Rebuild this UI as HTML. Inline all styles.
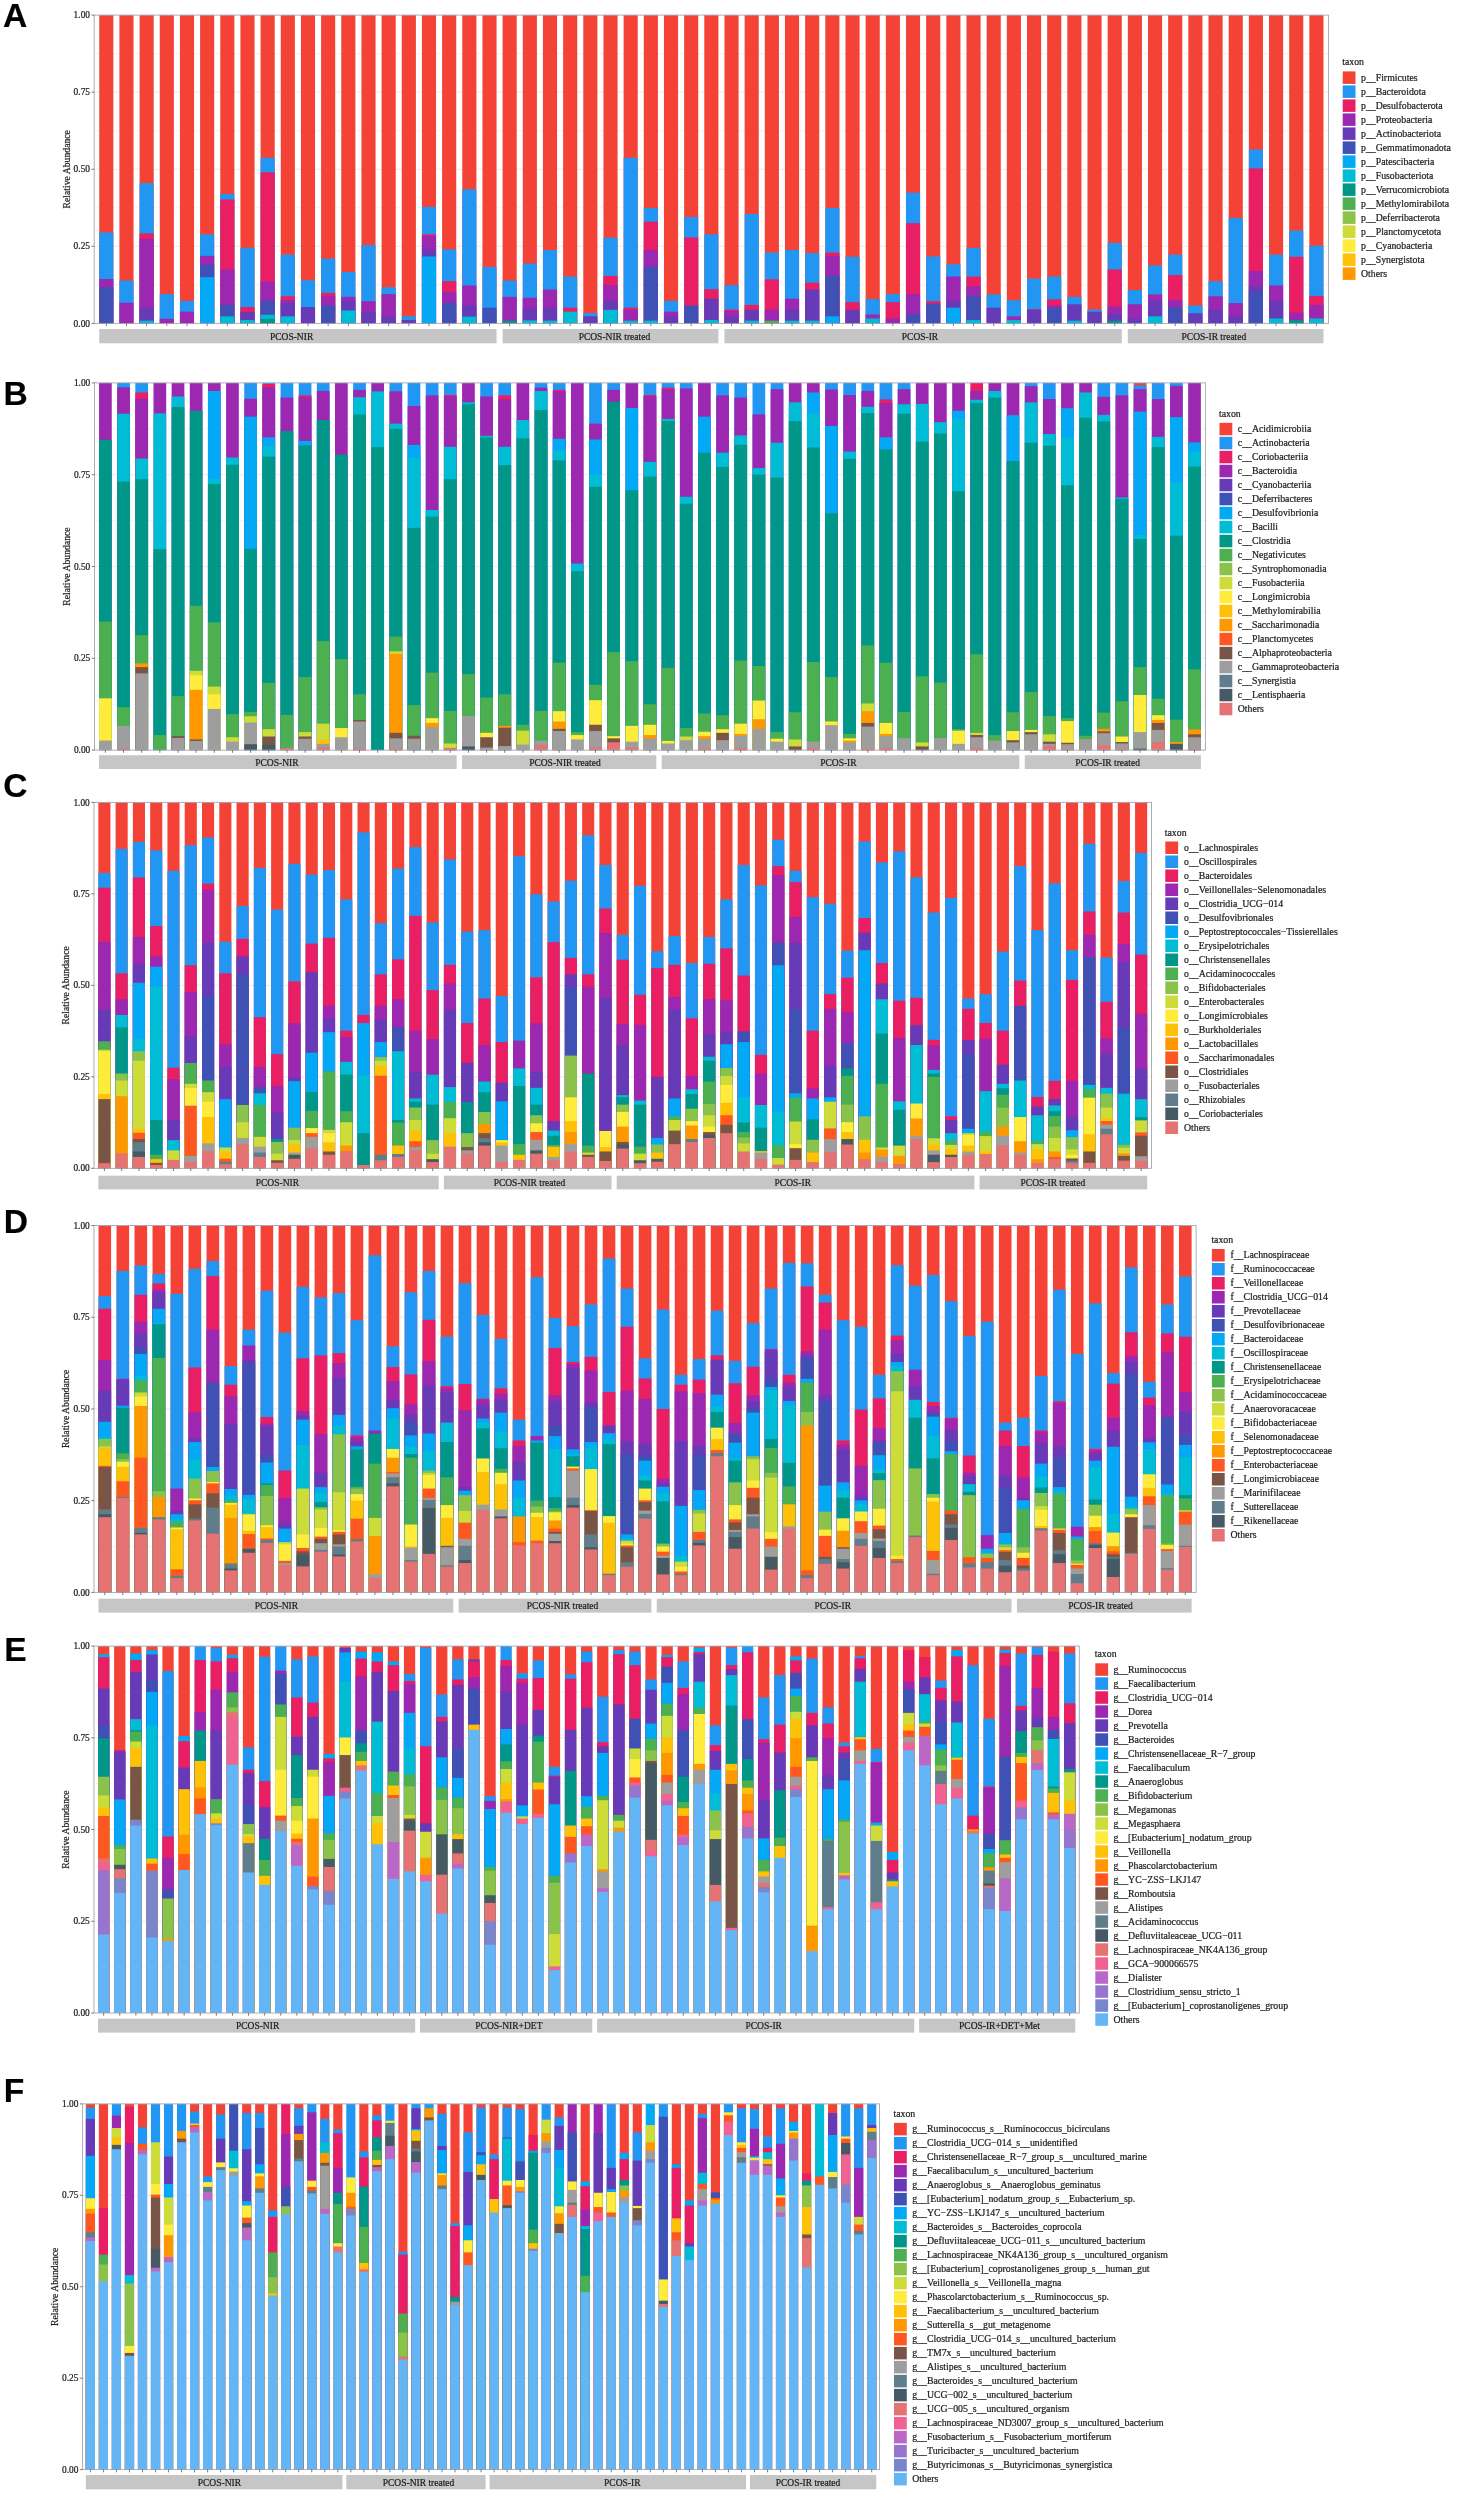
<!DOCTYPE html>
<html><head><meta charset="utf-8"><title>Relative abundance</title>
<style>
html,body{margin:0;padding:0;background:#fff;}
body{width:1461px;height:2500px;overflow:hidden;}
svg{display:block;font-family:"Liberation Serif", serif;will-change:transform;}
text{stroke:#1e1e1e;stroke-width:0.22px;}
</style></head>
<body>
<svg width="1461" height="2500" viewBox="0 0 1461 2500">
<rect x="0" y="0" width="1461" height="2500" fill="#fff"/>
<line x1="94.2" y1="284.86" x2="1328.5" y2="284.86" stroke="#e6e6e6" stroke-width="0.5"/>
<line x1="94.2" y1="246.32" x2="1328.5" y2="246.32" stroke="#e6e6e6" stroke-width="0.8"/>
<line x1="94.2" y1="207.79" x2="1328.5" y2="207.79" stroke="#e6e6e6" stroke-width="0.5"/>
<line x1="94.2" y1="169.25" x2="1328.5" y2="169.25" stroke="#e6e6e6" stroke-width="0.8"/>
<line x1="94.2" y1="130.71" x2="1328.5" y2="130.71" stroke="#e6e6e6" stroke-width="0.5"/>
<line x1="94.2" y1="92.18" x2="1328.5" y2="92.18" stroke="#e6e6e6" stroke-width="0.8"/>
<line x1="94.2" y1="53.64" x2="1328.5" y2="53.64" stroke="#e6e6e6" stroke-width="0.5"/>
<rect x="99.24" y="15.1" width="14.12" height="308.3" fill="#F44336"/>
<rect x="99.24" y="232.45" width="14.12" height="90.95" fill="#2196F3"/>
<rect x="99.24" y="279" width="14.12" height="44.4" fill="#9C27B0"/>
<rect x="99.24" y="287.33" width="14.12" height="36.07" fill="#3F51B5"/>
<rect x="119.41" y="15.1" width="14.12" height="308.3" fill="#F44336"/>
<rect x="119.41" y="280.55" width="14.12" height="42.85" fill="#2196F3"/>
<rect x="119.41" y="302.74" width="14.12" height="20.66" fill="#9C27B0"/>
<rect x="139.58" y="15.1" width="14.12" height="308.3" fill="#F44336"/>
<rect x="139.58" y="183.12" width="14.12" height="140.28" fill="#2196F3"/>
<rect x="139.58" y="233.38" width="14.12" height="90.02" fill="#E91E63"/>
<rect x="139.58" y="238.93" width="14.12" height="84.47" fill="#9C27B0"/>
<rect x="139.58" y="307.98" width="14.12" height="15.42" fill="#673AB7"/>
<rect x="139.58" y="320.63" width="14.12" height="2.77" fill="#00BCD4"/>
<rect x="159.75" y="15.1" width="14.12" height="308.3" fill="#F44336"/>
<rect x="159.75" y="294.11" width="14.12" height="29.29" fill="#2196F3"/>
<rect x="159.75" y="318.78" width="14.12" height="4.62" fill="#9C27B0"/>
<rect x="179.92" y="15.1" width="14.12" height="308.3" fill="#F44336"/>
<rect x="179.92" y="300.89" width="14.12" height="22.51" fill="#2196F3"/>
<rect x="179.92" y="311.68" width="14.12" height="11.72" fill="#9C27B0"/>
<rect x="200.08" y="15.1" width="14.12" height="308.3" fill="#F44336"/>
<rect x="200.08" y="234.3" width="14.12" height="89.1" fill="#2196F3"/>
<rect x="200.08" y="255.88" width="14.12" height="67.52" fill="#9C27B0"/>
<rect x="200.08" y="264.82" width="14.12" height="58.58" fill="#3F51B5"/>
<rect x="200.08" y="277.15" width="14.12" height="46.25" fill="#03A9F4"/>
<rect x="220.25" y="15.1" width="14.12" height="308.3" fill="#F44336"/>
<rect x="220.25" y="193.91" width="14.12" height="129.49" fill="#2196F3"/>
<rect x="220.25" y="199.46" width="14.12" height="123.94" fill="#E91E63"/>
<rect x="220.25" y="269.45" width="14.12" height="53.95" fill="#9C27B0"/>
<rect x="220.25" y="304.9" width="14.12" height="18.5" fill="#3F51B5"/>
<rect x="220.25" y="316.31" width="14.12" height="7.09" fill="#00BCD4"/>
<rect x="240.42" y="15.1" width="14.12" height="308.3" fill="#F44336"/>
<rect x="240.42" y="247.87" width="14.12" height="75.53" fill="#2196F3"/>
<rect x="240.42" y="307.06" width="14.12" height="16.34" fill="#E91E63"/>
<rect x="240.42" y="311.99" width="14.12" height="11.41" fill="#673AB7"/>
<rect x="240.42" y="320.01" width="14.12" height="3.39" fill="#00BCD4"/>
<rect x="260.59" y="15.1" width="14.12" height="308.3" fill="#F44336"/>
<rect x="260.59" y="157.84" width="14.12" height="165.56" fill="#2196F3"/>
<rect x="260.59" y="172.33" width="14.12" height="151.07" fill="#E91E63"/>
<rect x="260.59" y="281.78" width="14.12" height="41.62" fill="#9C27B0"/>
<rect x="260.59" y="300.89" width="14.12" height="22.51" fill="#3F51B5"/>
<rect x="260.59" y="314.77" width="14.12" height="8.63" fill="#00BCD4"/>
<rect x="260.59" y="318.78" width="14.12" height="4.62" fill="#009688"/>
<rect x="280.76" y="15.1" width="14.12" height="308.3" fill="#F44336"/>
<rect x="280.76" y="254.65" width="14.12" height="68.75" fill="#2196F3"/>
<rect x="280.76" y="296.27" width="14.12" height="27.13" fill="#E91E63"/>
<rect x="280.76" y="300.28" width="14.12" height="23.12" fill="#9C27B0"/>
<rect x="280.76" y="302.74" width="14.12" height="20.66" fill="#673AB7"/>
<rect x="280.76" y="316.31" width="14.12" height="7.09" fill="#00BCD4"/>
<rect x="300.93" y="15.1" width="14.12" height="308.3" fill="#F44336"/>
<rect x="300.93" y="280.24" width="14.12" height="43.16" fill="#2196F3"/>
<rect x="300.93" y="307.06" width="14.12" height="16.34" fill="#673AB7"/>
<rect x="321.09" y="15.1" width="14.12" height="308.3" fill="#F44336"/>
<rect x="321.09" y="258.66" width="14.12" height="64.74" fill="#2196F3"/>
<rect x="321.09" y="292.88" width="14.12" height="30.52" fill="#E91E63"/>
<rect x="321.09" y="296.27" width="14.12" height="27.13" fill="#9C27B0"/>
<rect x="321.09" y="305.52" width="14.12" height="17.88" fill="#3F51B5"/>
<rect x="341.26" y="15.1" width="14.12" height="308.3" fill="#F44336"/>
<rect x="341.26" y="271.91" width="14.12" height="51.49" fill="#2196F3"/>
<rect x="341.26" y="296.89" width="14.12" height="26.51" fill="#9C27B0"/>
<rect x="341.26" y="300.89" width="14.12" height="22.51" fill="#673AB7"/>
<rect x="341.26" y="310.45" width="14.12" height="12.95" fill="#00BCD4"/>
<rect x="361.43" y="15.1" width="14.12" height="308.3" fill="#F44336"/>
<rect x="361.43" y="245.09" width="14.12" height="78.31" fill="#2196F3"/>
<rect x="361.43" y="301.2" width="14.12" height="22.2" fill="#9C27B0"/>
<rect x="361.43" y="311.99" width="14.12" height="11.41" fill="#673AB7"/>
<rect x="381.6" y="15.1" width="14.12" height="308.3" fill="#F44336"/>
<rect x="381.6" y="287.33" width="14.12" height="36.07" fill="#2196F3"/>
<rect x="381.6" y="294.11" width="14.12" height="29.29" fill="#9C27B0"/>
<rect x="381.6" y="316.62" width="14.12" height="6.78" fill="#673AB7"/>
<rect x="401.77" y="15.1" width="14.12" height="308.3" fill="#F44336"/>
<rect x="401.77" y="316.31" width="14.12" height="7.09" fill="#2196F3"/>
<rect x="401.77" y="320.01" width="14.12" height="3.39" fill="#673AB7"/>
<rect x="421.93" y="15.1" width="14.12" height="308.3" fill="#F44336"/>
<rect x="421.93" y="206.86" width="14.12" height="116.54" fill="#2196F3"/>
<rect x="421.93" y="234.3" width="14.12" height="89.1" fill="#E91E63"/>
<rect x="421.93" y="235.84" width="14.12" height="87.56" fill="#9C27B0"/>
<rect x="421.93" y="249.41" width="14.12" height="73.99" fill="#673AB7"/>
<rect x="421.93" y="256.5" width="14.12" height="66.9" fill="#03A9F4"/>
<rect x="442.1" y="15.1" width="14.12" height="308.3" fill="#F44336"/>
<rect x="442.1" y="249.41" width="14.12" height="73.99" fill="#2196F3"/>
<rect x="442.1" y="281.16" width="14.12" height="42.24" fill="#E91E63"/>
<rect x="442.1" y="291.95" width="14.12" height="31.45" fill="#9C27B0"/>
<rect x="442.1" y="303.05" width="14.12" height="20.35" fill="#3F51B5"/>
<rect x="462.27" y="15.1" width="14.12" height="308.3" fill="#F44336"/>
<rect x="462.27" y="189.29" width="14.12" height="134.11" fill="#2196F3"/>
<rect x="462.27" y="285.48" width="14.12" height="37.92" fill="#9C27B0"/>
<rect x="462.27" y="305.52" width="14.12" height="17.88" fill="#673AB7"/>
<rect x="462.27" y="316.62" width="14.12" height="6.78" fill="#00BCD4"/>
<rect x="482.44" y="15.1" width="14.12" height="308.3" fill="#F44336"/>
<rect x="482.44" y="266.98" width="14.12" height="56.42" fill="#2196F3"/>
<rect x="482.44" y="307.68" width="14.12" height="15.72" fill="#3F51B5"/>
<rect x="502.61" y="15.1" width="14.12" height="308.3" fill="#F44336"/>
<rect x="502.61" y="280.55" width="14.12" height="42.85" fill="#2196F3"/>
<rect x="502.61" y="296.89" width="14.12" height="26.51" fill="#9C27B0"/>
<rect x="502.61" y="320.63" width="14.12" height="2.77" fill="#009688"/>
<rect x="522.78" y="15.1" width="14.12" height="308.3" fill="#F44336"/>
<rect x="522.78" y="263.59" width="14.12" height="59.81" fill="#2196F3"/>
<rect x="522.78" y="297.81" width="14.12" height="25.59" fill="#9C27B0"/>
<rect x="522.78" y="308.6" width="14.12" height="14.8" fill="#673AB7"/>
<rect x="522.78" y="320.32" width="14.12" height="3.08" fill="#00BCD4"/>
<rect x="542.94" y="15.1" width="14.12" height="308.3" fill="#F44336"/>
<rect x="542.94" y="250.02" width="14.12" height="73.38" fill="#2196F3"/>
<rect x="542.94" y="289.49" width="14.12" height="33.91" fill="#9C27B0"/>
<rect x="542.94" y="307.68" width="14.12" height="15.72" fill="#673AB7"/>
<rect x="542.94" y="320.63" width="14.12" height="2.77" fill="#00BCD4"/>
<rect x="563.11" y="15.1" width="14.12" height="308.3" fill="#F44336"/>
<rect x="563.11" y="276.54" width="14.12" height="46.86" fill="#2196F3"/>
<rect x="563.11" y="307.68" width="14.12" height="15.72" fill="#E91E63"/>
<rect x="563.11" y="311.68" width="14.12" height="11.72" fill="#00BCD4"/>
<rect x="583.28" y="15.1" width="14.12" height="308.3" fill="#F44336"/>
<rect x="583.28" y="313.23" width="14.12" height="10.17" fill="#2196F3"/>
<rect x="583.28" y="316.31" width="14.12" height="7.09" fill="#673AB7"/>
<rect x="603.45" y="15.1" width="14.12" height="308.3" fill="#F44336"/>
<rect x="603.45" y="237.69" width="14.12" height="85.71" fill="#2196F3"/>
<rect x="603.45" y="275.92" width="14.12" height="47.48" fill="#E91E63"/>
<rect x="603.45" y="285.17" width="14.12" height="38.23" fill="#9C27B0"/>
<rect x="603.45" y="300.89" width="14.12" height="22.51" fill="#673AB7"/>
<rect x="603.45" y="309.83" width="14.12" height="13.57" fill="#00BCD4"/>
<rect x="623.62" y="15.1" width="14.12" height="308.3" fill="#F44336"/>
<rect x="623.62" y="157.84" width="14.12" height="165.56" fill="#2196F3"/>
<rect x="623.62" y="307.68" width="14.12" height="15.72" fill="#E91E63"/>
<rect x="623.62" y="309.83" width="14.12" height="13.57" fill="#9C27B0"/>
<rect x="623.62" y="320.63" width="14.12" height="2.77" fill="#00BCD4"/>
<rect x="643.79" y="15.1" width="14.12" height="308.3" fill="#F44336"/>
<rect x="643.79" y="208.1" width="14.12" height="115.3" fill="#2196F3"/>
<rect x="643.79" y="221.66" width="14.12" height="101.74" fill="#E91E63"/>
<rect x="643.79" y="250.02" width="14.12" height="73.38" fill="#9C27B0"/>
<rect x="643.79" y="266.98" width="14.12" height="56.42" fill="#3F51B5"/>
<rect x="643.79" y="320.63" width="14.12" height="2.77" fill="#00BCD4"/>
<rect x="663.95" y="15.1" width="14.12" height="308.3" fill="#F44336"/>
<rect x="663.95" y="300.89" width="14.12" height="22.51" fill="#2196F3"/>
<rect x="663.95" y="311.68" width="14.12" height="11.72" fill="#9C27B0"/>
<rect x="663.95" y="316.62" width="14.12" height="6.78" fill="#673AB7"/>
<rect x="684.12" y="15.1" width="14.12" height="308.3" fill="#F44336"/>
<rect x="684.12" y="217.04" width="14.12" height="106.36" fill="#2196F3"/>
<rect x="684.12" y="237.38" width="14.12" height="86.02" fill="#E91E63"/>
<rect x="684.12" y="305.52" width="14.12" height="17.88" fill="#3F51B5"/>
<rect x="704.29" y="15.1" width="14.12" height="308.3" fill="#F44336"/>
<rect x="704.29" y="234.3" width="14.12" height="89.1" fill="#2196F3"/>
<rect x="704.29" y="289.18" width="14.12" height="34.22" fill="#E91E63"/>
<rect x="704.29" y="298.74" width="14.12" height="24.66" fill="#673AB7"/>
<rect x="704.29" y="320.01" width="14.12" height="3.39" fill="#00BCD4"/>
<rect x="724.46" y="15.1" width="14.12" height="308.3" fill="#F44336"/>
<rect x="724.46" y="285.17" width="14.12" height="38.23" fill="#2196F3"/>
<rect x="724.46" y="309.53" width="14.12" height="13.87" fill="#E91E63"/>
<rect x="724.46" y="311.07" width="14.12" height="12.33" fill="#9C27B0"/>
<rect x="724.46" y="316.62" width="14.12" height="6.78" fill="#673AB7"/>
<rect x="744.63" y="15.1" width="14.12" height="308.3" fill="#F44336"/>
<rect x="744.63" y="213.95" width="14.12" height="109.45" fill="#2196F3"/>
<rect x="744.63" y="304.9" width="14.12" height="18.5" fill="#E91E63"/>
<rect x="744.63" y="309.83" width="14.12" height="13.57" fill="#673AB7"/>
<rect x="744.63" y="320.63" width="14.12" height="2.77" fill="#00BCD4"/>
<rect x="764.8" y="15.1" width="14.12" height="308.3" fill="#F44336"/>
<rect x="764.8" y="252.49" width="14.12" height="70.91" fill="#2196F3"/>
<rect x="764.8" y="279.31" width="14.12" height="44.09" fill="#E91E63"/>
<rect x="764.8" y="309.53" width="14.12" height="13.87" fill="#9C27B0"/>
<rect x="764.8" y="320.63" width="14.12" height="2.77" fill="#4CAF50"/>
<rect x="784.96" y="15.1" width="14.12" height="308.3" fill="#F44336"/>
<rect x="784.96" y="250.02" width="14.12" height="73.38" fill="#2196F3"/>
<rect x="784.96" y="298.74" width="14.12" height="24.66" fill="#9C27B0"/>
<rect x="784.96" y="309.53" width="14.12" height="13.87" fill="#673AB7"/>
<rect x="784.96" y="320.63" width="14.12" height="2.77" fill="#00BCD4"/>
<rect x="805.13" y="15.1" width="14.12" height="308.3" fill="#F44336"/>
<rect x="805.13" y="253.11" width="14.12" height="70.29" fill="#2196F3"/>
<rect x="805.13" y="282.7" width="14.12" height="40.7" fill="#E91E63"/>
<rect x="805.13" y="289.49" width="14.12" height="33.91" fill="#673AB7"/>
<rect x="805.13" y="320.63" width="14.12" height="2.77" fill="#00BCD4"/>
<rect x="825.3" y="15.1" width="14.12" height="308.3" fill="#F44336"/>
<rect x="825.3" y="208.1" width="14.12" height="115.3" fill="#2196F3"/>
<rect x="825.3" y="252.49" width="14.12" height="70.91" fill="#E91E63"/>
<rect x="825.3" y="255.88" width="14.12" height="67.52" fill="#9C27B0"/>
<rect x="825.3" y="275.92" width="14.12" height="47.48" fill="#3F51B5"/>
<rect x="825.3" y="316.31" width="14.12" height="7.09" fill="#03A9F4"/>
<rect x="845.47" y="15.1" width="14.12" height="308.3" fill="#F44336"/>
<rect x="845.47" y="256.81" width="14.12" height="66.59" fill="#2196F3"/>
<rect x="845.47" y="302.13" width="14.12" height="21.27" fill="#E91E63"/>
<rect x="845.47" y="309.83" width="14.12" height="13.57" fill="#673AB7"/>
<rect x="865.64" y="15.1" width="14.12" height="308.3" fill="#F44336"/>
<rect x="865.64" y="299.04" width="14.12" height="24.36" fill="#2196F3"/>
<rect x="865.64" y="314.46" width="14.12" height="8.94" fill="#9C27B0"/>
<rect x="865.64" y="318.47" width="14.12" height="4.93" fill="#00BCD4"/>
<rect x="885.81" y="15.1" width="14.12" height="308.3" fill="#F44336"/>
<rect x="885.81" y="294.11" width="14.12" height="29.29" fill="#2196F3"/>
<rect x="885.81" y="302.13" width="14.12" height="21.27" fill="#E91E63"/>
<rect x="885.81" y="318.47" width="14.12" height="4.93" fill="#9C27B0"/>
<rect x="905.97" y="15.1" width="14.12" height="308.3" fill="#F44336"/>
<rect x="905.97" y="192.68" width="14.12" height="130.72" fill="#2196F3"/>
<rect x="905.97" y="223.2" width="14.12" height="100.2" fill="#E91E63"/>
<rect x="905.97" y="294.11" width="14.12" height="29.29" fill="#9C27B0"/>
<rect x="905.97" y="314.46" width="14.12" height="8.94" fill="#3F51B5"/>
<rect x="926.14" y="15.1" width="14.12" height="308.3" fill="#F44336"/>
<rect x="926.14" y="256.5" width="14.12" height="66.9" fill="#2196F3"/>
<rect x="926.14" y="301.2" width="14.12" height="22.2" fill="#E91E63"/>
<rect x="926.14" y="303.67" width="14.12" height="19.73" fill="#3F51B5"/>
<rect x="946.31" y="15.1" width="14.12" height="308.3" fill="#F44336"/>
<rect x="946.31" y="264.21" width="14.12" height="59.19" fill="#2196F3"/>
<rect x="946.31" y="276.54" width="14.12" height="46.86" fill="#9C27B0"/>
<rect x="946.31" y="300.89" width="14.12" height="22.51" fill="#673AB7"/>
<rect x="946.31" y="307.68" width="14.12" height="15.72" fill="#03A9F4"/>
<rect x="966.48" y="15.1" width="14.12" height="308.3" fill="#F44336"/>
<rect x="966.48" y="247.87" width="14.12" height="75.53" fill="#2196F3"/>
<rect x="966.48" y="276.54" width="14.12" height="46.86" fill="#E91E63"/>
<rect x="966.48" y="286.4" width="14.12" height="37" fill="#9C27B0"/>
<rect x="966.48" y="296.27" width="14.12" height="27.13" fill="#3F51B5"/>
<rect x="966.48" y="320.01" width="14.12" height="3.39" fill="#00BCD4"/>
<rect x="986.65" y="15.1" width="14.12" height="308.3" fill="#F44336"/>
<rect x="986.65" y="294.42" width="14.12" height="28.98" fill="#2196F3"/>
<rect x="986.65" y="307.68" width="14.12" height="15.72" fill="#673AB7"/>
<rect x="1006.82" y="15.1" width="14.12" height="308.3" fill="#F44336"/>
<rect x="1006.82" y="300.28" width="14.12" height="23.12" fill="#2196F3"/>
<rect x="1006.82" y="316.31" width="14.12" height="7.09" fill="#9C27B0"/>
<rect x="1006.82" y="320.01" width="14.12" height="3.39" fill="#00BCD4"/>
<rect x="1026.98" y="15.1" width="14.12" height="308.3" fill="#F44336"/>
<rect x="1026.98" y="278.7" width="14.12" height="44.7" fill="#2196F3"/>
<rect x="1026.98" y="309.22" width="14.12" height="14.18" fill="#E91E63"/>
<rect x="1026.98" y="309.83" width="14.12" height="13.57" fill="#673AB7"/>
<rect x="1047.15" y="15.1" width="14.12" height="308.3" fill="#F44336"/>
<rect x="1047.15" y="276.54" width="14.12" height="46.86" fill="#2196F3"/>
<rect x="1047.15" y="299.35" width="14.12" height="24.05" fill="#E91E63"/>
<rect x="1047.15" y="305.52" width="14.12" height="17.88" fill="#9C27B0"/>
<rect x="1047.15" y="307.68" width="14.12" height="15.72" fill="#3F51B5"/>
<rect x="1067.32" y="15.1" width="14.12" height="308.3" fill="#F44336"/>
<rect x="1067.32" y="296.89" width="14.12" height="26.51" fill="#2196F3"/>
<rect x="1067.32" y="304.29" width="14.12" height="19.11" fill="#673AB7"/>
<rect x="1067.32" y="320.63" width="14.12" height="2.77" fill="#00BCD4"/>
<rect x="1087.49" y="15.1" width="14.12" height="308.3" fill="#F44336"/>
<rect x="1087.49" y="309.53" width="14.12" height="13.87" fill="#2196F3"/>
<rect x="1087.49" y="311.68" width="14.12" height="11.72" fill="#673AB7"/>
<rect x="1107.66" y="15.1" width="14.12" height="308.3" fill="#F44336"/>
<rect x="1107.66" y="242.93" width="14.12" height="80.47" fill="#2196F3"/>
<rect x="1107.66" y="269.45" width="14.12" height="53.95" fill="#E91E63"/>
<rect x="1107.66" y="306.44" width="14.12" height="16.96" fill="#9C27B0"/>
<rect x="1107.66" y="313.84" width="14.12" height="9.56" fill="#673AB7"/>
<rect x="1107.66" y="320.63" width="14.12" height="2.77" fill="#009688"/>
<rect x="1127.83" y="15.1" width="14.12" height="308.3" fill="#F44336"/>
<rect x="1127.83" y="290.1" width="14.12" height="33.3" fill="#2196F3"/>
<rect x="1127.83" y="304.29" width="14.12" height="19.11" fill="#9C27B0"/>
<rect x="1127.83" y="318.47" width="14.12" height="4.93" fill="#673AB7"/>
<rect x="1147.99" y="15.1" width="14.12" height="308.3" fill="#F44336"/>
<rect x="1147.99" y="265.44" width="14.12" height="57.96" fill="#2196F3"/>
<rect x="1147.99" y="294.42" width="14.12" height="28.98" fill="#9C27B0"/>
<rect x="1147.99" y="300.89" width="14.12" height="22.51" fill="#673AB7"/>
<rect x="1147.99" y="316.31" width="14.12" height="7.09" fill="#00BCD4"/>
<rect x="1168.16" y="15.1" width="14.12" height="308.3" fill="#F44336"/>
<rect x="1168.16" y="254.65" width="14.12" height="68.75" fill="#2196F3"/>
<rect x="1168.16" y="275" width="14.12" height="48.4" fill="#E91E63"/>
<rect x="1168.16" y="299.66" width="14.12" height="23.74" fill="#9C27B0"/>
<rect x="1168.16" y="307.06" width="14.12" height="16.34" fill="#3F51B5"/>
<rect x="1188.33" y="15.1" width="14.12" height="308.3" fill="#F44336"/>
<rect x="1188.33" y="305.52" width="14.12" height="17.88" fill="#2196F3"/>
<rect x="1188.33" y="313.23" width="14.12" height="10.17" fill="#673AB7"/>
<rect x="1208.5" y="15.1" width="14.12" height="308.3" fill="#F44336"/>
<rect x="1208.5" y="281.16" width="14.12" height="42.24" fill="#2196F3"/>
<rect x="1208.5" y="296.27" width="14.12" height="27.13" fill="#9C27B0"/>
<rect x="1208.5" y="309.83" width="14.12" height="13.57" fill="#673AB7"/>
<rect x="1228.67" y="15.1" width="14.12" height="308.3" fill="#F44336"/>
<rect x="1228.67" y="217.96" width="14.12" height="105.44" fill="#2196F3"/>
<rect x="1228.67" y="303.05" width="14.12" height="20.35" fill="#9C27B0"/>
<rect x="1228.67" y="316.31" width="14.12" height="7.09" fill="#673AB7"/>
<rect x="1248.84" y="15.1" width="14.12" height="308.3" fill="#F44336"/>
<rect x="1248.84" y="149.52" width="14.12" height="173.88" fill="#2196F3"/>
<rect x="1248.84" y="168.33" width="14.12" height="155.07" fill="#E91E63"/>
<rect x="1248.84" y="270.99" width="14.12" height="52.41" fill="#9C27B0"/>
<rect x="1248.84" y="286.4" width="14.12" height="37" fill="#673AB7"/>
<rect x="1248.84" y="291.95" width="14.12" height="31.45" fill="#3F51B5"/>
<rect x="1269" y="15.1" width="14.12" height="308.3" fill="#F44336"/>
<rect x="1269" y="254.65" width="14.12" height="68.75" fill="#2196F3"/>
<rect x="1269" y="285.48" width="14.12" height="37.92" fill="#9C27B0"/>
<rect x="1269" y="300.89" width="14.12" height="22.51" fill="#673AB7"/>
<rect x="1269" y="318.47" width="14.12" height="4.93" fill="#00BCD4"/>
<rect x="1289.17" y="15.1" width="14.12" height="308.3" fill="#F44336"/>
<rect x="1289.17" y="230.6" width="14.12" height="92.8" fill="#2196F3"/>
<rect x="1289.17" y="256.81" width="14.12" height="66.59" fill="#E91E63"/>
<rect x="1289.17" y="312.61" width="14.12" height="10.79" fill="#9C27B0"/>
<rect x="1289.17" y="320.01" width="14.12" height="3.39" fill="#009688"/>
<rect x="1309.34" y="15.1" width="14.12" height="308.3" fill="#F44336"/>
<rect x="1309.34" y="245.71" width="14.12" height="77.69" fill="#2196F3"/>
<rect x="1309.34" y="295.96" width="14.12" height="27.44" fill="#E91E63"/>
<rect x="1309.34" y="304.9" width="14.12" height="18.5" fill="#9C27B0"/>
<rect x="1309.34" y="318.47" width="14.12" height="4.93" fill="#00BCD4"/>
<rect x="94.2" y="15.1" width="1234.3" height="308.3" fill="none" stroke="#a4a4b4" stroke-width="0.9"/>
<line x1="91.5" y1="323.4" x2="94.2" y2="323.4" stroke="#444" stroke-width="0.7"/>
<text x="90" y="326.5" text-anchor="end" font-size="9.4" fill="#1e1e1e">0.00</text>
<line x1="91.5" y1="246.32" x2="94.2" y2="246.32" stroke="#444" stroke-width="0.7"/>
<text x="90" y="249.42" text-anchor="end" font-size="9.4" fill="#1e1e1e">0.25</text>
<line x1="91.5" y1="169.25" x2="94.2" y2="169.25" stroke="#444" stroke-width="0.7"/>
<text x="90" y="172.35" text-anchor="end" font-size="9.4" fill="#1e1e1e">0.50</text>
<line x1="91.5" y1="92.18" x2="94.2" y2="92.18" stroke="#444" stroke-width="0.7"/>
<text x="90" y="95.28" text-anchor="end" font-size="9.4" fill="#1e1e1e">0.75</text>
<line x1="91.5" y1="15.1" x2="94.2" y2="15.1" stroke="#444" stroke-width="0.7"/>
<text x="90" y="18.2" text-anchor="end" font-size="9.4" fill="#1e1e1e">1.00</text>
<line x1="106.3" y1="323.4" x2="106.3" y2="326.1" stroke="#444" stroke-width="0.7"/>
<line x1="126.47" y1="323.4" x2="126.47" y2="326.1" stroke="#444" stroke-width="0.7"/>
<line x1="146.64" y1="323.4" x2="146.64" y2="326.1" stroke="#444" stroke-width="0.7"/>
<line x1="166.81" y1="323.4" x2="166.81" y2="326.1" stroke="#444" stroke-width="0.7"/>
<line x1="186.97" y1="323.4" x2="186.97" y2="326.1" stroke="#444" stroke-width="0.7"/>
<line x1="207.14" y1="323.4" x2="207.14" y2="326.1" stroke="#444" stroke-width="0.7"/>
<line x1="227.31" y1="323.4" x2="227.31" y2="326.1" stroke="#444" stroke-width="0.7"/>
<line x1="247.48" y1="323.4" x2="247.48" y2="326.1" stroke="#444" stroke-width="0.7"/>
<line x1="267.65" y1="323.4" x2="267.65" y2="326.1" stroke="#444" stroke-width="0.7"/>
<line x1="287.82" y1="323.4" x2="287.82" y2="326.1" stroke="#444" stroke-width="0.7"/>
<line x1="307.98" y1="323.4" x2="307.98" y2="326.1" stroke="#444" stroke-width="0.7"/>
<line x1="328.15" y1="323.4" x2="328.15" y2="326.1" stroke="#444" stroke-width="0.7"/>
<line x1="348.32" y1="323.4" x2="348.32" y2="326.1" stroke="#444" stroke-width="0.7"/>
<line x1="368.49" y1="323.4" x2="368.49" y2="326.1" stroke="#444" stroke-width="0.7"/>
<line x1="388.66" y1="323.4" x2="388.66" y2="326.1" stroke="#444" stroke-width="0.7"/>
<line x1="408.83" y1="323.4" x2="408.83" y2="326.1" stroke="#444" stroke-width="0.7"/>
<line x1="428.99" y1="323.4" x2="428.99" y2="326.1" stroke="#444" stroke-width="0.7"/>
<line x1="449.16" y1="323.4" x2="449.16" y2="326.1" stroke="#444" stroke-width="0.7"/>
<line x1="469.33" y1="323.4" x2="469.33" y2="326.1" stroke="#444" stroke-width="0.7"/>
<line x1="489.5" y1="323.4" x2="489.5" y2="326.1" stroke="#444" stroke-width="0.7"/>
<line x1="509.67" y1="323.4" x2="509.67" y2="326.1" stroke="#444" stroke-width="0.7"/>
<line x1="529.84" y1="323.4" x2="529.84" y2="326.1" stroke="#444" stroke-width="0.7"/>
<line x1="550" y1="323.4" x2="550" y2="326.1" stroke="#444" stroke-width="0.7"/>
<line x1="570.17" y1="323.4" x2="570.17" y2="326.1" stroke="#444" stroke-width="0.7"/>
<line x1="590.34" y1="323.4" x2="590.34" y2="326.1" stroke="#444" stroke-width="0.7"/>
<line x1="610.51" y1="323.4" x2="610.51" y2="326.1" stroke="#444" stroke-width="0.7"/>
<line x1="630.68" y1="323.4" x2="630.68" y2="326.1" stroke="#444" stroke-width="0.7"/>
<line x1="650.85" y1="323.4" x2="650.85" y2="326.1" stroke="#444" stroke-width="0.7"/>
<line x1="671.01" y1="323.4" x2="671.01" y2="326.1" stroke="#444" stroke-width="0.7"/>
<line x1="691.18" y1="323.4" x2="691.18" y2="326.1" stroke="#444" stroke-width="0.7"/>
<line x1="711.35" y1="323.4" x2="711.35" y2="326.1" stroke="#444" stroke-width="0.7"/>
<line x1="731.52" y1="323.4" x2="731.52" y2="326.1" stroke="#444" stroke-width="0.7"/>
<line x1="751.69" y1="323.4" x2="751.69" y2="326.1" stroke="#444" stroke-width="0.7"/>
<line x1="771.85" y1="323.4" x2="771.85" y2="326.1" stroke="#444" stroke-width="0.7"/>
<line x1="792.02" y1="323.4" x2="792.02" y2="326.1" stroke="#444" stroke-width="0.7"/>
<line x1="812.19" y1="323.4" x2="812.19" y2="326.1" stroke="#444" stroke-width="0.7"/>
<line x1="832.36" y1="323.4" x2="832.36" y2="326.1" stroke="#444" stroke-width="0.7"/>
<line x1="852.53" y1="323.4" x2="852.53" y2="326.1" stroke="#444" stroke-width="0.7"/>
<line x1="872.7" y1="323.4" x2="872.7" y2="326.1" stroke="#444" stroke-width="0.7"/>
<line x1="892.86" y1="323.4" x2="892.86" y2="326.1" stroke="#444" stroke-width="0.7"/>
<line x1="913.03" y1="323.4" x2="913.03" y2="326.1" stroke="#444" stroke-width="0.7"/>
<line x1="933.2" y1="323.4" x2="933.2" y2="326.1" stroke="#444" stroke-width="0.7"/>
<line x1="953.37" y1="323.4" x2="953.37" y2="326.1" stroke="#444" stroke-width="0.7"/>
<line x1="973.54" y1="323.4" x2="973.54" y2="326.1" stroke="#444" stroke-width="0.7"/>
<line x1="993.71" y1="323.4" x2="993.71" y2="326.1" stroke="#444" stroke-width="0.7"/>
<line x1="1013.87" y1="323.4" x2="1013.87" y2="326.1" stroke="#444" stroke-width="0.7"/>
<line x1="1034.04" y1="323.4" x2="1034.04" y2="326.1" stroke="#444" stroke-width="0.7"/>
<line x1="1054.21" y1="323.4" x2="1054.21" y2="326.1" stroke="#444" stroke-width="0.7"/>
<line x1="1074.38" y1="323.4" x2="1074.38" y2="326.1" stroke="#444" stroke-width="0.7"/>
<line x1="1094.55" y1="323.4" x2="1094.55" y2="326.1" stroke="#444" stroke-width="0.7"/>
<line x1="1114.72" y1="323.4" x2="1114.72" y2="326.1" stroke="#444" stroke-width="0.7"/>
<line x1="1134.88" y1="323.4" x2="1134.88" y2="326.1" stroke="#444" stroke-width="0.7"/>
<line x1="1155.05" y1="323.4" x2="1155.05" y2="326.1" stroke="#444" stroke-width="0.7"/>
<line x1="1175.22" y1="323.4" x2="1175.22" y2="326.1" stroke="#444" stroke-width="0.7"/>
<line x1="1195.39" y1="323.4" x2="1195.39" y2="326.1" stroke="#444" stroke-width="0.7"/>
<line x1="1215.56" y1="323.4" x2="1215.56" y2="326.1" stroke="#444" stroke-width="0.7"/>
<line x1="1235.73" y1="323.4" x2="1235.73" y2="326.1" stroke="#444" stroke-width="0.7"/>
<line x1="1255.89" y1="323.4" x2="1255.89" y2="326.1" stroke="#444" stroke-width="0.7"/>
<line x1="1276.06" y1="323.4" x2="1276.06" y2="326.1" stroke="#444" stroke-width="0.7"/>
<line x1="1296.23" y1="323.4" x2="1296.23" y2="326.1" stroke="#444" stroke-width="0.7"/>
<line x1="1316.4" y1="323.4" x2="1316.4" y2="326.1" stroke="#444" stroke-width="0.7"/>
<text x="69.5" y="169.25" text-anchor="middle" font-size="9.7" fill="#1e1e1e" transform="rotate(-90 69.5 169.25)">Relative Abundance</text>
<rect x="99.24" y="329" width="397.32" height="14.3" fill="#c6c6c6"/>
<text x="291.6" y="339.75" text-anchor="middle" font-size="9.5" fill="#1e1e1e">PCOS-NIR</text>
<rect x="502.61" y="329" width="215.8" height="14.3" fill="#c6c6c6"/>
<text x="614.4" y="339.75" text-anchor="middle" font-size="9.5" fill="#1e1e1e">PCOS-NIR treated</text>
<rect x="724.46" y="329" width="397.32" height="14.3" fill="#c6c6c6"/>
<text x="920" y="339.75" text-anchor="middle" font-size="9.5" fill="#1e1e1e">PCOS-IR</text>
<rect x="1127.83" y="329" width="195.63" height="14.3" fill="#c6c6c6"/>
<text x="1213.9" y="339.75" text-anchor="middle" font-size="9.5" fill="#1e1e1e">PCOS-IR treated</text>
<text x="1342.2" y="65.4" font-size="9.8" fill="#1e1e1e">taxon</text>
<rect x="1342.7" y="71.4" width="12.8" height="12.5" fill="#F44336"/>
<text x="1361" y="80.85" font-size="9.8" fill="#1e1e1e">p__Firmicutes</text>
<rect x="1342.7" y="85.4" width="12.8" height="12.5" fill="#2196F3"/>
<text x="1361" y="94.85" font-size="9.8" fill="#1e1e1e">p__Bacteroidota</text>
<rect x="1342.7" y="99.4" width="12.8" height="12.5" fill="#E91E63"/>
<text x="1361" y="108.85" font-size="9.8" fill="#1e1e1e">p__Desulfobacterota</text>
<rect x="1342.7" y="113.4" width="12.8" height="12.5" fill="#9C27B0"/>
<text x="1361" y="122.85" font-size="9.8" fill="#1e1e1e">p__Proteobacteria</text>
<rect x="1342.7" y="127.4" width="12.8" height="12.5" fill="#673AB7"/>
<text x="1361" y="136.85" font-size="9.8" fill="#1e1e1e">p__Actinobacteriota</text>
<rect x="1342.7" y="141.4" width="12.8" height="12.5" fill="#3F51B5"/>
<text x="1361" y="150.85" font-size="9.8" fill="#1e1e1e">p__Gemmatimonadota</text>
<rect x="1342.7" y="155.4" width="12.8" height="12.5" fill="#03A9F4"/>
<text x="1361" y="164.85" font-size="9.8" fill="#1e1e1e">p__Patescibacteria</text>
<rect x="1342.7" y="169.4" width="12.8" height="12.5" fill="#00BCD4"/>
<text x="1361" y="178.85" font-size="9.8" fill="#1e1e1e">p__Fusobacteriota</text>
<rect x="1342.7" y="183.4" width="12.8" height="12.5" fill="#009688"/>
<text x="1361" y="192.85" font-size="9.8" fill="#1e1e1e">p__Verrucomicrobiota</text>
<rect x="1342.7" y="197.4" width="12.8" height="12.5" fill="#4CAF50"/>
<text x="1361" y="206.85" font-size="9.8" fill="#1e1e1e">p__Methylomirabilota</text>
<rect x="1342.7" y="211.4" width="12.8" height="12.5" fill="#8BC34A"/>
<text x="1361" y="220.85" font-size="9.8" fill="#1e1e1e">p__Deferribacterota</text>
<rect x="1342.7" y="225.4" width="12.8" height="12.5" fill="#CDDC39"/>
<text x="1361" y="234.85" font-size="9.8" fill="#1e1e1e">p__Planctomycetota</text>
<rect x="1342.7" y="239.4" width="12.8" height="12.5" fill="#FFEB3B"/>
<text x="1361" y="248.85" font-size="9.8" fill="#1e1e1e">p__Cyanobacteria</text>
<rect x="1342.7" y="253.4" width="12.8" height="12.5" fill="#FFC107"/>
<text x="1361" y="262.85" font-size="9.8" fill="#1e1e1e">p__Synergistota</text>
<rect x="1342.7" y="267.4" width="12.8" height="12.5" fill="#FF9800"/>
<text x="1361" y="276.85" font-size="9.8" fill="#1e1e1e">Others</text>
<text x="3" y="27.2" font-family='"Liberation Sans", sans-serif' font-weight="bold" font-size="33.6" fill="#000">A</text>
<line x1="94.5" y1="704.2" x2="1205.4" y2="704.2" stroke="#e6e6e6" stroke-width="0.5"/>
<line x1="94.5" y1="658.3" x2="1205.4" y2="658.3" stroke="#e6e6e6" stroke-width="0.8"/>
<line x1="94.5" y1="612.4" x2="1205.4" y2="612.4" stroke="#e6e6e6" stroke-width="0.5"/>
<line x1="94.5" y1="566.5" x2="1205.4" y2="566.5" stroke="#e6e6e6" stroke-width="0.8"/>
<line x1="94.5" y1="520.6" x2="1205.4" y2="520.6" stroke="#e6e6e6" stroke-width="0.5"/>
<line x1="94.5" y1="474.7" x2="1205.4" y2="474.7" stroke="#e6e6e6" stroke-width="0.8"/>
<line x1="94.5" y1="428.8" x2="1205.4" y2="428.8" stroke="#e6e6e6" stroke-width="0.5"/>
<rect x="99.04" y="382.9" width="12.71" height="367.2" fill="#9C27B0"/>
<rect x="99.04" y="439.82" width="12.71" height="310.28" fill="#009688"/>
<rect x="99.04" y="621.58" width="12.71" height="128.52" fill="#4CAF50"/>
<rect x="99.04" y="698.32" width="12.71" height="51.78" fill="#FFEB3B"/>
<rect x="99.04" y="740.55" width="12.71" height="9.55" fill="#9E9E9E"/>
<rect x="117.19" y="382.9" width="12.71" height="367.2" fill="#2196F3"/>
<rect x="117.19" y="387.31" width="12.71" height="362.79" fill="#9C27B0"/>
<rect x="117.19" y="413.74" width="12.71" height="336.36" fill="#00BCD4"/>
<rect x="117.19" y="481.68" width="12.71" height="268.42" fill="#009688"/>
<rect x="117.19" y="707.14" width="12.71" height="42.96" fill="#4CAF50"/>
<rect x="117.19" y="725.86" width="12.71" height="24.24" fill="#9E9E9E"/>
<rect x="117.19" y="748.63" width="12.71" height="1.47" fill="#E57373"/>
<rect x="135.34" y="382.9" width="12.71" height="367.2" fill="#2196F3"/>
<rect x="135.34" y="392.45" width="12.71" height="357.65" fill="#E91E63"/>
<rect x="135.34" y="398.69" width="12.71" height="351.41" fill="#9C27B0"/>
<rect x="135.34" y="458.54" width="12.71" height="291.56" fill="#00BCD4"/>
<rect x="135.34" y="479.11" width="12.71" height="270.99" fill="#009688"/>
<rect x="135.34" y="635.17" width="12.71" height="114.93" fill="#4CAF50"/>
<rect x="135.34" y="663.44" width="12.71" height="86.66" fill="#FF9800"/>
<rect x="135.34" y="667.11" width="12.71" height="82.99" fill="#795548"/>
<rect x="135.34" y="673.36" width="12.71" height="76.74" fill="#9E9E9E"/>
<rect x="153.49" y="382.9" width="12.71" height="367.2" fill="#9C27B0"/>
<rect x="153.49" y="413.38" width="12.71" height="336.72" fill="#00BCD4"/>
<rect x="153.49" y="549.24" width="12.71" height="200.86" fill="#009688"/>
<rect x="153.49" y="735.04" width="12.71" height="15.06" fill="#4CAF50"/>
<rect x="171.65" y="382.9" width="12.71" height="367.2" fill="#9C27B0"/>
<rect x="171.65" y="396.49" width="12.71" height="353.61" fill="#00BCD4"/>
<rect x="171.65" y="407.14" width="12.71" height="342.96" fill="#009688"/>
<rect x="171.65" y="696.12" width="12.71" height="53.98" fill="#4CAF50"/>
<rect x="171.65" y="736.15" width="12.71" height="13.95" fill="#795548"/>
<rect x="171.65" y="737.98" width="12.71" height="12.12" fill="#9E9E9E"/>
<rect x="189.8" y="382.9" width="12.71" height="367.2" fill="#9C27B0"/>
<rect x="189.8" y="410.81" width="12.71" height="339.29" fill="#009688"/>
<rect x="189.8" y="605.79" width="12.71" height="144.31" fill="#4CAF50"/>
<rect x="189.8" y="670.78" width="12.71" height="79.32" fill="#CDDC39"/>
<rect x="189.8" y="675.19" width="12.71" height="74.91" fill="#FFEB3B"/>
<rect x="189.8" y="689.88" width="12.71" height="60.22" fill="#FF9800"/>
<rect x="189.8" y="739.45" width="12.71" height="10.65" fill="#795548"/>
<rect x="189.8" y="740.92" width="12.71" height="9.18" fill="#9E9E9E"/>
<rect x="207.95" y="382.9" width="12.71" height="367.2" fill="#9C27B0"/>
<rect x="207.95" y="390.98" width="12.71" height="359.12" fill="#03A9F4"/>
<rect x="207.95" y="479.11" width="12.71" height="270.99" fill="#00BCD4"/>
<rect x="207.95" y="483.88" width="12.71" height="266.22" fill="#009688"/>
<rect x="207.95" y="622.31" width="12.71" height="127.79" fill="#4CAF50"/>
<rect x="207.95" y="686.57" width="12.71" height="63.53" fill="#CDDC39"/>
<rect x="207.95" y="694.29" width="12.71" height="55.81" fill="#FFEB3B"/>
<rect x="207.95" y="708.97" width="12.71" height="41.13" fill="#9E9E9E"/>
<rect x="226.1" y="382.9" width="12.71" height="367.2" fill="#9C27B0"/>
<rect x="226.1" y="457.44" width="12.71" height="292.66" fill="#00BCD4"/>
<rect x="226.1" y="464.79" width="12.71" height="285.31" fill="#009688"/>
<rect x="226.1" y="714.11" width="12.71" height="35.99" fill="#4CAF50"/>
<rect x="226.1" y="737.25" width="12.71" height="12.85" fill="#CDDC39"/>
<rect x="226.1" y="741.65" width="12.71" height="8.45" fill="#9E9E9E"/>
<rect x="244.25" y="382.9" width="12.71" height="367.2" fill="#2196F3"/>
<rect x="244.25" y="398.69" width="12.71" height="351.41" fill="#9C27B0"/>
<rect x="244.25" y="416.68" width="12.71" height="333.42" fill="#03A9F4"/>
<rect x="244.25" y="548.87" width="12.71" height="201.23" fill="#009688"/>
<rect x="244.25" y="711.91" width="12.71" height="38.19" fill="#4CAF50"/>
<rect x="244.25" y="716.32" width="12.71" height="33.78" fill="#CDDC39"/>
<rect x="244.25" y="722.56" width="12.71" height="27.54" fill="#9E9E9E"/>
<rect x="244.25" y="744.22" width="12.71" height="5.88" fill="#455A64"/>
<rect x="262.41" y="382.9" width="12.71" height="367.2" fill="#2196F3"/>
<rect x="262.41" y="384" width="12.71" height="366.1" fill="#E91E63"/>
<rect x="262.41" y="387.31" width="12.71" height="362.79" fill="#9C27B0"/>
<rect x="262.41" y="437.25" width="12.71" height="312.85" fill="#03A9F4"/>
<rect x="262.41" y="446.06" width="12.71" height="304.04" fill="#00BCD4"/>
<rect x="262.41" y="456.71" width="12.71" height="293.39" fill="#009688"/>
<rect x="262.41" y="682.9" width="12.71" height="67.2" fill="#4CAF50"/>
<rect x="262.41" y="729.17" width="12.71" height="20.93" fill="#CDDC39"/>
<rect x="262.41" y="736.51" width="12.71" height="13.59" fill="#795548"/>
<rect x="262.41" y="744.96" width="12.71" height="5.14" fill="#455A64"/>
<rect x="280.56" y="382.9" width="12.71" height="367.2" fill="#2196F3"/>
<rect x="280.56" y="397.59" width="12.71" height="352.51" fill="#9C27B0"/>
<rect x="280.56" y="431" width="12.71" height="319.1" fill="#009688"/>
<rect x="280.56" y="714.85" width="12.71" height="35.25" fill="#4CAF50"/>
<rect x="280.56" y="747.9" width="12.71" height="2.2" fill="#E57373"/>
<rect x="298.71" y="382.9" width="12.71" height="367.2" fill="#2196F3"/>
<rect x="298.71" y="395.38" width="12.71" height="354.72" fill="#E91E63"/>
<rect x="298.71" y="397.22" width="12.71" height="352.88" fill="#9C27B0"/>
<rect x="298.71" y="440.92" width="12.71" height="309.18" fill="#03A9F4"/>
<rect x="298.71" y="445.32" width="12.71" height="304.78" fill="#009688"/>
<rect x="298.71" y="677.03" width="12.71" height="73.07" fill="#4CAF50"/>
<rect x="298.71" y="732.11" width="12.71" height="17.99" fill="#CDDC39"/>
<rect x="298.71" y="736.51" width="12.71" height="13.59" fill="#795548"/>
<rect x="298.71" y="738.72" width="12.71" height="11.38" fill="#9E9E9E"/>
<rect x="316.86" y="382.9" width="12.71" height="367.2" fill="#2196F3"/>
<rect x="316.86" y="390.98" width="12.71" height="359.12" fill="#9C27B0"/>
<rect x="316.86" y="419.99" width="12.71" height="330.11" fill="#009688"/>
<rect x="316.86" y="641.04" width="12.71" height="109.06" fill="#4CAF50"/>
<rect x="316.86" y="723.66" width="12.71" height="26.44" fill="#CDDC39"/>
<rect x="316.86" y="739.45" width="12.71" height="10.65" fill="#FFC107"/>
<rect x="316.86" y="743.86" width="12.71" height="6.24" fill="#9E9E9E"/>
<rect x="316.86" y="747.53" width="12.71" height="2.57" fill="#E57373"/>
<rect x="335.01" y="382.9" width="12.71" height="367.2" fill="#9C27B0"/>
<rect x="335.01" y="454.5" width="12.71" height="295.6" fill="#009688"/>
<rect x="335.01" y="659.03" width="12.71" height="91.07" fill="#4CAF50"/>
<rect x="335.01" y="728.07" width="12.71" height="22.03" fill="#FFEB3B"/>
<rect x="335.01" y="737.25" width="12.71" height="12.85" fill="#9E9E9E"/>
<rect x="353.17" y="382.9" width="12.71" height="367.2" fill="#2196F3"/>
<rect x="353.17" y="389.88" width="12.71" height="360.22" fill="#9C27B0"/>
<rect x="353.17" y="397.22" width="12.71" height="352.88" fill="#00BCD4"/>
<rect x="353.17" y="414.48" width="12.71" height="335.62" fill="#009688"/>
<rect x="353.17" y="694.29" width="12.71" height="55.81" fill="#4CAF50"/>
<rect x="353.17" y="719.99" width="12.71" height="30.11" fill="#795548"/>
<rect x="353.17" y="721.46" width="12.71" height="28.64" fill="#9E9E9E"/>
<rect x="353.17" y="748.63" width="12.71" height="1.47" fill="#E57373"/>
<rect x="371.32" y="382.9" width="12.71" height="367.2" fill="#9C27B0"/>
<rect x="371.32" y="391.35" width="12.71" height="358.75" fill="#00BCD4"/>
<rect x="371.32" y="447.16" width="12.71" height="302.94" fill="#009688"/>
<rect x="389.47" y="382.9" width="12.71" height="367.2" fill="#2196F3"/>
<rect x="389.47" y="391.35" width="12.71" height="358.75" fill="#9C27B0"/>
<rect x="389.47" y="423.66" width="12.71" height="326.44" fill="#00BCD4"/>
<rect x="389.47" y="428.8" width="12.71" height="321.3" fill="#009688"/>
<rect x="389.47" y="636.64" width="12.71" height="113.46" fill="#4CAF50"/>
<rect x="389.47" y="651.32" width="12.71" height="98.78" fill="#CDDC39"/>
<rect x="389.47" y="653.89" width="12.71" height="96.21" fill="#FF9800"/>
<rect x="389.47" y="732.84" width="12.71" height="17.26" fill="#795548"/>
<rect x="389.47" y="738.35" width="12.71" height="11.75" fill="#9E9E9E"/>
<rect x="389.47" y="748.63" width="12.71" height="1.47" fill="#E57373"/>
<rect x="407.62" y="382.9" width="12.71" height="367.2" fill="#2196F3"/>
<rect x="407.62" y="406.03" width="12.71" height="344.07" fill="#9C27B0"/>
<rect x="407.62" y="444.96" width="12.71" height="305.14" fill="#03A9F4"/>
<rect x="407.62" y="457.44" width="12.71" height="292.66" fill="#00BCD4"/>
<rect x="407.62" y="527.94" width="12.71" height="222.16" fill="#009688"/>
<rect x="407.62" y="704.93" width="12.71" height="45.17" fill="#4CAF50"/>
<rect x="407.62" y="735.78" width="12.71" height="14.32" fill="#795548"/>
<rect x="407.62" y="738.72" width="12.71" height="11.38" fill="#9E9E9E"/>
<rect x="425.77" y="382.9" width="12.71" height="367.2" fill="#2196F3"/>
<rect x="425.77" y="395.38" width="12.71" height="354.72" fill="#9C27B0"/>
<rect x="425.77" y="509.95" width="12.71" height="240.15" fill="#00BCD4"/>
<rect x="425.77" y="516.56" width="12.71" height="233.54" fill="#009688"/>
<rect x="425.77" y="672.62" width="12.71" height="77.48" fill="#4CAF50"/>
<rect x="425.77" y="718.15" width="12.71" height="31.95" fill="#FFEB3B"/>
<rect x="425.77" y="722.93" width="12.71" height="27.17" fill="#FF9800"/>
<rect x="425.77" y="726.97" width="12.71" height="23.13" fill="#9E9E9E"/>
<rect x="443.93" y="382.9" width="12.71" height="367.2" fill="#2196F3"/>
<rect x="443.93" y="395.02" width="12.71" height="355.08" fill="#E91E63"/>
<rect x="443.93" y="396.49" width="12.71" height="353.61" fill="#9C27B0"/>
<rect x="443.93" y="446.79" width="12.71" height="303.31" fill="#00BCD4"/>
<rect x="443.93" y="479.11" width="12.71" height="270.99" fill="#009688"/>
<rect x="443.93" y="710.81" width="12.71" height="39.29" fill="#4CAF50"/>
<rect x="443.93" y="743.49" width="12.71" height="6.61" fill="#CDDC39"/>
<rect x="443.93" y="747.9" width="12.71" height="2.2" fill="#E57373"/>
<rect x="462.08" y="382.9" width="12.71" height="367.2" fill="#9C27B0"/>
<rect x="462.08" y="402.36" width="12.71" height="347.74" fill="#00BCD4"/>
<rect x="462.08" y="404.2" width="12.71" height="345.9" fill="#009688"/>
<rect x="462.08" y="674.09" width="12.71" height="76.01" fill="#4CAF50"/>
<rect x="462.08" y="715.95" width="12.71" height="34.15" fill="#9E9E9E"/>
<rect x="462.08" y="746.43" width="12.71" height="3.67" fill="#455A64"/>
<rect x="480.23" y="382.9" width="12.71" height="367.2" fill="#2196F3"/>
<rect x="480.23" y="396.49" width="12.71" height="353.61" fill="#9C27B0"/>
<rect x="480.23" y="435.78" width="12.71" height="314.32" fill="#00BCD4"/>
<rect x="480.23" y="437.61" width="12.71" height="312.49" fill="#009688"/>
<rect x="480.23" y="697.59" width="12.71" height="52.51" fill="#4CAF50"/>
<rect x="480.23" y="732.84" width="12.71" height="17.26" fill="#FFEB3B"/>
<rect x="480.23" y="737.25" width="12.71" height="12.85" fill="#795548"/>
<rect x="480.23" y="747.53" width="12.71" height="2.57" fill="#9E9E9E"/>
<rect x="498.38" y="382.9" width="12.71" height="367.2" fill="#2196F3"/>
<rect x="498.38" y="395.38" width="12.71" height="354.72" fill="#E91E63"/>
<rect x="498.38" y="399.42" width="12.71" height="350.68" fill="#9C27B0"/>
<rect x="498.38" y="446.79" width="12.71" height="303.31" fill="#00BCD4"/>
<rect x="498.38" y="465.15" width="12.71" height="284.95" fill="#009688"/>
<rect x="498.38" y="694.29" width="12.71" height="55.81" fill="#4CAF50"/>
<rect x="498.38" y="725.86" width="12.71" height="24.24" fill="#FF9800"/>
<rect x="498.38" y="727.7" width="12.71" height="22.4" fill="#795548"/>
<rect x="498.38" y="746.06" width="12.71" height="4.04" fill="#9E9E9E"/>
<rect x="516.53" y="382.9" width="12.71" height="367.2" fill="#9C27B0"/>
<rect x="516.53" y="419.99" width="12.71" height="330.11" fill="#00BCD4"/>
<rect x="516.53" y="438.35" width="12.71" height="311.75" fill="#009688"/>
<rect x="516.53" y="724.76" width="12.71" height="25.34" fill="#4CAF50"/>
<rect x="516.53" y="730.64" width="12.71" height="19.46" fill="#CDDC39"/>
<rect x="516.53" y="744.59" width="12.71" height="5.51" fill="#9E9E9E"/>
<rect x="534.69" y="382.9" width="12.71" height="367.2" fill="#2196F3"/>
<rect x="534.69" y="387.67" width="12.71" height="362.43" fill="#9C27B0"/>
<rect x="534.69" y="390.98" width="12.71" height="359.12" fill="#00BCD4"/>
<rect x="534.69" y="410.07" width="12.71" height="340.03" fill="#009688"/>
<rect x="534.69" y="710.81" width="12.71" height="39.29" fill="#4CAF50"/>
<rect x="534.69" y="740.55" width="12.71" height="9.55" fill="#9E9E9E"/>
<rect x="534.69" y="744.96" width="12.71" height="5.14" fill="#E57373"/>
<rect x="552.84" y="382.9" width="12.71" height="367.2" fill="#2196F3"/>
<rect x="552.84" y="389.88" width="12.71" height="360.22" fill="#E91E63"/>
<rect x="552.84" y="391.35" width="12.71" height="358.75" fill="#9C27B0"/>
<rect x="552.84" y="438.71" width="12.71" height="311.39" fill="#03A9F4"/>
<rect x="552.84" y="450.46" width="12.71" height="299.64" fill="#00BCD4"/>
<rect x="552.84" y="460.38" width="12.71" height="289.72" fill="#009688"/>
<rect x="552.84" y="662.71" width="12.71" height="87.39" fill="#4CAF50"/>
<rect x="552.84" y="711.18" width="12.71" height="38.92" fill="#FFEB3B"/>
<rect x="552.84" y="721.46" width="12.71" height="28.64" fill="#FF9800"/>
<rect x="552.84" y="728.8" width="12.71" height="21.3" fill="#795548"/>
<rect x="552.84" y="731.01" width="12.71" height="19.09" fill="#9E9E9E"/>
<rect x="570.99" y="382.9" width="12.71" height="367.2" fill="#9C27B0"/>
<rect x="570.99" y="563.56" width="12.71" height="186.54" fill="#00BCD4"/>
<rect x="570.99" y="571.27" width="12.71" height="178.83" fill="#009688"/>
<rect x="570.99" y="732.11" width="12.71" height="17.99" fill="#4CAF50"/>
<rect x="570.99" y="735.04" width="12.71" height="15.06" fill="#FFEB3B"/>
<rect x="570.99" y="739.45" width="12.71" height="10.65" fill="#9E9E9E"/>
<rect x="589.14" y="382.9" width="12.71" height="367.2" fill="#2196F3"/>
<rect x="589.14" y="423.66" width="12.71" height="326.44" fill="#9C27B0"/>
<rect x="589.14" y="439.45" width="12.71" height="310.65" fill="#03A9F4"/>
<rect x="589.14" y="474.7" width="12.71" height="275.4" fill="#00BCD4"/>
<rect x="589.14" y="486.82" width="12.71" height="263.28" fill="#009688"/>
<rect x="589.14" y="684.74" width="12.71" height="65.36" fill="#4CAF50"/>
<rect x="589.14" y="700.16" width="12.71" height="49.94" fill="#FFEB3B"/>
<rect x="589.14" y="724.76" width="12.71" height="25.34" fill="#795548"/>
<rect x="589.14" y="731.01" width="12.71" height="19.09" fill="#9E9E9E"/>
<rect x="589.14" y="747.53" width="12.71" height="2.57" fill="#E57373"/>
<rect x="607.29" y="382.9" width="12.71" height="367.2" fill="#2196F3"/>
<rect x="607.29" y="389.88" width="12.71" height="360.22" fill="#9C27B0"/>
<rect x="607.29" y="401.63" width="12.71" height="348.47" fill="#009688"/>
<rect x="607.29" y="652.06" width="12.71" height="98.04" fill="#4CAF50"/>
<rect x="607.29" y="736.15" width="12.71" height="13.95" fill="#FFEB3B"/>
<rect x="607.29" y="738.35" width="12.71" height="11.75" fill="#795548"/>
<rect x="607.29" y="742.39" width="12.71" height="7.71" fill="#E57373"/>
<rect x="625.44" y="382.9" width="12.71" height="367.2" fill="#9C27B0"/>
<rect x="625.44" y="407.87" width="12.71" height="342.23" fill="#03A9F4"/>
<rect x="625.44" y="490.12" width="12.71" height="259.98" fill="#009688"/>
<rect x="625.44" y="661.24" width="12.71" height="88.86" fill="#4CAF50"/>
<rect x="625.44" y="725.86" width="12.71" height="24.24" fill="#FFEB3B"/>
<rect x="625.44" y="741.65" width="12.71" height="8.45" fill="#9E9E9E"/>
<rect x="625.44" y="747.53" width="12.71" height="2.57" fill="#E57373"/>
<rect x="643.6" y="382.9" width="12.71" height="367.2" fill="#2196F3"/>
<rect x="643.6" y="395.02" width="12.71" height="355.08" fill="#E91E63"/>
<rect x="643.6" y="396.49" width="12.71" height="353.61" fill="#9C27B0"/>
<rect x="643.6" y="461.85" width="12.71" height="288.25" fill="#00BCD4"/>
<rect x="643.6" y="476.54" width="12.71" height="273.56" fill="#009688"/>
<rect x="643.6" y="704.2" width="12.71" height="45.9" fill="#4CAF50"/>
<rect x="643.6" y="724.76" width="12.71" height="25.34" fill="#FFEB3B"/>
<rect x="643.6" y="735.04" width="12.71" height="15.06" fill="#FF9800"/>
<rect x="643.6" y="738.35" width="12.71" height="11.75" fill="#9E9E9E"/>
<rect x="661.75" y="382.9" width="12.71" height="367.2" fill="#2196F3"/>
<rect x="661.75" y="387.67" width="12.71" height="362.43" fill="#E91E63"/>
<rect x="661.75" y="389.51" width="12.71" height="360.59" fill="#9C27B0"/>
<rect x="661.75" y="418.89" width="12.71" height="331.21" fill="#00BCD4"/>
<rect x="661.75" y="421.09" width="12.71" height="329.01" fill="#009688"/>
<rect x="661.75" y="667.85" width="12.71" height="82.25" fill="#4CAF50"/>
<rect x="661.75" y="740.92" width="12.71" height="9.18" fill="#FFEB3B"/>
<rect x="661.75" y="743.49" width="12.71" height="6.61" fill="#9E9E9E"/>
<rect x="679.9" y="382.9" width="12.71" height="367.2" fill="#2196F3"/>
<rect x="679.9" y="388.41" width="12.71" height="361.69" fill="#9C27B0"/>
<rect x="679.9" y="496.73" width="12.71" height="253.37" fill="#00BCD4"/>
<rect x="679.9" y="503.71" width="12.71" height="246.39" fill="#009688"/>
<rect x="679.9" y="728.07" width="12.71" height="22.03" fill="#4CAF50"/>
<rect x="679.9" y="736.51" width="12.71" height="13.59" fill="#CDDC39"/>
<rect x="679.9" y="740.19" width="12.71" height="9.91" fill="#9E9E9E"/>
<rect x="698.05" y="382.9" width="12.71" height="367.2" fill="#9C27B0"/>
<rect x="698.05" y="416.68" width="12.71" height="333.42" fill="#03A9F4"/>
<rect x="698.05" y="452.67" width="12.71" height="297.43" fill="#009688"/>
<rect x="698.05" y="713.38" width="12.71" height="36.72" fill="#4CAF50"/>
<rect x="698.05" y="731.74" width="12.71" height="18.36" fill="#FFEB3B"/>
<rect x="698.05" y="736.15" width="12.71" height="13.95" fill="#FF9800"/>
<rect x="698.05" y="738.72" width="12.71" height="11.38" fill="#9E9E9E"/>
<rect x="698.05" y="748.63" width="12.71" height="1.47" fill="#E57373"/>
<rect x="716.2" y="382.9" width="12.71" height="367.2" fill="#2196F3"/>
<rect x="716.2" y="395.38" width="12.71" height="354.72" fill="#9C27B0"/>
<rect x="716.2" y="452.67" width="12.71" height="297.43" fill="#00BCD4"/>
<rect x="716.2" y="466.99" width="12.71" height="283.11" fill="#009688"/>
<rect x="716.2" y="715.22" width="12.71" height="34.88" fill="#4CAF50"/>
<rect x="716.2" y="729.17" width="12.71" height="20.93" fill="#FFEB3B"/>
<rect x="716.2" y="732.84" width="12.71" height="17.26" fill="#795548"/>
<rect x="716.2" y="740.19" width="12.71" height="9.91" fill="#9E9E9E"/>
<rect x="734.36" y="382.9" width="12.71" height="367.2" fill="#2196F3"/>
<rect x="734.36" y="397.59" width="12.71" height="352.51" fill="#9C27B0"/>
<rect x="734.36" y="435.41" width="12.71" height="314.69" fill="#00BCD4"/>
<rect x="734.36" y="444.96" width="12.71" height="305.14" fill="#009688"/>
<rect x="734.36" y="660.5" width="12.71" height="89.6" fill="#4CAF50"/>
<rect x="734.36" y="723.66" width="12.71" height="26.44" fill="#FFEB3B"/>
<rect x="734.36" y="733.94" width="12.71" height="16.16" fill="#FF9800"/>
<rect x="734.36" y="735.78" width="12.71" height="14.32" fill="#9E9E9E"/>
<rect x="734.36" y="747.9" width="12.71" height="2.2" fill="#E57373"/>
<rect x="752.51" y="382.9" width="12.71" height="367.2" fill="#2196F3"/>
<rect x="752.51" y="414.48" width="12.71" height="335.62" fill="#9C27B0"/>
<rect x="752.51" y="468.09" width="12.71" height="282.01" fill="#00BCD4"/>
<rect x="752.51" y="474.7" width="12.71" height="275.4" fill="#009688"/>
<rect x="752.51" y="666.01" width="12.71" height="84.09" fill="#4CAF50"/>
<rect x="752.51" y="700.53" width="12.71" height="49.57" fill="#FFEB3B"/>
<rect x="752.51" y="719.26" width="12.71" height="30.84" fill="#FF9800"/>
<rect x="752.51" y="728.8" width="12.71" height="21.3" fill="#9E9E9E"/>
<rect x="770.66" y="382.9" width="12.71" height="367.2" fill="#2196F3"/>
<rect x="770.66" y="389.14" width="12.71" height="360.96" fill="#9C27B0"/>
<rect x="770.66" y="442.75" width="12.71" height="307.35" fill="#00BCD4"/>
<rect x="770.66" y="477.64" width="12.71" height="272.46" fill="#009688"/>
<rect x="770.66" y="732.11" width="12.71" height="17.99" fill="#4CAF50"/>
<rect x="770.66" y="738.72" width="12.71" height="11.38" fill="#FFEB3B"/>
<rect x="770.66" y="741.65" width="12.71" height="8.45" fill="#9E9E9E"/>
<rect x="788.81" y="382.9" width="12.71" height="367.2" fill="#9C27B0"/>
<rect x="788.81" y="402.36" width="12.71" height="347.74" fill="#00BCD4"/>
<rect x="788.81" y="421.09" width="12.71" height="329.01" fill="#009688"/>
<rect x="788.81" y="712.28" width="12.71" height="37.82" fill="#4CAF50"/>
<rect x="788.81" y="739.45" width="12.71" height="10.65" fill="#CDDC39"/>
<rect x="788.81" y="746.43" width="12.71" height="3.67" fill="#795548"/>
<rect x="806.96" y="382.9" width="12.71" height="367.2" fill="#9C27B0"/>
<rect x="806.96" y="392.45" width="12.71" height="357.65" fill="#03A9F4"/>
<rect x="806.96" y="413.38" width="12.71" height="336.72" fill="#00BCD4"/>
<rect x="806.96" y="447.53" width="12.71" height="302.57" fill="#009688"/>
<rect x="806.96" y="661.97" width="12.71" height="88.13" fill="#4CAF50"/>
<rect x="806.96" y="741.65" width="12.71" height="8.45" fill="#9E9E9E"/>
<rect x="806.96" y="747.9" width="12.71" height="2.2" fill="#E57373"/>
<rect x="825.12" y="382.9" width="12.71" height="367.2" fill="#2196F3"/>
<rect x="825.12" y="389.51" width="12.71" height="360.59" fill="#9C27B0"/>
<rect x="825.12" y="425.86" width="12.71" height="324.24" fill="#03A9F4"/>
<rect x="825.12" y="513.26" width="12.71" height="236.84" fill="#009688"/>
<rect x="825.12" y="677.03" width="12.71" height="73.07" fill="#4CAF50"/>
<rect x="825.12" y="721.46" width="12.71" height="28.64" fill="#FFEB3B"/>
<rect x="825.12" y="725.13" width="12.71" height="24.97" fill="#9E9E9E"/>
<rect x="843.27" y="382.9" width="12.71" height="367.2" fill="#2196F3"/>
<rect x="843.27" y="395.02" width="12.71" height="355.08" fill="#9C27B0"/>
<rect x="843.27" y="451.57" width="12.71" height="298.53" fill="#00BCD4"/>
<rect x="843.27" y="458.91" width="12.71" height="291.19" fill="#009688"/>
<rect x="843.27" y="733.94" width="12.71" height="16.16" fill="#4CAF50"/>
<rect x="843.27" y="738.35" width="12.71" height="11.75" fill="#FFEB3B"/>
<rect x="843.27" y="740.55" width="12.71" height="9.55" fill="#FF9800"/>
<rect x="843.27" y="742.39" width="12.71" height="7.71" fill="#9E9E9E"/>
<rect x="861.42" y="382.9" width="12.71" height="367.2" fill="#2196F3"/>
<rect x="861.42" y="390.98" width="12.71" height="359.12" fill="#9C27B0"/>
<rect x="861.42" y="406.77" width="12.71" height="343.33" fill="#00BCD4"/>
<rect x="861.42" y="413.01" width="12.71" height="337.09" fill="#009688"/>
<rect x="861.42" y="645.45" width="12.71" height="104.65" fill="#4CAF50"/>
<rect x="861.42" y="703.47" width="12.71" height="46.63" fill="#CDDC39"/>
<rect x="861.42" y="711.18" width="12.71" height="38.92" fill="#FF9800"/>
<rect x="861.42" y="722.93" width="12.71" height="27.17" fill="#795548"/>
<rect x="861.42" y="726.6" width="12.71" height="23.5" fill="#9E9E9E"/>
<rect x="861.42" y="748.63" width="12.71" height="1.47" fill="#E57373"/>
<rect x="879.57" y="382.9" width="12.71" height="367.2" fill="#2196F3"/>
<rect x="879.57" y="399.42" width="12.71" height="350.68" fill="#E91E63"/>
<rect x="879.57" y="403.1" width="12.71" height="347" fill="#9C27B0"/>
<rect x="879.57" y="437.25" width="12.71" height="312.85" fill="#03A9F4"/>
<rect x="879.57" y="449.36" width="12.71" height="300.74" fill="#009688"/>
<rect x="879.57" y="662.71" width="12.71" height="87.39" fill="#4CAF50"/>
<rect x="879.57" y="722.93" width="12.71" height="27.17" fill="#FFEB3B"/>
<rect x="879.57" y="733.94" width="12.71" height="16.16" fill="#FF9800"/>
<rect x="879.57" y="736.15" width="12.71" height="13.95" fill="#9E9E9E"/>
<rect x="879.57" y="747.9" width="12.71" height="2.2" fill="#E57373"/>
<rect x="897.72" y="382.9" width="12.71" height="367.2" fill="#2196F3"/>
<rect x="897.72" y="389.14" width="12.71" height="360.96" fill="#9C27B0"/>
<rect x="897.72" y="404.2" width="12.71" height="345.9" fill="#00BCD4"/>
<rect x="897.72" y="413.74" width="12.71" height="336.36" fill="#009688"/>
<rect x="897.72" y="711.91" width="12.71" height="38.19" fill="#4CAF50"/>
<rect x="897.72" y="738.35" width="12.71" height="11.75" fill="#9E9E9E"/>
<rect x="915.88" y="382.9" width="12.71" height="367.2" fill="#9C27B0"/>
<rect x="915.88" y="403.83" width="12.71" height="346.27" fill="#00BCD4"/>
<rect x="915.88" y="441.65" width="12.71" height="308.45" fill="#009688"/>
<rect x="915.88" y="676.29" width="12.71" height="73.81" fill="#4CAF50"/>
<rect x="915.88" y="742.39" width="12.71" height="7.71" fill="#CDDC39"/>
<rect x="915.88" y="746.43" width="12.71" height="3.67" fill="#795548"/>
<rect x="934.03" y="382.9" width="12.71" height="367.2" fill="#9C27B0"/>
<rect x="934.03" y="422.19" width="12.71" height="327.91" fill="#00BCD4"/>
<rect x="934.03" y="433.57" width="12.71" height="316.53" fill="#009688"/>
<rect x="934.03" y="682.54" width="12.71" height="67.56" fill="#4CAF50"/>
<rect x="934.03" y="737.98" width="12.71" height="12.12" fill="#9E9E9E"/>
<rect x="952.18" y="382.9" width="12.71" height="367.2" fill="#9C27B0"/>
<rect x="952.18" y="410.81" width="12.71" height="339.29" fill="#03A9F4"/>
<rect x="952.18" y="418.89" width="12.71" height="331.21" fill="#00BCD4"/>
<rect x="952.18" y="491.22" width="12.71" height="258.88" fill="#009688"/>
<rect x="952.18" y="729.54" width="12.71" height="20.56" fill="#8BC34A"/>
<rect x="952.18" y="731.01" width="12.71" height="19.09" fill="#FFEB3B"/>
<rect x="952.18" y="743.86" width="12.71" height="6.24" fill="#9E9E9E"/>
<rect x="970.33" y="382.9" width="12.71" height="367.2" fill="#E91E63"/>
<rect x="970.33" y="390.98" width="12.71" height="359.12" fill="#9C27B0"/>
<rect x="970.33" y="399.79" width="12.71" height="350.31" fill="#00BCD4"/>
<rect x="970.33" y="403.1" width="12.71" height="347" fill="#009688"/>
<rect x="970.33" y="654.26" width="12.71" height="95.84" fill="#4CAF50"/>
<rect x="970.33" y="732.84" width="12.71" height="17.26" fill="#CDDC39"/>
<rect x="970.33" y="735.04" width="12.71" height="15.06" fill="#795548"/>
<rect x="970.33" y="737.25" width="12.71" height="12.85" fill="#9E9E9E"/>
<rect x="970.33" y="747.9" width="12.71" height="2.2" fill="#E57373"/>
<rect x="988.48" y="382.9" width="12.71" height="367.2" fill="#9C27B0"/>
<rect x="988.48" y="390.98" width="12.71" height="359.12" fill="#00BCD4"/>
<rect x="988.48" y="397.59" width="12.71" height="352.51" fill="#009688"/>
<rect x="988.48" y="735.04" width="12.71" height="15.06" fill="#4CAF50"/>
<rect x="988.48" y="740.55" width="12.71" height="9.55" fill="#9E9E9E"/>
<rect x="1006.64" y="382.9" width="12.71" height="367.2" fill="#9C27B0"/>
<rect x="1006.64" y="415.21" width="12.71" height="334.89" fill="#03A9F4"/>
<rect x="1006.64" y="461.11" width="12.71" height="288.99" fill="#009688"/>
<rect x="1006.64" y="712.28" width="12.71" height="37.82" fill="#4CAF50"/>
<rect x="1006.64" y="731.01" width="12.71" height="19.09" fill="#FFEB3B"/>
<rect x="1006.64" y="740.19" width="12.71" height="9.91" fill="#795548"/>
<rect x="1006.64" y="742.39" width="12.71" height="7.71" fill="#9E9E9E"/>
<rect x="1024.79" y="382.9" width="12.71" height="367.2" fill="#2196F3"/>
<rect x="1024.79" y="386.2" width="12.71" height="363.9" fill="#9C27B0"/>
<rect x="1024.79" y="402.36" width="12.71" height="347.74" fill="#00BCD4"/>
<rect x="1024.79" y="442.75" width="12.71" height="307.35" fill="#009688"/>
<rect x="1024.79" y="692.08" width="12.71" height="58.02" fill="#4CAF50"/>
<rect x="1024.79" y="729.9" width="12.71" height="20.2" fill="#FFEB3B"/>
<rect x="1024.79" y="732.11" width="12.71" height="17.99" fill="#795548"/>
<rect x="1024.79" y="734.31" width="12.71" height="15.79" fill="#9E9E9E"/>
<rect x="1042.94" y="382.9" width="12.71" height="367.2" fill="#2196F3"/>
<rect x="1042.94" y="399.06" width="12.71" height="351.04" fill="#9C27B0"/>
<rect x="1042.94" y="433.94" width="12.71" height="316.16" fill="#00BCD4"/>
<rect x="1042.94" y="445.69" width="12.71" height="304.41" fill="#009688"/>
<rect x="1042.94" y="715.95" width="12.71" height="34.15" fill="#4CAF50"/>
<rect x="1042.94" y="734.31" width="12.71" height="15.79" fill="#CDDC39"/>
<rect x="1042.94" y="741.65" width="12.71" height="8.45" fill="#795548"/>
<rect x="1042.94" y="743.86" width="12.71" height="6.24" fill="#9E9E9E"/>
<rect x="1042.94" y="746.06" width="12.71" height="4.04" fill="#E57373"/>
<rect x="1061.09" y="382.9" width="12.71" height="367.2" fill="#9C27B0"/>
<rect x="1061.09" y="408.24" width="12.71" height="341.86" fill="#03A9F4"/>
<rect x="1061.09" y="437.61" width="12.71" height="312.49" fill="#00BCD4"/>
<rect x="1061.09" y="485.35" width="12.71" height="264.75" fill="#009688"/>
<rect x="1061.09" y="718.15" width="12.71" height="31.95" fill="#4CAF50"/>
<rect x="1061.09" y="721.09" width="12.71" height="29.01" fill="#FFEB3B"/>
<rect x="1061.09" y="742.76" width="12.71" height="7.34" fill="#795548"/>
<rect x="1061.09" y="744.22" width="12.71" height="5.88" fill="#9E9E9E"/>
<rect x="1061.09" y="749" width="12.71" height="1.1" fill="#E57373"/>
<rect x="1079.24" y="382.9" width="12.71" height="367.2" fill="#9C27B0"/>
<rect x="1079.24" y="392.45" width="12.71" height="357.65" fill="#00BCD4"/>
<rect x="1079.24" y="417.78" width="12.71" height="332.32" fill="#009688"/>
<rect x="1079.24" y="735.78" width="12.71" height="14.32" fill="#4CAF50"/>
<rect x="1079.24" y="739.08" width="12.71" height="11.02" fill="#9E9E9E"/>
<rect x="1097.4" y="382.9" width="12.71" height="367.2" fill="#2196F3"/>
<rect x="1097.4" y="396.85" width="12.71" height="353.25" fill="#9C27B0"/>
<rect x="1097.4" y="414.85" width="12.71" height="335.25" fill="#00BCD4"/>
<rect x="1097.4" y="421.46" width="12.71" height="328.64" fill="#009688"/>
<rect x="1097.4" y="712.65" width="12.71" height="37.45" fill="#4CAF50"/>
<rect x="1097.4" y="728.8" width="12.71" height="21.3" fill="#FF9800"/>
<rect x="1097.4" y="731.37" width="12.71" height="18.73" fill="#795548"/>
<rect x="1097.4" y="733.21" width="12.71" height="16.89" fill="#9E9E9E"/>
<rect x="1097.4" y="745.33" width="12.71" height="4.77" fill="#E57373"/>
<rect x="1115.55" y="382.9" width="12.71" height="367.2" fill="#2196F3"/>
<rect x="1115.55" y="395.38" width="12.71" height="354.72" fill="#9C27B0"/>
<rect x="1115.55" y="497.47" width="12.71" height="252.63" fill="#00BCD4"/>
<rect x="1115.55" y="498.94" width="12.71" height="251.16" fill="#009688"/>
<rect x="1115.55" y="701.26" width="12.71" height="48.84" fill="#4CAF50"/>
<rect x="1115.55" y="736.51" width="12.71" height="13.59" fill="#FFEB3B"/>
<rect x="1115.55" y="742.02" width="12.71" height="8.08" fill="#795548"/>
<rect x="1115.55" y="743.49" width="12.71" height="6.61" fill="#9E9E9E"/>
<rect x="1115.55" y="748.63" width="12.71" height="1.47" fill="#E57373"/>
<rect x="1133.7" y="382.9" width="12.71" height="367.2" fill="#F44336"/>
<rect x="1133.7" y="385.47" width="12.71" height="364.63" fill="#2196F3"/>
<rect x="1133.7" y="389.14" width="12.71" height="360.96" fill="#9C27B0"/>
<rect x="1133.7" y="411.54" width="12.71" height="338.56" fill="#03A9F4"/>
<rect x="1133.7" y="534.92" width="12.71" height="215.18" fill="#00BCD4"/>
<rect x="1133.7" y="538.96" width="12.71" height="211.14" fill="#009688"/>
<rect x="1133.7" y="667.11" width="12.71" height="82.99" fill="#4CAF50"/>
<rect x="1133.7" y="695.02" width="12.71" height="55.08" fill="#FFEB3B"/>
<rect x="1133.7" y="732.11" width="12.71" height="17.99" fill="#9E9E9E"/>
<rect x="1133.7" y="748.63" width="12.71" height="1.47" fill="#455A64"/>
<rect x="1151.85" y="382.9" width="12.71" height="367.2" fill="#2196F3"/>
<rect x="1151.85" y="399.06" width="12.71" height="351.04" fill="#9C27B0"/>
<rect x="1151.85" y="436.88" width="12.71" height="313.22" fill="#00BCD4"/>
<rect x="1151.85" y="447.16" width="12.71" height="302.94" fill="#009688"/>
<rect x="1151.85" y="698.69" width="12.71" height="51.41" fill="#4CAF50"/>
<rect x="1151.85" y="715.22" width="12.71" height="34.88" fill="#FFEB3B"/>
<rect x="1151.85" y="719.99" width="12.71" height="30.11" fill="#FF9800"/>
<rect x="1151.85" y="722.93" width="12.71" height="27.17" fill="#795548"/>
<rect x="1151.85" y="729.9" width="12.71" height="20.2" fill="#9E9E9E"/>
<rect x="1151.85" y="742.02" width="12.71" height="8.08" fill="#E57373"/>
<rect x="1170" y="382.9" width="12.71" height="367.2" fill="#2196F3"/>
<rect x="1170" y="385.84" width="12.71" height="364.26" fill="#9C27B0"/>
<rect x="1170" y="417.05" width="12.71" height="333.05" fill="#03A9F4"/>
<rect x="1170" y="482.41" width="12.71" height="267.69" fill="#00BCD4"/>
<rect x="1170" y="535.66" width="12.71" height="214.44" fill="#009688"/>
<rect x="1170" y="719.62" width="12.71" height="30.48" fill="#4CAF50"/>
<rect x="1170" y="742.02" width="12.71" height="8.08" fill="#FF9800"/>
<rect x="1170" y="743.86" width="12.71" height="6.24" fill="#455A64"/>
<rect x="1188.16" y="382.9" width="12.71" height="367.2" fill="#9C27B0"/>
<rect x="1188.16" y="442.39" width="12.71" height="307.71" fill="#03A9F4"/>
<rect x="1188.16" y="451.57" width="12.71" height="298.53" fill="#00BCD4"/>
<rect x="1188.16" y="466.62" width="12.71" height="283.48" fill="#009688"/>
<rect x="1188.16" y="669.32" width="12.71" height="80.78" fill="#4CAF50"/>
<rect x="1188.16" y="729.54" width="12.71" height="20.56" fill="#FF9800"/>
<rect x="1188.16" y="734.31" width="12.71" height="15.79" fill="#795548"/>
<rect x="1188.16" y="737.25" width="12.71" height="12.85" fill="#9E9E9E"/>
<rect x="1188.16" y="749" width="12.71" height="1.1" fill="#E57373"/>
<rect x="94.5" y="382.9" width="1110.9" height="367.2" fill="none" stroke="#a4a4b4" stroke-width="0.9"/>
<line x1="91.8" y1="750.1" x2="94.5" y2="750.1" stroke="#444" stroke-width="0.7"/>
<text x="90.3" y="753.2" text-anchor="end" font-size="9.4" fill="#1e1e1e">0.00</text>
<line x1="91.8" y1="658.3" x2="94.5" y2="658.3" stroke="#444" stroke-width="0.7"/>
<text x="90.3" y="661.4" text-anchor="end" font-size="9.4" fill="#1e1e1e">0.25</text>
<line x1="91.8" y1="566.5" x2="94.5" y2="566.5" stroke="#444" stroke-width="0.7"/>
<text x="90.3" y="569.6" text-anchor="end" font-size="9.4" fill="#1e1e1e">0.50</text>
<line x1="91.8" y1="474.7" x2="94.5" y2="474.7" stroke="#444" stroke-width="0.7"/>
<text x="90.3" y="477.8" text-anchor="end" font-size="9.4" fill="#1e1e1e">0.75</text>
<line x1="91.8" y1="382.9" x2="94.5" y2="382.9" stroke="#444" stroke-width="0.7"/>
<text x="90.3" y="386" text-anchor="end" font-size="9.4" fill="#1e1e1e">1.00</text>
<line x1="105.39" y1="750.1" x2="105.39" y2="752.8" stroke="#444" stroke-width="0.7"/>
<line x1="123.54" y1="750.1" x2="123.54" y2="752.8" stroke="#444" stroke-width="0.7"/>
<line x1="141.7" y1="750.1" x2="141.7" y2="752.8" stroke="#444" stroke-width="0.7"/>
<line x1="159.85" y1="750.1" x2="159.85" y2="752.8" stroke="#444" stroke-width="0.7"/>
<line x1="178" y1="750.1" x2="178" y2="752.8" stroke="#444" stroke-width="0.7"/>
<line x1="196.15" y1="750.1" x2="196.15" y2="752.8" stroke="#444" stroke-width="0.7"/>
<line x1="214.3" y1="750.1" x2="214.3" y2="752.8" stroke="#444" stroke-width="0.7"/>
<line x1="232.45" y1="750.1" x2="232.45" y2="752.8" stroke="#444" stroke-width="0.7"/>
<line x1="250.61" y1="750.1" x2="250.61" y2="752.8" stroke="#444" stroke-width="0.7"/>
<line x1="268.76" y1="750.1" x2="268.76" y2="752.8" stroke="#444" stroke-width="0.7"/>
<line x1="286.91" y1="750.1" x2="286.91" y2="752.8" stroke="#444" stroke-width="0.7"/>
<line x1="305.06" y1="750.1" x2="305.06" y2="752.8" stroke="#444" stroke-width="0.7"/>
<line x1="323.21" y1="750.1" x2="323.21" y2="752.8" stroke="#444" stroke-width="0.7"/>
<line x1="341.37" y1="750.1" x2="341.37" y2="752.8" stroke="#444" stroke-width="0.7"/>
<line x1="359.52" y1="750.1" x2="359.52" y2="752.8" stroke="#444" stroke-width="0.7"/>
<line x1="377.67" y1="750.1" x2="377.67" y2="752.8" stroke="#444" stroke-width="0.7"/>
<line x1="395.82" y1="750.1" x2="395.82" y2="752.8" stroke="#444" stroke-width="0.7"/>
<line x1="413.97" y1="750.1" x2="413.97" y2="752.8" stroke="#444" stroke-width="0.7"/>
<line x1="432.13" y1="750.1" x2="432.13" y2="752.8" stroke="#444" stroke-width="0.7"/>
<line x1="450.28" y1="750.1" x2="450.28" y2="752.8" stroke="#444" stroke-width="0.7"/>
<line x1="468.43" y1="750.1" x2="468.43" y2="752.8" stroke="#444" stroke-width="0.7"/>
<line x1="486.58" y1="750.1" x2="486.58" y2="752.8" stroke="#444" stroke-width="0.7"/>
<line x1="504.73" y1="750.1" x2="504.73" y2="752.8" stroke="#444" stroke-width="0.7"/>
<line x1="522.89" y1="750.1" x2="522.89" y2="752.8" stroke="#444" stroke-width="0.7"/>
<line x1="541.04" y1="750.1" x2="541.04" y2="752.8" stroke="#444" stroke-width="0.7"/>
<line x1="559.19" y1="750.1" x2="559.19" y2="752.8" stroke="#444" stroke-width="0.7"/>
<line x1="577.34" y1="750.1" x2="577.34" y2="752.8" stroke="#444" stroke-width="0.7"/>
<line x1="595.49" y1="750.1" x2="595.49" y2="752.8" stroke="#444" stroke-width="0.7"/>
<line x1="613.65" y1="750.1" x2="613.65" y2="752.8" stroke="#444" stroke-width="0.7"/>
<line x1="631.8" y1="750.1" x2="631.8" y2="752.8" stroke="#444" stroke-width="0.7"/>
<line x1="649.95" y1="750.1" x2="649.95" y2="752.8" stroke="#444" stroke-width="0.7"/>
<line x1="668.1" y1="750.1" x2="668.1" y2="752.8" stroke="#444" stroke-width="0.7"/>
<line x1="686.25" y1="750.1" x2="686.25" y2="752.8" stroke="#444" stroke-width="0.7"/>
<line x1="704.41" y1="750.1" x2="704.41" y2="752.8" stroke="#444" stroke-width="0.7"/>
<line x1="722.56" y1="750.1" x2="722.56" y2="752.8" stroke="#444" stroke-width="0.7"/>
<line x1="740.71" y1="750.1" x2="740.71" y2="752.8" stroke="#444" stroke-width="0.7"/>
<line x1="758.86" y1="750.1" x2="758.86" y2="752.8" stroke="#444" stroke-width="0.7"/>
<line x1="777.01" y1="750.1" x2="777.01" y2="752.8" stroke="#444" stroke-width="0.7"/>
<line x1="795.17" y1="750.1" x2="795.17" y2="752.8" stroke="#444" stroke-width="0.7"/>
<line x1="813.32" y1="750.1" x2="813.32" y2="752.8" stroke="#444" stroke-width="0.7"/>
<line x1="831.47" y1="750.1" x2="831.47" y2="752.8" stroke="#444" stroke-width="0.7"/>
<line x1="849.62" y1="750.1" x2="849.62" y2="752.8" stroke="#444" stroke-width="0.7"/>
<line x1="867.77" y1="750.1" x2="867.77" y2="752.8" stroke="#444" stroke-width="0.7"/>
<line x1="885.93" y1="750.1" x2="885.93" y2="752.8" stroke="#444" stroke-width="0.7"/>
<line x1="904.08" y1="750.1" x2="904.08" y2="752.8" stroke="#444" stroke-width="0.7"/>
<line x1="922.23" y1="750.1" x2="922.23" y2="752.8" stroke="#444" stroke-width="0.7"/>
<line x1="940.38" y1="750.1" x2="940.38" y2="752.8" stroke="#444" stroke-width="0.7"/>
<line x1="958.53" y1="750.1" x2="958.53" y2="752.8" stroke="#444" stroke-width="0.7"/>
<line x1="976.69" y1="750.1" x2="976.69" y2="752.8" stroke="#444" stroke-width="0.7"/>
<line x1="994.84" y1="750.1" x2="994.84" y2="752.8" stroke="#444" stroke-width="0.7"/>
<line x1="1012.99" y1="750.1" x2="1012.99" y2="752.8" stroke="#444" stroke-width="0.7"/>
<line x1="1031.14" y1="750.1" x2="1031.14" y2="752.8" stroke="#444" stroke-width="0.7"/>
<line x1="1049.29" y1="750.1" x2="1049.29" y2="752.8" stroke="#444" stroke-width="0.7"/>
<line x1="1067.45" y1="750.1" x2="1067.45" y2="752.8" stroke="#444" stroke-width="0.7"/>
<line x1="1085.6" y1="750.1" x2="1085.6" y2="752.8" stroke="#444" stroke-width="0.7"/>
<line x1="1103.75" y1="750.1" x2="1103.75" y2="752.8" stroke="#444" stroke-width="0.7"/>
<line x1="1121.9" y1="750.1" x2="1121.9" y2="752.8" stroke="#444" stroke-width="0.7"/>
<line x1="1140.05" y1="750.1" x2="1140.05" y2="752.8" stroke="#444" stroke-width="0.7"/>
<line x1="1158.2" y1="750.1" x2="1158.2" y2="752.8" stroke="#444" stroke-width="0.7"/>
<line x1="1176.36" y1="750.1" x2="1176.36" y2="752.8" stroke="#444" stroke-width="0.7"/>
<line x1="1194.51" y1="750.1" x2="1194.51" y2="752.8" stroke="#444" stroke-width="0.7"/>
<text x="69.8" y="566.5" text-anchor="middle" font-size="9.7" fill="#1e1e1e" transform="rotate(-90 69.8 566.5)">Relative Abundance</text>
<rect x="99.04" y="755.2" width="357.59" height="13.8" fill="#c6c6c6"/>
<text x="276.9" y="765.7" text-anchor="middle" font-size="9.5" fill="#1e1e1e">PCOS-NIR</text>
<rect x="462.08" y="755.2" width="194.23" height="13.8" fill="#c6c6c6"/>
<text x="564.9" y="765.7" text-anchor="middle" font-size="9.5" fill="#1e1e1e">PCOS-NIR treated</text>
<rect x="661.75" y="755.2" width="357.59" height="13.8" fill="#c6c6c6"/>
<text x="838.4" y="765.7" text-anchor="middle" font-size="9.5" fill="#1e1e1e">PCOS-IR</text>
<rect x="1024.79" y="755.2" width="176.07" height="13.8" fill="#c6c6c6"/>
<text x="1107.6" y="765.7" text-anchor="middle" font-size="9.5" fill="#1e1e1e">PCOS-IR treated</text>
<text x="1219" y="416.8" font-size="9.8" fill="#1e1e1e">taxon</text>
<rect x="1219.5" y="422.8" width="12.8" height="12.5" fill="#F44336"/>
<text x="1237.8" y="432.25" font-size="9.8" fill="#1e1e1e">c__Acidimicrobiia</text>
<rect x="1219.5" y="436.8" width="12.8" height="12.5" fill="#2196F3"/>
<text x="1237.8" y="446.25" font-size="9.8" fill="#1e1e1e">c__Actinobacteria</text>
<rect x="1219.5" y="450.8" width="12.8" height="12.5" fill="#E91E63"/>
<text x="1237.8" y="460.25" font-size="9.8" fill="#1e1e1e">c__Coriobacteriia</text>
<rect x="1219.5" y="464.8" width="12.8" height="12.5" fill="#9C27B0"/>
<text x="1237.8" y="474.25" font-size="9.8" fill="#1e1e1e">c__Bacteroidia</text>
<rect x="1219.5" y="478.8" width="12.8" height="12.5" fill="#673AB7"/>
<text x="1237.8" y="488.25" font-size="9.8" fill="#1e1e1e">c__Cyanobacteriia</text>
<rect x="1219.5" y="492.8" width="12.8" height="12.5" fill="#3F51B5"/>
<text x="1237.8" y="502.25" font-size="9.8" fill="#1e1e1e">c__Deferribacteres</text>
<rect x="1219.5" y="506.8" width="12.8" height="12.5" fill="#03A9F4"/>
<text x="1237.8" y="516.25" font-size="9.8" fill="#1e1e1e">c__Desulfovibrionia</text>
<rect x="1219.5" y="520.8" width="12.8" height="12.5" fill="#00BCD4"/>
<text x="1237.8" y="530.25" font-size="9.8" fill="#1e1e1e">c__Bacilli</text>
<rect x="1219.5" y="534.8" width="12.8" height="12.5" fill="#009688"/>
<text x="1237.8" y="544.25" font-size="9.8" fill="#1e1e1e">c__Clostridia</text>
<rect x="1219.5" y="548.8" width="12.8" height="12.5" fill="#4CAF50"/>
<text x="1237.8" y="558.25" font-size="9.8" fill="#1e1e1e">c__Negativicutes</text>
<rect x="1219.5" y="562.8" width="12.8" height="12.5" fill="#8BC34A"/>
<text x="1237.8" y="572.25" font-size="9.8" fill="#1e1e1e">c__Syntrophomonadia</text>
<rect x="1219.5" y="576.8" width="12.8" height="12.5" fill="#CDDC39"/>
<text x="1237.8" y="586.25" font-size="9.8" fill="#1e1e1e">c__Fusobacteriia</text>
<rect x="1219.5" y="590.8" width="12.8" height="12.5" fill="#FFEB3B"/>
<text x="1237.8" y="600.25" font-size="9.8" fill="#1e1e1e">c__Longimicrobia</text>
<rect x="1219.5" y="604.8" width="12.8" height="12.5" fill="#FFC107"/>
<text x="1237.8" y="614.25" font-size="9.8" fill="#1e1e1e">c__Methylomirabilia</text>
<rect x="1219.5" y="618.8" width="12.8" height="12.5" fill="#FF9800"/>
<text x="1237.8" y="628.25" font-size="9.8" fill="#1e1e1e">c__Saccharimonadia</text>
<rect x="1219.5" y="632.8" width="12.8" height="12.5" fill="#FF5722"/>
<text x="1237.8" y="642.25" font-size="9.8" fill="#1e1e1e">c__Planctomycetes</text>
<rect x="1219.5" y="646.8" width="12.8" height="12.5" fill="#795548"/>
<text x="1237.8" y="656.25" font-size="9.8" fill="#1e1e1e">c__Alphaproteobacteria</text>
<rect x="1219.5" y="660.8" width="12.8" height="12.5" fill="#9E9E9E"/>
<text x="1237.8" y="670.25" font-size="9.8" fill="#1e1e1e">c__Gammaproteobacteria</text>
<rect x="1219.5" y="674.8" width="12.8" height="12.5" fill="#607D8B"/>
<text x="1237.8" y="684.25" font-size="9.8" fill="#1e1e1e">c__Synergistia</text>
<rect x="1219.5" y="688.8" width="12.8" height="12.5" fill="#455A64"/>
<text x="1237.8" y="698.25" font-size="9.8" fill="#1e1e1e">c__Lentisphaeria</text>
<rect x="1219.5" y="702.8" width="12.8" height="12.5" fill="#E57373"/>
<text x="1237.8" y="712.25" font-size="9.8" fill="#1e1e1e">Others</text>
<text x="3.6" y="405.2" font-family='"Liberation Sans", sans-serif' font-weight="bold" font-size="33.6" fill="#000">B</text>
<line x1="94" y1="1122.56" x2="1151.5" y2="1122.56" stroke="#e6e6e6" stroke-width="0.5"/>
<line x1="94" y1="1076.83" x2="1151.5" y2="1076.83" stroke="#e6e6e6" stroke-width="0.8"/>
<line x1="94" y1="1031.09" x2="1151.5" y2="1031.09" stroke="#e6e6e6" stroke-width="0.5"/>
<line x1="94" y1="985.35" x2="1151.5" y2="985.35" stroke="#e6e6e6" stroke-width="0.8"/>
<line x1="94" y1="939.61" x2="1151.5" y2="939.61" stroke="#e6e6e6" stroke-width="0.5"/>
<line x1="94" y1="893.88" x2="1151.5" y2="893.88" stroke="#e6e6e6" stroke-width="0.8"/>
<line x1="94" y1="848.14" x2="1151.5" y2="848.14" stroke="#e6e6e6" stroke-width="0.5"/>
<rect x="98.32" y="802.4" width="12.1" height="365.9" fill="#F44336"/>
<rect x="98.32" y="873.02" width="12.1" height="295.28" fill="#2196F3"/>
<rect x="98.32" y="887.65" width="12.1" height="280.65" fill="#E91E63"/>
<rect x="98.32" y="941.81" width="12.1" height="226.49" fill="#9C27B0"/>
<rect x="98.32" y="1009.87" width="12.1" height="158.43" fill="#673AB7"/>
<rect x="98.32" y="1041.33" width="12.1" height="126.97" fill="#4CAF50"/>
<rect x="98.32" y="1049.75" width="12.1" height="118.55" fill="#CDDC39"/>
<rect x="98.32" y="1051.21" width="12.1" height="117.09" fill="#FFEB3B"/>
<rect x="98.32" y="1094.02" width="12.1" height="74.28" fill="#FFC107"/>
<rect x="98.32" y="1099.14" width="12.1" height="69.16" fill="#795548"/>
<rect x="98.32" y="1163.18" width="12.1" height="5.12" fill="#E57373"/>
<rect x="115.6" y="802.4" width="12.1" height="365.9" fill="#F44336"/>
<rect x="115.6" y="848.87" width="12.1" height="319.43" fill="#2196F3"/>
<rect x="115.6" y="973.28" width="12.1" height="195.02" fill="#E91E63"/>
<rect x="115.6" y="999.25" width="12.1" height="169.05" fill="#9C27B0"/>
<rect x="115.6" y="1014.99" width="12.1" height="153.31" fill="#00BCD4"/>
<rect x="115.6" y="1027.43" width="12.1" height="140.87" fill="#009688"/>
<rect x="115.6" y="1073.53" width="12.1" height="94.77" fill="#8BC34A"/>
<rect x="115.6" y="1080.48" width="12.1" height="87.82" fill="#CDDC39"/>
<rect x="115.6" y="1096.22" width="12.1" height="72.08" fill="#FF9800"/>
<rect x="115.6" y="1153.3" width="12.1" height="15" fill="#E57373"/>
<rect x="132.88" y="802.4" width="12.1" height="365.9" fill="#F44336"/>
<rect x="132.88" y="841.92" width="12.1" height="326.38" fill="#2196F3"/>
<rect x="132.88" y="877.41" width="12.1" height="290.89" fill="#E91E63"/>
<rect x="132.88" y="937.05" width="12.1" height="231.25" fill="#9C27B0"/>
<rect x="132.88" y="964.13" width="12.1" height="204.17" fill="#673AB7"/>
<rect x="132.88" y="982.79" width="12.1" height="185.51" fill="#03A9F4"/>
<rect x="132.88" y="1038.77" width="12.1" height="129.53" fill="#00BCD4"/>
<rect x="132.88" y="1051.21" width="12.1" height="117.09" fill="#8BC34A"/>
<rect x="132.88" y="1060.73" width="12.1" height="107.57" fill="#CDDC39"/>
<rect x="132.88" y="1128.78" width="12.1" height="39.52" fill="#FFC107"/>
<rect x="132.88" y="1132.81" width="12.1" height="35.49" fill="#FF5722"/>
<rect x="132.88" y="1139.03" width="12.1" height="29.27" fill="#795548"/>
<rect x="132.88" y="1142.32" width="12.1" height="25.98" fill="#607D8B"/>
<rect x="132.88" y="1151.47" width="12.1" height="16.83" fill="#455A64"/>
<rect x="132.88" y="1156.96" width="12.1" height="11.34" fill="#E57373"/>
<rect x="150.16" y="802.4" width="12.1" height="365.9" fill="#F44336"/>
<rect x="150.16" y="850.33" width="12.1" height="317.97" fill="#2196F3"/>
<rect x="150.16" y="926.07" width="12.1" height="242.23" fill="#E91E63"/>
<rect x="150.16" y="956.44" width="12.1" height="211.86" fill="#9C27B0"/>
<rect x="150.16" y="966.69" width="12.1" height="201.61" fill="#03A9F4"/>
<rect x="150.16" y="986.81" width="12.1" height="181.49" fill="#00BCD4"/>
<rect x="150.16" y="1120" width="12.1" height="48.3" fill="#009688"/>
<rect x="150.16" y="1154.76" width="12.1" height="13.54" fill="#4CAF50"/>
<rect x="150.16" y="1159.15" width="12.1" height="9.15" fill="#FFC107"/>
<rect x="150.16" y="1162.81" width="12.1" height="5.49" fill="#795548"/>
<rect x="150.16" y="1165.01" width="12.1" height="3.29" fill="#E57373"/>
<rect x="167.44" y="802.4" width="12.1" height="365.9" fill="#F44336"/>
<rect x="167.44" y="870.82" width="12.1" height="297.48" fill="#2196F3"/>
<rect x="167.44" y="1067.68" width="12.1" height="100.62" fill="#E91E63"/>
<rect x="167.44" y="1079.39" width="12.1" height="88.91" fill="#9C27B0"/>
<rect x="167.44" y="1120" width="12.1" height="48.3" fill="#673AB7"/>
<rect x="167.44" y="1140.13" width="12.1" height="28.17" fill="#00BCD4"/>
<rect x="167.44" y="1150.37" width="12.1" height="17.93" fill="#CDDC39"/>
<rect x="167.44" y="1159.88" width="12.1" height="8.42" fill="#E57373"/>
<rect x="184.72" y="802.4" width="12.1" height="365.9" fill="#F44336"/>
<rect x="184.72" y="845.21" width="12.1" height="323.09" fill="#2196F3"/>
<rect x="184.72" y="965.23" width="12.1" height="203.07" fill="#E91E63"/>
<rect x="184.72" y="991.94" width="12.1" height="176.36" fill="#9C27B0"/>
<rect x="184.72" y="1036.58" width="12.1" height="131.72" fill="#673AB7"/>
<rect x="184.72" y="1062.92" width="12.1" height="105.38" fill="#4CAF50"/>
<rect x="184.72" y="1083.78" width="12.1" height="84.52" fill="#CDDC39"/>
<rect x="184.72" y="1088.17" width="12.1" height="80.13" fill="#FFEB3B"/>
<rect x="184.72" y="1105.73" width="12.1" height="62.57" fill="#FF5722"/>
<rect x="184.72" y="1155.86" width="12.1" height="12.44" fill="#9E9E9E"/>
<rect x="184.72" y="1162.08" width="12.1" height="6.22" fill="#E57373"/>
<rect x="202" y="802.4" width="12.1" height="365.9" fill="#F44336"/>
<rect x="202" y="837.53" width="12.1" height="330.77" fill="#2196F3"/>
<rect x="202" y="883.63" width="12.1" height="284.67" fill="#E91E63"/>
<rect x="202" y="889.85" width="12.1" height="278.45" fill="#9C27B0"/>
<rect x="202" y="942.91" width="12.1" height="225.39" fill="#673AB7"/>
<rect x="202" y="995.96" width="12.1" height="172.34" fill="#3F51B5"/>
<rect x="202" y="1080.48" width="12.1" height="87.82" fill="#4CAF50"/>
<rect x="202" y="1092.19" width="12.1" height="76.11" fill="#CDDC39"/>
<rect x="202" y="1101.71" width="12.1" height="66.59" fill="#FFEB3B"/>
<rect x="202" y="1117.07" width="12.1" height="51.23" fill="#FFC107"/>
<rect x="202" y="1143.42" width="12.1" height="24.88" fill="#9E9E9E"/>
<rect x="202" y="1151.1" width="12.1" height="17.2" fill="#E57373"/>
<rect x="219.28" y="802.4" width="12.1" height="365.9" fill="#F44336"/>
<rect x="219.28" y="941.81" width="12.1" height="226.49" fill="#2196F3"/>
<rect x="219.28" y="973.28" width="12.1" height="195.02" fill="#E91E63"/>
<rect x="219.28" y="1044.26" width="12.1" height="124.04" fill="#9C27B0"/>
<rect x="219.28" y="1066.95" width="12.1" height="101.35" fill="#673AB7"/>
<rect x="219.28" y="1099.14" width="12.1" height="69.16" fill="#03A9F4"/>
<rect x="219.28" y="1147.44" width="12.1" height="20.86" fill="#CDDC39"/>
<rect x="219.28" y="1151.47" width="12.1" height="16.83" fill="#FFC107"/>
<rect x="219.28" y="1158.79" width="12.1" height="9.51" fill="#FF5722"/>
<rect x="219.28" y="1161.71" width="12.1" height="6.59" fill="#607D8B"/>
<rect x="219.28" y="1164.28" width="12.1" height="4.02" fill="#E57373"/>
<rect x="236.56" y="802.4" width="12.1" height="365.9" fill="#F44336"/>
<rect x="236.56" y="905.95" width="12.1" height="262.35" fill="#2196F3"/>
<rect x="236.56" y="938.88" width="12.1" height="229.42" fill="#E91E63"/>
<rect x="236.56" y="956.44" width="12.1" height="211.86" fill="#673AB7"/>
<rect x="236.56" y="974.37" width="12.1" height="193.93" fill="#3F51B5"/>
<rect x="236.56" y="1105" width="12.1" height="63.3" fill="#8BC34A"/>
<rect x="236.56" y="1122.2" width="12.1" height="46.1" fill="#CDDC39"/>
<rect x="236.56" y="1137.93" width="12.1" height="30.37" fill="#9E9E9E"/>
<rect x="236.56" y="1144.15" width="12.1" height="24.15" fill="#E57373"/>
<rect x="253.83" y="802.4" width="12.1" height="365.9" fill="#F44336"/>
<rect x="253.83" y="867.9" width="12.1" height="300.4" fill="#2196F3"/>
<rect x="253.83" y="1017.18" width="12.1" height="151.12" fill="#E91E63"/>
<rect x="253.83" y="1066.95" width="12.1" height="101.35" fill="#9C27B0"/>
<rect x="253.83" y="1087.07" width="12.1" height="81.23" fill="#3F51B5"/>
<rect x="253.83" y="1093.29" width="12.1" height="75.01" fill="#00BCD4"/>
<rect x="253.83" y="1105" width="12.1" height="63.3" fill="#4CAF50"/>
<rect x="253.83" y="1136.83" width="12.1" height="31.47" fill="#CDDC39"/>
<rect x="253.83" y="1146.71" width="12.1" height="21.59" fill="#9E9E9E"/>
<rect x="253.83" y="1152.57" width="12.1" height="15.73" fill="#607D8B"/>
<rect x="253.83" y="1156.96" width="12.1" height="11.34" fill="#E57373"/>
<rect x="271.11" y="802.4" width="12.1" height="365.9" fill="#F44336"/>
<rect x="271.11" y="909.61" width="12.1" height="258.69" fill="#2196F3"/>
<rect x="271.11" y="1054.14" width="12.1" height="114.16" fill="#E91E63"/>
<rect x="271.11" y="1085.97" width="12.1" height="82.33" fill="#9C27B0"/>
<rect x="271.11" y="1112.68" width="12.1" height="55.62" fill="#673AB7"/>
<rect x="271.11" y="1139.03" width="12.1" height="29.27" fill="#009688"/>
<rect x="271.11" y="1141.96" width="12.1" height="26.34" fill="#8BC34A"/>
<rect x="271.11" y="1153.66" width="12.1" height="14.64" fill="#CDDC39"/>
<rect x="271.11" y="1160.25" width="12.1" height="8.05" fill="#795548"/>
<rect x="271.11" y="1162.81" width="12.1" height="5.49" fill="#E57373"/>
<rect x="288.39" y="802.4" width="12.1" height="365.9" fill="#F44336"/>
<rect x="288.39" y="863.87" width="12.1" height="304.43" fill="#2196F3"/>
<rect x="288.39" y="981.33" width="12.1" height="186.97" fill="#E91E63"/>
<rect x="288.39" y="1023.4" width="12.1" height="144.9" fill="#9C27B0"/>
<rect x="288.39" y="1077.19" width="12.1" height="91.11" fill="#673AB7"/>
<rect x="288.39" y="1081.22" width="12.1" height="87.08" fill="#03A9F4"/>
<rect x="288.39" y="1127.69" width="12.1" height="40.61" fill="#8BC34A"/>
<rect x="288.39" y="1140.13" width="12.1" height="28.17" fill="#CDDC39"/>
<rect x="288.39" y="1144.52" width="12.1" height="23.78" fill="#FFC107"/>
<rect x="288.39" y="1152.57" width="12.1" height="15.73" fill="#9E9E9E"/>
<rect x="288.39" y="1154.76" width="12.1" height="13.54" fill="#455A64"/>
<rect x="288.39" y="1158.79" width="12.1" height="9.51" fill="#E57373"/>
<rect x="305.67" y="802.4" width="12.1" height="365.9" fill="#F44336"/>
<rect x="305.67" y="874.48" width="12.1" height="293.82" fill="#2196F3"/>
<rect x="305.67" y="943.64" width="12.1" height="224.66" fill="#E91E63"/>
<rect x="305.67" y="972.18" width="12.1" height="196.12" fill="#673AB7"/>
<rect x="305.67" y="1052.68" width="12.1" height="115.62" fill="#03A9F4"/>
<rect x="305.67" y="1091.83" width="12.1" height="76.47" fill="#009688"/>
<rect x="305.67" y="1110.85" width="12.1" height="57.45" fill="#4CAF50"/>
<rect x="305.67" y="1128.05" width="12.1" height="40.25" fill="#FFEB3B"/>
<rect x="305.67" y="1133.17" width="12.1" height="35.13" fill="#FF5722"/>
<rect x="305.67" y="1136.83" width="12.1" height="31.47" fill="#9E9E9E"/>
<rect x="305.67" y="1148.54" width="12.1" height="19.76" fill="#E57373"/>
<rect x="322.95" y="802.4" width="12.1" height="365.9" fill="#F44336"/>
<rect x="322.95" y="870.09" width="12.1" height="298.21" fill="#2196F3"/>
<rect x="322.95" y="937.78" width="12.1" height="230.52" fill="#E91E63"/>
<rect x="322.95" y="1005.84" width="12.1" height="162.46" fill="#9C27B0"/>
<rect x="322.95" y="1018.28" width="12.1" height="150.02" fill="#673AB7"/>
<rect x="322.95" y="1032.19" width="12.1" height="136.11" fill="#03A9F4"/>
<rect x="322.95" y="1071.34" width="12.1" height="96.96" fill="#4CAF50"/>
<rect x="322.95" y="1129.88" width="12.1" height="38.42" fill="#CDDC39"/>
<rect x="322.95" y="1133.17" width="12.1" height="35.13" fill="#FFEB3B"/>
<rect x="322.95" y="1142.32" width="12.1" height="25.98" fill="#FFC107"/>
<rect x="322.95" y="1151.47" width="12.1" height="16.83" fill="#795548"/>
<rect x="322.95" y="1154.76" width="12.1" height="13.54" fill="#E57373"/>
<rect x="340.23" y="802.4" width="12.1" height="365.9" fill="#F44336"/>
<rect x="340.23" y="899.36" width="12.1" height="268.94" fill="#2196F3"/>
<rect x="340.23" y="1030.72" width="12.1" height="137.58" fill="#E91E63"/>
<rect x="340.23" y="1036.94" width="12.1" height="131.36" fill="#9C27B0"/>
<rect x="340.23" y="1061.82" width="12.1" height="106.48" fill="#00BCD4"/>
<rect x="340.23" y="1074.63" width="12.1" height="93.67" fill="#009688"/>
<rect x="340.23" y="1111.22" width="12.1" height="57.08" fill="#4CAF50"/>
<rect x="340.23" y="1122.2" width="12.1" height="46.1" fill="#CDDC39"/>
<rect x="340.23" y="1145.61" width="12.1" height="22.69" fill="#FF9800"/>
<rect x="340.23" y="1151.1" width="12.1" height="17.2" fill="#E57373"/>
<rect x="357.51" y="802.4" width="12.1" height="365.9" fill="#F44336"/>
<rect x="357.51" y="832.4" width="12.1" height="335.9" fill="#2196F3"/>
<rect x="357.51" y="1014.99" width="12.1" height="153.31" fill="#E91E63"/>
<rect x="357.51" y="1023.04" width="12.1" height="145.26" fill="#03A9F4"/>
<rect x="357.51" y="1075.73" width="12.1" height="92.57" fill="#00BCD4"/>
<rect x="357.51" y="1133.17" width="12.1" height="35.13" fill="#009688"/>
<rect x="357.51" y="1165.01" width="12.1" height="3.29" fill="#E57373"/>
<rect x="374.79" y="802.4" width="12.1" height="365.9" fill="#F44336"/>
<rect x="374.79" y="923.15" width="12.1" height="245.15" fill="#2196F3"/>
<rect x="374.79" y="974.37" width="12.1" height="193.93" fill="#E91E63"/>
<rect x="374.79" y="1005.84" width="12.1" height="162.46" fill="#9C27B0"/>
<rect x="374.79" y="1019.38" width="12.1" height="148.92" fill="#673AB7"/>
<rect x="374.79" y="1042.06" width="12.1" height="126.24" fill="#03A9F4"/>
<rect x="374.79" y="1057.07" width="12.1" height="111.23" fill="#8BC34A"/>
<rect x="374.79" y="1060.73" width="12.1" height="107.57" fill="#CDDC39"/>
<rect x="374.79" y="1065.85" width="12.1" height="102.45" fill="#FFC107"/>
<rect x="374.79" y="1075.73" width="12.1" height="92.57" fill="#FF5722"/>
<rect x="374.79" y="1154.76" width="12.1" height="13.54" fill="#607D8B"/>
<rect x="374.79" y="1160.25" width="12.1" height="8.05" fill="#E57373"/>
<rect x="392.07" y="802.4" width="12.1" height="365.9" fill="#F44336"/>
<rect x="392.07" y="868.63" width="12.1" height="299.67" fill="#2196F3"/>
<rect x="392.07" y="959.37" width="12.1" height="208.93" fill="#E91E63"/>
<rect x="392.07" y="999.25" width="12.1" height="169.05" fill="#9C27B0"/>
<rect x="392.07" y="1027.43" width="12.1" height="140.87" fill="#3F51B5"/>
<rect x="392.07" y="1051.21" width="12.1" height="117.09" fill="#00BCD4"/>
<rect x="392.07" y="1120" width="12.1" height="48.3" fill="#009688"/>
<rect x="392.07" y="1122.56" width="12.1" height="45.74" fill="#4CAF50"/>
<rect x="392.07" y="1145.61" width="12.1" height="22.69" fill="#FFC107"/>
<rect x="392.07" y="1154.03" width="12.1" height="14.27" fill="#607D8B"/>
<rect x="392.07" y="1156.96" width="12.1" height="11.34" fill="#E57373"/>
<rect x="409.35" y="802.4" width="12.1" height="365.9" fill="#F44336"/>
<rect x="409.35" y="847.04" width="12.1" height="321.26" fill="#2196F3"/>
<rect x="409.35" y="915.83" width="12.1" height="252.47" fill="#E91E63"/>
<rect x="409.35" y="1030.72" width="12.1" height="137.58" fill="#9C27B0"/>
<rect x="409.35" y="1072.07" width="12.1" height="96.23" fill="#673AB7"/>
<rect x="409.35" y="1098.41" width="12.1" height="69.89" fill="#00BCD4"/>
<rect x="409.35" y="1101.71" width="12.1" height="66.59" fill="#009688"/>
<rect x="409.35" y="1107.56" width="12.1" height="60.74" fill="#8BC34A"/>
<rect x="409.35" y="1120" width="12.1" height="48.3" fill="#CDDC39"/>
<rect x="409.35" y="1130.61" width="12.1" height="37.69" fill="#FFC107"/>
<rect x="409.35" y="1141.22" width="12.1" height="27.08" fill="#FF5722"/>
<rect x="409.35" y="1147.08" width="12.1" height="21.22" fill="#9E9E9E"/>
<rect x="409.35" y="1150.37" width="12.1" height="17.93" fill="#E57373"/>
<rect x="426.63" y="802.4" width="12.1" height="365.9" fill="#F44336"/>
<rect x="426.63" y="922.42" width="12.1" height="245.88" fill="#2196F3"/>
<rect x="426.63" y="990.11" width="12.1" height="178.19" fill="#E91E63"/>
<rect x="426.63" y="1039.14" width="12.1" height="129.16" fill="#9C27B0"/>
<rect x="426.63" y="1074.63" width="12.1" height="93.67" fill="#00BCD4"/>
<rect x="426.63" y="1104.63" width="12.1" height="63.67" fill="#009688"/>
<rect x="426.63" y="1140.13" width="12.1" height="28.17" fill="#8BC34A"/>
<rect x="426.63" y="1153.66" width="12.1" height="14.64" fill="#CDDC39"/>
<rect x="426.63" y="1159.15" width="12.1" height="9.15" fill="#455A64"/>
<rect x="426.63" y="1162.08" width="12.1" height="6.22" fill="#E57373"/>
<rect x="443.91" y="802.4" width="12.1" height="365.9" fill="#F44336"/>
<rect x="443.91" y="859.48" width="12.1" height="308.82" fill="#2196F3"/>
<rect x="443.91" y="964.86" width="12.1" height="203.44" fill="#E91E63"/>
<rect x="443.91" y="983.52" width="12.1" height="184.78" fill="#9C27B0"/>
<rect x="443.91" y="1009.5" width="12.1" height="158.8" fill="#673AB7"/>
<rect x="443.91" y="1087.07" width="12.1" height="81.23" fill="#00BCD4"/>
<rect x="443.91" y="1102.07" width="12.1" height="66.23" fill="#4CAF50"/>
<rect x="443.91" y="1118.17" width="12.1" height="50.13" fill="#CDDC39"/>
<rect x="443.91" y="1133.17" width="12.1" height="35.13" fill="#FFC107"/>
<rect x="443.91" y="1146.71" width="12.1" height="21.59" fill="#E57373"/>
<rect x="461.19" y="802.4" width="12.1" height="365.9" fill="#F44336"/>
<rect x="461.19" y="931.56" width="12.1" height="236.74" fill="#2196F3"/>
<rect x="461.19" y="1023.04" width="12.1" height="145.26" fill="#E91E63"/>
<rect x="461.19" y="1062.92" width="12.1" height="105.38" fill="#673AB7"/>
<rect x="461.19" y="1102.07" width="12.1" height="66.23" fill="#009688"/>
<rect x="461.19" y="1133.17" width="12.1" height="35.13" fill="#8BC34A"/>
<rect x="461.19" y="1147.08" width="12.1" height="21.22" fill="#795548"/>
<rect x="461.19" y="1150.37" width="12.1" height="17.93" fill="#9E9E9E"/>
<rect x="461.19" y="1153.66" width="12.1" height="14.64" fill="#E57373"/>
<rect x="478.47" y="802.4" width="12.1" height="365.9" fill="#F44336"/>
<rect x="478.47" y="930.1" width="12.1" height="238.2" fill="#2196F3"/>
<rect x="478.47" y="998.52" width="12.1" height="169.78" fill="#E91E63"/>
<rect x="478.47" y="1044.99" width="12.1" height="123.31" fill="#9C27B0"/>
<rect x="478.47" y="1081.58" width="12.1" height="86.72" fill="#00BCD4"/>
<rect x="478.47" y="1092.19" width="12.1" height="76.11" fill="#009688"/>
<rect x="478.47" y="1111.95" width="12.1" height="56.35" fill="#8BC34A"/>
<rect x="478.47" y="1124.03" width="12.1" height="44.27" fill="#FF9800"/>
<rect x="478.47" y="1133.17" width="12.1" height="35.13" fill="#795548"/>
<rect x="478.47" y="1138.3" width="12.1" height="30" fill="#607D8B"/>
<rect x="478.47" y="1142.32" width="12.1" height="25.98" fill="#455A64"/>
<rect x="478.47" y="1145.61" width="12.1" height="22.69" fill="#E57373"/>
<rect x="495.75" y="802.4" width="12.1" height="365.9" fill="#F44336"/>
<rect x="495.75" y="995.96" width="12.1" height="172.34" fill="#2196F3"/>
<rect x="495.75" y="1042.06" width="12.1" height="126.24" fill="#E91E63"/>
<rect x="495.75" y="1082.68" width="12.1" height="85.62" fill="#673AB7"/>
<rect x="495.75" y="1101.34" width="12.1" height="66.96" fill="#03A9F4"/>
<rect x="495.75" y="1140.13" width="12.1" height="28.17" fill="#FFEB3B"/>
<rect x="495.75" y="1142.32" width="12.1" height="25.98" fill="#FFC107"/>
<rect x="495.75" y="1145.61" width="12.1" height="22.69" fill="#9E9E9E"/>
<rect x="495.75" y="1162.08" width="12.1" height="6.22" fill="#E57373"/>
<rect x="513.03" y="802.4" width="12.1" height="365.9" fill="#F44336"/>
<rect x="513.03" y="856.19" width="12.1" height="312.11" fill="#2196F3"/>
<rect x="513.03" y="1040.6" width="12.1" height="127.7" fill="#9C27B0"/>
<rect x="513.03" y="1068.41" width="12.1" height="99.89" fill="#00BCD4"/>
<rect x="513.03" y="1085.97" width="12.1" height="82.33" fill="#009688"/>
<rect x="513.03" y="1144.15" width="12.1" height="24.15" fill="#4CAF50"/>
<rect x="513.03" y="1154.76" width="12.1" height="13.54" fill="#FFC107"/>
<rect x="513.03" y="1159.88" width="12.1" height="8.42" fill="#E57373"/>
<rect x="530.31" y="802.4" width="12.1" height="365.9" fill="#F44336"/>
<rect x="530.31" y="894.24" width="12.1" height="274.06" fill="#2196F3"/>
<rect x="530.31" y="977.3" width="12.1" height="191" fill="#E91E63"/>
<rect x="530.31" y="1023.4" width="12.1" height="144.9" fill="#9C27B0"/>
<rect x="530.31" y="1072.07" width="12.1" height="96.23" fill="#673AB7"/>
<rect x="530.31" y="1087.8" width="12.1" height="80.5" fill="#00BCD4"/>
<rect x="530.31" y="1104.63" width="12.1" height="63.67" fill="#009688"/>
<rect x="530.31" y="1115.24" width="12.1" height="53.06" fill="#8BC34A"/>
<rect x="530.31" y="1123.29" width="12.1" height="45.01" fill="#FFEB3B"/>
<rect x="530.31" y="1132.08" width="12.1" height="36.22" fill="#FF5722"/>
<rect x="530.31" y="1139.76" width="12.1" height="28.54" fill="#9E9E9E"/>
<rect x="530.31" y="1150.37" width="12.1" height="17.93" fill="#455A64"/>
<rect x="530.31" y="1153.66" width="12.1" height="14.64" fill="#E57373"/>
<rect x="547.58" y="802.4" width="12.1" height="365.9" fill="#F44336"/>
<rect x="547.58" y="901.56" width="12.1" height="266.74" fill="#2196F3"/>
<rect x="547.58" y="942.17" width="12.1" height="226.13" fill="#E91E63"/>
<rect x="547.58" y="1121.1" width="12.1" height="47.2" fill="#673AB7"/>
<rect x="547.58" y="1130.61" width="12.1" height="37.69" fill="#00BCD4"/>
<rect x="547.58" y="1135.73" width="12.1" height="32.57" fill="#009688"/>
<rect x="547.58" y="1144.88" width="12.1" height="23.42" fill="#4CAF50"/>
<rect x="547.58" y="1146.71" width="12.1" height="21.59" fill="#FFC107"/>
<rect x="547.58" y="1156.96" width="12.1" height="11.34" fill="#9E9E9E"/>
<rect x="547.58" y="1160.25" width="12.1" height="8.05" fill="#E57373"/>
<rect x="564.86" y="802.4" width="12.1" height="365.9" fill="#F44336"/>
<rect x="564.86" y="880.7" width="12.1" height="287.6" fill="#2196F3"/>
<rect x="564.86" y="957.91" width="12.1" height="210.39" fill="#E91E63"/>
<rect x="564.86" y="974.37" width="12.1" height="193.93" fill="#673AB7"/>
<rect x="564.86" y="987.91" width="12.1" height="180.39" fill="#3F51B5"/>
<rect x="564.86" y="1055.6" width="12.1" height="112.7" fill="#8BC34A"/>
<rect x="564.86" y="1097.32" width="12.1" height="70.98" fill="#FFEB3B"/>
<rect x="564.86" y="1121.1" width="12.1" height="47.2" fill="#FFC107"/>
<rect x="564.86" y="1132.08" width="12.1" height="36.22" fill="#FF9800"/>
<rect x="564.86" y="1144.15" width="12.1" height="24.15" fill="#9E9E9E"/>
<rect x="564.86" y="1151.47" width="12.1" height="16.83" fill="#E57373"/>
<rect x="582.14" y="802.4" width="12.1" height="365.9" fill="#F44336"/>
<rect x="582.14" y="835.33" width="12.1" height="332.97" fill="#2196F3"/>
<rect x="582.14" y="974.37" width="12.1" height="193.93" fill="#E91E63"/>
<rect x="582.14" y="986.81" width="12.1" height="181.49" fill="#9C27B0"/>
<rect x="582.14" y="1073.53" width="12.1" height="94.77" fill="#009688"/>
<rect x="582.14" y="1145.61" width="12.1" height="22.69" fill="#4CAF50"/>
<rect x="582.14" y="1152.57" width="12.1" height="15.73" fill="#CDDC39"/>
<rect x="582.14" y="1154.76" width="12.1" height="13.54" fill="#795548"/>
<rect x="582.14" y="1156.96" width="12.1" height="11.34" fill="#E57373"/>
<rect x="599.42" y="802.4" width="12.1" height="365.9" fill="#F44336"/>
<rect x="599.42" y="864.97" width="12.1" height="303.33" fill="#2196F3"/>
<rect x="599.42" y="908.51" width="12.1" height="259.79" fill="#E91E63"/>
<rect x="599.42" y="933.03" width="12.1" height="235.27" fill="#9C27B0"/>
<rect x="599.42" y="998.16" width="12.1" height="170.14" fill="#673AB7"/>
<rect x="599.42" y="1130.98" width="12.1" height="37.32" fill="#FFEB3B"/>
<rect x="599.42" y="1147.08" width="12.1" height="21.22" fill="#FFC107"/>
<rect x="599.42" y="1151.47" width="12.1" height="16.83" fill="#795548"/>
<rect x="599.42" y="1160.98" width="12.1" height="7.32" fill="#E57373"/>
<rect x="616.7" y="802.4" width="12.1" height="365.9" fill="#F44336"/>
<rect x="616.7" y="934.86" width="12.1" height="233.44" fill="#2196F3"/>
<rect x="616.7" y="959.74" width="12.1" height="208.56" fill="#E91E63"/>
<rect x="616.7" y="1024.14" width="12.1" height="144.16" fill="#9C27B0"/>
<rect x="616.7" y="1044.99" width="12.1" height="123.31" fill="#673AB7"/>
<rect x="616.7" y="1095.12" width="12.1" height="73.18" fill="#00BCD4"/>
<rect x="616.7" y="1097.32" width="12.1" height="70.98" fill="#009688"/>
<rect x="616.7" y="1104.63" width="12.1" height="63.67" fill="#8BC34A"/>
<rect x="616.7" y="1111.95" width="12.1" height="56.35" fill="#FFEB3B"/>
<rect x="616.7" y="1126.59" width="12.1" height="41.71" fill="#FF9800"/>
<rect x="616.7" y="1141.96" width="12.1" height="26.34" fill="#795548"/>
<rect x="616.7" y="1144.52" width="12.1" height="23.78" fill="#455A64"/>
<rect x="616.7" y="1148.54" width="12.1" height="19.76" fill="#E57373"/>
<rect x="633.98" y="802.4" width="12.1" height="365.9" fill="#F44336"/>
<rect x="633.98" y="885.83" width="12.1" height="282.47" fill="#2196F3"/>
<rect x="633.98" y="994.86" width="12.1" height="173.44" fill="#E91E63"/>
<rect x="633.98" y="1024.87" width="12.1" height="143.43" fill="#9C27B0"/>
<rect x="633.98" y="1100.61" width="12.1" height="67.69" fill="#00BCD4"/>
<rect x="633.98" y="1104.63" width="12.1" height="63.67" fill="#009688"/>
<rect x="633.98" y="1146.71" width="12.1" height="21.59" fill="#4CAF50"/>
<rect x="633.98" y="1153.66" width="12.1" height="14.64" fill="#CDDC39"/>
<rect x="633.98" y="1160.25" width="12.1" height="8.05" fill="#455A64"/>
<rect x="633.98" y="1163.18" width="12.1" height="5.12" fill="#E57373"/>
<rect x="651.26" y="802.4" width="12.1" height="365.9" fill="#F44336"/>
<rect x="651.26" y="951.32" width="12.1" height="216.98" fill="#2196F3"/>
<rect x="651.26" y="968.15" width="12.1" height="200.15" fill="#E91E63"/>
<rect x="651.26" y="1076.83" width="12.1" height="91.47" fill="#673AB7"/>
<rect x="651.26" y="1137.93" width="12.1" height="30.37" fill="#03A9F4"/>
<rect x="651.26" y="1144.52" width="12.1" height="23.78" fill="#8BC34A"/>
<rect x="651.26" y="1152.57" width="12.1" height="15.73" fill="#FFC107"/>
<rect x="651.26" y="1158.79" width="12.1" height="9.51" fill="#455A64"/>
<rect x="651.26" y="1161.71" width="12.1" height="6.59" fill="#E57373"/>
<rect x="668.54" y="802.4" width="12.1" height="365.9" fill="#F44336"/>
<rect x="668.54" y="935.95" width="12.1" height="232.35" fill="#2196F3"/>
<rect x="668.54" y="964.86" width="12.1" height="203.44" fill="#E91E63"/>
<rect x="668.54" y="997.06" width="12.1" height="171.24" fill="#9C27B0"/>
<rect x="668.54" y="1009.5" width="12.1" height="158.8" fill="#673AB7"/>
<rect x="668.54" y="1098.41" width="12.1" height="69.89" fill="#03A9F4"/>
<rect x="668.54" y="1116.34" width="12.1" height="51.96" fill="#4CAF50"/>
<rect x="668.54" y="1120" width="12.1" height="48.3" fill="#CDDC39"/>
<rect x="668.54" y="1130.61" width="12.1" height="37.69" fill="#795548"/>
<rect x="668.54" y="1144.15" width="12.1" height="24.15" fill="#E57373"/>
<rect x="685.82" y="802.4" width="12.1" height="365.9" fill="#F44336"/>
<rect x="685.82" y="963.03" width="12.1" height="205.27" fill="#2196F3"/>
<rect x="685.82" y="1018.28" width="12.1" height="150.02" fill="#E91E63"/>
<rect x="685.82" y="1075.73" width="12.1" height="92.57" fill="#9C27B0"/>
<rect x="685.82" y="1089.27" width="12.1" height="79.03" fill="#00BCD4"/>
<rect x="685.82" y="1094.02" width="12.1" height="74.28" fill="#009688"/>
<rect x="685.82" y="1108.66" width="12.1" height="59.64" fill="#8BC34A"/>
<rect x="685.82" y="1121.1" width="12.1" height="47.2" fill="#FFEB3B"/>
<rect x="685.82" y="1125.49" width="12.1" height="42.81" fill="#FF9800"/>
<rect x="685.82" y="1139.03" width="12.1" height="29.27" fill="#607D8B"/>
<rect x="685.82" y="1141.96" width="12.1" height="26.34" fill="#E57373"/>
<rect x="703.1" y="802.4" width="12.1" height="365.9" fill="#F44336"/>
<rect x="703.1" y="937.05" width="12.1" height="231.25" fill="#2196F3"/>
<rect x="703.1" y="963.76" width="12.1" height="204.54" fill="#E91E63"/>
<rect x="703.1" y="999.25" width="12.1" height="169.05" fill="#9C27B0"/>
<rect x="703.1" y="1034.01" width="12.1" height="134.29" fill="#673AB7"/>
<rect x="703.1" y="1056.7" width="12.1" height="111.6" fill="#00BCD4"/>
<rect x="703.1" y="1060.73" width="12.1" height="107.57" fill="#009688"/>
<rect x="703.1" y="1081.58" width="12.1" height="86.72" fill="#4CAF50"/>
<rect x="703.1" y="1103.9" width="12.1" height="64.4" fill="#8BC34A"/>
<rect x="703.1" y="1115.24" width="12.1" height="53.06" fill="#CDDC39"/>
<rect x="703.1" y="1126.59" width="12.1" height="41.71" fill="#FFEB3B"/>
<rect x="703.1" y="1132.08" width="12.1" height="36.22" fill="#795548"/>
<rect x="703.1" y="1135.37" width="12.1" height="32.93" fill="#455A64"/>
<rect x="703.1" y="1137.93" width="12.1" height="30.37" fill="#E57373"/>
<rect x="720.38" y="802.4" width="12.1" height="365.9" fill="#F44336"/>
<rect x="720.38" y="899.36" width="12.1" height="268.94" fill="#2196F3"/>
<rect x="720.38" y="948.39" width="12.1" height="219.91" fill="#E91E63"/>
<rect x="720.38" y="1000.35" width="12.1" height="167.95" fill="#9C27B0"/>
<rect x="720.38" y="1031.82" width="12.1" height="136.48" fill="#673AB7"/>
<rect x="720.38" y="1044.26" width="12.1" height="124.04" fill="#03A9F4"/>
<rect x="720.38" y="1068.04" width="12.1" height="100.26" fill="#8BC34A"/>
<rect x="720.38" y="1076.09" width="12.1" height="92.21" fill="#CDDC39"/>
<rect x="720.38" y="1084.87" width="12.1" height="83.43" fill="#FFEB3B"/>
<rect x="720.38" y="1102.8" width="12.1" height="65.5" fill="#FFC107"/>
<rect x="720.38" y="1115.24" width="12.1" height="53.06" fill="#FF5722"/>
<rect x="720.38" y="1124.76" width="12.1" height="43.54" fill="#795548"/>
<rect x="720.38" y="1133.17" width="12.1" height="35.13" fill="#E57373"/>
<rect x="737.66" y="802.4" width="12.1" height="365.9" fill="#F44336"/>
<rect x="737.66" y="864.97" width="12.1" height="303.33" fill="#2196F3"/>
<rect x="737.66" y="975.47" width="12.1" height="192.83" fill="#E91E63"/>
<rect x="737.66" y="1031.45" width="12.1" height="136.85" fill="#3F51B5"/>
<rect x="737.66" y="1042.06" width="12.1" height="126.24" fill="#03A9F4"/>
<rect x="737.66" y="1097.32" width="12.1" height="70.98" fill="#00BCD4"/>
<rect x="737.66" y="1122.56" width="12.1" height="45.74" fill="#009688"/>
<rect x="737.66" y="1132.08" width="12.1" height="36.22" fill="#4CAF50"/>
<rect x="737.66" y="1137.56" width="12.1" height="30.74" fill="#8BC34A"/>
<rect x="737.66" y="1143.42" width="12.1" height="24.88" fill="#CDDC39"/>
<rect x="737.66" y="1151.47" width="12.1" height="16.83" fill="#E57373"/>
<rect x="754.94" y="802.4" width="12.1" height="365.9" fill="#F44336"/>
<rect x="754.94" y="885.46" width="12.1" height="282.84" fill="#2196F3"/>
<rect x="754.94" y="1054.87" width="12.1" height="113.43" fill="#E91E63"/>
<rect x="754.94" y="1073.53" width="12.1" height="94.77" fill="#9C27B0"/>
<rect x="754.94" y="1105" width="12.1" height="63.3" fill="#00BCD4"/>
<rect x="754.94" y="1127.69" width="12.1" height="40.61" fill="#009688"/>
<rect x="754.94" y="1151.1" width="12.1" height="17.2" fill="#FFC107"/>
<rect x="754.94" y="1152.57" width="12.1" height="15.73" fill="#9E9E9E"/>
<rect x="754.94" y="1158.79" width="12.1" height="9.51" fill="#E57373"/>
<rect x="772.22" y="802.4" width="12.1" height="365.9" fill="#F44336"/>
<rect x="772.22" y="839.72" width="12.1" height="328.58" fill="#2196F3"/>
<rect x="772.22" y="866.07" width="12.1" height="302.23" fill="#E91E63"/>
<rect x="772.22" y="875.21" width="12.1" height="293.09" fill="#9C27B0"/>
<rect x="772.22" y="942.91" width="12.1" height="225.39" fill="#3F51B5"/>
<rect x="772.22" y="965.23" width="12.1" height="203.07" fill="#03A9F4"/>
<rect x="772.22" y="1111.22" width="12.1" height="57.08" fill="#00BCD4"/>
<rect x="772.22" y="1145.25" width="12.1" height="23.05" fill="#4CAF50"/>
<rect x="772.22" y="1158.05" width="12.1" height="10.25" fill="#CDDC39"/>
<rect x="772.22" y="1164.64" width="12.1" height="3.66" fill="#E57373"/>
<rect x="789.5" y="802.4" width="12.1" height="365.9" fill="#F44336"/>
<rect x="789.5" y="870.82" width="12.1" height="297.48" fill="#2196F3"/>
<rect x="789.5" y="882.17" width="12.1" height="286.13" fill="#E91E63"/>
<rect x="789.5" y="916.93" width="12.1" height="251.37" fill="#9C27B0"/>
<rect x="789.5" y="942.91" width="12.1" height="225.39" fill="#673AB7"/>
<rect x="789.5" y="1009.5" width="12.1" height="158.8" fill="#3F51B5"/>
<rect x="789.5" y="1093.29" width="12.1" height="75.01" fill="#03A9F4"/>
<rect x="789.5" y="1097.68" width="12.1" height="70.62" fill="#4CAF50"/>
<rect x="789.5" y="1121.46" width="12.1" height="46.84" fill="#CDDC39"/>
<rect x="789.5" y="1144.15" width="12.1" height="24.15" fill="#FFEB3B"/>
<rect x="789.5" y="1148.18" width="12.1" height="20.12" fill="#795548"/>
<rect x="789.5" y="1159.88" width="12.1" height="8.42" fill="#E57373"/>
<rect x="806.78" y="802.4" width="12.1" height="365.9" fill="#F44336"/>
<rect x="806.78" y="897.17" width="12.1" height="271.13" fill="#2196F3"/>
<rect x="806.78" y="1030.72" width="12.1" height="137.58" fill="#E91E63"/>
<rect x="806.78" y="1088.17" width="12.1" height="80.13" fill="#9C27B0"/>
<rect x="806.78" y="1098.41" width="12.1" height="69.89" fill="#03A9F4"/>
<rect x="806.78" y="1119.27" width="12.1" height="49.03" fill="#009688"/>
<rect x="806.78" y="1139.76" width="12.1" height="28.54" fill="#8BC34A"/>
<rect x="806.78" y="1152.57" width="12.1" height="15.73" fill="#FFC107"/>
<rect x="806.78" y="1162.08" width="12.1" height="6.22" fill="#E57373"/>
<rect x="824.06" y="802.4" width="12.1" height="365.9" fill="#F44336"/>
<rect x="824.06" y="903.75" width="12.1" height="264.55" fill="#2196F3"/>
<rect x="824.06" y="994.13" width="12.1" height="174.17" fill="#E91E63"/>
<rect x="824.06" y="1008.77" width="12.1" height="159.53" fill="#9C27B0"/>
<rect x="824.06" y="1065.85" width="12.1" height="102.45" fill="#673AB7"/>
<rect x="824.06" y="1097.32" width="12.1" height="70.98" fill="#03A9F4"/>
<rect x="824.06" y="1101.71" width="12.1" height="66.59" fill="#CDDC39"/>
<rect x="824.06" y="1128.42" width="12.1" height="39.88" fill="#FF5722"/>
<rect x="824.06" y="1139.03" width="12.1" height="29.27" fill="#9E9E9E"/>
<rect x="824.06" y="1151.83" width="12.1" height="16.47" fill="#E57373"/>
<rect x="841.33" y="802.4" width="12.1" height="365.9" fill="#F44336"/>
<rect x="841.33" y="950.59" width="12.1" height="217.71" fill="#2196F3"/>
<rect x="841.33" y="977.67" width="12.1" height="190.63" fill="#E91E63"/>
<rect x="841.33" y="1011.69" width="12.1" height="156.61" fill="#9C27B0"/>
<rect x="841.33" y="1043.16" width="12.1" height="125.14" fill="#3F51B5"/>
<rect x="841.33" y="1068.41" width="12.1" height="99.89" fill="#009688"/>
<rect x="841.33" y="1075.73" width="12.1" height="92.57" fill="#4CAF50"/>
<rect x="841.33" y="1104.63" width="12.1" height="63.67" fill="#8BC34A"/>
<rect x="841.33" y="1122.2" width="12.1" height="46.1" fill="#FFEB3B"/>
<rect x="841.33" y="1132.08" width="12.1" height="36.22" fill="#FFC107"/>
<rect x="841.33" y="1139.03" width="12.1" height="29.27" fill="#455A64"/>
<rect x="841.33" y="1144.52" width="12.1" height="23.78" fill="#E57373"/>
<rect x="858.61" y="802.4" width="12.1" height="365.9" fill="#F44336"/>
<rect x="858.61" y="841.55" width="12.1" height="326.75" fill="#2196F3"/>
<rect x="858.61" y="918.02" width="12.1" height="250.28" fill="#E91E63"/>
<rect x="858.61" y="932.66" width="12.1" height="235.64" fill="#673AB7"/>
<rect x="858.61" y="950.22" width="12.1" height="218.08" fill="#03A9F4"/>
<rect x="858.61" y="1116.34" width="12.1" height="51.96" fill="#8BC34A"/>
<rect x="858.61" y="1139.76" width="12.1" height="28.54" fill="#FFC107"/>
<rect x="858.61" y="1152.57" width="12.1" height="15.73" fill="#FF9800"/>
<rect x="858.61" y="1159.15" width="12.1" height="9.15" fill="#E57373"/>
<rect x="875.89" y="802.4" width="12.1" height="365.9" fill="#F44336"/>
<rect x="875.89" y="862.41" width="12.1" height="305.89" fill="#2196F3"/>
<rect x="875.89" y="963.03" width="12.1" height="205.27" fill="#E91E63"/>
<rect x="875.89" y="983.52" width="12.1" height="184.78" fill="#673AB7"/>
<rect x="875.89" y="999.25" width="12.1" height="169.05" fill="#00BCD4"/>
<rect x="875.89" y="1033.65" width="12.1" height="134.65" fill="#009688"/>
<rect x="875.89" y="1083.78" width="12.1" height="84.52" fill="#4CAF50"/>
<rect x="875.89" y="1147.44" width="12.1" height="20.86" fill="#CDDC39"/>
<rect x="875.89" y="1149.64" width="12.1" height="18.66" fill="#FF9800"/>
<rect x="875.89" y="1156.96" width="12.1" height="11.34" fill="#9E9E9E"/>
<rect x="875.89" y="1162.08" width="12.1" height="6.22" fill="#E57373"/>
<rect x="893.17" y="802.4" width="12.1" height="365.9" fill="#F44336"/>
<rect x="893.17" y="851.43" width="12.1" height="316.87" fill="#2196F3"/>
<rect x="893.17" y="1000.72" width="12.1" height="167.58" fill="#E91E63"/>
<rect x="893.17" y="1038.04" width="12.1" height="130.26" fill="#9C27B0"/>
<rect x="893.17" y="1101.34" width="12.1" height="66.96" fill="#00BCD4"/>
<rect x="893.17" y="1109.76" width="12.1" height="58.54" fill="#009688"/>
<rect x="893.17" y="1145.61" width="12.1" height="22.69" fill="#CDDC39"/>
<rect x="893.17" y="1155.86" width="12.1" height="12.44" fill="#FF9800"/>
<rect x="893.17" y="1163.91" width="12.1" height="4.39" fill="#E57373"/>
<rect x="910.45" y="802.4" width="12.1" height="365.9" fill="#F44336"/>
<rect x="910.45" y="877.41" width="12.1" height="290.89" fill="#2196F3"/>
<rect x="910.45" y="997.79" width="12.1" height="170.51" fill="#E91E63"/>
<rect x="910.45" y="1025.23" width="12.1" height="143.07" fill="#673AB7"/>
<rect x="910.45" y="1044.99" width="12.1" height="123.31" fill="#00BCD4"/>
<rect x="910.45" y="1103.54" width="12.1" height="64.76" fill="#FFEB3B"/>
<rect x="910.45" y="1118.54" width="12.1" height="49.76" fill="#FF9800"/>
<rect x="910.45" y="1135.73" width="12.1" height="32.57" fill="#9E9E9E"/>
<rect x="910.45" y="1139.03" width="12.1" height="29.27" fill="#E57373"/>
<rect x="927.73" y="802.4" width="12.1" height="365.9" fill="#F44336"/>
<rect x="927.73" y="912.54" width="12.1" height="255.76" fill="#2196F3"/>
<rect x="927.73" y="1039.87" width="12.1" height="128.43" fill="#E91E63"/>
<rect x="927.73" y="1045.36" width="12.1" height="122.94" fill="#9C27B0"/>
<rect x="927.73" y="1069.87" width="12.1" height="98.43" fill="#00BCD4"/>
<rect x="927.73" y="1073.53" width="12.1" height="94.77" fill="#009688"/>
<rect x="927.73" y="1076.83" width="12.1" height="91.47" fill="#4CAF50"/>
<rect x="927.73" y="1138.3" width="12.1" height="30" fill="#CDDC39"/>
<rect x="927.73" y="1144.52" width="12.1" height="23.78" fill="#FFC107"/>
<rect x="927.73" y="1150.37" width="12.1" height="17.93" fill="#9E9E9E"/>
<rect x="927.73" y="1154.76" width="12.1" height="13.54" fill="#455A64"/>
<rect x="927.73" y="1162.08" width="12.1" height="6.22" fill="#E57373"/>
<rect x="945.01" y="802.4" width="12.1" height="365.9" fill="#F44336"/>
<rect x="945.01" y="897.9" width="12.1" height="270.4" fill="#2196F3"/>
<rect x="945.01" y="1116.34" width="12.1" height="51.96" fill="#E91E63"/>
<rect x="945.01" y="1120" width="12.1" height="48.3" fill="#673AB7"/>
<rect x="945.01" y="1133.17" width="12.1" height="35.13" fill="#00BCD4"/>
<rect x="945.01" y="1140.49" width="12.1" height="27.81" fill="#4CAF50"/>
<rect x="945.01" y="1144.88" width="12.1" height="23.42" fill="#CDDC39"/>
<rect x="945.01" y="1149.27" width="12.1" height="19.03" fill="#FFC107"/>
<rect x="945.01" y="1154.76" width="12.1" height="13.54" fill="#455A64"/>
<rect x="945.01" y="1156.96" width="12.1" height="11.34" fill="#E57373"/>
<rect x="962.29" y="802.4" width="12.1" height="365.9" fill="#F44336"/>
<rect x="962.29" y="998.52" width="12.1" height="169.78" fill="#2196F3"/>
<rect x="962.29" y="1008.77" width="12.1" height="159.53" fill="#E91E63"/>
<rect x="962.29" y="1039.87" width="12.1" height="128.43" fill="#673AB7"/>
<rect x="962.29" y="1054.51" width="12.1" height="113.79" fill="#3F51B5"/>
<rect x="962.29" y="1128.78" width="12.1" height="39.52" fill="#03A9F4"/>
<rect x="962.29" y="1133.17" width="12.1" height="35.13" fill="#CDDC39"/>
<rect x="962.29" y="1135" width="12.1" height="33.3" fill="#FFEB3B"/>
<rect x="962.29" y="1145.61" width="12.1" height="22.69" fill="#FFC107"/>
<rect x="962.29" y="1151.47" width="12.1" height="16.83" fill="#9E9E9E"/>
<rect x="962.29" y="1154.76" width="12.1" height="13.54" fill="#E57373"/>
<rect x="979.57" y="802.4" width="12.1" height="365.9" fill="#F44336"/>
<rect x="979.57" y="994.13" width="12.1" height="174.17" fill="#2196F3"/>
<rect x="979.57" y="1023.04" width="12.1" height="145.26" fill="#E91E63"/>
<rect x="979.57" y="1038.77" width="12.1" height="129.53" fill="#9C27B0"/>
<rect x="979.57" y="1091.1" width="12.1" height="77.2" fill="#00BCD4"/>
<rect x="979.57" y="1131.71" width="12.1" height="36.59" fill="#4CAF50"/>
<rect x="979.57" y="1136.1" width="12.1" height="32.2" fill="#CDDC39"/>
<rect x="979.57" y="1151.1" width="12.1" height="17.2" fill="#FFC107"/>
<rect x="979.57" y="1154.03" width="12.1" height="14.27" fill="#E57373"/>
<rect x="996.85" y="802.4" width="12.1" height="365.9" fill="#F44336"/>
<rect x="996.85" y="951.69" width="12.1" height="216.61" fill="#2196F3"/>
<rect x="996.85" y="1030.72" width="12.1" height="137.58" fill="#E91E63"/>
<rect x="996.85" y="1064.75" width="12.1" height="103.55" fill="#673AB7"/>
<rect x="996.85" y="1083.78" width="12.1" height="84.52" fill="#00BCD4"/>
<rect x="996.85" y="1088.17" width="12.1" height="80.13" fill="#009688"/>
<rect x="996.85" y="1094.75" width="12.1" height="73.55" fill="#4CAF50"/>
<rect x="996.85" y="1107.56" width="12.1" height="60.74" fill="#8BC34A"/>
<rect x="996.85" y="1126.59" width="12.1" height="41.71" fill="#FF9800"/>
<rect x="996.85" y="1135.73" width="12.1" height="32.57" fill="#9E9E9E"/>
<rect x="996.85" y="1145.25" width="12.1" height="23.05" fill="#E57373"/>
<rect x="1014.13" y="802.4" width="12.1" height="365.9" fill="#F44336"/>
<rect x="1014.13" y="866.07" width="12.1" height="302.23" fill="#2196F3"/>
<rect x="1014.13" y="980.59" width="12.1" height="187.71" fill="#E91E63"/>
<rect x="1014.13" y="1005.84" width="12.1" height="162.46" fill="#3F51B5"/>
<rect x="1014.13" y="1080.48" width="12.1" height="87.82" fill="#00BCD4"/>
<rect x="1014.13" y="1117.07" width="12.1" height="51.23" fill="#FFEB3B"/>
<rect x="1014.13" y="1141.22" width="12.1" height="27.08" fill="#FF9800"/>
<rect x="1014.13" y="1152.57" width="12.1" height="15.73" fill="#9E9E9E"/>
<rect x="1014.13" y="1154.76" width="12.1" height="13.54" fill="#E57373"/>
<rect x="1031.41" y="802.4" width="12.1" height="365.9" fill="#F44336"/>
<rect x="1031.41" y="930.1" width="12.1" height="238.2" fill="#2196F3"/>
<rect x="1031.41" y="1096.95" width="12.1" height="71.35" fill="#E91E63"/>
<rect x="1031.41" y="1106.46" width="12.1" height="61.84" fill="#673AB7"/>
<rect x="1031.41" y="1115.24" width="12.1" height="53.06" fill="#00BCD4"/>
<rect x="1031.41" y="1141.22" width="12.1" height="27.08" fill="#4CAF50"/>
<rect x="1031.41" y="1144.15" width="12.1" height="24.15" fill="#CDDC39"/>
<rect x="1031.41" y="1149.27" width="12.1" height="19.03" fill="#FFC107"/>
<rect x="1031.41" y="1159.15" width="12.1" height="9.15" fill="#FF9800"/>
<rect x="1031.41" y="1162.81" width="12.1" height="5.49" fill="#E57373"/>
<rect x="1048.69" y="802.4" width="12.1" height="365.9" fill="#F44336"/>
<rect x="1048.69" y="883.26" width="12.1" height="285.04" fill="#2196F3"/>
<rect x="1048.69" y="1080.85" width="12.1" height="87.45" fill="#E91E63"/>
<rect x="1048.69" y="1099.14" width="12.1" height="69.16" fill="#673AB7"/>
<rect x="1048.69" y="1105.37" width="12.1" height="62.93" fill="#00BCD4"/>
<rect x="1048.69" y="1111.22" width="12.1" height="57.08" fill="#009688"/>
<rect x="1048.69" y="1115.98" width="12.1" height="52.32" fill="#4CAF50"/>
<rect x="1048.69" y="1126.59" width="12.1" height="41.71" fill="#8BC34A"/>
<rect x="1048.69" y="1137.93" width="12.1" height="30.37" fill="#CDDC39"/>
<rect x="1048.69" y="1151.47" width="12.1" height="16.83" fill="#FF9800"/>
<rect x="1048.69" y="1156.96" width="12.1" height="11.34" fill="#FF5722"/>
<rect x="1048.69" y="1159.15" width="12.1" height="9.15" fill="#E57373"/>
<rect x="1065.97" y="802.4" width="12.1" height="365.9" fill="#F44336"/>
<rect x="1065.97" y="950.22" width="12.1" height="218.08" fill="#2196F3"/>
<rect x="1065.97" y="979.86" width="12.1" height="188.44" fill="#E91E63"/>
<rect x="1065.97" y="1080.85" width="12.1" height="87.45" fill="#9C27B0"/>
<rect x="1065.97" y="1116.71" width="12.1" height="51.59" fill="#673AB7"/>
<rect x="1065.97" y="1130.25" width="12.1" height="38.05" fill="#03A9F4"/>
<rect x="1065.97" y="1137.2" width="12.1" height="31.1" fill="#8BC34A"/>
<rect x="1065.97" y="1149.27" width="12.1" height="19.03" fill="#CDDC39"/>
<rect x="1065.97" y="1154.76" width="12.1" height="13.54" fill="#FFEB3B"/>
<rect x="1065.97" y="1158.42" width="12.1" height="9.88" fill="#795548"/>
<rect x="1065.97" y="1160.62" width="12.1" height="7.68" fill="#607D8B"/>
<rect x="1065.97" y="1162.81" width="12.1" height="5.49" fill="#E57373"/>
<rect x="1083.25" y="802.4" width="12.1" height="365.9" fill="#F44336"/>
<rect x="1083.25" y="843.75" width="12.1" height="324.55" fill="#2196F3"/>
<rect x="1083.25" y="911.44" width="12.1" height="256.86" fill="#E91E63"/>
<rect x="1083.25" y="934.86" width="12.1" height="233.44" fill="#9C27B0"/>
<rect x="1083.25" y="957.18" width="12.1" height="211.12" fill="#3F51B5"/>
<rect x="1083.25" y="1084.87" width="12.1" height="83.43" fill="#00BCD4"/>
<rect x="1083.25" y="1089.27" width="12.1" height="79.03" fill="#4CAF50"/>
<rect x="1083.25" y="1097.68" width="12.1" height="70.62" fill="#FFEB3B"/>
<rect x="1083.25" y="1134.27" width="12.1" height="34.03" fill="#FFC107"/>
<rect x="1083.25" y="1151.47" width="12.1" height="16.83" fill="#795548"/>
<rect x="1083.25" y="1162.81" width="12.1" height="5.49" fill="#E57373"/>
<rect x="1100.53" y="802.4" width="12.1" height="365.9" fill="#F44336"/>
<rect x="1100.53" y="957.54" width="12.1" height="210.76" fill="#2196F3"/>
<rect x="1100.53" y="1001.82" width="12.1" height="166.48" fill="#E91E63"/>
<rect x="1100.53" y="1038.41" width="12.1" height="129.89" fill="#9C27B0"/>
<rect x="1100.53" y="1053.41" width="12.1" height="114.89" fill="#673AB7"/>
<rect x="1100.53" y="1087.8" width="12.1" height="80.5" fill="#00BCD4"/>
<rect x="1100.53" y="1093.66" width="12.1" height="74.64" fill="#8BC34A"/>
<rect x="1100.53" y="1107.56" width="12.1" height="60.74" fill="#CDDC39"/>
<rect x="1100.53" y="1118.17" width="12.1" height="50.13" fill="#FFC107"/>
<rect x="1100.53" y="1121.1" width="12.1" height="47.2" fill="#FF5722"/>
<rect x="1100.53" y="1124.39" width="12.1" height="43.91" fill="#9E9E9E"/>
<rect x="1100.53" y="1128.78" width="12.1" height="39.52" fill="#607D8B"/>
<rect x="1100.53" y="1134.27" width="12.1" height="34.03" fill="#E57373"/>
<rect x="1117.81" y="802.4" width="12.1" height="365.9" fill="#F44336"/>
<rect x="1117.81" y="881.07" width="12.1" height="287.23" fill="#2196F3"/>
<rect x="1117.81" y="912.54" width="12.1" height="255.76" fill="#E91E63"/>
<rect x="1117.81" y="944" width="12.1" height="224.3" fill="#9C27B0"/>
<rect x="1117.81" y="962.3" width="12.1" height="206" fill="#673AB7"/>
<rect x="1117.81" y="1027.79" width="12.1" height="140.51" fill="#3F51B5"/>
<rect x="1117.81" y="1093.66" width="12.1" height="74.64" fill="#00BCD4"/>
<rect x="1117.81" y="1144.88" width="12.1" height="23.42" fill="#8BC34A"/>
<rect x="1117.81" y="1147.81" width="12.1" height="20.49" fill="#CDDC39"/>
<rect x="1117.81" y="1153.3" width="12.1" height="15" fill="#FF9800"/>
<rect x="1117.81" y="1155.86" width="12.1" height="12.44" fill="#795548"/>
<rect x="1117.81" y="1160.62" width="12.1" height="7.68" fill="#E57373"/>
<rect x="1135.08" y="802.4" width="12.1" height="365.9" fill="#F44336"/>
<rect x="1135.08" y="852.89" width="12.1" height="315.41" fill="#2196F3"/>
<rect x="1135.08" y="954.61" width="12.1" height="213.69" fill="#E91E63"/>
<rect x="1135.08" y="1013.89" width="12.1" height="154.41" fill="#9C27B0"/>
<rect x="1135.08" y="1068.78" width="12.1" height="99.52" fill="#673AB7"/>
<rect x="1135.08" y="1099.14" width="12.1" height="69.16" fill="#00BCD4"/>
<rect x="1135.08" y="1117.07" width="12.1" height="51.23" fill="#009688"/>
<rect x="1135.08" y="1120.37" width="12.1" height="47.93" fill="#CDDC39"/>
<rect x="1135.08" y="1132.44" width="12.1" height="35.86" fill="#FF5722"/>
<rect x="1135.08" y="1135.73" width="12.1" height="32.57" fill="#795548"/>
<rect x="1135.08" y="1156.23" width="12.1" height="12.07" fill="#9E9E9E"/>
<rect x="1135.08" y="1160.62" width="12.1" height="7.68" fill="#E57373"/>
<rect x="94" y="802.4" width="1057.5" height="365.9" fill="none" stroke="#a4a4b4" stroke-width="0.9"/>
<line x1="91.3" y1="1168.3" x2="94" y2="1168.3" stroke="#444" stroke-width="0.7"/>
<text x="89.8" y="1171.4" text-anchor="end" font-size="9.4" fill="#1e1e1e">0.00</text>
<line x1="91.3" y1="1076.83" x2="94" y2="1076.83" stroke="#444" stroke-width="0.7"/>
<text x="89.8" y="1079.92" text-anchor="end" font-size="9.4" fill="#1e1e1e">0.25</text>
<line x1="91.3" y1="985.35" x2="94" y2="985.35" stroke="#444" stroke-width="0.7"/>
<text x="89.8" y="988.45" text-anchor="end" font-size="9.4" fill="#1e1e1e">0.50</text>
<line x1="91.3" y1="893.88" x2="94" y2="893.88" stroke="#444" stroke-width="0.7"/>
<text x="89.8" y="896.98" text-anchor="end" font-size="9.4" fill="#1e1e1e">0.75</text>
<line x1="91.3" y1="802.4" x2="94" y2="802.4" stroke="#444" stroke-width="0.7"/>
<text x="89.8" y="805.5" text-anchor="end" font-size="9.4" fill="#1e1e1e">1.00</text>
<line x1="104.37" y1="1168.3" x2="104.37" y2="1171" stroke="#444" stroke-width="0.7"/>
<line x1="121.65" y1="1168.3" x2="121.65" y2="1171" stroke="#444" stroke-width="0.7"/>
<line x1="138.93" y1="1168.3" x2="138.93" y2="1171" stroke="#444" stroke-width="0.7"/>
<line x1="156.21" y1="1168.3" x2="156.21" y2="1171" stroke="#444" stroke-width="0.7"/>
<line x1="173.49" y1="1168.3" x2="173.49" y2="1171" stroke="#444" stroke-width="0.7"/>
<line x1="190.76" y1="1168.3" x2="190.76" y2="1171" stroke="#444" stroke-width="0.7"/>
<line x1="208.04" y1="1168.3" x2="208.04" y2="1171" stroke="#444" stroke-width="0.7"/>
<line x1="225.32" y1="1168.3" x2="225.32" y2="1171" stroke="#444" stroke-width="0.7"/>
<line x1="242.6" y1="1168.3" x2="242.6" y2="1171" stroke="#444" stroke-width="0.7"/>
<line x1="259.88" y1="1168.3" x2="259.88" y2="1171" stroke="#444" stroke-width="0.7"/>
<line x1="277.16" y1="1168.3" x2="277.16" y2="1171" stroke="#444" stroke-width="0.7"/>
<line x1="294.44" y1="1168.3" x2="294.44" y2="1171" stroke="#444" stroke-width="0.7"/>
<line x1="311.72" y1="1168.3" x2="311.72" y2="1171" stroke="#444" stroke-width="0.7"/>
<line x1="329" y1="1168.3" x2="329" y2="1171" stroke="#444" stroke-width="0.7"/>
<line x1="346.28" y1="1168.3" x2="346.28" y2="1171" stroke="#444" stroke-width="0.7"/>
<line x1="363.56" y1="1168.3" x2="363.56" y2="1171" stroke="#444" stroke-width="0.7"/>
<line x1="380.84" y1="1168.3" x2="380.84" y2="1171" stroke="#444" stroke-width="0.7"/>
<line x1="398.12" y1="1168.3" x2="398.12" y2="1171" stroke="#444" stroke-width="0.7"/>
<line x1="415.4" y1="1168.3" x2="415.4" y2="1171" stroke="#444" stroke-width="0.7"/>
<line x1="432.68" y1="1168.3" x2="432.68" y2="1171" stroke="#444" stroke-width="0.7"/>
<line x1="449.96" y1="1168.3" x2="449.96" y2="1171" stroke="#444" stroke-width="0.7"/>
<line x1="467.24" y1="1168.3" x2="467.24" y2="1171" stroke="#444" stroke-width="0.7"/>
<line x1="484.51" y1="1168.3" x2="484.51" y2="1171" stroke="#444" stroke-width="0.7"/>
<line x1="501.79" y1="1168.3" x2="501.79" y2="1171" stroke="#444" stroke-width="0.7"/>
<line x1="519.07" y1="1168.3" x2="519.07" y2="1171" stroke="#444" stroke-width="0.7"/>
<line x1="536.35" y1="1168.3" x2="536.35" y2="1171" stroke="#444" stroke-width="0.7"/>
<line x1="553.63" y1="1168.3" x2="553.63" y2="1171" stroke="#444" stroke-width="0.7"/>
<line x1="570.91" y1="1168.3" x2="570.91" y2="1171" stroke="#444" stroke-width="0.7"/>
<line x1="588.19" y1="1168.3" x2="588.19" y2="1171" stroke="#444" stroke-width="0.7"/>
<line x1="605.47" y1="1168.3" x2="605.47" y2="1171" stroke="#444" stroke-width="0.7"/>
<line x1="622.75" y1="1168.3" x2="622.75" y2="1171" stroke="#444" stroke-width="0.7"/>
<line x1="640.03" y1="1168.3" x2="640.03" y2="1171" stroke="#444" stroke-width="0.7"/>
<line x1="657.31" y1="1168.3" x2="657.31" y2="1171" stroke="#444" stroke-width="0.7"/>
<line x1="674.59" y1="1168.3" x2="674.59" y2="1171" stroke="#444" stroke-width="0.7"/>
<line x1="691.87" y1="1168.3" x2="691.87" y2="1171" stroke="#444" stroke-width="0.7"/>
<line x1="709.15" y1="1168.3" x2="709.15" y2="1171" stroke="#444" stroke-width="0.7"/>
<line x1="726.43" y1="1168.3" x2="726.43" y2="1171" stroke="#444" stroke-width="0.7"/>
<line x1="743.71" y1="1168.3" x2="743.71" y2="1171" stroke="#444" stroke-width="0.7"/>
<line x1="760.99" y1="1168.3" x2="760.99" y2="1171" stroke="#444" stroke-width="0.7"/>
<line x1="778.26" y1="1168.3" x2="778.26" y2="1171" stroke="#444" stroke-width="0.7"/>
<line x1="795.54" y1="1168.3" x2="795.54" y2="1171" stroke="#444" stroke-width="0.7"/>
<line x1="812.82" y1="1168.3" x2="812.82" y2="1171" stroke="#444" stroke-width="0.7"/>
<line x1="830.1" y1="1168.3" x2="830.1" y2="1171" stroke="#444" stroke-width="0.7"/>
<line x1="847.38" y1="1168.3" x2="847.38" y2="1171" stroke="#444" stroke-width="0.7"/>
<line x1="864.66" y1="1168.3" x2="864.66" y2="1171" stroke="#444" stroke-width="0.7"/>
<line x1="881.94" y1="1168.3" x2="881.94" y2="1171" stroke="#444" stroke-width="0.7"/>
<line x1="899.22" y1="1168.3" x2="899.22" y2="1171" stroke="#444" stroke-width="0.7"/>
<line x1="916.5" y1="1168.3" x2="916.5" y2="1171" stroke="#444" stroke-width="0.7"/>
<line x1="933.78" y1="1168.3" x2="933.78" y2="1171" stroke="#444" stroke-width="0.7"/>
<line x1="951.06" y1="1168.3" x2="951.06" y2="1171" stroke="#444" stroke-width="0.7"/>
<line x1="968.34" y1="1168.3" x2="968.34" y2="1171" stroke="#444" stroke-width="0.7"/>
<line x1="985.62" y1="1168.3" x2="985.62" y2="1171" stroke="#444" stroke-width="0.7"/>
<line x1="1002.9" y1="1168.3" x2="1002.9" y2="1171" stroke="#444" stroke-width="0.7"/>
<line x1="1020.18" y1="1168.3" x2="1020.18" y2="1171" stroke="#444" stroke-width="0.7"/>
<line x1="1037.46" y1="1168.3" x2="1037.46" y2="1171" stroke="#444" stroke-width="0.7"/>
<line x1="1054.74" y1="1168.3" x2="1054.74" y2="1171" stroke="#444" stroke-width="0.7"/>
<line x1="1072.01" y1="1168.3" x2="1072.01" y2="1171" stroke="#444" stroke-width="0.7"/>
<line x1="1089.29" y1="1168.3" x2="1089.29" y2="1171" stroke="#444" stroke-width="0.7"/>
<line x1="1106.57" y1="1168.3" x2="1106.57" y2="1171" stroke="#444" stroke-width="0.7"/>
<line x1="1123.85" y1="1168.3" x2="1123.85" y2="1171" stroke="#444" stroke-width="0.7"/>
<line x1="1141.13" y1="1168.3" x2="1141.13" y2="1171" stroke="#444" stroke-width="0.7"/>
<text x="69.3" y="985.35" text-anchor="middle" font-size="9.7" fill="#1e1e1e" transform="rotate(-90 69.3 985.35)">Relative Abundance</text>
<rect x="98.32" y="1175.7" width="340.4" height="13.7" fill="#c6c6c6"/>
<text x="277.4" y="1186.15" text-anchor="middle" font-size="9.5" fill="#1e1e1e">PCOS-NIR</text>
<rect x="443.91" y="1175.7" width="167.61" height="13.7" fill="#c6c6c6"/>
<text x="529.4" y="1186.15" text-anchor="middle" font-size="9.5" fill="#1e1e1e">PCOS-NIR treated</text>
<rect x="616.7" y="1175.7" width="357.68" height="13.7" fill="#c6c6c6"/>
<text x="792.8" y="1186.15" text-anchor="middle" font-size="9.5" fill="#1e1e1e">PCOS-IR</text>
<rect x="979.57" y="1175.7" width="167.61" height="13.7" fill="#c6c6c6"/>
<text x="1052.9" y="1186.15" text-anchor="middle" font-size="9.5" fill="#1e1e1e">PCOS-IR treated</text>
<text x="1164.8" y="835.5" font-size="9.8" fill="#1e1e1e">taxon</text>
<rect x="1165.3" y="841.5" width="12.8" height="12.5" fill="#F44336"/>
<text x="1184" y="850.95" font-size="9.8" fill="#1e1e1e">o__Lachnospirales</text>
<rect x="1165.3" y="855.5" width="12.8" height="12.5" fill="#2196F3"/>
<text x="1184" y="864.95" font-size="9.8" fill="#1e1e1e">o__Oscillospirales</text>
<rect x="1165.3" y="869.5" width="12.8" height="12.5" fill="#E91E63"/>
<text x="1184" y="878.95" font-size="9.8" fill="#1e1e1e">o__Bacteroidales</text>
<rect x="1165.3" y="883.5" width="12.8" height="12.5" fill="#9C27B0"/>
<text x="1184" y="892.95" font-size="9.8" fill="#1e1e1e">o__Veillonellales−Selenomonadales</text>
<rect x="1165.3" y="897.5" width="12.8" height="12.5" fill="#673AB7"/>
<text x="1184" y="906.95" font-size="9.8" fill="#1e1e1e">o__Clostridia_UCG−014</text>
<rect x="1165.3" y="911.5" width="12.8" height="12.5" fill="#3F51B5"/>
<text x="1184" y="920.95" font-size="9.8" fill="#1e1e1e">o__Desulfovibrionales</text>
<rect x="1165.3" y="925.5" width="12.8" height="12.5" fill="#03A9F4"/>
<text x="1184" y="934.95" font-size="9.8" fill="#1e1e1e">o__Peptostreptococcales−Tissierellales</text>
<rect x="1165.3" y="939.5" width="12.8" height="12.5" fill="#00BCD4"/>
<text x="1184" y="948.95" font-size="9.8" fill="#1e1e1e">o__Erysipelotrichales</text>
<rect x="1165.3" y="953.5" width="12.8" height="12.5" fill="#009688"/>
<text x="1184" y="962.95" font-size="9.8" fill="#1e1e1e">o__Christensenellales</text>
<rect x="1165.3" y="967.5" width="12.8" height="12.5" fill="#4CAF50"/>
<text x="1184" y="976.95" font-size="9.8" fill="#1e1e1e">o__Acidaminococcales</text>
<rect x="1165.3" y="981.5" width="12.8" height="12.5" fill="#8BC34A"/>
<text x="1184" y="990.95" font-size="9.8" fill="#1e1e1e">o__Bifidobacteriales</text>
<rect x="1165.3" y="995.5" width="12.8" height="12.5" fill="#CDDC39"/>
<text x="1184" y="1004.95" font-size="9.8" fill="#1e1e1e">o__Enterobacterales</text>
<rect x="1165.3" y="1009.5" width="12.8" height="12.5" fill="#FFEB3B"/>
<text x="1184" y="1018.95" font-size="9.8" fill="#1e1e1e">o__Longimicrobiales</text>
<rect x="1165.3" y="1023.5" width="12.8" height="12.5" fill="#FFC107"/>
<text x="1184" y="1032.95" font-size="9.8" fill="#1e1e1e">o__Burkholderiales</text>
<rect x="1165.3" y="1037.5" width="12.8" height="12.5" fill="#FF9800"/>
<text x="1184" y="1046.95" font-size="9.8" fill="#1e1e1e">o__Lactobacillales</text>
<rect x="1165.3" y="1051.5" width="12.8" height="12.5" fill="#FF5722"/>
<text x="1184" y="1060.95" font-size="9.8" fill="#1e1e1e">o__Saccharimonadales</text>
<rect x="1165.3" y="1065.5" width="12.8" height="12.5" fill="#795548"/>
<text x="1184" y="1074.95" font-size="9.8" fill="#1e1e1e">o__Clostridiales</text>
<rect x="1165.3" y="1079.5" width="12.8" height="12.5" fill="#9E9E9E"/>
<text x="1184" y="1088.95" font-size="9.8" fill="#1e1e1e">o__Fusobacteriales</text>
<rect x="1165.3" y="1093.5" width="12.8" height="12.5" fill="#607D8B"/>
<text x="1184" y="1102.95" font-size="9.8" fill="#1e1e1e">o__Rhizobiales</text>
<rect x="1165.3" y="1107.5" width="12.8" height="12.5" fill="#455A64"/>
<text x="1184" y="1116.95" font-size="9.8" fill="#1e1e1e">o__Coriobacteriales</text>
<rect x="1165.3" y="1121.5" width="12.8" height="12.5" fill="#E57373"/>
<text x="1184" y="1130.95" font-size="9.8" fill="#1e1e1e">Others</text>
<text x="3.2" y="797.2" font-family='"Liberation Sans", sans-serif' font-weight="bold" font-size="33.6" fill="#000">C</text>
<line x1="94" y1="1546.54" x2="1196.1" y2="1546.54" stroke="#e6e6e6" stroke-width="0.5"/>
<line x1="94" y1="1500.68" x2="1196.1" y2="1500.68" stroke="#e6e6e6" stroke-width="0.8"/>
<line x1="94" y1="1454.81" x2="1196.1" y2="1454.81" stroke="#e6e6e6" stroke-width="0.5"/>
<line x1="94" y1="1408.95" x2="1196.1" y2="1408.95" stroke="#e6e6e6" stroke-width="0.8"/>
<line x1="94" y1="1363.09" x2="1196.1" y2="1363.09" stroke="#e6e6e6" stroke-width="0.5"/>
<line x1="94" y1="1317.22" x2="1196.1" y2="1317.22" stroke="#e6e6e6" stroke-width="0.8"/>
<line x1="94" y1="1271.36" x2="1196.1" y2="1271.36" stroke="#e6e6e6" stroke-width="0.5"/>
<rect x="98.5" y="1225.5" width="12.61" height="366.9" fill="#F44336"/>
<rect x="98.5" y="1295.94" width="12.61" height="296.46" fill="#2196F3"/>
<rect x="98.5" y="1308.79" width="12.61" height="283.61" fill="#E91E63"/>
<rect x="98.5" y="1359.79" width="12.61" height="232.61" fill="#9C27B0"/>
<rect x="98.5" y="1390.61" width="12.61" height="201.8" fill="#673AB7"/>
<rect x="98.5" y="1421.79" width="12.61" height="170.61" fill="#03A9F4"/>
<rect x="98.5" y="1437.2" width="12.61" height="155.2" fill="#00BCD4"/>
<rect x="98.5" y="1439.04" width="12.61" height="153.36" fill="#8BC34A"/>
<rect x="98.5" y="1446.37" width="12.61" height="146.03" fill="#CDDC39"/>
<rect x="98.5" y="1447.84" width="12.61" height="144.56" fill="#FFC107"/>
<rect x="98.5" y="1465.82" width="12.61" height="126.58" fill="#FF5722"/>
<rect x="98.5" y="1466.92" width="12.61" height="125.48" fill="#795548"/>
<rect x="98.5" y="1509.48" width="12.61" height="82.92" fill="#607D8B"/>
<rect x="98.5" y="1514.25" width="12.61" height="78.15" fill="#455A64"/>
<rect x="98.5" y="1517.19" width="12.61" height="75.21" fill="#E57373"/>
<rect x="116.51" y="1225.5" width="12.61" height="366.9" fill="#F44336"/>
<rect x="116.51" y="1271" width="12.61" height="321.4" fill="#2196F3"/>
<rect x="116.51" y="1378.86" width="12.61" height="213.54" fill="#9C27B0"/>
<rect x="116.51" y="1380.33" width="12.61" height="212.07" fill="#673AB7"/>
<rect x="116.51" y="1405.65" width="12.61" height="186.75" fill="#03A9F4"/>
<rect x="116.51" y="1407.85" width="12.61" height="184.55" fill="#009688"/>
<rect x="116.51" y="1453.34" width="12.61" height="139.06" fill="#4CAF50"/>
<rect x="116.51" y="1459.22" width="12.61" height="133.18" fill="#8BC34A"/>
<rect x="116.51" y="1461.78" width="12.61" height="130.62" fill="#FFEB3B"/>
<rect x="116.51" y="1466.92" width="12.61" height="125.48" fill="#FFC107"/>
<rect x="116.51" y="1481.23" width="12.61" height="111.17" fill="#FF5722"/>
<rect x="116.51" y="1497.01" width="12.61" height="95.39" fill="#607D8B"/>
<rect x="116.51" y="1498.11" width="12.61" height="94.29" fill="#E57373"/>
<rect x="134.52" y="1225.5" width="12.61" height="366.9" fill="#F44336"/>
<rect x="134.52" y="1265.49" width="12.61" height="326.91" fill="#2196F3"/>
<rect x="134.52" y="1294.84" width="12.61" height="297.56" fill="#E91E63"/>
<rect x="134.52" y="1321.63" width="12.61" height="270.77" fill="#9C27B0"/>
<rect x="134.52" y="1333.37" width="12.61" height="259.03" fill="#673AB7"/>
<rect x="134.52" y="1347.31" width="12.61" height="245.09" fill="#3F51B5"/>
<rect x="134.52" y="1353.91" width="12.61" height="238.49" fill="#03A9F4"/>
<rect x="134.52" y="1375.93" width="12.61" height="216.47" fill="#00BCD4"/>
<rect x="134.52" y="1380.7" width="12.61" height="211.7" fill="#4CAF50"/>
<rect x="134.52" y="1392.44" width="12.61" height="199.96" fill="#CDDC39"/>
<rect x="134.52" y="1396.48" width="12.61" height="195.92" fill="#FFEB3B"/>
<rect x="134.52" y="1406.01" width="12.61" height="186.39" fill="#FF9800"/>
<rect x="134.52" y="1457.75" width="12.61" height="134.65" fill="#FF5722"/>
<rect x="134.52" y="1527.83" width="12.61" height="64.57" fill="#607D8B"/>
<rect x="134.52" y="1532.96" width="12.61" height="59.44" fill="#455A64"/>
<rect x="134.52" y="1534.43" width="12.61" height="57.97" fill="#E57373"/>
<rect x="152.53" y="1225.5" width="12.61" height="366.9" fill="#F44336"/>
<rect x="152.53" y="1273.93" width="12.61" height="318.47" fill="#2196F3"/>
<rect x="152.53" y="1283.47" width="12.61" height="308.93" fill="#E91E63"/>
<rect x="152.53" y="1289.71" width="12.61" height="302.69" fill="#9C27B0"/>
<rect x="152.53" y="1292.64" width="12.61" height="299.76" fill="#673AB7"/>
<rect x="152.53" y="1308.79" width="12.61" height="283.61" fill="#03A9F4"/>
<rect x="152.53" y="1323.1" width="12.61" height="269.3" fill="#00BCD4"/>
<rect x="152.53" y="1324.2" width="12.61" height="268.2" fill="#009688"/>
<rect x="152.53" y="1357.95" width="12.61" height="234.45" fill="#4CAF50"/>
<rect x="152.53" y="1491.14" width="12.61" height="101.26" fill="#8BC34A"/>
<rect x="152.53" y="1497.01" width="12.61" height="95.39" fill="#FF9800"/>
<rect x="152.53" y="1517.19" width="12.61" height="75.21" fill="#607D8B"/>
<rect x="152.53" y="1519.39" width="12.61" height="73.01" fill="#E57373"/>
<rect x="170.53" y="1225.5" width="12.61" height="366.9" fill="#F44336"/>
<rect x="170.53" y="1293.74" width="12.61" height="298.66" fill="#2196F3"/>
<rect x="170.53" y="1488.57" width="12.61" height="103.83" fill="#9C27B0"/>
<rect x="170.53" y="1510.58" width="12.61" height="81.82" fill="#673AB7"/>
<rect x="170.53" y="1514.25" width="12.61" height="78.15" fill="#03A9F4"/>
<rect x="170.53" y="1519.39" width="12.61" height="73.01" fill="#00BCD4"/>
<rect x="170.53" y="1521.59" width="12.61" height="70.81" fill="#4CAF50"/>
<rect x="170.53" y="1527.46" width="12.61" height="64.94" fill="#FFEB3B"/>
<rect x="170.53" y="1529.29" width="12.61" height="63.11" fill="#FFC107"/>
<rect x="170.53" y="1569.29" width="12.61" height="23.11" fill="#FF5722"/>
<rect x="170.53" y="1575.89" width="12.61" height="16.51" fill="#607D8B"/>
<rect x="170.53" y="1578.09" width="12.61" height="14.31" fill="#E57373"/>
<rect x="188.54" y="1225.5" width="12.61" height="366.9" fill="#F44336"/>
<rect x="188.54" y="1268.79" width="12.61" height="323.61" fill="#2196F3"/>
<rect x="188.54" y="1367.49" width="12.61" height="224.91" fill="#E91E63"/>
<rect x="188.54" y="1412.25" width="12.61" height="180.15" fill="#9C27B0"/>
<rect x="188.54" y="1438.3" width="12.61" height="154.1" fill="#673AB7"/>
<rect x="188.54" y="1441.97" width="12.61" height="150.43" fill="#03A9F4"/>
<rect x="188.54" y="1459.22" width="12.61" height="133.18" fill="#00BCD4"/>
<rect x="188.54" y="1478.66" width="12.61" height="113.74" fill="#8BC34A"/>
<rect x="188.54" y="1498.47" width="12.61" height="93.93" fill="#FFEB3B"/>
<rect x="188.54" y="1500.31" width="12.61" height="92.09" fill="#FF5722"/>
<rect x="188.54" y="1504.34" width="12.61" height="88.06" fill="#795548"/>
<rect x="188.54" y="1518.65" width="12.61" height="73.75" fill="#607D8B"/>
<rect x="188.54" y="1520.49" width="12.61" height="71.91" fill="#E57373"/>
<rect x="206.55" y="1225.5" width="12.61" height="366.9" fill="#F44336"/>
<rect x="206.55" y="1261.09" width="12.61" height="331.31" fill="#2196F3"/>
<rect x="206.55" y="1276.13" width="12.61" height="316.27" fill="#E91E63"/>
<rect x="206.55" y="1329.7" width="12.61" height="262.7" fill="#9C27B0"/>
<rect x="206.55" y="1382.53" width="12.61" height="209.87" fill="#3F51B5"/>
<rect x="206.55" y="1466.92" width="12.61" height="125.48" fill="#03A9F4"/>
<rect x="206.55" y="1470.96" width="12.61" height="121.44" fill="#8BC34A"/>
<rect x="206.55" y="1481.96" width="12.61" height="110.44" fill="#FFEB3B"/>
<rect x="206.55" y="1483.43" width="12.61" height="108.97" fill="#FF5722"/>
<rect x="206.55" y="1493.34" width="12.61" height="99.06" fill="#795548"/>
<rect x="206.55" y="1507.65" width="12.61" height="84.75" fill="#607D8B"/>
<rect x="206.55" y="1533.7" width="12.61" height="58.7" fill="#E57373"/>
<rect x="224.56" y="1225.5" width="12.61" height="366.9" fill="#F44336"/>
<rect x="224.56" y="1366.02" width="12.61" height="226.38" fill="#2196F3"/>
<rect x="224.56" y="1384.73" width="12.61" height="207.67" fill="#E91E63"/>
<rect x="224.56" y="1396.48" width="12.61" height="195.92" fill="#9C27B0"/>
<rect x="224.56" y="1423.99" width="12.61" height="168.41" fill="#673AB7"/>
<rect x="224.56" y="1488.93" width="12.61" height="103.47" fill="#03A9F4"/>
<rect x="224.56" y="1495.91" width="12.61" height="96.49" fill="#00BCD4"/>
<rect x="224.56" y="1500.68" width="12.61" height="91.72" fill="#4CAF50"/>
<rect x="224.56" y="1502.88" width="12.61" height="89.52" fill="#FFEB3B"/>
<rect x="224.56" y="1504.71" width="12.61" height="87.69" fill="#FFC107"/>
<rect x="224.56" y="1517.92" width="12.61" height="74.48" fill="#FF9800"/>
<rect x="224.56" y="1563.41" width="12.61" height="28.99" fill="#607D8B"/>
<rect x="224.56" y="1568.55" width="12.61" height="23.85" fill="#455A64"/>
<rect x="224.56" y="1570.39" width="12.61" height="22.01" fill="#E57373"/>
<rect x="242.57" y="1225.5" width="12.61" height="366.9" fill="#F44336"/>
<rect x="242.57" y="1329.7" width="12.61" height="262.7" fill="#2196F3"/>
<rect x="242.57" y="1345.48" width="12.61" height="246.92" fill="#9C27B0"/>
<rect x="242.57" y="1360.15" width="12.61" height="232.25" fill="#673AB7"/>
<rect x="242.57" y="1363.82" width="12.61" height="228.58" fill="#3F51B5"/>
<rect x="242.57" y="1494.8" width="12.61" height="97.6" fill="#03A9F4"/>
<rect x="242.57" y="1499.21" width="12.61" height="93.19" fill="#00BCD4"/>
<rect x="242.57" y="1513.88" width="12.61" height="78.52" fill="#CDDC39"/>
<rect x="242.57" y="1514.98" width="12.61" height="77.42" fill="#FFEB3B"/>
<rect x="242.57" y="1530.76" width="12.61" height="61.64" fill="#FFC107"/>
<rect x="242.57" y="1534.06" width="12.61" height="58.34" fill="#FF5722"/>
<rect x="242.57" y="1548.74" width="12.61" height="43.66" fill="#455A64"/>
<rect x="242.57" y="1552.77" width="12.61" height="39.63" fill="#E57373"/>
<rect x="260.58" y="1225.5" width="12.61" height="366.9" fill="#F44336"/>
<rect x="260.58" y="1290.81" width="12.61" height="301.59" fill="#2196F3"/>
<rect x="260.58" y="1417.02" width="12.61" height="175.38" fill="#E91E63"/>
<rect x="260.58" y="1423.63" width="12.61" height="168.77" fill="#9C27B0"/>
<rect x="260.58" y="1426.19" width="12.61" height="166.21" fill="#673AB7"/>
<rect x="260.58" y="1454.81" width="12.61" height="137.59" fill="#3F51B5"/>
<rect x="260.58" y="1462.52" width="12.61" height="129.88" fill="#03A9F4"/>
<rect x="260.58" y="1483.43" width="12.61" height="108.97" fill="#009688"/>
<rect x="260.58" y="1484.9" width="12.61" height="107.5" fill="#4CAF50"/>
<rect x="260.58" y="1495.91" width="12.61" height="96.49" fill="#8BC34A"/>
<rect x="260.58" y="1525.26" width="12.61" height="67.14" fill="#FFEB3B"/>
<rect x="260.58" y="1527.09" width="12.61" height="65.31" fill="#FFC107"/>
<rect x="260.58" y="1538.47" width="12.61" height="53.93" fill="#FF5722"/>
<rect x="260.58" y="1539.93" width="12.61" height="52.47" fill="#607D8B"/>
<rect x="260.58" y="1542.87" width="12.61" height="49.53" fill="#E57373"/>
<rect x="278.58" y="1225.5" width="12.61" height="366.9" fill="#F44336"/>
<rect x="278.58" y="1332.63" width="12.61" height="259.77" fill="#2196F3"/>
<rect x="278.58" y="1470.59" width="12.61" height="121.81" fill="#E91E63"/>
<rect x="278.58" y="1498.11" width="12.61" height="94.29" fill="#9C27B0"/>
<rect x="278.58" y="1523.42" width="12.61" height="68.98" fill="#673AB7"/>
<rect x="278.58" y="1528.56" width="12.61" height="63.84" fill="#03A9F4"/>
<rect x="278.58" y="1542.13" width="12.61" height="50.27" fill="#CDDC39"/>
<rect x="278.58" y="1544.34" width="12.61" height="48.06" fill="#FFEB3B"/>
<rect x="278.58" y="1560.85" width="12.61" height="31.55" fill="#FF5722"/>
<rect x="278.58" y="1563.05" width="12.61" height="29.35" fill="#9E9E9E"/>
<rect x="278.58" y="1565.25" width="12.61" height="27.15" fill="#E57373"/>
<rect x="296.59" y="1225.5" width="12.61" height="366.9" fill="#F44336"/>
<rect x="296.59" y="1286.77" width="12.61" height="305.63" fill="#2196F3"/>
<rect x="296.59" y="1358.32" width="12.61" height="234.08" fill="#E91E63"/>
<rect x="296.59" y="1411.15" width="12.61" height="181.25" fill="#9C27B0"/>
<rect x="296.59" y="1415.92" width="12.61" height="176.48" fill="#673AB7"/>
<rect x="296.59" y="1419.59" width="12.61" height="172.81" fill="#03A9F4"/>
<rect x="296.59" y="1444.91" width="12.61" height="147.49" fill="#00BCD4"/>
<rect x="296.59" y="1488.57" width="12.61" height="103.83" fill="#CDDC39"/>
<rect x="296.59" y="1534.43" width="12.61" height="57.97" fill="#FFEB3B"/>
<rect x="296.59" y="1548.01" width="12.61" height="44.39" fill="#FF5722"/>
<rect x="296.59" y="1551.31" width="12.61" height="41.09" fill="#795548"/>
<rect x="296.59" y="1554.61" width="12.61" height="37.79" fill="#455A64"/>
<rect x="296.59" y="1566.35" width="12.61" height="26.05" fill="#E57373"/>
<rect x="314.6" y="1225.5" width="12.61" height="366.9" fill="#F44336"/>
<rect x="314.6" y="1297.41" width="12.61" height="294.99" fill="#2196F3"/>
<rect x="314.6" y="1355.38" width="12.61" height="237.02" fill="#E91E63"/>
<rect x="314.6" y="1434.27" width="12.61" height="158.13" fill="#9C27B0"/>
<rect x="314.6" y="1472.79" width="12.61" height="119.61" fill="#673AB7"/>
<rect x="314.6" y="1487.1" width="12.61" height="105.3" fill="#03A9F4"/>
<rect x="314.6" y="1492.97" width="12.61" height="99.43" fill="#00BCD4"/>
<rect x="314.6" y="1502.14" width="12.61" height="90.26" fill="#009688"/>
<rect x="314.6" y="1507.28" width="12.61" height="85.12" fill="#8BC34A"/>
<rect x="314.6" y="1509.48" width="12.61" height="82.92" fill="#CDDC39"/>
<rect x="314.6" y="1527.83" width="12.61" height="64.57" fill="#FFEB3B"/>
<rect x="314.6" y="1536.63" width="12.61" height="55.77" fill="#FF5722"/>
<rect x="314.6" y="1538.83" width="12.61" height="53.57" fill="#795548"/>
<rect x="314.6" y="1543.24" width="12.61" height="49.16" fill="#9E9E9E"/>
<rect x="314.6" y="1549.84" width="12.61" height="42.56" fill="#607D8B"/>
<rect x="314.6" y="1551.67" width="12.61" height="40.73" fill="#E57373"/>
<rect x="332.61" y="1225.5" width="12.61" height="366.9" fill="#F44336"/>
<rect x="332.61" y="1293.01" width="12.61" height="299.39" fill="#2196F3"/>
<rect x="332.61" y="1353.18" width="12.61" height="239.22" fill="#E91E63"/>
<rect x="332.61" y="1363.09" width="12.61" height="229.31" fill="#9C27B0"/>
<rect x="332.61" y="1377.76" width="12.61" height="214.64" fill="#673AB7"/>
<rect x="332.61" y="1414.82" width="12.61" height="177.58" fill="#03A9F4"/>
<rect x="332.61" y="1425.83" width="12.61" height="166.57" fill="#00BCD4"/>
<rect x="332.61" y="1434.27" width="12.61" height="158.13" fill="#8BC34A"/>
<rect x="332.61" y="1492.24" width="12.61" height="100.16" fill="#CDDC39"/>
<rect x="332.61" y="1530.03" width="12.61" height="62.37" fill="#FFEB3B"/>
<rect x="332.61" y="1531.86" width="12.61" height="60.54" fill="#FF5722"/>
<rect x="332.61" y="1534.43" width="12.61" height="57.97" fill="#795548"/>
<rect x="332.61" y="1544.34" width="12.61" height="48.06" fill="#9E9E9E"/>
<rect x="332.61" y="1546.54" width="12.61" height="45.86" fill="#607D8B"/>
<rect x="332.61" y="1554.61" width="12.61" height="37.79" fill="#455A64"/>
<rect x="332.61" y="1556.44" width="12.61" height="35.96" fill="#E57373"/>
<rect x="350.62" y="1225.5" width="12.61" height="366.9" fill="#F44336"/>
<rect x="350.62" y="1320.16" width="12.61" height="272.24" fill="#2196F3"/>
<rect x="350.62" y="1435.37" width="12.61" height="157.03" fill="#E91E63"/>
<rect x="350.62" y="1437.2" width="12.61" height="155.2" fill="#9C27B0"/>
<rect x="350.62" y="1441.6" width="12.61" height="150.8" fill="#673AB7"/>
<rect x="350.62" y="1446.37" width="12.61" height="146.03" fill="#03A9F4"/>
<rect x="350.62" y="1449.31" width="12.61" height="143.09" fill="#009688"/>
<rect x="350.62" y="1486.73" width="12.61" height="105.67" fill="#4CAF50"/>
<rect x="350.62" y="1488.57" width="12.61" height="103.83" fill="#8BC34A"/>
<rect x="350.62" y="1494.07" width="12.61" height="98.33" fill="#FFEB3B"/>
<rect x="350.62" y="1500.68" width="12.61" height="91.72" fill="#FFC107"/>
<rect x="350.62" y="1518.65" width="12.61" height="73.75" fill="#FF5722"/>
<rect x="350.62" y="1539.2" width="12.61" height="53.2" fill="#607D8B"/>
<rect x="350.62" y="1541.4" width="12.61" height="51" fill="#E57373"/>
<rect x="368.62" y="1225.5" width="12.61" height="366.9" fill="#F44336"/>
<rect x="368.62" y="1255.22" width="12.61" height="337.18" fill="#2196F3"/>
<rect x="368.62" y="1430.6" width="12.61" height="161.8" fill="#9C27B0"/>
<rect x="368.62" y="1433.53" width="12.61" height="158.87" fill="#009688"/>
<rect x="368.62" y="1463.62" width="12.61" height="128.78" fill="#4CAF50"/>
<rect x="368.62" y="1517.92" width="12.61" height="74.48" fill="#CDDC39"/>
<rect x="368.62" y="1535.9" width="12.61" height="56.5" fill="#FF9800"/>
<rect x="368.62" y="1574.42" width="12.61" height="17.98" fill="#9E9E9E"/>
<rect x="368.62" y="1578.09" width="12.61" height="14.31" fill="#E57373"/>
<rect x="386.63" y="1225.5" width="12.61" height="366.9" fill="#F44336"/>
<rect x="386.63" y="1346.21" width="12.61" height="246.19" fill="#2196F3"/>
<rect x="386.63" y="1367.12" width="12.61" height="225.28" fill="#E91E63"/>
<rect x="386.63" y="1381.07" width="12.61" height="211.33" fill="#9C27B0"/>
<rect x="386.63" y="1399.78" width="12.61" height="192.62" fill="#673AB7"/>
<rect x="386.63" y="1408.22" width="12.61" height="184.18" fill="#03A9F4"/>
<rect x="386.63" y="1418.49" width="12.61" height="173.91" fill="#00BCD4"/>
<rect x="386.63" y="1448.94" width="12.61" height="143.46" fill="#FFEB3B"/>
<rect x="386.63" y="1457.75" width="12.61" height="134.65" fill="#FF9800"/>
<rect x="386.63" y="1472.06" width="12.61" height="120.34" fill="#FF5722"/>
<rect x="386.63" y="1473.52" width="12.61" height="118.88" fill="#9E9E9E"/>
<rect x="386.63" y="1477.19" width="12.61" height="115.21" fill="#607D8B"/>
<rect x="386.63" y="1483.43" width="12.61" height="108.97" fill="#455A64"/>
<rect x="386.63" y="1486.37" width="12.61" height="106.03" fill="#E57373"/>
<rect x="404.64" y="1225.5" width="12.61" height="366.9" fill="#F44336"/>
<rect x="404.64" y="1292.28" width="12.61" height="300.12" fill="#2196F3"/>
<rect x="404.64" y="1374.46" width="12.61" height="217.94" fill="#E91E63"/>
<rect x="404.64" y="1404.18" width="12.61" height="188.22" fill="#9C27B0"/>
<rect x="404.64" y="1414.45" width="12.61" height="177.95" fill="#673AB7"/>
<rect x="404.64" y="1422.53" width="12.61" height="169.87" fill="#3F51B5"/>
<rect x="404.64" y="1435.37" width="12.61" height="157.03" fill="#03A9F4"/>
<rect x="404.64" y="1446.37" width="12.61" height="146.03" fill="#00BCD4"/>
<rect x="404.64" y="1454.08" width="12.61" height="138.32" fill="#009688"/>
<rect x="404.64" y="1457.75" width="12.61" height="134.65" fill="#4CAF50"/>
<rect x="404.64" y="1524.52" width="12.61" height="67.88" fill="#FFEB3B"/>
<rect x="404.64" y="1546.54" width="12.61" height="45.86" fill="#FFC107"/>
<rect x="404.64" y="1547.64" width="12.61" height="44.76" fill="#9E9E9E"/>
<rect x="404.64" y="1560.11" width="12.61" height="32.29" fill="#607D8B"/>
<rect x="404.64" y="1561.58" width="12.61" height="30.82" fill="#E57373"/>
<rect x="422.65" y="1225.5" width="12.61" height="366.9" fill="#F44336"/>
<rect x="422.65" y="1271" width="12.61" height="321.4" fill="#2196F3"/>
<rect x="422.65" y="1319.79" width="12.61" height="272.61" fill="#E91E63"/>
<rect x="422.65" y="1361.25" width="12.61" height="231.15" fill="#9C27B0"/>
<rect x="422.65" y="1385.47" width="12.61" height="206.93" fill="#673AB7"/>
<rect x="422.65" y="1433.53" width="12.61" height="158.87" fill="#03A9F4"/>
<rect x="422.65" y="1451.14" width="12.61" height="141.26" fill="#00BCD4"/>
<rect x="422.65" y="1470.59" width="12.61" height="121.81" fill="#8BC34A"/>
<rect x="422.65" y="1473.16" width="12.61" height="119.24" fill="#CDDC39"/>
<rect x="422.65" y="1474.99" width="12.61" height="117.41" fill="#FFEB3B"/>
<rect x="422.65" y="1488.57" width="12.61" height="103.83" fill="#FF5722"/>
<rect x="422.65" y="1498.11" width="12.61" height="94.29" fill="#9E9E9E"/>
<rect x="422.65" y="1499.94" width="12.61" height="92.46" fill="#607D8B"/>
<rect x="422.65" y="1508.01" width="12.61" height="84.39" fill="#455A64"/>
<rect x="422.65" y="1553.88" width="12.61" height="38.52" fill="#E57373"/>
<rect x="440.66" y="1225.5" width="12.61" height="366.9" fill="#F44336"/>
<rect x="440.66" y="1336.67" width="12.61" height="255.73" fill="#2196F3"/>
<rect x="440.66" y="1386.2" width="12.61" height="206.2" fill="#E91E63"/>
<rect x="440.66" y="1388.4" width="12.61" height="204" fill="#9C27B0"/>
<rect x="440.66" y="1392.44" width="12.61" height="199.96" fill="#673AB7"/>
<rect x="440.66" y="1422.53" width="12.61" height="169.87" fill="#00BCD4"/>
<rect x="440.66" y="1441.97" width="12.61" height="150.43" fill="#009688"/>
<rect x="440.66" y="1477.19" width="12.61" height="115.21" fill="#4CAF50"/>
<rect x="440.66" y="1505.08" width="12.61" height="87.32" fill="#FFEB3B"/>
<rect x="440.66" y="1517.92" width="12.61" height="74.48" fill="#FFC107"/>
<rect x="440.66" y="1545.8" width="12.61" height="46.6" fill="#795548"/>
<rect x="440.66" y="1547.27" width="12.61" height="45.13" fill="#9E9E9E"/>
<rect x="440.66" y="1565.25" width="12.61" height="27.15" fill="#607D8B"/>
<rect x="440.66" y="1566.72" width="12.61" height="25.68" fill="#E57373"/>
<rect x="458.67" y="1225.5" width="12.61" height="366.9" fill="#F44336"/>
<rect x="458.67" y="1283.1" width="12.61" height="309.3" fill="#2196F3"/>
<rect x="458.67" y="1384" width="12.61" height="208.4" fill="#E91E63"/>
<rect x="458.67" y="1410.05" width="12.61" height="182.35" fill="#9C27B0"/>
<rect x="458.67" y="1487.1" width="12.61" height="105.3" fill="#673AB7"/>
<rect x="458.67" y="1490.77" width="12.61" height="101.63" fill="#03A9F4"/>
<rect x="458.67" y="1495.17" width="12.61" height="97.23" fill="#8BC34A"/>
<rect x="458.67" y="1510.95" width="12.61" height="81.45" fill="#CDDC39"/>
<rect x="458.67" y="1522.69" width="12.61" height="69.71" fill="#FF5722"/>
<rect x="458.67" y="1538.83" width="12.61" height="53.57" fill="#9E9E9E"/>
<rect x="458.67" y="1545.8" width="12.61" height="46.6" fill="#607D8B"/>
<rect x="458.67" y="1560.11" width="12.61" height="32.29" fill="#455A64"/>
<rect x="458.67" y="1563.05" width="12.61" height="29.35" fill="#E57373"/>
<rect x="476.67" y="1225.5" width="12.61" height="366.9" fill="#F44336"/>
<rect x="476.67" y="1315.02" width="12.61" height="277.38" fill="#2196F3"/>
<rect x="476.67" y="1398.68" width="12.61" height="193.72" fill="#E91E63"/>
<rect x="476.67" y="1399.78" width="12.61" height="192.62" fill="#9C27B0"/>
<rect x="476.67" y="1405.28" width="12.61" height="187.12" fill="#673AB7"/>
<rect x="476.67" y="1418.49" width="12.61" height="173.91" fill="#03A9F4"/>
<rect x="476.67" y="1422.53" width="12.61" height="169.87" fill="#00BCD4"/>
<rect x="476.67" y="1428.4" width="12.61" height="164" fill="#009688"/>
<rect x="476.67" y="1458.48" width="12.61" height="133.92" fill="#FFEB3B"/>
<rect x="476.67" y="1472.06" width="12.61" height="120.34" fill="#FFC107"/>
<rect x="476.67" y="1504.71" width="12.61" height="87.69" fill="#9E9E9E"/>
<rect x="476.67" y="1509.85" width="12.61" height="82.55" fill="#E57373"/>
<rect x="494.68" y="1225.5" width="12.61" height="366.9" fill="#F44336"/>
<rect x="494.68" y="1338.87" width="12.61" height="253.53" fill="#2196F3"/>
<rect x="494.68" y="1388.4" width="12.61" height="204" fill="#E91E63"/>
<rect x="494.68" y="1393.54" width="12.61" height="198.86" fill="#9C27B0"/>
<rect x="494.68" y="1399.78" width="12.61" height="192.62" fill="#673AB7"/>
<rect x="494.68" y="1412.62" width="12.61" height="179.78" fill="#03A9F4"/>
<rect x="494.68" y="1431.33" width="12.61" height="161.07" fill="#00BCD4"/>
<rect x="494.68" y="1448.21" width="12.61" height="144.19" fill="#009688"/>
<rect x="494.68" y="1468.75" width="12.61" height="123.65" fill="#4CAF50"/>
<rect x="494.68" y="1472.79" width="12.61" height="119.61" fill="#FFEB3B"/>
<rect x="494.68" y="1484.16" width="12.61" height="108.24" fill="#FFC107"/>
<rect x="494.68" y="1509.48" width="12.61" height="82.92" fill="#9E9E9E"/>
<rect x="494.68" y="1516.45" width="12.61" height="75.95" fill="#455A64"/>
<rect x="494.68" y="1518.29" width="12.61" height="74.11" fill="#E57373"/>
<rect x="512.69" y="1225.5" width="12.61" height="366.9" fill="#F44336"/>
<rect x="512.69" y="1419.59" width="12.61" height="172.81" fill="#2196F3"/>
<rect x="512.69" y="1440.5" width="12.61" height="151.9" fill="#E91E63"/>
<rect x="512.69" y="1446.01" width="12.61" height="146.39" fill="#9C27B0"/>
<rect x="512.69" y="1461.78" width="12.61" height="130.62" fill="#673AB7"/>
<rect x="512.69" y="1480.5" width="12.61" height="111.9" fill="#03A9F4"/>
<rect x="512.69" y="1498.11" width="12.61" height="94.29" fill="#00BCD4"/>
<rect x="512.69" y="1516.45" width="12.61" height="75.95" fill="#FF9800"/>
<rect x="512.69" y="1542.13" width="12.61" height="50.27" fill="#FF5722"/>
<rect x="512.69" y="1545.44" width="12.61" height="46.96" fill="#E57373"/>
<rect x="530.7" y="1225.5" width="12.61" height="366.9" fill="#F44336"/>
<rect x="530.7" y="1277.23" width="12.61" height="315.17" fill="#2196F3"/>
<rect x="530.7" y="1436.1" width="12.61" height="156.3" fill="#9C27B0"/>
<rect x="530.7" y="1440.5" width="12.61" height="151.9" fill="#03A9F4"/>
<rect x="530.7" y="1442.7" width="12.61" height="149.7" fill="#009688"/>
<rect x="530.7" y="1500.68" width="12.61" height="91.72" fill="#4CAF50"/>
<rect x="530.7" y="1506.55" width="12.61" height="85.85" fill="#8BC34A"/>
<rect x="530.7" y="1512.78" width="12.61" height="79.62" fill="#FFEB3B"/>
<rect x="530.7" y="1517.19" width="12.61" height="75.21" fill="#FFC107"/>
<rect x="530.7" y="1540.67" width="12.61" height="51.73" fill="#FF5722"/>
<rect x="530.7" y="1543.24" width="12.61" height="49.16" fill="#E57373"/>
<rect x="548.71" y="1225.5" width="12.61" height="366.9" fill="#F44336"/>
<rect x="548.71" y="1317.96" width="12.61" height="274.44" fill="#2196F3"/>
<rect x="548.71" y="1348.04" width="12.61" height="244.36" fill="#E91E63"/>
<rect x="548.71" y="1395.37" width="12.61" height="197.03" fill="#9C27B0"/>
<rect x="548.71" y="1401.25" width="12.61" height="191.15" fill="#673AB7"/>
<rect x="548.71" y="1426.19" width="12.61" height="166.21" fill="#3F51B5"/>
<rect x="548.71" y="1436.1" width="12.61" height="156.3" fill="#03A9F4"/>
<rect x="548.71" y="1448.94" width="12.61" height="143.46" fill="#00BCD4"/>
<rect x="548.71" y="1497.01" width="12.61" height="95.39" fill="#009688"/>
<rect x="548.71" y="1508.01" width="12.61" height="84.39" fill="#4CAF50"/>
<rect x="548.71" y="1511.68" width="12.61" height="80.72" fill="#CDDC39"/>
<rect x="548.71" y="1512.78" width="12.61" height="79.62" fill="#FFEB3B"/>
<rect x="548.71" y="1520.49" width="12.61" height="71.91" fill="#FF9800"/>
<rect x="548.71" y="1528.56" width="12.61" height="63.84" fill="#FF5722"/>
<rect x="548.71" y="1531.86" width="12.61" height="60.54" fill="#795548"/>
<rect x="548.71" y="1533.7" width="12.61" height="58.7" fill="#9E9E9E"/>
<rect x="548.71" y="1541.03" width="12.61" height="51.37" fill="#455A64"/>
<rect x="548.71" y="1543.24" width="12.61" height="49.16" fill="#E57373"/>
<rect x="566.71" y="1225.5" width="12.61" height="366.9" fill="#F44336"/>
<rect x="566.71" y="1326.03" width="12.61" height="266.37" fill="#2196F3"/>
<rect x="566.71" y="1361.99" width="12.61" height="230.41" fill="#E91E63"/>
<rect x="566.71" y="1364.19" width="12.61" height="228.21" fill="#9C27B0"/>
<rect x="566.71" y="1368.22" width="12.61" height="224.18" fill="#673AB7"/>
<rect x="566.71" y="1449.31" width="12.61" height="143.09" fill="#03A9F4"/>
<rect x="566.71" y="1454.08" width="12.61" height="138.32" fill="#00BCD4"/>
<rect x="566.71" y="1456.28" width="12.61" height="136.12" fill="#009688"/>
<rect x="566.71" y="1466.55" width="12.61" height="125.85" fill="#FFEB3B"/>
<rect x="566.71" y="1468.39" width="12.61" height="124.01" fill="#FF5722"/>
<rect x="566.71" y="1470.59" width="12.61" height="121.81" fill="#9E9E9E"/>
<rect x="566.71" y="1497.74" width="12.61" height="94.66" fill="#607D8B"/>
<rect x="566.71" y="1505.08" width="12.61" height="87.32" fill="#455A64"/>
<rect x="566.71" y="1507.65" width="12.61" height="84.75" fill="#E57373"/>
<rect x="584.72" y="1225.5" width="12.61" height="366.9" fill="#F44336"/>
<rect x="584.72" y="1304.38" width="12.61" height="288.02" fill="#2196F3"/>
<rect x="584.72" y="1356.85" width="12.61" height="235.55" fill="#E91E63"/>
<rect x="584.72" y="1370.43" width="12.61" height="221.97" fill="#9C27B0"/>
<rect x="584.72" y="1402.71" width="12.61" height="189.69" fill="#673AB7"/>
<rect x="584.72" y="1407.12" width="12.61" height="185.28" fill="#3F51B5"/>
<rect x="584.72" y="1441.97" width="12.61" height="150.43" fill="#03A9F4"/>
<rect x="584.72" y="1447.84" width="12.61" height="144.56" fill="#00BCD4"/>
<rect x="584.72" y="1469.12" width="12.61" height="123.28" fill="#FFEB3B"/>
<rect x="584.72" y="1510.21" width="12.61" height="82.19" fill="#FF5722"/>
<rect x="584.72" y="1510.95" width="12.61" height="81.45" fill="#795548"/>
<rect x="584.72" y="1534.43" width="12.61" height="57.97" fill="#607D8B"/>
<rect x="584.72" y="1547.27" width="12.61" height="45.13" fill="#455A64"/>
<rect x="584.72" y="1549.47" width="12.61" height="42.93" fill="#E57373"/>
<rect x="602.73" y="1225.5" width="12.61" height="366.9" fill="#F44336"/>
<rect x="602.73" y="1258.52" width="12.61" height="333.88" fill="#2196F3"/>
<rect x="602.73" y="1392.07" width="12.61" height="200.33" fill="#E91E63"/>
<rect x="602.73" y="1425.46" width="12.61" height="166.94" fill="#673AB7"/>
<rect x="602.73" y="1433.17" width="12.61" height="159.23" fill="#03A9F4"/>
<rect x="602.73" y="1439.04" width="12.61" height="153.36" fill="#00BCD4"/>
<rect x="602.73" y="1444.17" width="12.61" height="148.23" fill="#009688"/>
<rect x="602.73" y="1516.08" width="12.61" height="76.32" fill="#FFEB3B"/>
<rect x="602.73" y="1522.69" width="12.61" height="69.71" fill="#FFC107"/>
<rect x="602.73" y="1573.69" width="12.61" height="18.71" fill="#607D8B"/>
<rect x="602.73" y="1575.16" width="12.61" height="17.24" fill="#E57373"/>
<rect x="620.74" y="1225.5" width="12.61" height="366.9" fill="#F44336"/>
<rect x="620.74" y="1288.61" width="12.61" height="303.79" fill="#2196F3"/>
<rect x="620.74" y="1326.76" width="12.61" height="265.64" fill="#E91E63"/>
<rect x="620.74" y="1390.61" width="12.61" height="201.8" fill="#9C27B0"/>
<rect x="620.74" y="1441.6" width="12.61" height="150.8" fill="#673AB7"/>
<rect x="620.74" y="1454.08" width="12.61" height="138.32" fill="#3F51B5"/>
<rect x="620.74" y="1534.43" width="12.61" height="57.97" fill="#03A9F4"/>
<rect x="620.74" y="1538.83" width="12.61" height="53.57" fill="#00BCD4"/>
<rect x="620.74" y="1540.67" width="12.61" height="51.73" fill="#CDDC39"/>
<rect x="620.74" y="1543.6" width="12.61" height="48.8" fill="#FFEB3B"/>
<rect x="620.74" y="1545.44" width="12.61" height="46.96" fill="#FF5722"/>
<rect x="620.74" y="1547.27" width="12.61" height="45.13" fill="#795548"/>
<rect x="620.74" y="1562.31" width="12.61" height="30.09" fill="#607D8B"/>
<rect x="620.74" y="1566.72" width="12.61" height="25.68" fill="#E57373"/>
<rect x="638.75" y="1225.5" width="12.61" height="366.9" fill="#F44336"/>
<rect x="638.75" y="1358.32" width="12.61" height="234.08" fill="#2196F3"/>
<rect x="638.75" y="1378.5" width="12.61" height="213.9" fill="#E91E63"/>
<rect x="638.75" y="1399.04" width="12.61" height="193.36" fill="#9C27B0"/>
<rect x="638.75" y="1444.17" width="12.61" height="148.23" fill="#673AB7"/>
<rect x="638.75" y="1455.18" width="12.61" height="137.22" fill="#3F51B5"/>
<rect x="638.75" y="1460.68" width="12.61" height="131.72" fill="#03A9F4"/>
<rect x="638.75" y="1475.73" width="12.61" height="116.67" fill="#00BCD4"/>
<rect x="638.75" y="1480.5" width="12.61" height="111.9" fill="#009688"/>
<rect x="638.75" y="1488.57" width="12.61" height="103.83" fill="#FFEB3B"/>
<rect x="638.75" y="1500.31" width="12.61" height="92.09" fill="#FF5722"/>
<rect x="638.75" y="1502.14" width="12.61" height="90.26" fill="#795548"/>
<rect x="638.75" y="1510.58" width="12.61" height="81.82" fill="#9E9E9E"/>
<rect x="638.75" y="1513.88" width="12.61" height="78.52" fill="#607D8B"/>
<rect x="638.75" y="1518.65" width="12.61" height="73.75" fill="#E57373"/>
<rect x="656.76" y="1225.5" width="12.61" height="366.9" fill="#F44336"/>
<rect x="656.76" y="1309.52" width="12.61" height="282.88" fill="#2196F3"/>
<rect x="656.76" y="1408.95" width="12.61" height="183.45" fill="#E91E63"/>
<rect x="656.76" y="1478.66" width="12.61" height="113.74" fill="#9C27B0"/>
<rect x="656.76" y="1483.43" width="12.61" height="108.97" fill="#673AB7"/>
<rect x="656.76" y="1486.73" width="12.61" height="105.67" fill="#03A9F4"/>
<rect x="656.76" y="1492.97" width="12.61" height="99.43" fill="#00BCD4"/>
<rect x="656.76" y="1501.41" width="12.61" height="90.99" fill="#009688"/>
<rect x="656.76" y="1543.6" width="12.61" height="48.8" fill="#8BC34A"/>
<rect x="656.76" y="1546.54" width="12.61" height="45.86" fill="#FFEB3B"/>
<rect x="656.76" y="1551.67" width="12.61" height="40.73" fill="#FF5722"/>
<rect x="656.76" y="1555.71" width="12.61" height="36.69" fill="#9E9E9E"/>
<rect x="656.76" y="1557.91" width="12.61" height="34.49" fill="#455A64"/>
<rect x="656.76" y="1574.42" width="12.61" height="17.98" fill="#E57373"/>
<rect x="674.76" y="1225.5" width="12.61" height="366.9" fill="#F44336"/>
<rect x="674.76" y="1374.83" width="12.61" height="217.57" fill="#2196F3"/>
<rect x="674.76" y="1384.73" width="12.61" height="207.67" fill="#E91E63"/>
<rect x="674.76" y="1391.34" width="12.61" height="201.06" fill="#9C27B0"/>
<rect x="674.76" y="1441.24" width="12.61" height="151.16" fill="#673AB7"/>
<rect x="674.76" y="1505.81" width="12.61" height="86.59" fill="#03A9F4"/>
<rect x="674.76" y="1555.71" width="12.61" height="36.69" fill="#00BCD4"/>
<rect x="674.76" y="1561.58" width="12.61" height="30.82" fill="#CDDC39"/>
<rect x="674.76" y="1566.72" width="12.61" height="25.68" fill="#FFEB3B"/>
<rect x="674.76" y="1571.49" width="12.61" height="20.91" fill="#FF5722"/>
<rect x="674.76" y="1573.69" width="12.61" height="18.71" fill="#607D8B"/>
<rect x="674.76" y="1575.16" width="12.61" height="17.24" fill="#E57373"/>
<rect x="692.77" y="1225.5" width="12.61" height="366.9" fill="#F44336"/>
<rect x="692.77" y="1359.05" width="12.61" height="233.35" fill="#2196F3"/>
<rect x="692.77" y="1379.6" width="12.61" height="212.8" fill="#E91E63"/>
<rect x="692.77" y="1393.17" width="12.61" height="199.23" fill="#9C27B0"/>
<rect x="692.77" y="1445.64" width="12.61" height="146.76" fill="#673AB7"/>
<rect x="692.77" y="1454.81" width="12.61" height="137.59" fill="#3F51B5"/>
<rect x="692.77" y="1490.03" width="12.61" height="102.37" fill="#03A9F4"/>
<rect x="692.77" y="1509.85" width="12.61" height="82.55" fill="#8BC34A"/>
<rect x="692.77" y="1513.52" width="12.61" height="78.88" fill="#CDDC39"/>
<rect x="692.77" y="1531.86" width="12.61" height="60.54" fill="#FF5722"/>
<rect x="692.77" y="1539.93" width="12.61" height="52.47" fill="#607D8B"/>
<rect x="692.77" y="1542.87" width="12.61" height="49.53" fill="#455A64"/>
<rect x="692.77" y="1545.44" width="12.61" height="46.96" fill="#E57373"/>
<rect x="710.78" y="1225.5" width="12.61" height="366.9" fill="#F44336"/>
<rect x="710.78" y="1310.62" width="12.61" height="281.78" fill="#2196F3"/>
<rect x="710.78" y="1355.38" width="12.61" height="237.02" fill="#E91E63"/>
<rect x="710.78" y="1359.79" width="12.61" height="232.61" fill="#673AB7"/>
<rect x="710.78" y="1394.64" width="12.61" height="197.76" fill="#03A9F4"/>
<rect x="710.78" y="1406.75" width="12.61" height="185.65" fill="#00BCD4"/>
<rect x="710.78" y="1411.89" width="12.61" height="180.51" fill="#009688"/>
<rect x="710.78" y="1427.66" width="12.61" height="164.74" fill="#FFEB3B"/>
<rect x="710.78" y="1439.04" width="12.61" height="153.36" fill="#FFC107"/>
<rect x="710.78" y="1450.04" width="12.61" height="142.36" fill="#FF5722"/>
<rect x="710.78" y="1452.98" width="12.61" height="139.42" fill="#607D8B"/>
<rect x="710.78" y="1456.28" width="12.61" height="136.12" fill="#E57373"/>
<rect x="728.79" y="1225.5" width="12.61" height="366.9" fill="#F44336"/>
<rect x="728.79" y="1360.89" width="12.61" height="231.51" fill="#2196F3"/>
<rect x="728.79" y="1383.27" width="12.61" height="209.13" fill="#E91E63"/>
<rect x="728.79" y="1422.89" width="12.61" height="169.51" fill="#9C27B0"/>
<rect x="728.79" y="1433.17" width="12.61" height="159.23" fill="#3F51B5"/>
<rect x="728.79" y="1442.7" width="12.61" height="149.7" fill="#03A9F4"/>
<rect x="728.79" y="1457.75" width="12.61" height="134.65" fill="#00BCD4"/>
<rect x="728.79" y="1460.68" width="12.61" height="131.72" fill="#009688"/>
<rect x="728.79" y="1482.33" width="12.61" height="110.07" fill="#8BC34A"/>
<rect x="728.79" y="1505.08" width="12.61" height="87.32" fill="#FFEB3B"/>
<rect x="728.79" y="1519.39" width="12.61" height="73.01" fill="#FF5722"/>
<rect x="728.79" y="1522.32" width="12.61" height="70.08" fill="#795548"/>
<rect x="728.79" y="1530.03" width="12.61" height="62.37" fill="#9E9E9E"/>
<rect x="728.79" y="1531.86" width="12.61" height="60.54" fill="#607D8B"/>
<rect x="728.79" y="1537" width="12.61" height="55.4" fill="#455A64"/>
<rect x="728.79" y="1548.74" width="12.61" height="43.66" fill="#E57373"/>
<rect x="746.8" y="1225.5" width="12.61" height="366.9" fill="#F44336"/>
<rect x="746.8" y="1323.1" width="12.61" height="269.3" fill="#2196F3"/>
<rect x="746.8" y="1366.76" width="12.61" height="225.64" fill="#E91E63"/>
<rect x="746.8" y="1395.37" width="12.61" height="197.03" fill="#9C27B0"/>
<rect x="746.8" y="1401.25" width="12.61" height="191.15" fill="#673AB7"/>
<rect x="746.8" y="1408.95" width="12.61" height="183.45" fill="#3F51B5"/>
<rect x="746.8" y="1412.62" width="12.61" height="179.78" fill="#03A9F4"/>
<rect x="746.8" y="1456.28" width="12.61" height="136.12" fill="#8BC34A"/>
<rect x="746.8" y="1459.22" width="12.61" height="133.18" fill="#CDDC39"/>
<rect x="746.8" y="1480.5" width="12.61" height="111.9" fill="#FFEB3B"/>
<rect x="746.8" y="1487.83" width="12.61" height="104.57" fill="#FF5722"/>
<rect x="746.8" y="1497.74" width="12.61" height="94.66" fill="#795548"/>
<rect x="746.8" y="1514.25" width="12.61" height="78.15" fill="#9E9E9E"/>
<rect x="746.8" y="1516.45" width="12.61" height="75.95" fill="#607D8B"/>
<rect x="746.8" y="1528.56" width="12.61" height="63.84" fill="#E57373"/>
<rect x="764.8" y="1225.5" width="12.61" height="366.9" fill="#F44336"/>
<rect x="764.8" y="1288.61" width="12.61" height="303.79" fill="#2196F3"/>
<rect x="764.8" y="1349.15" width="12.61" height="243.25" fill="#9C27B0"/>
<rect x="764.8" y="1351.71" width="12.61" height="240.69" fill="#673AB7"/>
<rect x="764.8" y="1378.5" width="12.61" height="213.9" fill="#3F51B5"/>
<rect x="764.8" y="1386.94" width="12.61" height="205.46" fill="#03A9F4"/>
<rect x="764.8" y="1389.5" width="12.61" height="202.9" fill="#00BCD4"/>
<rect x="764.8" y="1439.04" width="12.61" height="153.36" fill="#009688"/>
<rect x="764.8" y="1447.84" width="12.61" height="144.56" fill="#4CAF50"/>
<rect x="764.8" y="1472.79" width="12.61" height="119.61" fill="#8BC34A"/>
<rect x="764.8" y="1477.56" width="12.61" height="114.84" fill="#CDDC39"/>
<rect x="764.8" y="1532.23" width="12.61" height="60.17" fill="#FFEB3B"/>
<rect x="764.8" y="1538.83" width="12.61" height="53.57" fill="#FF5722"/>
<rect x="764.8" y="1546.54" width="12.61" height="45.86" fill="#9E9E9E"/>
<rect x="764.8" y="1556.81" width="12.61" height="35.59" fill="#455A64"/>
<rect x="764.8" y="1569.65" width="12.61" height="22.75" fill="#E57373"/>
<rect x="782.81" y="1225.5" width="12.61" height="366.9" fill="#F44336"/>
<rect x="782.81" y="1262.92" width="12.61" height="329.48" fill="#2196F3"/>
<rect x="782.81" y="1374.83" width="12.61" height="217.57" fill="#E91E63"/>
<rect x="782.81" y="1382.53" width="12.61" height="209.87" fill="#9C27B0"/>
<rect x="782.81" y="1387.3" width="12.61" height="205.1" fill="#673AB7"/>
<rect x="782.81" y="1400.88" width="12.61" height="191.52" fill="#03A9F4"/>
<rect x="782.81" y="1405.28" width="12.61" height="187.12" fill="#00BCD4"/>
<rect x="782.81" y="1462.88" width="12.61" height="129.52" fill="#009688"/>
<rect x="782.81" y="1486.37" width="12.61" height="106.03" fill="#4CAF50"/>
<rect x="782.81" y="1504.34" width="12.61" height="88.06" fill="#FFC107"/>
<rect x="782.81" y="1526.36" width="12.61" height="66.04" fill="#9E9E9E"/>
<rect x="782.81" y="1528.56" width="12.61" height="63.84" fill="#E57373"/>
<rect x="800.82" y="1225.5" width="12.61" height="366.9" fill="#F44336"/>
<rect x="800.82" y="1263.29" width="12.61" height="329.11" fill="#2196F3"/>
<rect x="800.82" y="1286.41" width="12.61" height="305.99" fill="#E91E63"/>
<rect x="800.82" y="1351.35" width="12.61" height="241.05" fill="#9C27B0"/>
<rect x="800.82" y="1355.38" width="12.61" height="237.02" fill="#673AB7"/>
<rect x="800.82" y="1358.32" width="12.61" height="234.08" fill="#3F51B5"/>
<rect x="800.82" y="1378.86" width="12.61" height="213.54" fill="#03A9F4"/>
<rect x="800.82" y="1382.53" width="12.61" height="209.87" fill="#4CAF50"/>
<rect x="800.82" y="1411.89" width="12.61" height="180.51" fill="#8BC34A"/>
<rect x="800.82" y="1425.46" width="12.61" height="166.94" fill="#FF9800"/>
<rect x="800.82" y="1570.39" width="12.61" height="22.01" fill="#FF5722"/>
<rect x="800.82" y="1575.16" width="12.61" height="17.24" fill="#607D8B"/>
<rect x="800.82" y="1578.09" width="12.61" height="14.31" fill="#E57373"/>
<rect x="818.83" y="1225.5" width="12.61" height="366.9" fill="#F44336"/>
<rect x="818.83" y="1294.84" width="12.61" height="297.56" fill="#2196F3"/>
<rect x="818.83" y="1302.55" width="12.61" height="289.85" fill="#E91E63"/>
<rect x="818.83" y="1329.7" width="12.61" height="262.7" fill="#9C27B0"/>
<rect x="818.83" y="1395.37" width="12.61" height="197.03" fill="#673AB7"/>
<rect x="818.83" y="1401.25" width="12.61" height="191.15" fill="#3F51B5"/>
<rect x="818.83" y="1485.63" width="12.61" height="106.77" fill="#03A9F4"/>
<rect x="818.83" y="1511.68" width="12.61" height="80.72" fill="#8BC34A"/>
<rect x="818.83" y="1529.66" width="12.61" height="62.74" fill="#FFEB3B"/>
<rect x="818.83" y="1535.9" width="12.61" height="56.5" fill="#FF5722"/>
<rect x="818.83" y="1556.81" width="12.61" height="35.59" fill="#795548"/>
<rect x="818.83" y="1559.01" width="12.61" height="33.39" fill="#607D8B"/>
<rect x="818.83" y="1563.78" width="12.61" height="28.62" fill="#E57373"/>
<rect x="836.84" y="1225.5" width="12.61" height="366.9" fill="#F44336"/>
<rect x="836.84" y="1320.16" width="12.61" height="272.24" fill="#2196F3"/>
<rect x="836.84" y="1440.5" width="12.61" height="151.9" fill="#E91E63"/>
<rect x="836.84" y="1444.91" width="12.61" height="147.49" fill="#9C27B0"/>
<rect x="836.84" y="1449.31" width="12.61" height="143.09" fill="#673AB7"/>
<rect x="836.84" y="1482.33" width="12.61" height="110.07" fill="#03A9F4"/>
<rect x="836.84" y="1490.03" width="12.61" height="102.37" fill="#00BCD4"/>
<rect x="836.84" y="1497.74" width="12.61" height="94.66" fill="#009688"/>
<rect x="836.84" y="1518.29" width="12.61" height="74.11" fill="#FFEB3B"/>
<rect x="836.84" y="1530.76" width="12.61" height="61.64" fill="#FF9800"/>
<rect x="836.84" y="1547.27" width="12.61" height="45.13" fill="#795548"/>
<rect x="836.84" y="1548.74" width="12.61" height="43.66" fill="#9E9E9E"/>
<rect x="836.84" y="1559.01" width="12.61" height="33.39" fill="#607D8B"/>
<rect x="836.84" y="1562.31" width="12.61" height="30.09" fill="#455A64"/>
<rect x="836.84" y="1568.55" width="12.61" height="23.85" fill="#E57373"/>
<rect x="854.85" y="1225.5" width="12.61" height="366.9" fill="#F44336"/>
<rect x="854.85" y="1326.76" width="12.61" height="265.64" fill="#2196F3"/>
<rect x="854.85" y="1409.68" width="12.61" height="182.72" fill="#E91E63"/>
<rect x="854.85" y="1465.82" width="12.61" height="126.58" fill="#9C27B0"/>
<rect x="854.85" y="1495.17" width="12.61" height="97.23" fill="#673AB7"/>
<rect x="854.85" y="1500.31" width="12.61" height="92.09" fill="#03A9F4"/>
<rect x="854.85" y="1504.34" width="12.61" height="88.06" fill="#00BCD4"/>
<rect x="854.85" y="1511.32" width="12.61" height="81.08" fill="#CDDC39"/>
<rect x="854.85" y="1512.05" width="12.61" height="80.35" fill="#FFEB3B"/>
<rect x="854.85" y="1521.22" width="12.61" height="71.18" fill="#FF5722"/>
<rect x="854.85" y="1532.96" width="12.61" height="59.44" fill="#9E9E9E"/>
<rect x="854.85" y="1538.83" width="12.61" height="53.57" fill="#607D8B"/>
<rect x="854.85" y="1545.8" width="12.61" height="46.6" fill="#E57373"/>
<rect x="872.85" y="1225.5" width="12.61" height="366.9" fill="#F44336"/>
<rect x="872.85" y="1374.83" width="12.61" height="217.57" fill="#2196F3"/>
<rect x="872.85" y="1398.31" width="12.61" height="194.09" fill="#E91E63"/>
<rect x="872.85" y="1428.03" width="12.61" height="164.37" fill="#9C27B0"/>
<rect x="872.85" y="1440.5" width="12.61" height="151.9" fill="#673AB7"/>
<rect x="872.85" y="1443.44" width="12.61" height="148.96" fill="#3F51B5"/>
<rect x="872.85" y="1455.18" width="12.61" height="137.22" fill="#03A9F4"/>
<rect x="872.85" y="1469.86" width="12.61" height="122.54" fill="#00BCD4"/>
<rect x="872.85" y="1473.16" width="12.61" height="119.24" fill="#009688"/>
<rect x="872.85" y="1480.13" width="12.61" height="112.27" fill="#8BC34A"/>
<rect x="872.85" y="1508.75" width="12.61" height="83.65" fill="#FFEB3B"/>
<rect x="872.85" y="1525.62" width="12.61" height="66.78" fill="#FF5722"/>
<rect x="872.85" y="1529.29" width="12.61" height="63.11" fill="#795548"/>
<rect x="872.85" y="1538.47" width="12.61" height="53.93" fill="#9E9E9E"/>
<rect x="872.85" y="1541.03" width="12.61" height="51.37" fill="#607D8B"/>
<rect x="872.85" y="1548.01" width="12.61" height="44.39" fill="#455A64"/>
<rect x="872.85" y="1557.91" width="12.61" height="34.49" fill="#E57373"/>
<rect x="890.86" y="1225.5" width="12.61" height="366.9" fill="#F44336"/>
<rect x="890.86" y="1265.13" width="12.61" height="327.27" fill="#2196F3"/>
<rect x="890.86" y="1335.57" width="12.61" height="256.83" fill="#E91E63"/>
<rect x="890.86" y="1340.34" width="12.61" height="252.06" fill="#9C27B0"/>
<rect x="890.86" y="1353.18" width="12.61" height="239.22" fill="#673AB7"/>
<rect x="890.86" y="1361.99" width="12.61" height="230.41" fill="#03A9F4"/>
<rect x="890.86" y="1366.02" width="12.61" height="226.38" fill="#00BCD4"/>
<rect x="890.86" y="1371.16" width="12.61" height="221.24" fill="#8BC34A"/>
<rect x="890.86" y="1391.34" width="12.61" height="201.06" fill="#CDDC39"/>
<rect x="890.86" y="1555.71" width="12.61" height="36.69" fill="#FFEB3B"/>
<rect x="890.86" y="1559.01" width="12.61" height="33.39" fill="#FF5722"/>
<rect x="890.86" y="1561.21" width="12.61" height="31.19" fill="#607D8B"/>
<rect x="890.86" y="1563.05" width="12.61" height="29.35" fill="#E57373"/>
<rect x="908.87" y="1225.5" width="12.61" height="366.9" fill="#F44336"/>
<rect x="908.87" y="1285.67" width="12.61" height="306.73" fill="#2196F3"/>
<rect x="908.87" y="1369.69" width="12.61" height="222.71" fill="#9C27B0"/>
<rect x="908.87" y="1386.2" width="12.61" height="206.2" fill="#673AB7"/>
<rect x="908.87" y="1399.78" width="12.61" height="192.62" fill="#00BCD4"/>
<rect x="908.87" y="1417.76" width="12.61" height="174.64" fill="#009688"/>
<rect x="908.87" y="1468.39" width="12.61" height="124.01" fill="#8BC34A"/>
<rect x="908.87" y="1535.53" width="12.61" height="56.87" fill="#607D8B"/>
<rect x="908.87" y="1537" width="12.61" height="55.4" fill="#E57373"/>
<rect x="926.88" y="1225.5" width="12.61" height="366.9" fill="#F44336"/>
<rect x="926.88" y="1275.03" width="12.61" height="317.37" fill="#2196F3"/>
<rect x="926.88" y="1401.98" width="12.61" height="190.42" fill="#E91E63"/>
<rect x="926.88" y="1406.01" width="12.61" height="186.39" fill="#9C27B0"/>
<rect x="926.88" y="1412.62" width="12.61" height="179.78" fill="#3F51B5"/>
<rect x="926.88" y="1416.65" width="12.61" height="175.75" fill="#03A9F4"/>
<rect x="926.88" y="1436.1" width="12.61" height="156.3" fill="#00BCD4"/>
<rect x="926.88" y="1458.48" width="12.61" height="133.92" fill="#009688"/>
<rect x="926.88" y="1494.07" width="12.61" height="98.33" fill="#8BC34A"/>
<rect x="926.88" y="1497.74" width="12.61" height="94.66" fill="#FFEB3B"/>
<rect x="926.88" y="1501.41" width="12.61" height="90.99" fill="#FFC107"/>
<rect x="926.88" y="1550.94" width="12.61" height="41.46" fill="#FF5722"/>
<rect x="926.88" y="1560.11" width="12.61" height="32.29" fill="#9E9E9E"/>
<rect x="926.88" y="1573.69" width="12.61" height="18.71" fill="#607D8B"/>
<rect x="926.88" y="1575.16" width="12.61" height="17.24" fill="#E57373"/>
<rect x="944.89" y="1225.5" width="12.61" height="366.9" fill="#F44336"/>
<rect x="944.89" y="1301.08" width="12.61" height="291.32" fill="#2196F3"/>
<rect x="944.89" y="1417.76" width="12.61" height="174.64" fill="#E91E63"/>
<rect x="944.89" y="1418.86" width="12.61" height="173.54" fill="#9C27B0"/>
<rect x="944.89" y="1430.23" width="12.61" height="162.17" fill="#673AB7"/>
<rect x="944.89" y="1441.24" width="12.61" height="151.16" fill="#3F51B5"/>
<rect x="944.89" y="1451.14" width="12.61" height="141.26" fill="#03A9F4"/>
<rect x="944.89" y="1454.08" width="12.61" height="138.32" fill="#4CAF50"/>
<rect x="944.89" y="1510.58" width="12.61" height="81.82" fill="#FF5722"/>
<rect x="944.89" y="1514.25" width="12.61" height="78.15" fill="#795548"/>
<rect x="944.89" y="1524.52" width="12.61" height="67.88" fill="#607D8B"/>
<rect x="944.89" y="1527.83" width="12.61" height="64.57" fill="#455A64"/>
<rect x="944.89" y="1539.93" width="12.61" height="52.47" fill="#E57373"/>
<rect x="962.89" y="1225.5" width="12.61" height="366.9" fill="#F44336"/>
<rect x="962.89" y="1335.94" width="12.61" height="256.46" fill="#2196F3"/>
<rect x="962.89" y="1455.55" width="12.61" height="136.85" fill="#E91E63"/>
<rect x="962.89" y="1472.79" width="12.61" height="119.61" fill="#9C27B0"/>
<rect x="962.89" y="1476.46" width="12.61" height="115.94" fill="#673AB7"/>
<rect x="962.89" y="1484.16" width="12.61" height="108.24" fill="#00BCD4"/>
<rect x="962.89" y="1491.87" width="12.61" height="100.53" fill="#009688"/>
<rect x="962.89" y="1495.17" width="12.61" height="97.23" fill="#8BC34A"/>
<rect x="962.89" y="1557.18" width="12.61" height="35.22" fill="#FF5722"/>
<rect x="962.89" y="1563.41" width="12.61" height="28.99" fill="#607D8B"/>
<rect x="962.89" y="1567.45" width="12.61" height="24.95" fill="#E57373"/>
<rect x="980.9" y="1225.5" width="12.61" height="366.9" fill="#F44336"/>
<rect x="980.9" y="1321.63" width="12.61" height="270.77" fill="#2196F3"/>
<rect x="980.9" y="1535.16" width="12.61" height="57.24" fill="#9C27B0"/>
<rect x="980.9" y="1548.74" width="12.61" height="43.66" fill="#03A9F4"/>
<rect x="980.9" y="1553.51" width="12.61" height="38.89" fill="#8BC34A"/>
<rect x="980.9" y="1557.91" width="12.61" height="34.49" fill="#FF5722"/>
<rect x="980.9" y="1562.31" width="12.61" height="30.09" fill="#607D8B"/>
<rect x="980.9" y="1568.55" width="12.61" height="23.85" fill="#E57373"/>
<rect x="998.91" y="1225.5" width="12.61" height="366.9" fill="#F44336"/>
<rect x="998.91" y="1422.53" width="12.61" height="169.87" fill="#2196F3"/>
<rect x="998.91" y="1430.6" width="12.61" height="161.8" fill="#E91E63"/>
<rect x="998.91" y="1446.01" width="12.61" height="146.39" fill="#9C27B0"/>
<rect x="998.91" y="1475.36" width="12.61" height="117.04" fill="#673AB7"/>
<rect x="998.91" y="1487.83" width="12.61" height="104.57" fill="#3F51B5"/>
<rect x="998.91" y="1532.96" width="12.61" height="59.44" fill="#03A9F4"/>
<rect x="998.91" y="1544.34" width="12.61" height="48.06" fill="#8BC34A"/>
<rect x="998.91" y="1547.27" width="12.61" height="45.13" fill="#CDDC39"/>
<rect x="998.91" y="1550.21" width="12.61" height="42.19" fill="#FF5722"/>
<rect x="998.91" y="1552.04" width="12.61" height="40.36" fill="#795548"/>
<rect x="998.91" y="1560.11" width="12.61" height="32.29" fill="#607D8B"/>
<rect x="998.91" y="1565.62" width="12.61" height="26.78" fill="#455A64"/>
<rect x="998.91" y="1572.22" width="12.61" height="20.18" fill="#E57373"/>
<rect x="1016.92" y="1225.5" width="12.61" height="366.9" fill="#F44336"/>
<rect x="1016.92" y="1417.76" width="12.61" height="174.64" fill="#2196F3"/>
<rect x="1016.92" y="1446.01" width="12.61" height="146.39" fill="#E91E63"/>
<rect x="1016.92" y="1477.56" width="12.61" height="114.84" fill="#9C27B0"/>
<rect x="1016.92" y="1498.11" width="12.61" height="94.29" fill="#673AB7"/>
<rect x="1016.92" y="1500.31" width="12.61" height="92.09" fill="#03A9F4"/>
<rect x="1016.92" y="1508.75" width="12.61" height="83.65" fill="#4CAF50"/>
<rect x="1016.92" y="1547.27" width="12.61" height="45.13" fill="#8BC34A"/>
<rect x="1016.92" y="1552.77" width="12.61" height="39.63" fill="#FFEB3B"/>
<rect x="1016.92" y="1557.91" width="12.61" height="34.49" fill="#FF5722"/>
<rect x="1016.92" y="1565.62" width="12.61" height="26.78" fill="#795548"/>
<rect x="1016.92" y="1568.55" width="12.61" height="23.85" fill="#607D8B"/>
<rect x="1016.92" y="1570.75" width="12.61" height="21.65" fill="#E57373"/>
<rect x="1034.93" y="1225.5" width="12.61" height="366.9" fill="#F44336"/>
<rect x="1034.93" y="1375.93" width="12.61" height="216.47" fill="#2196F3"/>
<rect x="1034.93" y="1430.6" width="12.61" height="161.8" fill="#E91E63"/>
<rect x="1034.93" y="1432.43" width="12.61" height="159.97" fill="#9C27B0"/>
<rect x="1034.93" y="1443.07" width="12.61" height="149.33" fill="#673AB7"/>
<rect x="1034.93" y="1463.62" width="12.61" height="128.78" fill="#03A9F4"/>
<rect x="1034.93" y="1476.46" width="12.61" height="115.94" fill="#00BCD4"/>
<rect x="1034.93" y="1487.47" width="12.61" height="104.93" fill="#009688"/>
<rect x="1034.93" y="1492.97" width="12.61" height="99.43" fill="#8BC34A"/>
<rect x="1034.93" y="1506.18" width="12.61" height="86.22" fill="#CDDC39"/>
<rect x="1034.93" y="1509.85" width="12.61" height="82.55" fill="#FFEB3B"/>
<rect x="1034.93" y="1525.99" width="12.61" height="66.41" fill="#FFC107"/>
<rect x="1034.93" y="1528.19" width="12.61" height="64.21" fill="#607D8B"/>
<rect x="1034.93" y="1530.39" width="12.61" height="62.01" fill="#E57373"/>
<rect x="1052.94" y="1225.5" width="12.61" height="366.9" fill="#F44336"/>
<rect x="1052.94" y="1289.71" width="12.61" height="302.69" fill="#2196F3"/>
<rect x="1052.94" y="1401.25" width="12.61" height="191.15" fill="#E91E63"/>
<rect x="1052.94" y="1403.08" width="12.61" height="189.32" fill="#9C27B0"/>
<rect x="1052.94" y="1446.74" width="12.61" height="145.66" fill="#673AB7"/>
<rect x="1052.94" y="1457.38" width="12.61" height="135.02" fill="#3F51B5"/>
<rect x="1052.94" y="1487.1" width="12.61" height="105.3" fill="#03A9F4"/>
<rect x="1052.94" y="1491.14" width="12.61" height="101.26" fill="#00BCD4"/>
<rect x="1052.94" y="1493.7" width="12.61" height="98.7" fill="#4CAF50"/>
<rect x="1052.94" y="1528.56" width="12.61" height="63.84" fill="#FFEB3B"/>
<rect x="1052.94" y="1529.66" width="12.61" height="62.74" fill="#FF5722"/>
<rect x="1052.94" y="1532.96" width="12.61" height="59.44" fill="#795548"/>
<rect x="1052.94" y="1550.21" width="12.61" height="42.19" fill="#607D8B"/>
<rect x="1052.94" y="1554.24" width="12.61" height="38.16" fill="#455A64"/>
<rect x="1052.94" y="1563.05" width="12.61" height="29.35" fill="#E57373"/>
<rect x="1070.94" y="1225.5" width="12.61" height="366.9" fill="#F44336"/>
<rect x="1070.94" y="1353.91" width="12.61" height="238.49" fill="#2196F3"/>
<rect x="1070.94" y="1526.72" width="12.61" height="65.68" fill="#9C27B0"/>
<rect x="1070.94" y="1536.63" width="12.61" height="55.77" fill="#03A9F4"/>
<rect x="1070.94" y="1539.2" width="12.61" height="53.2" fill="#4CAF50"/>
<rect x="1070.94" y="1560.48" width="12.61" height="31.92" fill="#8BC34A"/>
<rect x="1070.94" y="1563.78" width="12.61" height="28.62" fill="#FFEB3B"/>
<rect x="1070.94" y="1564.88" width="12.61" height="27.52" fill="#FF5722"/>
<rect x="1070.94" y="1568.55" width="12.61" height="23.85" fill="#9E9E9E"/>
<rect x="1070.94" y="1574.06" width="12.61" height="18.35" fill="#607D8B"/>
<rect x="1070.94" y="1583.23" width="12.61" height="9.17" fill="#E57373"/>
<rect x="1088.95" y="1225.5" width="12.61" height="366.9" fill="#F44336"/>
<rect x="1088.95" y="1303.28" width="12.61" height="289.12" fill="#2196F3"/>
<rect x="1088.95" y="1448.94" width="12.61" height="143.46" fill="#E91E63"/>
<rect x="1088.95" y="1450.78" width="12.61" height="141.62" fill="#9C27B0"/>
<rect x="1088.95" y="1453.34" width="12.61" height="139.06" fill="#673AB7"/>
<rect x="1088.95" y="1460.68" width="12.61" height="131.72" fill="#03A9F4"/>
<rect x="1088.95" y="1467.29" width="12.61" height="125.11" fill="#00BCD4"/>
<rect x="1088.95" y="1499.57" width="12.61" height="92.83" fill="#009688"/>
<rect x="1088.95" y="1504.71" width="12.61" height="87.69" fill="#8BC34A"/>
<rect x="1088.95" y="1515.72" width="12.61" height="76.68" fill="#FFEB3B"/>
<rect x="1088.95" y="1527.09" width="12.61" height="65.31" fill="#FF9800"/>
<rect x="1088.95" y="1531.13" width="12.61" height="61.27" fill="#FF5722"/>
<rect x="1088.95" y="1543.24" width="12.61" height="49.16" fill="#607D8B"/>
<rect x="1088.95" y="1544.7" width="12.61" height="47.7" fill="#455A64"/>
<rect x="1088.95" y="1548.01" width="12.61" height="44.39" fill="#E57373"/>
<rect x="1106.96" y="1225.5" width="12.61" height="366.9" fill="#F44336"/>
<rect x="1106.96" y="1372.99" width="12.61" height="219.41" fill="#2196F3"/>
<rect x="1106.96" y="1383.63" width="12.61" height="208.77" fill="#E91E63"/>
<rect x="1106.96" y="1417.76" width="12.61" height="174.64" fill="#9C27B0"/>
<rect x="1106.96" y="1430.6" width="12.61" height="161.8" fill="#673AB7"/>
<rect x="1106.96" y="1446.74" width="12.61" height="145.66" fill="#03A9F4"/>
<rect x="1106.96" y="1513.88" width="12.61" height="78.52" fill="#00BCD4"/>
<rect x="1106.96" y="1532.6" width="12.61" height="59.8" fill="#FFEB3B"/>
<rect x="1106.96" y="1546.17" width="12.61" height="46.23" fill="#FF9800"/>
<rect x="1106.96" y="1551.31" width="12.61" height="41.09" fill="#FF5722"/>
<rect x="1106.96" y="1554.24" width="12.61" height="38.16" fill="#795548"/>
<rect x="1106.96" y="1557.18" width="12.61" height="35.22" fill="#607D8B"/>
<rect x="1106.96" y="1558.65" width="12.61" height="33.75" fill="#455A64"/>
<rect x="1106.96" y="1576.99" width="12.61" height="15.41" fill="#E57373"/>
<rect x="1124.97" y="1225.5" width="12.61" height="366.9" fill="#F44336"/>
<rect x="1124.97" y="1267.33" width="12.61" height="325.07" fill="#2196F3"/>
<rect x="1124.97" y="1332.27" width="12.61" height="260.13" fill="#E91E63"/>
<rect x="1124.97" y="1356.12" width="12.61" height="236.28" fill="#9C27B0"/>
<rect x="1124.97" y="1361.62" width="12.61" height="230.78" fill="#673AB7"/>
<rect x="1124.97" y="1373.73" width="12.61" height="218.67" fill="#3F51B5"/>
<rect x="1124.97" y="1496.64" width="12.61" height="95.76" fill="#03A9F4"/>
<rect x="1124.97" y="1506.18" width="12.61" height="86.22" fill="#00BCD4"/>
<rect x="1124.97" y="1508.75" width="12.61" height="83.65" fill="#8BC34A"/>
<rect x="1124.97" y="1514.25" width="12.61" height="78.15" fill="#FFEB3B"/>
<rect x="1124.97" y="1517.19" width="12.61" height="75.21" fill="#795548"/>
<rect x="1124.97" y="1552.77" width="12.61" height="39.63" fill="#607D8B"/>
<rect x="1124.97" y="1553.88" width="12.61" height="38.52" fill="#E57373"/>
<rect x="1142.98" y="1225.5" width="12.61" height="366.9" fill="#F44336"/>
<rect x="1142.98" y="1381.8" width="12.61" height="210.6" fill="#2196F3"/>
<rect x="1142.98" y="1397.58" width="12.61" height="194.82" fill="#E91E63"/>
<rect x="1142.98" y="1405.28" width="12.61" height="187.12" fill="#9C27B0"/>
<rect x="1142.98" y="1438.3" width="12.61" height="154.1" fill="#673AB7"/>
<rect x="1142.98" y="1442.34" width="12.61" height="150.06" fill="#03A9F4"/>
<rect x="1142.98" y="1448.94" width="12.61" height="143.46" fill="#00BCD4"/>
<rect x="1142.98" y="1474.26" width="12.61" height="118.14" fill="#FFEB3B"/>
<rect x="1142.98" y="1487.83" width="12.61" height="104.57" fill="#FFC107"/>
<rect x="1142.98" y="1496.27" width="12.61" height="96.13" fill="#FF5722"/>
<rect x="1142.98" y="1505.08" width="12.61" height="87.32" fill="#9E9E9E"/>
<rect x="1142.98" y="1525.26" width="12.61" height="67.14" fill="#607D8B"/>
<rect x="1142.98" y="1528.93" width="12.61" height="63.47" fill="#E57373"/>
<rect x="1160.98" y="1225.5" width="12.61" height="366.9" fill="#F44336"/>
<rect x="1160.98" y="1304.38" width="12.61" height="288.02" fill="#2196F3"/>
<rect x="1160.98" y="1333.37" width="12.61" height="259.03" fill="#E91E63"/>
<rect x="1160.98" y="1352.45" width="12.61" height="239.95" fill="#9C27B0"/>
<rect x="1160.98" y="1417.02" width="12.61" height="175.38" fill="#3F51B5"/>
<rect x="1160.98" y="1484.53" width="12.61" height="107.87" fill="#03A9F4"/>
<rect x="1160.98" y="1493.34" width="12.61" height="99.06" fill="#00BCD4"/>
<rect x="1160.98" y="1495.17" width="12.61" height="97.23" fill="#4CAF50"/>
<rect x="1160.98" y="1543.6" width="12.61" height="48.8" fill="#8BC34A"/>
<rect x="1160.98" y="1545.07" width="12.61" height="47.33" fill="#FFEB3B"/>
<rect x="1160.98" y="1549.11" width="12.61" height="43.29" fill="#FF5722"/>
<rect x="1160.98" y="1550.94" width="12.61" height="41.46" fill="#9E9E9E"/>
<rect x="1160.98" y="1568.18" width="12.61" height="24.22" fill="#607D8B"/>
<rect x="1160.98" y="1569.65" width="12.61" height="22.75" fill="#E57373"/>
<rect x="1178.99" y="1225.5" width="12.61" height="366.9" fill="#F44336"/>
<rect x="1178.99" y="1276.5" width="12.61" height="315.9" fill="#2196F3"/>
<rect x="1178.99" y="1336.67" width="12.61" height="255.73" fill="#E91E63"/>
<rect x="1178.99" y="1392.07" width="12.61" height="200.33" fill="#9C27B0"/>
<rect x="1178.99" y="1411.52" width="12.61" height="180.88" fill="#673AB7"/>
<rect x="1178.99" y="1435" width="12.61" height="157.4" fill="#3F51B5"/>
<rect x="1178.99" y="1444.91" width="12.61" height="147.49" fill="#03A9F4"/>
<rect x="1178.99" y="1457.01" width="12.61" height="135.39" fill="#00BCD4"/>
<rect x="1178.99" y="1495.17" width="12.61" height="97.23" fill="#009688"/>
<rect x="1178.99" y="1498.47" width="12.61" height="93.93" fill="#4CAF50"/>
<rect x="1178.99" y="1510.21" width="12.61" height="82.19" fill="#CDDC39"/>
<rect x="1178.99" y="1511.68" width="12.61" height="80.72" fill="#FF5722"/>
<rect x="1178.99" y="1524.52" width="12.61" height="67.88" fill="#9E9E9E"/>
<rect x="1178.99" y="1545.8" width="12.61" height="46.6" fill="#607D8B"/>
<rect x="1178.99" y="1546.9" width="12.61" height="45.5" fill="#E57373"/>
<rect x="94" y="1225.5" width="1102.1" height="366.9" fill="none" stroke="#a4a4b4" stroke-width="0.9"/>
<line x1="91.3" y1="1592.4" x2="94" y2="1592.4" stroke="#444" stroke-width="0.7"/>
<text x="89.8" y="1595.5" text-anchor="end" font-size="9.4" fill="#1e1e1e">0.00</text>
<line x1="91.3" y1="1500.68" x2="94" y2="1500.68" stroke="#444" stroke-width="0.7"/>
<text x="89.8" y="1503.78" text-anchor="end" font-size="9.4" fill="#1e1e1e">0.25</text>
<line x1="91.3" y1="1408.95" x2="94" y2="1408.95" stroke="#444" stroke-width="0.7"/>
<text x="89.8" y="1412.05" text-anchor="end" font-size="9.4" fill="#1e1e1e">0.50</text>
<line x1="91.3" y1="1317.22" x2="94" y2="1317.22" stroke="#444" stroke-width="0.7"/>
<text x="89.8" y="1320.32" text-anchor="end" font-size="9.4" fill="#1e1e1e">0.75</text>
<line x1="91.3" y1="1225.5" x2="94" y2="1225.5" stroke="#444" stroke-width="0.7"/>
<text x="89.8" y="1228.6" text-anchor="end" font-size="9.4" fill="#1e1e1e">1.00</text>
<line x1="104.8" y1="1592.4" x2="104.8" y2="1595.1" stroke="#444" stroke-width="0.7"/>
<line x1="122.81" y1="1592.4" x2="122.81" y2="1595.1" stroke="#444" stroke-width="0.7"/>
<line x1="140.82" y1="1592.4" x2="140.82" y2="1595.1" stroke="#444" stroke-width="0.7"/>
<line x1="158.83" y1="1592.4" x2="158.83" y2="1595.1" stroke="#444" stroke-width="0.7"/>
<line x1="176.84" y1="1592.4" x2="176.84" y2="1595.1" stroke="#444" stroke-width="0.7"/>
<line x1="194.85" y1="1592.4" x2="194.85" y2="1595.1" stroke="#444" stroke-width="0.7"/>
<line x1="212.85" y1="1592.4" x2="212.85" y2="1595.1" stroke="#444" stroke-width="0.7"/>
<line x1="230.86" y1="1592.4" x2="230.86" y2="1595.1" stroke="#444" stroke-width="0.7"/>
<line x1="248.87" y1="1592.4" x2="248.87" y2="1595.1" stroke="#444" stroke-width="0.7"/>
<line x1="266.88" y1="1592.4" x2="266.88" y2="1595.1" stroke="#444" stroke-width="0.7"/>
<line x1="284.89" y1="1592.4" x2="284.89" y2="1595.1" stroke="#444" stroke-width="0.7"/>
<line x1="302.89" y1="1592.4" x2="302.89" y2="1595.1" stroke="#444" stroke-width="0.7"/>
<line x1="320.9" y1="1592.4" x2="320.9" y2="1595.1" stroke="#444" stroke-width="0.7"/>
<line x1="338.91" y1="1592.4" x2="338.91" y2="1595.1" stroke="#444" stroke-width="0.7"/>
<line x1="356.92" y1="1592.4" x2="356.92" y2="1595.1" stroke="#444" stroke-width="0.7"/>
<line x1="374.93" y1="1592.4" x2="374.93" y2="1595.1" stroke="#444" stroke-width="0.7"/>
<line x1="392.94" y1="1592.4" x2="392.94" y2="1595.1" stroke="#444" stroke-width="0.7"/>
<line x1="410.94" y1="1592.4" x2="410.94" y2="1595.1" stroke="#444" stroke-width="0.7"/>
<line x1="428.95" y1="1592.4" x2="428.95" y2="1595.1" stroke="#444" stroke-width="0.7"/>
<line x1="446.96" y1="1592.4" x2="446.96" y2="1595.1" stroke="#444" stroke-width="0.7"/>
<line x1="464.97" y1="1592.4" x2="464.97" y2="1595.1" stroke="#444" stroke-width="0.7"/>
<line x1="482.98" y1="1592.4" x2="482.98" y2="1595.1" stroke="#444" stroke-width="0.7"/>
<line x1="500.98" y1="1592.4" x2="500.98" y2="1595.1" stroke="#444" stroke-width="0.7"/>
<line x1="518.99" y1="1592.4" x2="518.99" y2="1595.1" stroke="#444" stroke-width="0.7"/>
<line x1="537" y1="1592.4" x2="537" y2="1595.1" stroke="#444" stroke-width="0.7"/>
<line x1="555.01" y1="1592.4" x2="555.01" y2="1595.1" stroke="#444" stroke-width="0.7"/>
<line x1="573.02" y1="1592.4" x2="573.02" y2="1595.1" stroke="#444" stroke-width="0.7"/>
<line x1="591.03" y1="1592.4" x2="591.03" y2="1595.1" stroke="#444" stroke-width="0.7"/>
<line x1="609.03" y1="1592.4" x2="609.03" y2="1595.1" stroke="#444" stroke-width="0.7"/>
<line x1="627.04" y1="1592.4" x2="627.04" y2="1595.1" stroke="#444" stroke-width="0.7"/>
<line x1="645.05" y1="1592.4" x2="645.05" y2="1595.1" stroke="#444" stroke-width="0.7"/>
<line x1="663.06" y1="1592.4" x2="663.06" y2="1595.1" stroke="#444" stroke-width="0.7"/>
<line x1="681.07" y1="1592.4" x2="681.07" y2="1595.1" stroke="#444" stroke-width="0.7"/>
<line x1="699.07" y1="1592.4" x2="699.07" y2="1595.1" stroke="#444" stroke-width="0.7"/>
<line x1="717.08" y1="1592.4" x2="717.08" y2="1595.1" stroke="#444" stroke-width="0.7"/>
<line x1="735.09" y1="1592.4" x2="735.09" y2="1595.1" stroke="#444" stroke-width="0.7"/>
<line x1="753.1" y1="1592.4" x2="753.1" y2="1595.1" stroke="#444" stroke-width="0.7"/>
<line x1="771.11" y1="1592.4" x2="771.11" y2="1595.1" stroke="#444" stroke-width="0.7"/>
<line x1="789.12" y1="1592.4" x2="789.12" y2="1595.1" stroke="#444" stroke-width="0.7"/>
<line x1="807.12" y1="1592.4" x2="807.12" y2="1595.1" stroke="#444" stroke-width="0.7"/>
<line x1="825.13" y1="1592.4" x2="825.13" y2="1595.1" stroke="#444" stroke-width="0.7"/>
<line x1="843.14" y1="1592.4" x2="843.14" y2="1595.1" stroke="#444" stroke-width="0.7"/>
<line x1="861.15" y1="1592.4" x2="861.15" y2="1595.1" stroke="#444" stroke-width="0.7"/>
<line x1="879.16" y1="1592.4" x2="879.16" y2="1595.1" stroke="#444" stroke-width="0.7"/>
<line x1="897.16" y1="1592.4" x2="897.16" y2="1595.1" stroke="#444" stroke-width="0.7"/>
<line x1="915.17" y1="1592.4" x2="915.17" y2="1595.1" stroke="#444" stroke-width="0.7"/>
<line x1="933.18" y1="1592.4" x2="933.18" y2="1595.1" stroke="#444" stroke-width="0.7"/>
<line x1="951.19" y1="1592.4" x2="951.19" y2="1595.1" stroke="#444" stroke-width="0.7"/>
<line x1="969.2" y1="1592.4" x2="969.2" y2="1595.1" stroke="#444" stroke-width="0.7"/>
<line x1="987.21" y1="1592.4" x2="987.21" y2="1595.1" stroke="#444" stroke-width="0.7"/>
<line x1="1005.21" y1="1592.4" x2="1005.21" y2="1595.1" stroke="#444" stroke-width="0.7"/>
<line x1="1023.22" y1="1592.4" x2="1023.22" y2="1595.1" stroke="#444" stroke-width="0.7"/>
<line x1="1041.23" y1="1592.4" x2="1041.23" y2="1595.1" stroke="#444" stroke-width="0.7"/>
<line x1="1059.24" y1="1592.4" x2="1059.24" y2="1595.1" stroke="#444" stroke-width="0.7"/>
<line x1="1077.25" y1="1592.4" x2="1077.25" y2="1595.1" stroke="#444" stroke-width="0.7"/>
<line x1="1095.25" y1="1592.4" x2="1095.25" y2="1595.1" stroke="#444" stroke-width="0.7"/>
<line x1="1113.26" y1="1592.4" x2="1113.26" y2="1595.1" stroke="#444" stroke-width="0.7"/>
<line x1="1131.27" y1="1592.4" x2="1131.27" y2="1595.1" stroke="#444" stroke-width="0.7"/>
<line x1="1149.28" y1="1592.4" x2="1149.28" y2="1595.1" stroke="#444" stroke-width="0.7"/>
<line x1="1167.29" y1="1592.4" x2="1167.29" y2="1595.1" stroke="#444" stroke-width="0.7"/>
<line x1="1185.3" y1="1592.4" x2="1185.3" y2="1595.1" stroke="#444" stroke-width="0.7"/>
<text x="69.3" y="1408.95" text-anchor="middle" font-size="9.7" fill="#1e1e1e" transform="rotate(-90 69.3 1408.95)">Relative Abundance</text>
<rect x="98.5" y="1598.7" width="354.76" height="13.9" fill="#c6c6c6"/>
<text x="276.4" y="1609.25" text-anchor="middle" font-size="9.5" fill="#1e1e1e">PCOS-NIR</text>
<rect x="458.67" y="1598.7" width="192.69" height="13.9" fill="#c6c6c6"/>
<text x="562.6" y="1609.25" text-anchor="middle" font-size="9.5" fill="#1e1e1e">PCOS-NIR treated</text>
<rect x="656.76" y="1598.7" width="354.76" height="13.9" fill="#c6c6c6"/>
<text x="832.8" y="1609.25" text-anchor="middle" font-size="9.5" fill="#1e1e1e">PCOS-IR</text>
<rect x="1016.92" y="1598.7" width="174.68" height="13.9" fill="#c6c6c6"/>
<text x="1100.5" y="1609.25" text-anchor="middle" font-size="9.5" fill="#1e1e1e">PCOS-IR treated</text>
<text x="1211.4" y="1243" font-size="9.8" fill="#1e1e1e">taxon</text>
<rect x="1211.9" y="1249" width="12.8" height="12.5" fill="#F44336"/>
<text x="1230.4" y="1258.45" font-size="9.8" fill="#1e1e1e">f__Lachnospiraceae</text>
<rect x="1211.9" y="1263" width="12.8" height="12.5" fill="#2196F3"/>
<text x="1230.4" y="1272.45" font-size="9.8" fill="#1e1e1e">f__Ruminococcaceae</text>
<rect x="1211.9" y="1277" width="12.8" height="12.5" fill="#E91E63"/>
<text x="1230.4" y="1286.45" font-size="9.8" fill="#1e1e1e">f__Veillonellaceae</text>
<rect x="1211.9" y="1291" width="12.8" height="12.5" fill="#9C27B0"/>
<text x="1230.4" y="1300.45" font-size="9.8" fill="#1e1e1e">f__Clostridia_UCG−014</text>
<rect x="1211.9" y="1305" width="12.8" height="12.5" fill="#673AB7"/>
<text x="1230.4" y="1314.45" font-size="9.8" fill="#1e1e1e">f__Prevotellaceae</text>
<rect x="1211.9" y="1319" width="12.8" height="12.5" fill="#3F51B5"/>
<text x="1230.4" y="1328.45" font-size="9.8" fill="#1e1e1e">f__Desulfovibrionaceae</text>
<rect x="1211.9" y="1333" width="12.8" height="12.5" fill="#03A9F4"/>
<text x="1230.4" y="1342.45" font-size="9.8" fill="#1e1e1e">f__Bacteroidaceae</text>
<rect x="1211.9" y="1347" width="12.8" height="12.5" fill="#00BCD4"/>
<text x="1230.4" y="1356.45" font-size="9.8" fill="#1e1e1e">f__Oscillospiraceae</text>
<rect x="1211.9" y="1361" width="12.8" height="12.5" fill="#009688"/>
<text x="1230.4" y="1370.45" font-size="9.8" fill="#1e1e1e">f__Christensenellaceae</text>
<rect x="1211.9" y="1375" width="12.8" height="12.5" fill="#4CAF50"/>
<text x="1230.4" y="1384.45" font-size="9.8" fill="#1e1e1e">f__Erysipelotrichaceae</text>
<rect x="1211.9" y="1389" width="12.8" height="12.5" fill="#8BC34A"/>
<text x="1230.4" y="1398.45" font-size="9.8" fill="#1e1e1e">f__Acidaminococcaceae</text>
<rect x="1211.9" y="1403" width="12.8" height="12.5" fill="#CDDC39"/>
<text x="1230.4" y="1412.45" font-size="9.8" fill="#1e1e1e">f__Anaerovoracaceae</text>
<rect x="1211.9" y="1417" width="12.8" height="12.5" fill="#FFEB3B"/>
<text x="1230.4" y="1426.45" font-size="9.8" fill="#1e1e1e">f__Bifidobacteriaceae</text>
<rect x="1211.9" y="1431" width="12.8" height="12.5" fill="#FFC107"/>
<text x="1230.4" y="1440.45" font-size="9.8" fill="#1e1e1e">f__Selenomonadaceae</text>
<rect x="1211.9" y="1445" width="12.8" height="12.5" fill="#FF9800"/>
<text x="1230.4" y="1454.45" font-size="9.8" fill="#1e1e1e">f__Peptostreptococcaceae</text>
<rect x="1211.9" y="1459" width="12.8" height="12.5" fill="#FF5722"/>
<text x="1230.4" y="1468.45" font-size="9.8" fill="#1e1e1e">f__Enterobacteriaceae</text>
<rect x="1211.9" y="1473" width="12.8" height="12.5" fill="#795548"/>
<text x="1230.4" y="1482.45" font-size="9.8" fill="#1e1e1e">f__Longimicrobiaceae</text>
<rect x="1211.9" y="1487" width="12.8" height="12.5" fill="#9E9E9E"/>
<text x="1230.4" y="1496.45" font-size="9.8" fill="#1e1e1e">f__Marinifilaceae</text>
<rect x="1211.9" y="1501" width="12.8" height="12.5" fill="#607D8B"/>
<text x="1230.4" y="1510.45" font-size="9.8" fill="#1e1e1e">f__Sutterellaceae</text>
<rect x="1211.9" y="1515" width="12.8" height="12.5" fill="#455A64"/>
<text x="1230.4" y="1524.45" font-size="9.8" fill="#1e1e1e">f__Rikenellaceae</text>
<rect x="1211.9" y="1529" width="12.8" height="12.5" fill="#E57373"/>
<text x="1230.4" y="1538.45" font-size="9.8" fill="#1e1e1e">Others</text>
<text x="3.8" y="1232.8" font-family='"Liberation Sans", sans-serif' font-weight="bold" font-size="33.6" fill="#000">D</text>
<line x1="94" y1="1967.14" x2="1079.3" y2="1967.14" stroke="#e6e6e6" stroke-width="0.5"/>
<line x1="94" y1="1921.28" x2="1079.3" y2="1921.28" stroke="#e6e6e6" stroke-width="0.8"/>
<line x1="94" y1="1875.41" x2="1079.3" y2="1875.41" stroke="#e6e6e6" stroke-width="0.5"/>
<line x1="94" y1="1829.55" x2="1079.3" y2="1829.55" stroke="#e6e6e6" stroke-width="0.8"/>
<line x1="94" y1="1783.69" x2="1079.3" y2="1783.69" stroke="#e6e6e6" stroke-width="0.5"/>
<line x1="94" y1="1737.82" x2="1079.3" y2="1737.82" stroke="#e6e6e6" stroke-width="0.8"/>
<line x1="94" y1="1691.96" x2="1079.3" y2="1691.96" stroke="#e6e6e6" stroke-width="0.5"/>
<rect x="98.02" y="1646.1" width="11.27" height="366.9" fill="#F44336"/>
<rect x="98.02" y="1654.17" width="11.27" height="358.83" fill="#03A9F4"/>
<rect x="98.02" y="1657.11" width="11.27" height="355.89" fill="#E91E63"/>
<rect x="98.02" y="1688.66" width="11.27" height="324.34" fill="#673AB7"/>
<rect x="98.02" y="1725.72" width="11.27" height="287.28" fill="#3F51B5"/>
<rect x="98.02" y="1738.19" width="11.27" height="274.81" fill="#009688"/>
<rect x="98.02" y="1776.72" width="11.27" height="236.28" fill="#8BC34A"/>
<rect x="98.02" y="1795.43" width="11.27" height="217.57" fill="#CDDC39"/>
<rect x="98.02" y="1807.54" width="11.27" height="205.46" fill="#FFC107"/>
<rect x="98.02" y="1815.97" width="11.27" height="197.03" fill="#FF5722"/>
<rect x="98.02" y="1858.54" width="11.27" height="154.46" fill="#E57373"/>
<rect x="98.02" y="1862.57" width="11.27" height="150.43" fill="#F06292"/>
<rect x="98.02" y="1870.28" width="11.27" height="142.72" fill="#9575CD"/>
<rect x="98.02" y="1934.48" width="11.27" height="78.52" fill="#64B5F6"/>
<rect x="114.12" y="1646.1" width="11.27" height="366.9" fill="#F44336"/>
<rect x="114.12" y="1750.3" width="11.27" height="262.7" fill="#9C27B0"/>
<rect x="114.12" y="1752.5" width="11.27" height="260.5" fill="#673AB7"/>
<rect x="114.12" y="1799.46" width="11.27" height="213.54" fill="#03A9F4"/>
<rect x="114.12" y="1845.33" width="11.27" height="167.67" fill="#4CAF50"/>
<rect x="114.12" y="1849" width="11.27" height="164" fill="#8BC34A"/>
<rect x="114.12" y="1864.77" width="11.27" height="148.23" fill="#455A64"/>
<rect x="114.12" y="1869.18" width="11.27" height="143.82" fill="#E57373"/>
<rect x="114.12" y="1878.35" width="11.27" height="134.65" fill="#7986CB"/>
<rect x="114.12" y="1893.02" width="11.27" height="119.98" fill="#64B5F6"/>
<rect x="130.22" y="1646.1" width="11.27" height="366.9" fill="#F44336"/>
<rect x="130.22" y="1653.44" width="11.27" height="359.56" fill="#03A9F4"/>
<rect x="130.22" y="1660.04" width="11.27" height="352.96" fill="#E91E63"/>
<rect x="130.22" y="1671.78" width="11.27" height="341.22" fill="#673AB7"/>
<rect x="130.22" y="1719.11" width="11.27" height="293.89" fill="#00BCD4"/>
<rect x="130.22" y="1730.12" width="11.27" height="282.88" fill="#009688"/>
<rect x="130.22" y="1731.59" width="11.27" height="281.41" fill="#4CAF50"/>
<rect x="130.22" y="1741.49" width="11.27" height="271.51" fill="#CDDC39"/>
<rect x="130.22" y="1748.1" width="11.27" height="264.9" fill="#FFC107"/>
<rect x="130.22" y="1766.81" width="11.27" height="246.19" fill="#795548"/>
<rect x="130.22" y="1819.64" width="11.27" height="193.36" fill="#7986CB"/>
<rect x="130.22" y="1825.51" width="11.27" height="187.49" fill="#64B5F6"/>
<rect x="146.32" y="1646.1" width="11.27" height="366.9" fill="#F44336"/>
<rect x="146.32" y="1650.14" width="11.27" height="362.86" fill="#03A9F4"/>
<rect x="146.32" y="1654.54" width="11.27" height="358.46" fill="#673AB7"/>
<rect x="146.32" y="1680.59" width="11.27" height="332.41" fill="#3F51B5"/>
<rect x="146.32" y="1691.96" width="11.27" height="321.04" fill="#03A9F4"/>
<rect x="146.32" y="1725.72" width="11.27" height="287.28" fill="#00BCD4"/>
<rect x="146.32" y="1858.54" width="11.27" height="154.46" fill="#FFC107"/>
<rect x="146.32" y="1863.67" width="11.27" height="149.33" fill="#FF5722"/>
<rect x="146.32" y="1870.64" width="11.27" height="142.36" fill="#7986CB"/>
<rect x="146.32" y="1937.42" width="11.27" height="75.58" fill="#64B5F6"/>
<rect x="162.42" y="1646.1" width="11.27" height="366.9" fill="#F44336"/>
<rect x="162.42" y="1671.05" width="11.27" height="341.95" fill="#2196F3"/>
<rect x="162.42" y="1836.52" width="11.27" height="176.48" fill="#E91E63"/>
<rect x="162.42" y="1857.8" width="11.27" height="155.2" fill="#9C27B0"/>
<rect x="162.42" y="1889.35" width="11.27" height="123.65" fill="#3F51B5"/>
<rect x="162.42" y="1898.53" width="11.27" height="114.47" fill="#8BC34A"/>
<rect x="162.42" y="1938.52" width="11.27" height="74.48" fill="#FF9800"/>
<rect x="162.42" y="1940.72" width="11.27" height="72.28" fill="#64B5F6"/>
<rect x="178.52" y="1646.1" width="11.27" height="366.9" fill="#F44336"/>
<rect x="178.52" y="1735.99" width="11.27" height="277.01" fill="#03A9F4"/>
<rect x="178.52" y="1741.13" width="11.27" height="271.87" fill="#E91E63"/>
<rect x="178.52" y="1767.54" width="11.27" height="245.46" fill="#673AB7"/>
<rect x="178.52" y="1789.19" width="11.27" height="223.81" fill="#FFC107"/>
<rect x="178.52" y="1834.69" width="11.27" height="178.31" fill="#FF9800"/>
<rect x="178.52" y="1854.13" width="11.27" height="158.87" fill="#FF5722"/>
<rect x="178.52" y="1869.91" width="11.27" height="143.09" fill="#64B5F6"/>
<rect x="194.62" y="1646.1" width="11.27" height="366.9" fill="#2196F3"/>
<rect x="194.62" y="1660.04" width="11.27" height="352.96" fill="#E91E63"/>
<rect x="194.62" y="1712.14" width="11.27" height="300.86" fill="#9C27B0"/>
<rect x="194.62" y="1730.49" width="11.27" height="282.51" fill="#009688"/>
<rect x="194.62" y="1760.94" width="11.27" height="252.06" fill="#FFC107"/>
<rect x="194.62" y="1787.36" width="11.27" height="225.64" fill="#FF9800"/>
<rect x="194.62" y="1798.36" width="11.27" height="214.64" fill="#FF5722"/>
<rect x="194.62" y="1814.14" width="11.27" height="198.86" fill="#64B5F6"/>
<rect x="210.72" y="1646.1" width="11.27" height="366.9" fill="#F44336"/>
<rect x="210.72" y="1647.93" width="11.27" height="365.07" fill="#2196F3"/>
<rect x="210.72" y="1661.51" width="11.27" height="351.49" fill="#E91E63"/>
<rect x="210.72" y="1689.76" width="11.27" height="323.24" fill="#9C27B0"/>
<rect x="210.72" y="1730.49" width="11.27" height="282.51" fill="#673AB7"/>
<rect x="210.72" y="1799.1" width="11.27" height="213.9" fill="#4CAF50"/>
<rect x="210.72" y="1813.41" width="11.27" height="199.59" fill="#CDDC39"/>
<rect x="210.72" y="1818.54" width="11.27" height="194.46" fill="#FFC107"/>
<rect x="210.72" y="1823.31" width="11.27" height="189.69" fill="#7986CB"/>
<rect x="210.72" y="1825.15" width="11.27" height="187.85" fill="#64B5F6"/>
<rect x="226.82" y="1646.1" width="11.27" height="366.9" fill="#F44336"/>
<rect x="226.82" y="1654.91" width="11.27" height="358.09" fill="#03A9F4"/>
<rect x="226.82" y="1658.21" width="11.27" height="354.79" fill="#E91E63"/>
<rect x="226.82" y="1671.78" width="11.27" height="341.22" fill="#9C27B0"/>
<rect x="226.82" y="1692.33" width="11.27" height="320.67" fill="#4CAF50"/>
<rect x="226.82" y="1707.37" width="11.27" height="305.63" fill="#8BC34A"/>
<rect x="226.82" y="1712.14" width="11.27" height="300.86" fill="#E57373"/>
<rect x="226.82" y="1716.18" width="11.27" height="296.82" fill="#F06292"/>
<rect x="226.82" y="1764.61" width="11.27" height="248.39" fill="#64B5F6"/>
<rect x="242.92" y="1646.1" width="11.27" height="366.9" fill="#F44336"/>
<rect x="242.92" y="1747.36" width="11.27" height="265.64" fill="#2196F3"/>
<rect x="242.92" y="1769.75" width="11.27" height="243.25" fill="#E91E63"/>
<rect x="242.92" y="1773.05" width="11.27" height="239.95" fill="#673AB7"/>
<rect x="242.92" y="1804.97" width="11.27" height="208.03" fill="#3F51B5"/>
<rect x="242.92" y="1824.05" width="11.27" height="188.95" fill="#8BC34A"/>
<rect x="242.92" y="1833.95" width="11.27" height="179.05" fill="#CDDC39"/>
<rect x="242.92" y="1836.52" width="11.27" height="176.48" fill="#FFC107"/>
<rect x="242.92" y="1843.13" width="11.27" height="169.87" fill="#607D8B"/>
<rect x="242.92" y="1872.48" width="11.27" height="140.52" fill="#64B5F6"/>
<rect x="259.02" y="1646.1" width="11.27" height="366.9" fill="#F44336"/>
<rect x="259.02" y="1656.74" width="11.27" height="356.26" fill="#2196F3"/>
<rect x="259.02" y="1781.12" width="11.27" height="231.88" fill="#E91E63"/>
<rect x="259.02" y="1807.17" width="11.27" height="205.83" fill="#673AB7"/>
<rect x="259.02" y="1838.72" width="11.27" height="174.28" fill="#009688"/>
<rect x="259.02" y="1860" width="11.27" height="153" fill="#4CAF50"/>
<rect x="259.02" y="1875.78" width="11.27" height="137.22" fill="#FFC107"/>
<rect x="259.02" y="1884.95" width="11.27" height="128.05" fill="#64B5F6"/>
<rect x="275.12" y="1646.1" width="11.27" height="366.9" fill="#2196F3"/>
<rect x="275.12" y="1670.68" width="11.27" height="342.32" fill="#9C27B0"/>
<rect x="275.12" y="1673.98" width="11.27" height="339.02" fill="#3F51B5"/>
<rect x="275.12" y="1704.44" width="11.27" height="308.56" fill="#4CAF50"/>
<rect x="275.12" y="1716.91" width="11.27" height="296.09" fill="#CDDC39"/>
<rect x="275.12" y="1769.75" width="11.27" height="243.25" fill="#FFEB3B"/>
<rect x="275.12" y="1815.61" width="11.27" height="197.39" fill="#FF5722"/>
<rect x="275.12" y="1820.74" width="11.27" height="192.26" fill="#9E9E9E"/>
<rect x="275.12" y="1831.38" width="11.27" height="181.62" fill="#64B5F6"/>
<rect x="291.22" y="1646.1" width="11.27" height="366.9" fill="#F44336"/>
<rect x="291.22" y="1659.31" width="11.27" height="353.69" fill="#2196F3"/>
<rect x="291.22" y="1697.47" width="11.27" height="315.53" fill="#E91E63"/>
<rect x="291.22" y="1736.72" width="11.27" height="276.28" fill="#673AB7"/>
<rect x="291.22" y="1755.07" width="11.27" height="257.93" fill="#009688"/>
<rect x="291.22" y="1798" width="11.27" height="215" fill="#4CAF50"/>
<rect x="291.22" y="1806.07" width="11.27" height="206.93" fill="#CDDC39"/>
<rect x="291.22" y="1820.74" width="11.27" height="192.26" fill="#FFEB3B"/>
<rect x="291.22" y="1833.59" width="11.27" height="179.41" fill="#FFC107"/>
<rect x="291.22" y="1838.72" width="11.27" height="174.28" fill="#FF5722"/>
<rect x="291.22" y="1842.02" width="11.27" height="170.98" fill="#E57373"/>
<rect x="291.22" y="1845.33" width="11.27" height="167.67" fill="#BA68C8"/>
<rect x="291.22" y="1865.87" width="11.27" height="147.13" fill="#64B5F6"/>
<rect x="307.32" y="1646.1" width="11.27" height="366.9" fill="#F44336"/>
<rect x="307.32" y="1656.37" width="11.27" height="356.63" fill="#2196F3"/>
<rect x="307.32" y="1702.6" width="11.27" height="310.4" fill="#E91E63"/>
<rect x="307.32" y="1716.91" width="11.27" height="296.09" fill="#673AB7"/>
<rect x="307.32" y="1769.75" width="11.27" height="243.25" fill="#CDDC39"/>
<rect x="307.32" y="1776.72" width="11.27" height="236.28" fill="#FFEB3B"/>
<rect x="307.32" y="1818.54" width="11.27" height="194.46" fill="#FF9800"/>
<rect x="307.32" y="1876.51" width="11.27" height="136.49" fill="#FF5722"/>
<rect x="307.32" y="1886.05" width="11.27" height="126.95" fill="#7986CB"/>
<rect x="307.32" y="1889.35" width="11.27" height="123.65" fill="#64B5F6"/>
<rect x="323.42" y="1646.1" width="11.27" height="366.9" fill="#F44336"/>
<rect x="323.42" y="1753.97" width="11.27" height="259.03" fill="#03A9F4"/>
<rect x="323.42" y="1758.37" width="11.27" height="254.63" fill="#E91E63"/>
<rect x="323.42" y="1762.04" width="11.27" height="250.96" fill="#9C27B0"/>
<rect x="323.42" y="1795.8" width="11.27" height="217.2" fill="#03A9F4"/>
<rect x="323.42" y="1833.22" width="11.27" height="179.78" fill="#4CAF50"/>
<rect x="323.42" y="1839.82" width="11.27" height="173.18" fill="#8BC34A"/>
<rect x="323.42" y="1858.9" width="11.27" height="154.1" fill="#455A64"/>
<rect x="323.42" y="1866.97" width="11.27" height="146.03" fill="#E57373"/>
<rect x="323.42" y="1891.19" width="11.27" height="121.81" fill="#7986CB"/>
<rect x="323.42" y="1904.76" width="11.27" height="108.24" fill="#64B5F6"/>
<rect x="339.52" y="1646.1" width="11.27" height="366.9" fill="#F44336"/>
<rect x="339.52" y="1647.93" width="11.27" height="365.07" fill="#673AB7"/>
<rect x="339.52" y="1652.34" width="11.27" height="360.66" fill="#03A9F4"/>
<rect x="339.52" y="1681.69" width="11.27" height="331.31" fill="#00BCD4"/>
<rect x="339.52" y="1737.46" width="11.27" height="275.54" fill="#FFEB3B"/>
<rect x="339.52" y="1755.07" width="11.27" height="257.93" fill="#795548"/>
<rect x="339.52" y="1787.72" width="11.27" height="225.28" fill="#F06292"/>
<rect x="339.52" y="1791.76" width="11.27" height="221.24" fill="#7986CB"/>
<rect x="339.52" y="1798.36" width="11.27" height="214.64" fill="#64B5F6"/>
<rect x="355.62" y="1646.1" width="11.27" height="366.9" fill="#F44336"/>
<rect x="355.62" y="1651.6" width="11.27" height="361.4" fill="#03A9F4"/>
<rect x="355.62" y="1658.57" width="11.27" height="354.43" fill="#E91E63"/>
<rect x="355.62" y="1676.55" width="11.27" height="336.45" fill="#9C27B0"/>
<rect x="355.62" y="1730.49" width="11.27" height="282.51" fill="#3F51B5"/>
<rect x="355.62" y="1743.33" width="11.27" height="269.67" fill="#009688"/>
<rect x="355.62" y="1751.77" width="11.27" height="261.23" fill="#4CAF50"/>
<rect x="355.62" y="1760.94" width="11.27" height="252.06" fill="#FFC107"/>
<rect x="355.62" y="1765.34" width="11.27" height="247.66" fill="#E57373"/>
<rect x="355.62" y="1770.48" width="11.27" height="242.52" fill="#64B5F6"/>
<rect x="371.72" y="1646.1" width="11.27" height="366.9" fill="#F44336"/>
<rect x="371.72" y="1652.34" width="11.27" height="360.66" fill="#03A9F4"/>
<rect x="371.72" y="1661.51" width="11.27" height="351.49" fill="#E91E63"/>
<rect x="371.72" y="1671.78" width="11.27" height="341.22" fill="#673AB7"/>
<rect x="371.72" y="1721.68" width="11.27" height="291.32" fill="#00BCD4"/>
<rect x="371.72" y="1793.23" width="11.27" height="219.77" fill="#4CAF50"/>
<rect x="371.72" y="1815.97" width="11.27" height="197.03" fill="#CDDC39"/>
<rect x="371.72" y="1822.95" width="11.27" height="190.05" fill="#FFC107"/>
<rect x="371.72" y="1844.23" width="11.27" height="168.77" fill="#64B5F6"/>
<rect x="387.82" y="1646.1" width="11.27" height="366.9" fill="#F44336"/>
<rect x="387.82" y="1661.51" width="11.27" height="351.49" fill="#03A9F4"/>
<rect x="387.82" y="1665.18" width="11.27" height="347.82" fill="#E91E63"/>
<rect x="387.82" y="1690.86" width="11.27" height="322.14" fill="#673AB7"/>
<rect x="387.82" y="1771.58" width="11.27" height="241.42" fill="#4CAF50"/>
<rect x="387.82" y="1785.52" width="11.27" height="227.48" fill="#FFC107"/>
<rect x="387.82" y="1795.06" width="11.27" height="217.94" fill="#FF5722"/>
<rect x="387.82" y="1798" width="11.27" height="215" fill="#9E9E9E"/>
<rect x="387.82" y="1842.02" width="11.27" height="170.98" fill="#BA68C8"/>
<rect x="387.82" y="1878.71" width="11.27" height="134.29" fill="#64B5F6"/>
<rect x="403.92" y="1646.1" width="11.27" height="366.9" fill="#F44336"/>
<rect x="403.92" y="1673.98" width="11.27" height="339.02" fill="#2196F3"/>
<rect x="403.92" y="1680.96" width="11.27" height="332.04" fill="#E91E63"/>
<rect x="403.92" y="1683.89" width="11.27" height="329.11" fill="#9C27B0"/>
<rect x="403.92" y="1712.88" width="11.27" height="300.12" fill="#03A9F4"/>
<rect x="403.92" y="1748.47" width="11.27" height="264.53" fill="#00BCD4"/>
<rect x="403.92" y="1774.51" width="11.27" height="238.49" fill="#4CAF50"/>
<rect x="403.92" y="1786.26" width="11.27" height="226.74" fill="#8BC34A"/>
<rect x="403.92" y="1814.87" width="11.27" height="198.13" fill="#CDDC39"/>
<rect x="403.92" y="1818.54" width="11.27" height="194.46" fill="#795548"/>
<rect x="403.92" y="1820.74" width="11.27" height="192.26" fill="#455A64"/>
<rect x="403.92" y="1830.65" width="11.27" height="182.35" fill="#E57373"/>
<rect x="403.92" y="1871.38" width="11.27" height="141.62" fill="#64B5F6"/>
<rect x="420.02" y="1646.1" width="11.27" height="366.9" fill="#F44336"/>
<rect x="420.02" y="1647.93" width="11.27" height="365.07" fill="#2196F3"/>
<rect x="420.02" y="1746.26" width="11.27" height="266.74" fill="#E91E63"/>
<rect x="420.02" y="1823.31" width="11.27" height="189.69" fill="#673AB7"/>
<rect x="420.02" y="1831.75" width="11.27" height="181.25" fill="#CDDC39"/>
<rect x="420.02" y="1857.8" width="11.27" height="155.2" fill="#FF9800"/>
<rect x="420.02" y="1874.68" width="11.27" height="138.32" fill="#F06292"/>
<rect x="420.02" y="1881.28" width="11.27" height="131.72" fill="#64B5F6"/>
<rect x="436.12" y="1646.1" width="11.27" height="366.9" fill="#F44336"/>
<rect x="436.12" y="1694.53" width="11.27" height="318.47" fill="#2196F3"/>
<rect x="436.12" y="1716.91" width="11.27" height="296.09" fill="#E91E63"/>
<rect x="436.12" y="1721.31" width="11.27" height="291.69" fill="#673AB7"/>
<rect x="436.12" y="1757.27" width="11.27" height="255.73" fill="#03A9F4"/>
<rect x="436.12" y="1787.36" width="11.27" height="225.64" fill="#4CAF50"/>
<rect x="436.12" y="1799.83" width="11.27" height="213.17" fill="#8BC34A"/>
<rect x="436.12" y="1834.32" width="11.27" height="178.68" fill="#455A64"/>
<rect x="436.12" y="1874.68" width="11.27" height="138.32" fill="#E57373"/>
<rect x="436.12" y="1913.57" width="11.27" height="99.43" fill="#64B5F6"/>
<rect x="452.22" y="1646.1" width="11.27" height="366.9" fill="#F44336"/>
<rect x="452.22" y="1659.31" width="11.27" height="353.69" fill="#2196F3"/>
<rect x="452.22" y="1679.49" width="11.27" height="333.51" fill="#E91E63"/>
<rect x="452.22" y="1684.99" width="11.27" height="328.01" fill="#673AB7"/>
<rect x="452.22" y="1748.47" width="11.27" height="264.53" fill="#3F51B5"/>
<rect x="452.22" y="1777.82" width="11.27" height="235.18" fill="#03A9F4"/>
<rect x="452.22" y="1797.63" width="11.27" height="215.37" fill="#4CAF50"/>
<rect x="452.22" y="1808.27" width="11.27" height="204.73" fill="#8BC34A"/>
<rect x="452.22" y="1834.32" width="11.27" height="178.68" fill="#FFC107"/>
<rect x="452.22" y="1839.09" width="11.27" height="173.91" fill="#455A64"/>
<rect x="452.22" y="1853.4" width="11.27" height="159.6" fill="#E57373"/>
<rect x="452.22" y="1863.67" width="11.27" height="149.33" fill="#BA68C8"/>
<rect x="452.22" y="1868.44" width="11.27" height="144.56" fill="#64B5F6"/>
<rect x="468.32" y="1646.1" width="11.27" height="366.9" fill="#F44336"/>
<rect x="468.32" y="1659.31" width="11.27" height="353.69" fill="#673AB7"/>
<rect x="468.32" y="1661.51" width="11.27" height="351.49" fill="#E91E63"/>
<rect x="468.32" y="1677.29" width="11.27" height="335.71" fill="#9C27B0"/>
<rect x="468.32" y="1688.66" width="11.27" height="324.34" fill="#3F51B5"/>
<rect x="468.32" y="1724.62" width="11.27" height="288.38" fill="#FFC107"/>
<rect x="468.32" y="1729.75" width="11.27" height="283.25" fill="#64B5F6"/>
<rect x="484.42" y="1646.1" width="11.27" height="366.9" fill="#F44336"/>
<rect x="484.42" y="1796.16" width="11.27" height="216.84" fill="#2196F3"/>
<rect x="484.42" y="1800.93" width="11.27" height="212.07" fill="#9C27B0"/>
<rect x="484.42" y="1809" width="11.27" height="204" fill="#03A9F4"/>
<rect x="484.42" y="1866.97" width="11.27" height="146.03" fill="#4CAF50"/>
<rect x="484.42" y="1870.64" width="11.27" height="142.36" fill="#8BC34A"/>
<rect x="484.42" y="1895.23" width="11.27" height="117.77" fill="#455A64"/>
<rect x="484.42" y="1902.93" width="11.27" height="110.07" fill="#E57373"/>
<rect x="484.42" y="1921.28" width="11.27" height="91.72" fill="#7986CB"/>
<rect x="484.42" y="1944.76" width="11.27" height="68.24" fill="#64B5F6"/>
<rect x="500.52" y="1646.1" width="11.27" height="366.9" fill="#2196F3"/>
<rect x="500.52" y="1660.04" width="11.27" height="352.96" fill="#E91E63"/>
<rect x="500.52" y="1665.91" width="11.27" height="347.09" fill="#9C27B0"/>
<rect x="500.52" y="1691.96" width="11.27" height="321.04" fill="#673AB7"/>
<rect x="500.52" y="1729.02" width="11.27" height="283.98" fill="#03A9F4"/>
<rect x="500.52" y="1744.43" width="11.27" height="268.57" fill="#009688"/>
<rect x="500.52" y="1761.31" width="11.27" height="251.69" fill="#4CAF50"/>
<rect x="500.52" y="1769.01" width="11.27" height="243.99" fill="#CDDC39"/>
<rect x="500.52" y="1782.59" width="11.27" height="230.41" fill="#FFC107"/>
<rect x="500.52" y="1799.1" width="11.27" height="213.9" fill="#FF9800"/>
<rect x="500.52" y="1801.3" width="11.27" height="211.7" fill="#F06292"/>
<rect x="500.52" y="1812.67" width="11.27" height="200.33" fill="#64B5F6"/>
<rect x="516.62" y="1646.1" width="11.27" height="366.9" fill="#F44336"/>
<rect x="516.62" y="1673.25" width="11.27" height="339.75" fill="#2196F3"/>
<rect x="516.62" y="1678.75" width="11.27" height="334.25" fill="#E91E63"/>
<rect x="516.62" y="1682.79" width="11.27" height="330.21" fill="#9C27B0"/>
<rect x="516.62" y="1724.62" width="11.27" height="288.38" fill="#673AB7"/>
<rect x="516.62" y="1805.33" width="11.27" height="207.67" fill="#03A9F4"/>
<rect x="516.62" y="1816.34" width="11.27" height="196.66" fill="#CDDC39"/>
<rect x="516.62" y="1818.54" width="11.27" height="194.46" fill="#F06292"/>
<rect x="516.62" y="1824.05" width="11.27" height="188.95" fill="#64B5F6"/>
<rect x="532.72" y="1646.1" width="11.27" height="366.9" fill="#F44336"/>
<rect x="532.72" y="1660.41" width="11.27" height="352.59" fill="#2196F3"/>
<rect x="532.72" y="1678.02" width="11.27" height="334.98" fill="#E91E63"/>
<rect x="532.72" y="1709.94" width="11.27" height="303.06" fill="#673AB7"/>
<rect x="532.72" y="1735.62" width="11.27" height="277.38" fill="#009688"/>
<rect x="532.72" y="1741.49" width="11.27" height="271.51" fill="#4CAF50"/>
<rect x="532.72" y="1782.59" width="11.27" height="230.41" fill="#FFC107"/>
<rect x="532.72" y="1789.56" width="11.27" height="223.44" fill="#FF5722"/>
<rect x="532.72" y="1813.77" width="11.27" height="199.23" fill="#F06292"/>
<rect x="532.72" y="1817.81" width="11.27" height="195.19" fill="#64B5F6"/>
<rect x="548.82" y="1646.1" width="11.27" height="366.9" fill="#F44336"/>
<rect x="548.82" y="1766.81" width="11.27" height="246.19" fill="#2196F3"/>
<rect x="548.82" y="1775.62" width="11.27" height="237.38" fill="#E91E63"/>
<rect x="548.82" y="1776.72" width="11.27" height="236.28" fill="#673AB7"/>
<rect x="548.82" y="1804.23" width="11.27" height="208.77" fill="#03A9F4"/>
<rect x="548.82" y="1875.78" width="11.27" height="137.22" fill="#4CAF50"/>
<rect x="548.82" y="1882.75" width="11.27" height="130.25" fill="#8BC34A"/>
<rect x="548.82" y="1934.12" width="11.27" height="78.88" fill="#CDDC39"/>
<rect x="548.82" y="1966.4" width="11.27" height="46.6" fill="#F06292"/>
<rect x="548.82" y="1970.07" width="11.27" height="42.93" fill="#64B5F6"/>
<rect x="564.92" y="1646.1" width="11.27" height="366.9" fill="#F44336"/>
<rect x="564.92" y="1674.35" width="11.27" height="338.65" fill="#2196F3"/>
<rect x="564.92" y="1678.75" width="11.27" height="334.25" fill="#E91E63"/>
<rect x="564.92" y="1729.75" width="11.27" height="283.25" fill="#673AB7"/>
<rect x="564.92" y="1770.85" width="11.27" height="242.15" fill="#009688"/>
<rect x="564.92" y="1825.51" width="11.27" height="187.49" fill="#FFC107"/>
<rect x="564.92" y="1836.89" width="11.27" height="176.11" fill="#FF5722"/>
<rect x="564.92" y="1853.4" width="11.27" height="159.6" fill="#9575CD"/>
<rect x="564.92" y="1862.57" width="11.27" height="150.43" fill="#64B5F6"/>
<rect x="581.02" y="1646.1" width="11.27" height="366.9" fill="#F44336"/>
<rect x="581.02" y="1651.6" width="11.27" height="361.4" fill="#2196F3"/>
<rect x="581.02" y="1662.24" width="11.27" height="350.76" fill="#E91E63"/>
<rect x="581.02" y="1707.74" width="11.27" height="305.26" fill="#673AB7"/>
<rect x="581.02" y="1796.16" width="11.27" height="216.84" fill="#03A9F4"/>
<rect x="581.02" y="1806.8" width="11.27" height="206.2" fill="#4CAF50"/>
<rect x="581.02" y="1818.54" width="11.27" height="194.46" fill="#FFC107"/>
<rect x="581.02" y="1826.25" width="11.27" height="186.75" fill="#FF5722"/>
<rect x="581.02" y="1834.69" width="11.27" height="178.31" fill="#BA68C8"/>
<rect x="581.02" y="1846.06" width="11.27" height="166.94" fill="#64B5F6"/>
<rect x="597.11" y="1646.1" width="11.27" height="366.9" fill="#F44336"/>
<rect x="597.11" y="1696.73" width="11.27" height="316.27" fill="#2196F3"/>
<rect x="597.11" y="1742.23" width="11.27" height="270.77" fill="#E91E63"/>
<rect x="597.11" y="1746.26" width="11.27" height="266.74" fill="#673AB7"/>
<rect x="597.11" y="1752.87" width="11.27" height="260.13" fill="#03A9F4"/>
<rect x="597.11" y="1795.8" width="11.27" height="217.2" fill="#4CAF50"/>
<rect x="597.11" y="1800.2" width="11.27" height="212.8" fill="#CDDC39"/>
<rect x="597.11" y="1869.18" width="11.27" height="143.82" fill="#FF9800"/>
<rect x="597.11" y="1871.38" width="11.27" height="141.62" fill="#9E9E9E"/>
<rect x="597.11" y="1888.25" width="11.27" height="124.75" fill="#BA68C8"/>
<rect x="597.11" y="1891.92" width="11.27" height="121.08" fill="#64B5F6"/>
<rect x="613.21" y="1646.1" width="11.27" height="366.9" fill="#F44336"/>
<rect x="613.21" y="1650.14" width="11.27" height="362.86" fill="#2196F3"/>
<rect x="613.21" y="1654.17" width="11.27" height="358.83" fill="#E91E63"/>
<rect x="613.21" y="1704.44" width="11.27" height="308.56" fill="#673AB7"/>
<rect x="613.21" y="1814.87" width="11.27" height="198.13" fill="#4CAF50"/>
<rect x="613.21" y="1820.74" width="11.27" height="192.26" fill="#CDDC39"/>
<rect x="613.21" y="1827.72" width="11.27" height="185.28" fill="#FF9800"/>
<rect x="613.21" y="1831.38" width="11.27" height="181.62" fill="#64B5F6"/>
<rect x="629.31" y="1646.1" width="11.27" height="366.9" fill="#F44336"/>
<rect x="629.31" y="1651.6" width="11.27" height="361.4" fill="#2196F3"/>
<rect x="629.31" y="1665.18" width="11.27" height="347.82" fill="#E91E63"/>
<rect x="629.31" y="1718.75" width="11.27" height="294.25" fill="#3F51B5"/>
<rect x="629.31" y="1748.47" width="11.27" height="264.53" fill="#CDDC39"/>
<rect x="629.31" y="1759.11" width="11.27" height="253.89" fill="#FFEB3B"/>
<rect x="629.31" y="1777.45" width="11.27" height="235.55" fill="#FF5722"/>
<rect x="629.31" y="1782.59" width="11.27" height="230.41" fill="#F06292"/>
<rect x="629.31" y="1785.52" width="11.27" height="227.48" fill="#9575CD"/>
<rect x="629.31" y="1797.63" width="11.27" height="215.37" fill="#64B5F6"/>
<rect x="645.41" y="1646.1" width="11.27" height="366.9" fill="#F44336"/>
<rect x="645.41" y="1679.49" width="11.27" height="333.51" fill="#2196F3"/>
<rect x="645.41" y="1689.76" width="11.27" height="323.24" fill="#673AB7"/>
<rect x="645.41" y="1723.52" width="11.27" height="289.48" fill="#03A9F4"/>
<rect x="645.41" y="1738.93" width="11.27" height="274.07" fill="#4CAF50"/>
<rect x="645.41" y="1750.3" width="11.27" height="262.7" fill="#8BC34A"/>
<rect x="645.41" y="1760.94" width="11.27" height="252.06" fill="#795548"/>
<rect x="645.41" y="1763.14" width="11.27" height="249.86" fill="#455A64"/>
<rect x="645.41" y="1839.82" width="11.27" height="173.18" fill="#E57373"/>
<rect x="645.41" y="1851.2" width="11.27" height="161.8" fill="#F06292"/>
<rect x="645.41" y="1856.33" width="11.27" height="156.67" fill="#64B5F6"/>
<rect x="661.51" y="1646.1" width="11.27" height="366.9" fill="#F44336"/>
<rect x="661.51" y="1654.91" width="11.27" height="358.09" fill="#03A9F4"/>
<rect x="661.51" y="1657.11" width="11.27" height="355.89" fill="#E91E63"/>
<rect x="661.51" y="1666.65" width="11.27" height="346.35" fill="#3F51B5"/>
<rect x="661.51" y="1682.79" width="11.27" height="330.21" fill="#03A9F4"/>
<rect x="661.51" y="1703.7" width="11.27" height="309.3" fill="#4CAF50"/>
<rect x="661.51" y="1715.81" width="11.27" height="297.19" fill="#CDDC39"/>
<rect x="661.51" y="1737.46" width="11.27" height="275.54" fill="#FFC107"/>
<rect x="661.51" y="1752.87" width="11.27" height="260.13" fill="#FF9800"/>
<rect x="661.51" y="1774.88" width="11.27" height="238.12" fill="#FF5722"/>
<rect x="661.51" y="1782.59" width="11.27" height="230.41" fill="#9E9E9E"/>
<rect x="661.51" y="1793.96" width="11.27" height="219.04" fill="#F06292"/>
<rect x="661.51" y="1800.93" width="11.27" height="212.07" fill="#BA68C8"/>
<rect x="661.51" y="1805.33" width="11.27" height="207.67" fill="#64B5F6"/>
<rect x="677.61" y="1646.1" width="11.27" height="366.9" fill="#F44336"/>
<rect x="677.61" y="1661.51" width="11.27" height="351.49" fill="#2196F3"/>
<rect x="677.61" y="1687.93" width="11.27" height="325.07" fill="#E91E63"/>
<rect x="677.61" y="1694.16" width="11.27" height="318.84" fill="#9C27B0"/>
<rect x="677.61" y="1730.49" width="11.27" height="282.51" fill="#3F51B5"/>
<rect x="677.61" y="1776.72" width="11.27" height="236.28" fill="#009688"/>
<rect x="677.61" y="1802.03" width="11.27" height="210.97" fill="#4CAF50"/>
<rect x="677.61" y="1808.27" width="11.27" height="204.73" fill="#FFC107"/>
<rect x="677.61" y="1815.97" width="11.27" height="197.03" fill="#FF5722"/>
<rect x="677.61" y="1834.69" width="11.27" height="178.31" fill="#F06292"/>
<rect x="677.61" y="1836.89" width="11.27" height="176.11" fill="#BA68C8"/>
<rect x="677.61" y="1844.96" width="11.27" height="168.04" fill="#64B5F6"/>
<rect x="693.71" y="1646.1" width="11.27" height="366.9" fill="#F44336"/>
<rect x="693.71" y="1647.93" width="11.27" height="365.07" fill="#03A9F4"/>
<rect x="693.71" y="1651.97" width="11.27" height="361.03" fill="#E91E63"/>
<rect x="693.71" y="1654.17" width="11.27" height="358.83" fill="#673AB7"/>
<rect x="693.71" y="1681.69" width="11.27" height="331.31" fill="#00BCD4"/>
<rect x="693.71" y="1707.74" width="11.27" height="305.26" fill="#4CAF50"/>
<rect x="693.71" y="1713.98" width="11.27" height="299.02" fill="#FFEB3B"/>
<rect x="693.71" y="1763.87" width="11.27" height="249.13" fill="#FF9800"/>
<rect x="693.71" y="1769.75" width="11.27" height="243.25" fill="#9E9E9E"/>
<rect x="693.71" y="1784.42" width="11.27" height="228.58" fill="#64B5F6"/>
<rect x="709.81" y="1646.1" width="11.27" height="366.9" fill="#F44336"/>
<rect x="709.81" y="1725.35" width="11.27" height="287.65" fill="#2196F3"/>
<rect x="709.81" y="1745.16" width="11.27" height="267.84" fill="#E91E63"/>
<rect x="709.81" y="1751.03" width="11.27" height="261.97" fill="#673AB7"/>
<rect x="709.81" y="1769.75" width="11.27" height="243.25" fill="#03A9F4"/>
<rect x="709.81" y="1793.59" width="11.27" height="219.41" fill="#00BCD4"/>
<rect x="709.81" y="1810.47" width="11.27" height="202.53" fill="#8BC34A"/>
<rect x="709.81" y="1830.28" width="11.27" height="182.72" fill="#CDDC39"/>
<rect x="709.81" y="1839.09" width="11.27" height="173.91" fill="#455A64"/>
<rect x="709.81" y="1884.95" width="11.27" height="128.05" fill="#E57373"/>
<rect x="709.81" y="1901.46" width="11.27" height="111.54" fill="#64B5F6"/>
<rect x="725.91" y="1646.1" width="11.27" height="366.9" fill="#F44336"/>
<rect x="725.91" y="1647.93" width="11.27" height="365.07" fill="#2196F3"/>
<rect x="725.91" y="1665.18" width="11.27" height="347.82" fill="#E91E63"/>
<rect x="725.91" y="1669.21" width="11.27" height="343.79" fill="#673AB7"/>
<rect x="725.91" y="1675.09" width="11.27" height="337.91" fill="#00BCD4"/>
<rect x="725.91" y="1705.54" width="11.27" height="307.46" fill="#009688"/>
<rect x="725.91" y="1763.87" width="11.27" height="249.13" fill="#FFC107"/>
<rect x="725.91" y="1770.48" width="11.27" height="242.52" fill="#FF9800"/>
<rect x="725.91" y="1784.05" width="11.27" height="228.95" fill="#795548"/>
<rect x="725.91" y="1927.88" width="11.27" height="85.12" fill="#F06292"/>
<rect x="725.91" y="1930.08" width="11.27" height="82.92" fill="#64B5F6"/>
<rect x="742.01" y="1646.1" width="11.27" height="366.9" fill="#2196F3"/>
<rect x="742.01" y="1652.34" width="11.27" height="360.66" fill="#E91E63"/>
<rect x="742.01" y="1719.11" width="11.27" height="293.89" fill="#3F51B5"/>
<rect x="742.01" y="1759.11" width="11.27" height="253.89" fill="#009688"/>
<rect x="742.01" y="1780.39" width="11.27" height="232.61" fill="#4CAF50"/>
<rect x="742.01" y="1787.72" width="11.27" height="225.28" fill="#FFC107"/>
<rect x="742.01" y="1793.96" width="11.27" height="219.04" fill="#FF9800"/>
<rect x="742.01" y="1810.47" width="11.27" height="202.53" fill="#FF5722"/>
<rect x="742.01" y="1813.41" width="11.27" height="199.59" fill="#F06292"/>
<rect x="742.01" y="1826.98" width="11.27" height="186.02" fill="#9575CD"/>
<rect x="742.01" y="1838.36" width="11.27" height="174.64" fill="#64B5F6"/>
<rect x="758.11" y="1646.1" width="11.27" height="366.9" fill="#F44336"/>
<rect x="758.11" y="1697.47" width="11.27" height="315.53" fill="#2196F3"/>
<rect x="758.11" y="1739.29" width="11.27" height="273.71" fill="#E91E63"/>
<rect x="758.11" y="1742.59" width="11.27" height="270.41" fill="#9C27B0"/>
<rect x="758.11" y="1799.83" width="11.27" height="213.17" fill="#673AB7"/>
<rect x="758.11" y="1838.36" width="11.27" height="174.64" fill="#03A9F4"/>
<rect x="758.11" y="1860" width="11.27" height="153" fill="#4CAF50"/>
<rect x="758.11" y="1871.38" width="11.27" height="141.62" fill="#FFC107"/>
<rect x="758.11" y="1876.51" width="11.27" height="136.49" fill="#9E9E9E"/>
<rect x="758.11" y="1882.75" width="11.27" height="130.25" fill="#E57373"/>
<rect x="758.11" y="1887.15" width="11.27" height="125.85" fill="#7986CB"/>
<rect x="758.11" y="1892.29" width="11.27" height="120.71" fill="#64B5F6"/>
<rect x="774.21" y="1646.1" width="11.27" height="366.9" fill="#F44336"/>
<rect x="774.21" y="1675.09" width="11.27" height="337.91" fill="#2196F3"/>
<rect x="774.21" y="1724.62" width="11.27" height="288.38" fill="#E91E63"/>
<rect x="774.21" y="1752.5" width="11.27" height="260.5" fill="#673AB7"/>
<rect x="774.21" y="1790.29" width="11.27" height="222.71" fill="#009688"/>
<rect x="774.21" y="1837.62" width="11.27" height="175.38" fill="#4CAF50"/>
<rect x="774.21" y="1846.06" width="11.27" height="166.94" fill="#FFC107"/>
<rect x="774.21" y="1857.8" width="11.27" height="155.2" fill="#64B5F6"/>
<rect x="790.31" y="1646.1" width="11.27" height="366.9" fill="#F44336"/>
<rect x="790.31" y="1656.37" width="11.27" height="356.63" fill="#03A9F4"/>
<rect x="790.31" y="1660.41" width="11.27" height="352.59" fill="#E91E63"/>
<rect x="790.31" y="1672.88" width="11.27" height="340.12" fill="#3F51B5"/>
<rect x="790.31" y="1688.66" width="11.27" height="324.34" fill="#03A9F4"/>
<rect x="790.31" y="1696" width="11.27" height="317" fill="#4CAF50"/>
<rect x="790.31" y="1711.78" width="11.27" height="301.22" fill="#CDDC39"/>
<rect x="790.31" y="1719.11" width="11.27" height="293.89" fill="#FFC107"/>
<rect x="790.31" y="1738.19" width="11.27" height="274.81" fill="#FF9800"/>
<rect x="790.31" y="1766.81" width="11.27" height="246.19" fill="#FF5722"/>
<rect x="790.31" y="1776.72" width="11.27" height="236.28" fill="#9E9E9E"/>
<rect x="790.31" y="1785.52" width="11.27" height="227.48" fill="#F06292"/>
<rect x="790.31" y="1789.56" width="11.27" height="223.44" fill="#7986CB"/>
<rect x="790.31" y="1796.9" width="11.27" height="216.1" fill="#64B5F6"/>
<rect x="806.41" y="1646.1" width="11.27" height="366.9" fill="#F44336"/>
<rect x="806.41" y="1658.57" width="11.27" height="354.43" fill="#2196F3"/>
<rect x="806.41" y="1712.88" width="11.27" height="300.12" fill="#E91E63"/>
<rect x="806.41" y="1725.35" width="11.27" height="287.65" fill="#673AB7"/>
<rect x="806.41" y="1757.27" width="11.27" height="255.73" fill="#4CAF50"/>
<rect x="806.41" y="1760.94" width="11.27" height="252.06" fill="#FFEB3B"/>
<rect x="806.41" y="1925.68" width="11.27" height="87.32" fill="#FF9800"/>
<rect x="806.41" y="1950.99" width="11.27" height="62.01" fill="#64B5F6"/>
<rect x="822.51" y="1646.1" width="11.27" height="366.9" fill="#F44336"/>
<rect x="822.51" y="1707.37" width="11.27" height="305.63" fill="#2196F3"/>
<rect x="822.51" y="1723.52" width="11.27" height="289.48" fill="#E91E63"/>
<rect x="822.51" y="1738.19" width="11.27" height="274.81" fill="#9C27B0"/>
<rect x="822.51" y="1774.88" width="11.27" height="238.12" fill="#673AB7"/>
<rect x="822.51" y="1789.19" width="11.27" height="223.81" fill="#03A9F4"/>
<rect x="822.51" y="1839.09" width="11.27" height="173.91" fill="#4CAF50"/>
<rect x="822.51" y="1840.92" width="11.27" height="172.08" fill="#607D8B"/>
<rect x="822.51" y="1906.97" width="11.27" height="106.03" fill="#F06292"/>
<rect x="822.51" y="1909.17" width="11.27" height="103.83" fill="#64B5F6"/>
<rect x="838.61" y="1646.1" width="11.27" height="366.9" fill="#F44336"/>
<rect x="838.61" y="1742.59" width="11.27" height="270.41" fill="#2196F3"/>
<rect x="838.61" y="1746.26" width="11.27" height="266.74" fill="#E91E63"/>
<rect x="838.61" y="1752.5" width="11.27" height="260.5" fill="#673AB7"/>
<rect x="838.61" y="1759.11" width="11.27" height="253.89" fill="#3F51B5"/>
<rect x="838.61" y="1780.39" width="11.27" height="232.61" fill="#03A9F4"/>
<rect x="838.61" y="1819.64" width="11.27" height="193.36" fill="#4CAF50"/>
<rect x="838.61" y="1821.85" width="11.27" height="191.15" fill="#8BC34A"/>
<rect x="838.61" y="1872.84" width="11.27" height="140.16" fill="#FFC107"/>
<rect x="838.61" y="1875.41" width="11.27" height="137.59" fill="#BA68C8"/>
<rect x="838.61" y="1879.45" width="11.27" height="133.55" fill="#64B5F6"/>
<rect x="854.71" y="1646.1" width="11.27" height="366.9" fill="#F44336"/>
<rect x="854.71" y="1656.01" width="11.27" height="356.99" fill="#2196F3"/>
<rect x="854.71" y="1658.21" width="11.27" height="354.79" fill="#E91E63"/>
<rect x="854.71" y="1668.85" width="11.27" height="344.15" fill="#673AB7"/>
<rect x="854.71" y="1681.69" width="11.27" height="331.31" fill="#00BCD4"/>
<rect x="854.71" y="1737.09" width="11.27" height="275.91" fill="#FFC107"/>
<rect x="854.71" y="1739.29" width="11.27" height="273.71" fill="#FF5722"/>
<rect x="854.71" y="1750.3" width="11.27" height="262.7" fill="#9E9E9E"/>
<rect x="854.71" y="1760.94" width="11.27" height="252.06" fill="#F06292"/>
<rect x="854.71" y="1763.87" width="11.27" height="249.13" fill="#64B5F6"/>
<rect x="870.81" y="1646.1" width="11.27" height="366.9" fill="#F44336"/>
<rect x="870.81" y="1748.83" width="11.27" height="264.17" fill="#2196F3"/>
<rect x="870.81" y="1762.04" width="11.27" height="250.96" fill="#E91E63"/>
<rect x="870.81" y="1763.14" width="11.27" height="249.86" fill="#9C27B0"/>
<rect x="870.81" y="1822.58" width="11.27" height="190.42" fill="#03A9F4"/>
<rect x="870.81" y="1825.51" width="11.27" height="187.49" fill="#CDDC39"/>
<rect x="870.81" y="1840.92" width="11.27" height="172.08" fill="#607D8B"/>
<rect x="870.81" y="1902.2" width="11.27" height="110.8" fill="#F06292"/>
<rect x="870.81" y="1909.17" width="11.27" height="103.83" fill="#64B5F6"/>
<rect x="886.91" y="1646.1" width="11.27" height="366.9" fill="#F44336"/>
<rect x="886.91" y="1851.93" width="11.27" height="161.07" fill="#03A9F4"/>
<rect x="886.91" y="1860" width="11.27" height="153" fill="#E91E63"/>
<rect x="886.91" y="1872.48" width="11.27" height="140.52" fill="#673AB7"/>
<rect x="886.91" y="1879.45" width="11.27" height="133.55" fill="#009688"/>
<rect x="886.91" y="1881.28" width="11.27" height="131.72" fill="#FFC107"/>
<rect x="886.91" y="1886.42" width="11.27" height="126.58" fill="#64B5F6"/>
<rect x="903.01" y="1646.1" width="11.27" height="366.9" fill="#F44336"/>
<rect x="903.01" y="1650.14" width="11.27" height="362.86" fill="#E91E63"/>
<rect x="903.01" y="1681.69" width="11.27" height="331.31" fill="#9C27B0"/>
<rect x="903.01" y="1689.39" width="11.27" height="323.61" fill="#3F51B5"/>
<rect x="903.01" y="1712.88" width="11.27" height="300.12" fill="#CDDC39"/>
<rect x="903.01" y="1724.62" width="11.27" height="288.38" fill="#FFC107"/>
<rect x="903.01" y="1730.49" width="11.27" height="282.51" fill="#FF5722"/>
<rect x="903.01" y="1737.09" width="11.27" height="275.91" fill="#9E9E9E"/>
<rect x="903.01" y="1742.59" width="11.27" height="270.41" fill="#F06292"/>
<rect x="903.01" y="1750.3" width="11.27" height="262.7" fill="#64B5F6"/>
<rect x="919.11" y="1646.1" width="11.27" height="366.9" fill="#F44336"/>
<rect x="919.11" y="1657.11" width="11.27" height="355.89" fill="#E91E63"/>
<rect x="919.11" y="1677.29" width="11.27" height="335.71" fill="#673AB7"/>
<rect x="919.11" y="1694.16" width="11.27" height="318.84" fill="#00BCD4"/>
<rect x="919.11" y="1721.31" width="11.27" height="291.69" fill="#4CAF50"/>
<rect x="919.11" y="1723.52" width="11.27" height="289.48" fill="#CDDC39"/>
<rect x="919.11" y="1726.82" width="11.27" height="286.18" fill="#FF5722"/>
<rect x="919.11" y="1735.99" width="11.27" height="277.01" fill="#BA68C8"/>
<rect x="919.11" y="1765.34" width="11.27" height="247.66" fill="#64B5F6"/>
<rect x="935.21" y="1646.1" width="11.27" height="366.9" fill="#F44336"/>
<rect x="935.21" y="1680.59" width="11.27" height="332.41" fill="#2196F3"/>
<rect x="935.21" y="1687.93" width="11.27" height="325.07" fill="#E91E63"/>
<rect x="935.21" y="1700.4" width="11.27" height="312.6" fill="#673AB7"/>
<rect x="935.21" y="1721.68" width="11.27" height="291.32" fill="#3F51B5"/>
<rect x="935.21" y="1744.43" width="11.27" height="268.57" fill="#03A9F4"/>
<rect x="935.21" y="1749.57" width="11.27" height="263.43" fill="#4CAF50"/>
<rect x="935.21" y="1765.34" width="11.27" height="247.66" fill="#8BC34A"/>
<rect x="935.21" y="1770.85" width="11.27" height="242.15" fill="#607D8B"/>
<rect x="935.21" y="1784.05" width="11.27" height="228.95" fill="#F06292"/>
<rect x="935.21" y="1804.23" width="11.27" height="208.77" fill="#64B5F6"/>
<rect x="951.31" y="1646.1" width="11.27" height="366.9" fill="#F44336"/>
<rect x="951.31" y="1650.14" width="11.27" height="362.86" fill="#03A9F4"/>
<rect x="951.31" y="1656.37" width="11.27" height="356.63" fill="#E91E63"/>
<rect x="951.31" y="1701.5" width="11.27" height="311.5" fill="#673AB7"/>
<rect x="951.31" y="1722.42" width="11.27" height="290.58" fill="#00BCD4"/>
<rect x="951.31" y="1757.64" width="11.27" height="255.36" fill="#FFC107"/>
<rect x="951.31" y="1759.84" width="11.27" height="253.16" fill="#FF5722"/>
<rect x="951.31" y="1778.92" width="11.27" height="234.08" fill="#9E9E9E"/>
<rect x="951.31" y="1787.72" width="11.27" height="225.28" fill="#F06292"/>
<rect x="951.31" y="1798.36" width="11.27" height="214.64" fill="#64B5F6"/>
<rect x="967.41" y="1646.1" width="11.27" height="366.9" fill="#F44336"/>
<rect x="967.41" y="1665.18" width="11.27" height="347.82" fill="#2196F3"/>
<rect x="967.41" y="1815.61" width="11.27" height="197.39" fill="#E91E63"/>
<rect x="967.41" y="1829.18" width="11.27" height="183.82" fill="#FF9800"/>
<rect x="967.41" y="1831.38" width="11.27" height="181.62" fill="#E57373"/>
<rect x="967.41" y="1833.59" width="11.27" height="179.41" fill="#64B5F6"/>
<rect x="983.51" y="1646.1" width="11.27" height="366.9" fill="#F44336"/>
<rect x="983.51" y="1718.75" width="11.27" height="294.25" fill="#2196F3"/>
<rect x="983.51" y="1786.62" width="11.27" height="226.38" fill="#E91E63"/>
<rect x="983.51" y="1787.72" width="11.27" height="225.28" fill="#9C27B0"/>
<rect x="983.51" y="1833.95" width="11.27" height="179.05" fill="#3F51B5"/>
<rect x="983.51" y="1849" width="11.27" height="164" fill="#03A9F4"/>
<rect x="983.51" y="1853.4" width="11.27" height="159.6" fill="#4CAF50"/>
<rect x="983.51" y="1867.34" width="11.27" height="145.66" fill="#FF9800"/>
<rect x="983.51" y="1870.64" width="11.27" height="142.36" fill="#607D8B"/>
<rect x="983.51" y="1883.48" width="11.27" height="129.52" fill="#455A64"/>
<rect x="983.51" y="1885.69" width="11.27" height="127.31" fill="#E57373"/>
<rect x="983.51" y="1888.25" width="11.27" height="124.75" fill="#7986CB"/>
<rect x="983.51" y="1909.17" width="11.27" height="103.83" fill="#64B5F6"/>
<rect x="999.61" y="1646.1" width="11.27" height="366.9" fill="#F44336"/>
<rect x="999.61" y="1649.77" width="11.27" height="363.23" fill="#03A9F4"/>
<rect x="999.61" y="1653.07" width="11.27" height="359.93" fill="#E91E63"/>
<rect x="999.61" y="1665.91" width="11.27" height="347.09" fill="#9C27B0"/>
<rect x="999.61" y="1756.54" width="11.27" height="256.46" fill="#3F51B5"/>
<rect x="999.61" y="1840.19" width="11.27" height="172.81" fill="#4CAF50"/>
<rect x="999.61" y="1854.5" width="11.27" height="158.5" fill="#FFC107"/>
<rect x="999.61" y="1857.8" width="11.27" height="155.2" fill="#FF5722"/>
<rect x="999.61" y="1862.2" width="11.27" height="150.8" fill="#9E9E9E"/>
<rect x="999.61" y="1878.35" width="11.27" height="134.65" fill="#BA68C8"/>
<rect x="999.61" y="1911" width="11.27" height="102" fill="#64B5F6"/>
<rect x="1015.71" y="1646.1" width="11.27" height="366.9" fill="#F44336"/>
<rect x="1015.71" y="1653.44" width="11.27" height="359.56" fill="#2196F3"/>
<rect x="1015.71" y="1705.9" width="11.27" height="307.1" fill="#E91E63"/>
<rect x="1015.71" y="1710.31" width="11.27" height="302.69" fill="#673AB7"/>
<rect x="1015.71" y="1731.22" width="11.27" height="281.78" fill="#009688"/>
<rect x="1015.71" y="1752.87" width="11.27" height="260.13" fill="#4CAF50"/>
<rect x="1015.71" y="1756.9" width="11.27" height="256.1" fill="#FFC107"/>
<rect x="1015.71" y="1763.14" width="11.27" height="249.86" fill="#FF5722"/>
<rect x="1015.71" y="1800.56" width="11.27" height="212.44" fill="#F06292"/>
<rect x="1015.71" y="1807.54" width="11.27" height="205.46" fill="#9575CD"/>
<rect x="1015.71" y="1819.28" width="11.27" height="193.72" fill="#64B5F6"/>
<rect x="1031.81" y="1646.1" width="11.27" height="366.9" fill="#F44336"/>
<rect x="1031.81" y="1647.2" width="11.27" height="365.8" fill="#2196F3"/>
<rect x="1031.81" y="1654.91" width="11.27" height="358.09" fill="#E91E63"/>
<rect x="1031.81" y="1687.93" width="11.27" height="325.07" fill="#9C27B0"/>
<rect x="1031.81" y="1717.28" width="11.27" height="295.72" fill="#673AB7"/>
<rect x="1031.81" y="1727.18" width="11.27" height="285.82" fill="#4CAF50"/>
<rect x="1031.81" y="1740.39" width="11.27" height="272.61" fill="#8BC34A"/>
<rect x="1031.81" y="1749.93" width="11.27" height="263.07" fill="#E57373"/>
<rect x="1031.81" y="1763.14" width="11.27" height="249.86" fill="#BA68C8"/>
<rect x="1031.81" y="1770.11" width="11.27" height="242.89" fill="#64B5F6"/>
<rect x="1047.91" y="1646.1" width="11.27" height="366.9" fill="#F44336"/>
<rect x="1047.91" y="1651.6" width="11.27" height="361.4" fill="#E91E63"/>
<rect x="1047.91" y="1716.91" width="11.27" height="296.09" fill="#9C27B0"/>
<rect x="1047.91" y="1729.75" width="11.27" height="283.25" fill="#3F51B5"/>
<rect x="1047.91" y="1738.93" width="11.27" height="274.07" fill="#00BCD4"/>
<rect x="1047.91" y="1786.62" width="11.27" height="226.38" fill="#009688"/>
<rect x="1047.91" y="1788.46" width="11.27" height="224.54" fill="#4CAF50"/>
<rect x="1047.91" y="1792.86" width="11.27" height="220.14" fill="#FFC107"/>
<rect x="1047.91" y="1812.31" width="11.27" height="200.69" fill="#FF5722"/>
<rect x="1047.91" y="1814.51" width="11.27" height="198.49" fill="#BA68C8"/>
<rect x="1047.91" y="1819.28" width="11.27" height="193.72" fill="#64B5F6"/>
<rect x="1064.01" y="1646.1" width="11.27" height="366.9" fill="#F44336"/>
<rect x="1064.01" y="1653.44" width="11.27" height="359.56" fill="#2196F3"/>
<rect x="1064.01" y="1703.34" width="11.27" height="309.66" fill="#E91E63"/>
<rect x="1064.01" y="1723.15" width="11.27" height="289.85" fill="#673AB7"/>
<rect x="1064.01" y="1769.01" width="11.27" height="243.99" fill="#009688"/>
<rect x="1064.01" y="1772.31" width="11.27" height="240.69" fill="#CDDC39"/>
<rect x="1064.01" y="1800.56" width="11.27" height="212.44" fill="#FFC107"/>
<rect x="1064.01" y="1813.77" width="11.27" height="199.23" fill="#BA68C8"/>
<rect x="1064.01" y="1830.28" width="11.27" height="182.72" fill="#9575CD"/>
<rect x="1064.01" y="1847.89" width="11.27" height="165.11" fill="#64B5F6"/>
<rect x="94" y="1646.1" width="985.3" height="366.9" fill="none" stroke="#a4a4b4" stroke-width="0.9"/>
<line x1="91.3" y1="2013" x2="94" y2="2013" stroke="#444" stroke-width="0.7"/>
<text x="89.8" y="2016.1" text-anchor="end" font-size="9.4" fill="#1e1e1e">0.00</text>
<line x1="91.3" y1="1921.28" x2="94" y2="1921.28" stroke="#444" stroke-width="0.7"/>
<text x="89.8" y="1924.38" text-anchor="end" font-size="9.4" fill="#1e1e1e">0.25</text>
<line x1="91.3" y1="1829.55" x2="94" y2="1829.55" stroke="#444" stroke-width="0.7"/>
<text x="89.8" y="1832.65" text-anchor="end" font-size="9.4" fill="#1e1e1e">0.50</text>
<line x1="91.3" y1="1737.82" x2="94" y2="1737.82" stroke="#444" stroke-width="0.7"/>
<text x="89.8" y="1740.92" text-anchor="end" font-size="9.4" fill="#1e1e1e">0.75</text>
<line x1="91.3" y1="1646.1" x2="94" y2="1646.1" stroke="#444" stroke-width="0.7"/>
<text x="89.8" y="1649.2" text-anchor="end" font-size="9.4" fill="#1e1e1e">1.00</text>
<line x1="103.66" y1="2013" x2="103.66" y2="2015.7" stroke="#444" stroke-width="0.7"/>
<line x1="119.76" y1="2013" x2="119.76" y2="2015.7" stroke="#444" stroke-width="0.7"/>
<line x1="135.86" y1="2013" x2="135.86" y2="2015.7" stroke="#444" stroke-width="0.7"/>
<line x1="151.96" y1="2013" x2="151.96" y2="2015.7" stroke="#444" stroke-width="0.7"/>
<line x1="168.06" y1="2013" x2="168.06" y2="2015.7" stroke="#444" stroke-width="0.7"/>
<line x1="184.16" y1="2013" x2="184.16" y2="2015.7" stroke="#444" stroke-width="0.7"/>
<line x1="200.26" y1="2013" x2="200.26" y2="2015.7" stroke="#444" stroke-width="0.7"/>
<line x1="216.36" y1="2013" x2="216.36" y2="2015.7" stroke="#444" stroke-width="0.7"/>
<line x1="232.46" y1="2013" x2="232.46" y2="2015.7" stroke="#444" stroke-width="0.7"/>
<line x1="248.56" y1="2013" x2="248.56" y2="2015.7" stroke="#444" stroke-width="0.7"/>
<line x1="264.66" y1="2013" x2="264.66" y2="2015.7" stroke="#444" stroke-width="0.7"/>
<line x1="280.76" y1="2013" x2="280.76" y2="2015.7" stroke="#444" stroke-width="0.7"/>
<line x1="296.86" y1="2013" x2="296.86" y2="2015.7" stroke="#444" stroke-width="0.7"/>
<line x1="312.96" y1="2013" x2="312.96" y2="2015.7" stroke="#444" stroke-width="0.7"/>
<line x1="329.06" y1="2013" x2="329.06" y2="2015.7" stroke="#444" stroke-width="0.7"/>
<line x1="345.15" y1="2013" x2="345.15" y2="2015.7" stroke="#444" stroke-width="0.7"/>
<line x1="361.25" y1="2013" x2="361.25" y2="2015.7" stroke="#444" stroke-width="0.7"/>
<line x1="377.35" y1="2013" x2="377.35" y2="2015.7" stroke="#444" stroke-width="0.7"/>
<line x1="393.45" y1="2013" x2="393.45" y2="2015.7" stroke="#444" stroke-width="0.7"/>
<line x1="409.55" y1="2013" x2="409.55" y2="2015.7" stroke="#444" stroke-width="0.7"/>
<line x1="425.65" y1="2013" x2="425.65" y2="2015.7" stroke="#444" stroke-width="0.7"/>
<line x1="441.75" y1="2013" x2="441.75" y2="2015.7" stroke="#444" stroke-width="0.7"/>
<line x1="457.85" y1="2013" x2="457.85" y2="2015.7" stroke="#444" stroke-width="0.7"/>
<line x1="473.95" y1="2013" x2="473.95" y2="2015.7" stroke="#444" stroke-width="0.7"/>
<line x1="490.05" y1="2013" x2="490.05" y2="2015.7" stroke="#444" stroke-width="0.7"/>
<line x1="506.15" y1="2013" x2="506.15" y2="2015.7" stroke="#444" stroke-width="0.7"/>
<line x1="522.25" y1="2013" x2="522.25" y2="2015.7" stroke="#444" stroke-width="0.7"/>
<line x1="538.35" y1="2013" x2="538.35" y2="2015.7" stroke="#444" stroke-width="0.7"/>
<line x1="554.45" y1="2013" x2="554.45" y2="2015.7" stroke="#444" stroke-width="0.7"/>
<line x1="570.55" y1="2013" x2="570.55" y2="2015.7" stroke="#444" stroke-width="0.7"/>
<line x1="586.65" y1="2013" x2="586.65" y2="2015.7" stroke="#444" stroke-width="0.7"/>
<line x1="602.75" y1="2013" x2="602.75" y2="2015.7" stroke="#444" stroke-width="0.7"/>
<line x1="618.85" y1="2013" x2="618.85" y2="2015.7" stroke="#444" stroke-width="0.7"/>
<line x1="634.95" y1="2013" x2="634.95" y2="2015.7" stroke="#444" stroke-width="0.7"/>
<line x1="651.05" y1="2013" x2="651.05" y2="2015.7" stroke="#444" stroke-width="0.7"/>
<line x1="667.15" y1="2013" x2="667.15" y2="2015.7" stroke="#444" stroke-width="0.7"/>
<line x1="683.25" y1="2013" x2="683.25" y2="2015.7" stroke="#444" stroke-width="0.7"/>
<line x1="699.35" y1="2013" x2="699.35" y2="2015.7" stroke="#444" stroke-width="0.7"/>
<line x1="715.45" y1="2013" x2="715.45" y2="2015.7" stroke="#444" stroke-width="0.7"/>
<line x1="731.55" y1="2013" x2="731.55" y2="2015.7" stroke="#444" stroke-width="0.7"/>
<line x1="747.65" y1="2013" x2="747.65" y2="2015.7" stroke="#444" stroke-width="0.7"/>
<line x1="763.75" y1="2013" x2="763.75" y2="2015.7" stroke="#444" stroke-width="0.7"/>
<line x1="779.85" y1="2013" x2="779.85" y2="2015.7" stroke="#444" stroke-width="0.7"/>
<line x1="795.95" y1="2013" x2="795.95" y2="2015.7" stroke="#444" stroke-width="0.7"/>
<line x1="812.05" y1="2013" x2="812.05" y2="2015.7" stroke="#444" stroke-width="0.7"/>
<line x1="828.15" y1="2013" x2="828.15" y2="2015.7" stroke="#444" stroke-width="0.7"/>
<line x1="844.24" y1="2013" x2="844.24" y2="2015.7" stroke="#444" stroke-width="0.7"/>
<line x1="860.34" y1="2013" x2="860.34" y2="2015.7" stroke="#444" stroke-width="0.7"/>
<line x1="876.44" y1="2013" x2="876.44" y2="2015.7" stroke="#444" stroke-width="0.7"/>
<line x1="892.54" y1="2013" x2="892.54" y2="2015.7" stroke="#444" stroke-width="0.7"/>
<line x1="908.64" y1="2013" x2="908.64" y2="2015.7" stroke="#444" stroke-width="0.7"/>
<line x1="924.74" y1="2013" x2="924.74" y2="2015.7" stroke="#444" stroke-width="0.7"/>
<line x1="940.84" y1="2013" x2="940.84" y2="2015.7" stroke="#444" stroke-width="0.7"/>
<line x1="956.94" y1="2013" x2="956.94" y2="2015.7" stroke="#444" stroke-width="0.7"/>
<line x1="973.04" y1="2013" x2="973.04" y2="2015.7" stroke="#444" stroke-width="0.7"/>
<line x1="989.14" y1="2013" x2="989.14" y2="2015.7" stroke="#444" stroke-width="0.7"/>
<line x1="1005.24" y1="2013" x2="1005.24" y2="2015.7" stroke="#444" stroke-width="0.7"/>
<line x1="1021.34" y1="2013" x2="1021.34" y2="2015.7" stroke="#444" stroke-width="0.7"/>
<line x1="1037.44" y1="2013" x2="1037.44" y2="2015.7" stroke="#444" stroke-width="0.7"/>
<line x1="1053.54" y1="2013" x2="1053.54" y2="2015.7" stroke="#444" stroke-width="0.7"/>
<line x1="1069.64" y1="2013" x2="1069.64" y2="2015.7" stroke="#444" stroke-width="0.7"/>
<text x="69.3" y="1829.55" text-anchor="middle" font-size="9.7" fill="#1e1e1e" transform="rotate(-90 69.3 1829.55)">Relative Abundance</text>
<rect x="98.02" y="2018.7" width="317.16" height="13.9" fill="#c6c6c6"/>
<text x="257.6" y="2029.25" text-anchor="middle" font-size="9.5" fill="#1e1e1e">PCOS-NIR</text>
<rect x="420.02" y="2018.7" width="172.27" height="13.9" fill="#c6c6c6"/>
<text x="508.9" y="2029.25" text-anchor="middle" font-size="9.5" fill="#1e1e1e">PCOS-NIR+DET</text>
<rect x="597.11" y="2018.7" width="317.16" height="13.9" fill="#c6c6c6"/>
<text x="763.7" y="2029.25" text-anchor="middle" font-size="9.5" fill="#1e1e1e">PCOS-IR</text>
<rect x="919.11" y="2018.7" width="156.17" height="13.9" fill="#c6c6c6"/>
<text x="999.5" y="2029.25" text-anchor="middle" font-size="9.5" fill="#1e1e1e">PCOS-IR+DET+Met</text>
<text x="1094.8" y="1657.3" font-size="9.8" fill="#1e1e1e">taxon</text>
<rect x="1095.3" y="1663.3" width="12.8" height="12.5" fill="#F44336"/>
<text x="1113.4" y="1672.75" font-size="9.8" fill="#1e1e1e">g__Ruminococcus</text>
<rect x="1095.3" y="1677.3" width="12.8" height="12.5" fill="#2196F3"/>
<text x="1113.4" y="1686.75" font-size="9.8" fill="#1e1e1e">g__Faecalibacterium</text>
<rect x="1095.3" y="1691.3" width="12.8" height="12.5" fill="#E91E63"/>
<text x="1113.4" y="1700.75" font-size="9.8" fill="#1e1e1e">g__Clostridia_UCG−014</text>
<rect x="1095.3" y="1705.3" width="12.8" height="12.5" fill="#9C27B0"/>
<text x="1113.4" y="1714.75" font-size="9.8" fill="#1e1e1e">g__Dorea</text>
<rect x="1095.3" y="1719.3" width="12.8" height="12.5" fill="#673AB7"/>
<text x="1113.4" y="1728.75" font-size="9.8" fill="#1e1e1e">g__Prevotella</text>
<rect x="1095.3" y="1733.3" width="12.8" height="12.5" fill="#3F51B5"/>
<text x="1113.4" y="1742.75" font-size="9.8" fill="#1e1e1e">g__Bacteroides</text>
<rect x="1095.3" y="1747.3" width="12.8" height="12.5" fill="#03A9F4"/>
<text x="1113.4" y="1756.75" font-size="9.8" fill="#1e1e1e">g__Christensenellaceae_R−7_group</text>
<rect x="1095.3" y="1761.3" width="12.8" height="12.5" fill="#00BCD4"/>
<text x="1113.4" y="1770.75" font-size="9.8" fill="#1e1e1e">g__Faecalibaculum</text>
<rect x="1095.3" y="1775.3" width="12.8" height="12.5" fill="#009688"/>
<text x="1113.4" y="1784.75" font-size="9.8" fill="#1e1e1e">g__Anaeroglobus</text>
<rect x="1095.3" y="1789.3" width="12.8" height="12.5" fill="#4CAF50"/>
<text x="1113.4" y="1798.75" font-size="9.8" fill="#1e1e1e">g__Bifidobacterium</text>
<rect x="1095.3" y="1803.3" width="12.8" height="12.5" fill="#8BC34A"/>
<text x="1113.4" y="1812.75" font-size="9.8" fill="#1e1e1e">g__Megamonas</text>
<rect x="1095.3" y="1817.3" width="12.8" height="12.5" fill="#CDDC39"/>
<text x="1113.4" y="1826.75" font-size="9.8" fill="#1e1e1e">g__Megasphaera</text>
<rect x="1095.3" y="1831.3" width="12.8" height="12.5" fill="#FFEB3B"/>
<text x="1113.4" y="1840.75" font-size="9.8" fill="#1e1e1e">g__[Eubacterium]_nodatum_group</text>
<rect x="1095.3" y="1845.3" width="12.8" height="12.5" fill="#FFC107"/>
<text x="1113.4" y="1854.75" font-size="9.8" fill="#1e1e1e">g__Veillonella</text>
<rect x="1095.3" y="1859.3" width="12.8" height="12.5" fill="#FF9800"/>
<text x="1113.4" y="1868.75" font-size="9.8" fill="#1e1e1e">g__Phascolarctobacterium</text>
<rect x="1095.3" y="1873.3" width="12.8" height="12.5" fill="#FF5722"/>
<text x="1113.4" y="1882.75" font-size="9.8" fill="#1e1e1e">g__YC−ZSS−LKJ147</text>
<rect x="1095.3" y="1887.3" width="12.8" height="12.5" fill="#795548"/>
<text x="1113.4" y="1896.75" font-size="9.8" fill="#1e1e1e">g__Romboutsia</text>
<rect x="1095.3" y="1901.3" width="12.8" height="12.5" fill="#9E9E9E"/>
<text x="1113.4" y="1910.75" font-size="9.8" fill="#1e1e1e">g__Alistipes</text>
<rect x="1095.3" y="1915.3" width="12.8" height="12.5" fill="#607D8B"/>
<text x="1113.4" y="1924.75" font-size="9.8" fill="#1e1e1e">g__Acidaminococcus</text>
<rect x="1095.3" y="1929.3" width="12.8" height="12.5" fill="#455A64"/>
<text x="1113.4" y="1938.75" font-size="9.8" fill="#1e1e1e">g__Defluviitaleaceae_UCG−011</text>
<rect x="1095.3" y="1943.3" width="12.8" height="12.5" fill="#E57373"/>
<text x="1113.4" y="1952.75" font-size="9.8" fill="#1e1e1e">g__Lachnospiraceae_NK4A136_group</text>
<rect x="1095.3" y="1957.3" width="12.8" height="12.5" fill="#F06292"/>
<text x="1113.4" y="1966.75" font-size="9.8" fill="#1e1e1e">g__GCA−900066575</text>
<rect x="1095.3" y="1971.3" width="12.8" height="12.5" fill="#BA68C8"/>
<text x="1113.4" y="1980.75" font-size="9.8" fill="#1e1e1e">g__Dialister</text>
<rect x="1095.3" y="1985.3" width="12.8" height="12.5" fill="#9575CD"/>
<text x="1113.4" y="1994.75" font-size="9.8" fill="#1e1e1e">g__Clostridium_sensu_stricto_1</text>
<rect x="1095.3" y="1999.3" width="12.8" height="12.5" fill="#7986CB"/>
<text x="1113.4" y="2008.75" font-size="9.8" fill="#1e1e1e">g__[Eubacterium]_coprostanoligenes_group</text>
<rect x="1095.3" y="2013.3" width="12.8" height="12.5" fill="#64B5F6"/>
<text x="1113.4" y="2022.75" font-size="9.8" fill="#1e1e1e">Others</text>
<text x="4.2" y="1660.6" font-family='"Liberation Sans", sans-serif' font-weight="bold" font-size="33.6" fill="#000">E</text>
<line x1="82.6" y1="2423.89" x2="879.5" y2="2423.89" stroke="#e6e6e6" stroke-width="0.5"/>
<line x1="82.6" y1="2378.18" x2="879.5" y2="2378.18" stroke="#e6e6e6" stroke-width="0.8"/>
<line x1="82.6" y1="2332.46" x2="879.5" y2="2332.46" stroke="#e6e6e6" stroke-width="0.5"/>
<line x1="82.6" y1="2286.75" x2="879.5" y2="2286.75" stroke="#e6e6e6" stroke-width="0.8"/>
<line x1="82.6" y1="2241.04" x2="879.5" y2="2241.04" stroke="#e6e6e6" stroke-width="0.5"/>
<line x1="82.6" y1="2195.32" x2="879.5" y2="2195.32" stroke="#e6e6e6" stroke-width="0.8"/>
<line x1="82.6" y1="2149.61" x2="879.5" y2="2149.61" stroke="#e6e6e6" stroke-width="0.5"/>
<rect x="85.86" y="2103.9" width="9.11" height="365.7" fill="#F44336"/>
<rect x="85.86" y="2107.56" width="9.11" height="362.04" fill="#2196F3"/>
<rect x="85.86" y="2118.89" width="9.11" height="350.71" fill="#673AB7"/>
<rect x="85.86" y="2155.83" width="9.11" height="313.77" fill="#03A9F4"/>
<rect x="85.86" y="2198.25" width="9.11" height="271.35" fill="#FFEB3B"/>
<rect x="85.86" y="2208.86" width="9.11" height="260.74" fill="#FF9800"/>
<rect x="85.86" y="2213.61" width="9.11" height="255.99" fill="#FF5722"/>
<rect x="85.86" y="2232.26" width="9.11" height="237.34" fill="#607D8B"/>
<rect x="85.86" y="2237.38" width="9.11" height="232.22" fill="#BA68C8"/>
<rect x="85.86" y="2241.04" width="9.11" height="228.56" fill="#64B5F6"/>
<rect x="98.88" y="2103.9" width="9.11" height="365.7" fill="#F44336"/>
<rect x="98.88" y="2208.12" width="9.11" height="261.48" fill="#E91E63"/>
<rect x="98.88" y="2254.57" width="9.11" height="215.03" fill="#4CAF50"/>
<rect x="98.88" y="2264.44" width="9.11" height="205.16" fill="#8BC34A"/>
<rect x="98.88" y="2281.26" width="9.11" height="188.34" fill="#64B5F6"/>
<rect x="111.9" y="2103.9" width="9.11" height="365.7" fill="#2196F3"/>
<rect x="111.9" y="2115.6" width="9.11" height="354" fill="#9C27B0"/>
<rect x="111.9" y="2128.04" width="9.11" height="341.56" fill="#CDDC39"/>
<rect x="111.9" y="2137.18" width="9.11" height="332.42" fill="#FFC107"/>
<rect x="111.9" y="2144.86" width="9.11" height="324.74" fill="#455A64"/>
<rect x="111.9" y="2149.25" width="9.11" height="320.35" fill="#64B5F6"/>
<rect x="124.92" y="2103.9" width="9.11" height="365.7" fill="#F44336"/>
<rect x="124.92" y="2106.83" width="9.11" height="362.77" fill="#E91E63"/>
<rect x="124.92" y="2143.03" width="9.11" height="326.57" fill="#9C27B0"/>
<rect x="124.92" y="2275.05" width="9.11" height="194.55" fill="#00BCD4"/>
<rect x="124.92" y="2283.46" width="9.11" height="186.14" fill="#8BC34A"/>
<rect x="124.92" y="2345.99" width="9.11" height="123.61" fill="#FFEB3B"/>
<rect x="124.92" y="2352.94" width="9.11" height="116.66" fill="#795548"/>
<rect x="124.92" y="2355.87" width="9.11" height="113.73" fill="#64B5F6"/>
<rect x="137.94" y="2103.9" width="9.11" height="365.7" fill="#F44336"/>
<rect x="137.94" y="2127.3" width="9.11" height="342.3" fill="#2196F3"/>
<rect x="137.94" y="2143.76" width="9.11" height="325.84" fill="#FF5722"/>
<rect x="137.94" y="2149.98" width="9.11" height="319.62" fill="#BA68C8"/>
<rect x="137.94" y="2154.37" width="9.11" height="315.23" fill="#64B5F6"/>
<rect x="150.96" y="2103.9" width="9.11" height="365.7" fill="#2196F3"/>
<rect x="150.96" y="2142.3" width="9.11" height="327.3" fill="#CDDC39"/>
<rect x="150.96" y="2183.99" width="9.11" height="285.61" fill="#FFEB3B"/>
<rect x="150.96" y="2194.59" width="9.11" height="275.01" fill="#FF5722"/>
<rect x="150.96" y="2197.52" width="9.11" height="272.08" fill="#795548"/>
<rect x="150.96" y="2248.72" width="9.11" height="220.88" fill="#455A64"/>
<rect x="150.96" y="2267.73" width="9.11" height="201.87" fill="#BA68C8"/>
<rect x="150.96" y="2271.39" width="9.11" height="198.21" fill="#64B5F6"/>
<rect x="163.98" y="2103.9" width="9.11" height="365.7" fill="#2196F3"/>
<rect x="163.98" y="2156.56" width="9.11" height="313.04" fill="#673AB7"/>
<rect x="163.98" y="2183.99" width="9.11" height="285.61" fill="#03A9F4"/>
<rect x="163.98" y="2197.52" width="9.11" height="272.08" fill="#CDDC39"/>
<rect x="163.98" y="2224.58" width="9.11" height="245.02" fill="#FFEB3B"/>
<rect x="163.98" y="2235.19" width="9.11" height="234.41" fill="#FF9800"/>
<rect x="163.98" y="2257.13" width="9.11" height="212.47" fill="#BA68C8"/>
<rect x="163.98" y="2262.25" width="9.11" height="207.35" fill="#64B5F6"/>
<rect x="177" y="2103.9" width="9.11" height="365.7" fill="#2196F3"/>
<rect x="177" y="2130.96" width="9.11" height="338.64" fill="#FF9800"/>
<rect x="177" y="2138.64" width="9.11" height="330.96" fill="#795548"/>
<rect x="177" y="2142.3" width="9.11" height="327.3" fill="#64B5F6"/>
<rect x="190.03" y="2103.9" width="9.11" height="365.7" fill="#F44336"/>
<rect x="190.03" y="2111.58" width="9.11" height="358.02" fill="#2196F3"/>
<rect x="190.03" y="2123.65" width="9.11" height="345.95" fill="#FFEB3B"/>
<rect x="190.03" y="2124.74" width="9.11" height="344.86" fill="#FF5722"/>
<rect x="190.03" y="2127.3" width="9.11" height="342.3" fill="#BA68C8"/>
<rect x="190.03" y="2132.42" width="9.11" height="337.18" fill="#64B5F6"/>
<rect x="203.05" y="2103.9" width="9.11" height="365.7" fill="#F44336"/>
<rect x="203.05" y="2176.31" width="9.11" height="293.29" fill="#2196F3"/>
<rect x="203.05" y="2182.16" width="9.11" height="287.44" fill="#FFEB3B"/>
<rect x="203.05" y="2186.91" width="9.11" height="282.69" fill="#607D8B"/>
<rect x="203.05" y="2192.03" width="9.11" height="277.57" fill="#BA68C8"/>
<rect x="203.05" y="2200.44" width="9.11" height="269.16" fill="#64B5F6"/>
<rect x="216.07" y="2103.9" width="9.11" height="365.7" fill="#F44336"/>
<rect x="216.07" y="2114.51" width="9.11" height="355.09" fill="#2196F3"/>
<rect x="216.07" y="2138.64" width="9.11" height="330.96" fill="#673AB7"/>
<rect x="216.07" y="2162.41" width="9.11" height="307.19" fill="#FFEB3B"/>
<rect x="216.07" y="2167.17" width="9.11" height="302.43" fill="#607D8B"/>
<rect x="216.07" y="2170.09" width="9.11" height="299.51" fill="#64B5F6"/>
<rect x="229.09" y="2103.9" width="9.11" height="365.7" fill="#3F51B5"/>
<rect x="229.09" y="2150.71" width="9.11" height="318.89" fill="#00BCD4"/>
<rect x="229.09" y="2168.26" width="9.11" height="301.34" fill="#FFEB3B"/>
<rect x="229.09" y="2171.55" width="9.11" height="298.05" fill="#9E9E9E"/>
<rect x="229.09" y="2175.58" width="9.11" height="294.02" fill="#64B5F6"/>
<rect x="242.11" y="2103.9" width="9.11" height="365.7" fill="#F44336"/>
<rect x="242.11" y="2113.04" width="9.11" height="356.56" fill="#2196F3"/>
<rect x="242.11" y="2149.25" width="9.11" height="320.35" fill="#673AB7"/>
<rect x="242.11" y="2201.18" width="9.11" height="268.42" fill="#03A9F4"/>
<rect x="242.11" y="2205.56" width="9.11" height="264.04" fill="#FFEB3B"/>
<rect x="242.11" y="2217.63" width="9.11" height="251.97" fill="#FF5722"/>
<rect x="242.11" y="2223.12" width="9.11" height="246.48" fill="#455A64"/>
<rect x="242.11" y="2227.51" width="9.11" height="242.09" fill="#BA68C8"/>
<rect x="242.11" y="2240.31" width="9.11" height="229.29" fill="#64B5F6"/>
<rect x="255.13" y="2103.9" width="9.11" height="365.7" fill="#F44336"/>
<rect x="255.13" y="2113.04" width="9.11" height="356.56" fill="#2196F3"/>
<rect x="255.13" y="2128.04" width="9.11" height="341.56" fill="#3F51B5"/>
<rect x="255.13" y="2164.24" width="9.11" height="305.36" fill="#03A9F4"/>
<rect x="255.13" y="2173.38" width="9.11" height="296.22" fill="#FFEB3B"/>
<rect x="255.13" y="2176.31" width="9.11" height="293.29" fill="#FF9800"/>
<rect x="255.13" y="2188.38" width="9.11" height="281.22" fill="#607D8B"/>
<rect x="255.13" y="2192.77" width="9.11" height="276.83" fill="#64B5F6"/>
<rect x="268.15" y="2103.9" width="9.11" height="365.7" fill="#F44336"/>
<rect x="268.15" y="2210.32" width="9.11" height="259.28" fill="#2196F3"/>
<rect x="268.15" y="2216.9" width="9.11" height="252.7" fill="#E91E63"/>
<rect x="268.15" y="2252.37" width="9.11" height="217.23" fill="#4CAF50"/>
<rect x="268.15" y="2277.24" width="9.11" height="192.36" fill="#8BC34A"/>
<rect x="268.15" y="2293.33" width="9.11" height="176.27" fill="#FFC107"/>
<rect x="268.15" y="2295.53" width="9.11" height="174.07" fill="#64B5F6"/>
<rect x="281.17" y="2103.9" width="9.11" height="365.7" fill="#E91E63"/>
<rect x="281.17" y="2133.89" width="9.11" height="335.71" fill="#9C27B0"/>
<rect x="281.17" y="2186.91" width="9.11" height="282.69" fill="#3F51B5"/>
<rect x="281.17" y="2206.3" width="9.11" height="263.3" fill="#8BC34A"/>
<rect x="281.17" y="2213.98" width="9.11" height="255.62" fill="#64B5F6"/>
<rect x="294.2" y="2103.9" width="9.11" height="365.7" fill="#F44336"/>
<rect x="294.2" y="2108.29" width="9.11" height="361.31" fill="#2196F3"/>
<rect x="294.2" y="2125.84" width="9.11" height="343.76" fill="#673AB7"/>
<rect x="294.2" y="2133.89" width="9.11" height="335.71" fill="#FF9800"/>
<rect x="294.2" y="2140.1" width="9.11" height="329.5" fill="#795548"/>
<rect x="294.2" y="2158.39" width="9.11" height="311.21" fill="#607D8B"/>
<rect x="294.2" y="2161.31" width="9.11" height="308.29" fill="#64B5F6"/>
<rect x="307.22" y="2103.9" width="9.11" height="365.7" fill="#2196F3"/>
<rect x="307.22" y="2112.31" width="9.11" height="357.29" fill="#9C27B0"/>
<rect x="307.22" y="2180.7" width="9.11" height="288.9" fill="#FFEB3B"/>
<rect x="307.22" y="2186.91" width="9.11" height="282.69" fill="#FF5722"/>
<rect x="307.22" y="2190.57" width="9.11" height="279.03" fill="#607D8B"/>
<rect x="307.22" y="2193.5" width="9.11" height="276.1" fill="#64B5F6"/>
<rect x="320.24" y="2103.9" width="9.11" height="365.7" fill="#F44336"/>
<rect x="320.24" y="2118.89" width="9.11" height="350.71" fill="#2196F3"/>
<rect x="320.24" y="2142.3" width="9.11" height="327.3" fill="#00BCD4"/>
<rect x="320.24" y="2152.9" width="9.11" height="316.7" fill="#FF9800"/>
<rect x="320.24" y="2162.78" width="9.11" height="306.82" fill="#795548"/>
<rect x="320.24" y="2165.7" width="9.11" height="303.9" fill="#9E9E9E"/>
<rect x="320.24" y="2208.86" width="9.11" height="260.74" fill="#BA68C8"/>
<rect x="320.24" y="2213.98" width="9.11" height="255.62" fill="#64B5F6"/>
<rect x="333.26" y="2103.9" width="9.11" height="365.7" fill="#F44336"/>
<rect x="333.26" y="2129.5" width="9.11" height="340.1" fill="#2196F3"/>
<rect x="333.26" y="2133.16" width="9.11" height="336.44" fill="#E91E63"/>
<rect x="333.26" y="2167.9" width="9.11" height="301.7" fill="#9C27B0"/>
<rect x="333.26" y="2192.77" width="9.11" height="276.83" fill="#009688"/>
<rect x="333.26" y="2204.1" width="9.11" height="265.5" fill="#4CAF50"/>
<rect x="333.26" y="2243.23" width="9.11" height="226.37" fill="#FFEB3B"/>
<rect x="333.26" y="2246.52" width="9.11" height="223.08" fill="#E57373"/>
<rect x="333.26" y="2252.37" width="9.11" height="217.23" fill="#64B5F6"/>
<rect x="346.28" y="2103.9" width="9.11" height="365.7" fill="#2196F3"/>
<rect x="346.28" y="2177.41" width="9.11" height="292.19" fill="#FFEB3B"/>
<rect x="346.28" y="2192.77" width="9.11" height="276.83" fill="#FF9800"/>
<rect x="346.28" y="2206.66" width="9.11" height="262.94" fill="#FF5722"/>
<rect x="346.28" y="2208.86" width="9.11" height="260.74" fill="#7986CB"/>
<rect x="346.28" y="2215.44" width="9.11" height="254.16" fill="#64B5F6"/>
<rect x="359.3" y="2103.9" width="9.11" height="365.7" fill="#F44336"/>
<rect x="359.3" y="2151.44" width="9.11" height="318.16" fill="#2196F3"/>
<rect x="359.3" y="2157.29" width="9.11" height="312.31" fill="#E91E63"/>
<rect x="359.3" y="2186.55" width="9.11" height="283.05" fill="#009688"/>
<rect x="359.3" y="2226.78" width="9.11" height="242.82" fill="#4CAF50"/>
<rect x="359.3" y="2262.98" width="9.11" height="206.62" fill="#FFC107"/>
<rect x="359.3" y="2269.2" width="9.11" height="200.4" fill="#E57373"/>
<rect x="359.3" y="2272.12" width="9.11" height="197.48" fill="#64B5F6"/>
<rect x="372.32" y="2103.9" width="9.11" height="365.7" fill="#F44336"/>
<rect x="372.32" y="2115.24" width="9.11" height="354.36" fill="#2196F3"/>
<rect x="372.32" y="2120.36" width="9.11" height="349.24" fill="#E91E63"/>
<rect x="372.32" y="2137.18" width="9.11" height="332.42" fill="#009688"/>
<rect x="372.32" y="2150.71" width="9.11" height="318.89" fill="#4CAF50"/>
<rect x="372.32" y="2159.85" width="9.11" height="309.75" fill="#FFC107"/>
<rect x="372.32" y="2164.97" width="9.11" height="304.63" fill="#795548"/>
<rect x="372.32" y="2167.17" width="9.11" height="302.43" fill="#BA68C8"/>
<rect x="372.32" y="2171.19" width="9.11" height="298.41" fill="#64B5F6"/>
<rect x="385.34" y="2103.9" width="9.11" height="365.7" fill="#2196F3"/>
<rect x="385.34" y="2120.72" width="9.11" height="348.88" fill="#FFEB3B"/>
<rect x="385.34" y="2122.92" width="9.11" height="346.68" fill="#607D8B"/>
<rect x="385.34" y="2135.72" width="9.11" height="333.88" fill="#455A64"/>
<rect x="385.34" y="2145.96" width="9.11" height="323.64" fill="#BA68C8"/>
<rect x="385.34" y="2159.12" width="9.11" height="310.48" fill="#64B5F6"/>
<rect x="398.37" y="2103.9" width="9.11" height="365.7" fill="#F44336"/>
<rect x="398.37" y="2251.64" width="9.11" height="217.96" fill="#2196F3"/>
<rect x="398.37" y="2254.57" width="9.11" height="215.03" fill="#E91E63"/>
<rect x="398.37" y="2313.45" width="9.11" height="156.15" fill="#4CAF50"/>
<rect x="398.37" y="2332.46" width="9.11" height="137.14" fill="#8BC34A"/>
<rect x="398.37" y="2356.6" width="9.11" height="113" fill="#E57373"/>
<rect x="398.37" y="2359.52" width="9.11" height="110.08" fill="#64B5F6"/>
<rect x="411.39" y="2103.9" width="9.11" height="365.7" fill="#2196F3"/>
<rect x="411.39" y="2108.29" width="9.11" height="361.31" fill="#673AB7"/>
<rect x="411.39" y="2128.77" width="9.11" height="340.83" fill="#03A9F4"/>
<rect x="411.39" y="2130.23" width="9.11" height="339.37" fill="#FFC107"/>
<rect x="411.39" y="2140.84" width="9.11" height="328.76" fill="#795548"/>
<rect x="411.39" y="2148.52" width="9.11" height="321.08" fill="#607D8B"/>
<rect x="411.39" y="2151.44" width="9.11" height="318.16" fill="#455A64"/>
<rect x="411.39" y="2162.05" width="9.11" height="307.55" fill="#BA68C8"/>
<rect x="411.39" y="2172.65" width="9.11" height="296.95" fill="#64B5F6"/>
<rect x="424.41" y="2103.9" width="9.11" height="365.7" fill="#2196F3"/>
<rect x="424.41" y="2108.29" width="9.11" height="361.31" fill="#FF9800"/>
<rect x="424.41" y="2117.43" width="9.11" height="352.17" fill="#795548"/>
<rect x="424.41" y="2120.36" width="9.11" height="349.24" fill="#64B5F6"/>
<rect x="437.43" y="2103.9" width="9.11" height="365.7" fill="#F44336"/>
<rect x="437.43" y="2113.77" width="9.11" height="355.83" fill="#2196F3"/>
<rect x="437.43" y="2145.96" width="9.11" height="323.64" fill="#673AB7"/>
<rect x="437.43" y="2149.98" width="9.11" height="319.62" fill="#03A9F4"/>
<rect x="437.43" y="2173.38" width="9.11" height="296.22" fill="#FFEB3B"/>
<rect x="437.43" y="2174.85" width="9.11" height="294.75" fill="#FF9800"/>
<rect x="437.43" y="2185.45" width="9.11" height="284.15" fill="#607D8B"/>
<rect x="437.43" y="2189.11" width="9.11" height="280.49" fill="#64B5F6"/>
<rect x="450.45" y="2103.9" width="9.11" height="365.7" fill="#F44336"/>
<rect x="450.45" y="2223.12" width="9.11" height="246.48" fill="#2196F3"/>
<rect x="450.45" y="2226.04" width="9.11" height="243.56" fill="#E91E63"/>
<rect x="450.45" y="2296.99" width="9.11" height="172.61" fill="#009688"/>
<rect x="450.45" y="2301.74" width="9.11" height="167.86" fill="#9E9E9E"/>
<rect x="450.45" y="2305.4" width="9.11" height="164.2" fill="#64B5F6"/>
<rect x="463.47" y="2103.9" width="9.11" height="365.7" fill="#F44336"/>
<rect x="463.47" y="2132.42" width="9.11" height="337.18" fill="#2196F3"/>
<rect x="463.47" y="2171.92" width="9.11" height="297.68" fill="#673AB7"/>
<rect x="463.47" y="2225.31" width="9.11" height="244.29" fill="#03A9F4"/>
<rect x="463.47" y="2240.31" width="9.11" height="229.29" fill="#FFEB3B"/>
<rect x="463.47" y="2252.37" width="9.11" height="217.23" fill="#FF5722"/>
<rect x="463.47" y="2265.17" width="9.11" height="204.43" fill="#64B5F6"/>
<rect x="476.49" y="2103.9" width="9.11" height="365.7" fill="#F44336"/>
<rect x="476.49" y="2107.56" width="9.11" height="362.04" fill="#2196F3"/>
<rect x="476.49" y="2152.17" width="9.11" height="317.43" fill="#3F51B5"/>
<rect x="476.49" y="2155.1" width="9.11" height="314.5" fill="#03A9F4"/>
<rect x="476.49" y="2164.24" width="9.11" height="305.36" fill="#FFC107"/>
<rect x="476.49" y="2174.85" width="9.11" height="294.75" fill="#455A64"/>
<rect x="476.49" y="2179.97" width="9.11" height="289.63" fill="#64B5F6"/>
<rect x="489.51" y="2103.9" width="9.11" height="365.7" fill="#F44336"/>
<rect x="489.51" y="2154.37" width="9.11" height="315.23" fill="#2196F3"/>
<rect x="489.51" y="2159.12" width="9.11" height="310.48" fill="#E91E63"/>
<rect x="489.51" y="2198.98" width="9.11" height="270.62" fill="#FFC107"/>
<rect x="489.51" y="2212.51" width="9.11" height="257.09" fill="#64B5F6"/>
<rect x="502.54" y="2103.9" width="9.11" height="365.7" fill="#F44336"/>
<rect x="502.54" y="2107.56" width="9.11" height="362.04" fill="#2196F3"/>
<rect x="502.54" y="2137.54" width="9.11" height="332.06" fill="#3F51B5"/>
<rect x="502.54" y="2138.64" width="9.11" height="330.96" fill="#00BCD4"/>
<rect x="502.54" y="2180.7" width="9.11" height="288.9" fill="#FFEB3B"/>
<rect x="502.54" y="2185.45" width="9.11" height="284.15" fill="#FF5722"/>
<rect x="502.54" y="2205.2" width="9.11" height="264.4" fill="#455A64"/>
<rect x="502.54" y="2208.12" width="9.11" height="261.48" fill="#64B5F6"/>
<rect x="515.56" y="2103.9" width="9.11" height="365.7" fill="#F44336"/>
<rect x="515.56" y="2109.02" width="9.11" height="360.58" fill="#2196F3"/>
<rect x="515.56" y="2161.31" width="9.11" height="308.29" fill="#3F51B5"/>
<rect x="515.56" y="2179.97" width="9.11" height="289.63" fill="#FFEB3B"/>
<rect x="515.56" y="2186.91" width="9.11" height="282.69" fill="#FF9800"/>
<rect x="515.56" y="2191.3" width="9.11" height="278.3" fill="#7986CB"/>
<rect x="515.56" y="2192.77" width="9.11" height="276.83" fill="#64B5F6"/>
<rect x="528.58" y="2103.9" width="9.11" height="365.7" fill="#F44336"/>
<rect x="528.58" y="2134.98" width="9.11" height="334.62" fill="#E91E63"/>
<rect x="528.58" y="2150.71" width="9.11" height="318.89" fill="#03A9F4"/>
<rect x="528.58" y="2152.9" width="9.11" height="316.7" fill="#009688"/>
<rect x="528.58" y="2229.7" width="9.11" height="239.9" fill="#4CAF50"/>
<rect x="528.58" y="2243.23" width="9.11" height="226.37" fill="#FFC107"/>
<rect x="528.58" y="2248.72" width="9.11" height="220.88" fill="#7986CB"/>
<rect x="528.58" y="2250.91" width="9.11" height="218.69" fill="#64B5F6"/>
<rect x="541.6" y="2103.9" width="9.11" height="365.7" fill="#2196F3"/>
<rect x="541.6" y="2119.63" width="9.11" height="349.97" fill="#CDDC39"/>
<rect x="541.6" y="2133.16" width="9.11" height="336.44" fill="#FF9800"/>
<rect x="541.6" y="2141.57" width="9.11" height="328.03" fill="#9E9E9E"/>
<rect x="541.6" y="2147.78" width="9.11" height="321.82" fill="#7986CB"/>
<rect x="541.6" y="2152.9" width="9.11" height="316.7" fill="#64B5F6"/>
<rect x="554.62" y="2103.9" width="9.11" height="365.7" fill="#F44336"/>
<rect x="554.62" y="2117.43" width="9.11" height="352.17" fill="#2196F3"/>
<rect x="554.62" y="2125.84" width="9.11" height="343.76" fill="#673AB7"/>
<rect x="554.62" y="2149.98" width="9.11" height="319.62" fill="#03A9F4"/>
<rect x="554.62" y="2167.9" width="9.11" height="301.7" fill="#00BCD4"/>
<rect x="554.62" y="2206.3" width="9.11" height="263.3" fill="#FFEB3B"/>
<rect x="554.62" y="2213.24" width="9.11" height="256.36" fill="#FF9800"/>
<rect x="554.62" y="2223.85" width="9.11" height="245.75" fill="#795548"/>
<rect x="554.62" y="2232.99" width="9.11" height="236.61" fill="#64B5F6"/>
<rect x="567.64" y="2103.9" width="9.11" height="365.7" fill="#9C27B0"/>
<rect x="567.64" y="2132.42" width="9.11" height="337.18" fill="#3F51B5"/>
<rect x="567.64" y="2181.43" width="9.11" height="288.17" fill="#FFEB3B"/>
<rect x="567.64" y="2189.84" width="9.11" height="279.76" fill="#9E9E9E"/>
<rect x="567.64" y="2202.64" width="9.11" height="266.96" fill="#607D8B"/>
<rect x="567.64" y="2204.83" width="9.11" height="264.77" fill="#E57373"/>
<rect x="567.64" y="2216.9" width="9.11" height="252.7" fill="#64B5F6"/>
<rect x="580.66" y="2103.9" width="9.11" height="365.7" fill="#F44336"/>
<rect x="580.66" y="2181.43" width="9.11" height="288.17" fill="#03A9F4"/>
<rect x="580.66" y="2186.18" width="9.11" height="283.42" fill="#E91E63"/>
<rect x="580.66" y="2209.59" width="9.11" height="260.01" fill="#9C27B0"/>
<rect x="580.66" y="2226.04" width="9.11" height="243.56" fill="#00BCD4"/>
<rect x="580.66" y="2228.97" width="9.11" height="240.63" fill="#009688"/>
<rect x="580.66" y="2275.78" width="9.11" height="193.82" fill="#4CAF50"/>
<rect x="580.66" y="2292.24" width="9.11" height="177.36" fill="#64B5F6"/>
<rect x="593.68" y="2103.9" width="9.11" height="365.7" fill="#9C27B0"/>
<rect x="593.68" y="2133.16" width="9.11" height="336.44" fill="#673AB7"/>
<rect x="593.68" y="2192.77" width="9.11" height="276.83" fill="#FFEB3B"/>
<rect x="593.68" y="2207.03" width="9.11" height="262.57" fill="#FF5722"/>
<rect x="593.68" y="2212.51" width="9.11" height="257.09" fill="#F06292"/>
<rect x="593.68" y="2221.29" width="9.11" height="248.31" fill="#64B5F6"/>
<rect x="606.7" y="2103.9" width="9.11" height="365.7" fill="#2196F3"/>
<rect x="606.7" y="2167.9" width="9.11" height="301.7" fill="#673AB7"/>
<rect x="606.7" y="2189.11" width="9.11" height="280.49" fill="#03A9F4"/>
<rect x="606.7" y="2192.03" width="9.11" height="277.57" fill="#FFEB3B"/>
<rect x="606.7" y="2212.51" width="9.11" height="257.09" fill="#FF5722"/>
<rect x="606.7" y="2216.9" width="9.11" height="252.7" fill="#64B5F6"/>
<rect x="619.73" y="2103.9" width="9.11" height="365.7" fill="#F44336"/>
<rect x="619.73" y="2152.9" width="9.11" height="316.7" fill="#03A9F4"/>
<rect x="619.73" y="2159.12" width="9.11" height="310.48" fill="#E91E63"/>
<rect x="619.73" y="2179.97" width="9.11" height="289.63" fill="#009688"/>
<rect x="619.73" y="2185.45" width="9.11" height="284.15" fill="#8BC34A"/>
<rect x="619.73" y="2190.94" width="9.11" height="278.66" fill="#FF9800"/>
<rect x="619.73" y="2197.15" width="9.11" height="272.45" fill="#9E9E9E"/>
<rect x="619.73" y="2202.64" width="9.11" height="266.96" fill="#64B5F6"/>
<rect x="632.75" y="2103.9" width="9.11" height="365.7" fill="#F44336"/>
<rect x="632.75" y="2132.42" width="9.11" height="337.18" fill="#2196F3"/>
<rect x="632.75" y="2160.58" width="9.11" height="309.02" fill="#673AB7"/>
<rect x="632.75" y="2205.93" width="9.11" height="263.67" fill="#FFEB3B"/>
<rect x="632.75" y="2208.12" width="9.11" height="261.48" fill="#795548"/>
<rect x="632.75" y="2220.19" width="9.11" height="249.41" fill="#7986CB"/>
<rect x="632.75" y="2225.31" width="9.11" height="244.29" fill="#64B5F6"/>
<rect x="645.77" y="2103.9" width="9.11" height="365.7" fill="#03A9F4"/>
<rect x="645.77" y="2125.11" width="9.11" height="344.49" fill="#CDDC39"/>
<rect x="645.77" y="2142.3" width="9.11" height="327.3" fill="#FF9800"/>
<rect x="645.77" y="2150.71" width="9.11" height="318.89" fill="#9E9E9E"/>
<rect x="645.77" y="2159.12" width="9.11" height="310.48" fill="#7986CB"/>
<rect x="645.77" y="2162.78" width="9.11" height="306.82" fill="#64B5F6"/>
<rect x="658.79" y="2103.9" width="9.11" height="365.7" fill="#2196F3"/>
<rect x="658.79" y="2116.7" width="9.11" height="352.9" fill="#3F51B5"/>
<rect x="658.79" y="2279.44" width="9.11" height="190.16" fill="#FFEB3B"/>
<rect x="658.79" y="2300.65" width="9.11" height="168.95" fill="#455A64"/>
<rect x="658.79" y="2303.94" width="9.11" height="165.66" fill="#E57373"/>
<rect x="658.79" y="2306.86" width="9.11" height="162.74" fill="#64B5F6"/>
<rect x="671.81" y="2103.9" width="9.11" height="365.7" fill="#F44336"/>
<rect x="671.81" y="2164.24" width="9.11" height="305.36" fill="#03A9F4"/>
<rect x="671.81" y="2167.9" width="9.11" height="301.7" fill="#E91E63"/>
<rect x="671.81" y="2218.36" width="9.11" height="251.24" fill="#FFC107"/>
<rect x="671.81" y="2232.26" width="9.11" height="237.34" fill="#FF5722"/>
<rect x="671.81" y="2240.31" width="9.11" height="229.29" fill="#E57373"/>
<rect x="671.81" y="2256.03" width="9.11" height="213.57" fill="#64B5F6"/>
<rect x="684.83" y="2103.9" width="9.11" height="365.7" fill="#F44336"/>
<rect x="684.83" y="2200.44" width="9.11" height="269.16" fill="#03A9F4"/>
<rect x="684.83" y="2205.56" width="9.11" height="264.04" fill="#E91E63"/>
<rect x="684.83" y="2243.23" width="9.11" height="226.37" fill="#673AB7"/>
<rect x="684.83" y="2246.52" width="9.11" height="223.08" fill="#00BCD4"/>
<rect x="684.83" y="2260.05" width="9.11" height="209.55" fill="#64B5F6"/>
<rect x="697.85" y="2103.9" width="9.11" height="365.7" fill="#F44336"/>
<rect x="697.85" y="2113.77" width="9.11" height="355.83" fill="#2196F3"/>
<rect x="697.85" y="2118.16" width="9.11" height="351.44" fill="#9C27B0"/>
<rect x="697.85" y="2172.65" width="9.11" height="296.95" fill="#00BCD4"/>
<rect x="697.85" y="2183.99" width="9.11" height="285.61" fill="#FF5722"/>
<rect x="697.85" y="2189.11" width="9.11" height="280.49" fill="#9E9E9E"/>
<rect x="697.85" y="2200.44" width="9.11" height="269.16" fill="#BA68C8"/>
<rect x="697.85" y="2205.56" width="9.11" height="264.04" fill="#64B5F6"/>
<rect x="710.87" y="2103.9" width="9.11" height="365.7" fill="#F44336"/>
<rect x="710.87" y="2192.4" width="9.11" height="277.2" fill="#3F51B5"/>
<rect x="710.87" y="2197.88" width="9.11" height="271.72" fill="#FF5722"/>
<rect x="710.87" y="2199.35" width="9.11" height="270.25" fill="#FF9800"/>
<rect x="710.87" y="2203.37" width="9.11" height="266.23" fill="#64B5F6"/>
<rect x="723.9" y="2103.9" width="9.11" height="365.7" fill="#2196F3"/>
<rect x="723.9" y="2112.31" width="9.11" height="357.29" fill="#FFEB3B"/>
<rect x="723.9" y="2115.24" width="9.11" height="354.36" fill="#FF5722"/>
<rect x="723.9" y="2121.82" width="9.11" height="347.78" fill="#F06292"/>
<rect x="723.9" y="2134.98" width="9.11" height="334.62" fill="#64B5F6"/>
<rect x="736.92" y="2103.9" width="9.11" height="365.7" fill="#F44336"/>
<rect x="736.92" y="2108.29" width="9.11" height="361.31" fill="#2196F3"/>
<rect x="736.92" y="2142.3" width="9.11" height="327.3" fill="#FFEB3B"/>
<rect x="736.92" y="2144.86" width="9.11" height="324.74" fill="#FFC107"/>
<rect x="736.92" y="2147.78" width="9.11" height="321.82" fill="#FF5722"/>
<rect x="736.92" y="2152.17" width="9.11" height="317.43" fill="#9E9E9E"/>
<rect x="736.92" y="2157.29" width="9.11" height="312.31" fill="#607D8B"/>
<rect x="736.92" y="2162.78" width="9.11" height="306.82" fill="#64B5F6"/>
<rect x="749.94" y="2103.9" width="9.11" height="365.7" fill="#F44336"/>
<rect x="749.94" y="2109.02" width="9.11" height="360.58" fill="#2196F3"/>
<rect x="749.94" y="2128.77" width="9.11" height="340.83" fill="#9C27B0"/>
<rect x="749.94" y="2156.2" width="9.11" height="313.4" fill="#03A9F4"/>
<rect x="749.94" y="2157.66" width="9.11" height="311.94" fill="#FFEB3B"/>
<rect x="749.94" y="2159.85" width="9.11" height="309.75" fill="#9E9E9E"/>
<rect x="749.94" y="2161.31" width="9.11" height="308.29" fill="#BA68C8"/>
<rect x="749.94" y="2174.85" width="9.11" height="294.75" fill="#64B5F6"/>
<rect x="762.96" y="2103.9" width="9.11" height="365.7" fill="#F44336"/>
<rect x="762.96" y="2136.45" width="9.11" height="333.15" fill="#2196F3"/>
<rect x="762.96" y="2147.78" width="9.11" height="321.82" fill="#E91E63"/>
<rect x="762.96" y="2152.17" width="9.11" height="317.43" fill="#00BCD4"/>
<rect x="762.96" y="2159.12" width="9.11" height="310.48" fill="#FFC107"/>
<rect x="762.96" y="2164.24" width="9.11" height="305.36" fill="#795548"/>
<rect x="762.96" y="2165.7" width="9.11" height="303.9" fill="#BA68C8"/>
<rect x="762.96" y="2174.85" width="9.11" height="294.75" fill="#64B5F6"/>
<rect x="775.98" y="2103.9" width="9.11" height="365.7" fill="#F44336"/>
<rect x="775.98" y="2108.29" width="9.11" height="361.31" fill="#2196F3"/>
<rect x="775.98" y="2143.76" width="9.11" height="325.84" fill="#9C27B0"/>
<rect x="775.98" y="2178.5" width="9.11" height="291.1" fill="#03A9F4"/>
<rect x="775.98" y="2195.32" width="9.11" height="274.28" fill="#FFEB3B"/>
<rect x="775.98" y="2197.52" width="9.11" height="272.08" fill="#FF5722"/>
<rect x="775.98" y="2206.3" width="9.11" height="263.3" fill="#9E9E9E"/>
<rect x="775.98" y="2212.51" width="9.11" height="257.09" fill="#BA68C8"/>
<rect x="775.98" y="2216.9" width="9.11" height="252.7" fill="#64B5F6"/>
<rect x="789" y="2103.9" width="9.11" height="365.7" fill="#F44336"/>
<rect x="789" y="2121.82" width="9.11" height="347.78" fill="#03A9F4"/>
<rect x="789" y="2130.96" width="9.11" height="338.64" fill="#FFEB3B"/>
<rect x="789" y="2132.42" width="9.11" height="337.18" fill="#FF9800"/>
<rect x="789" y="2138.64" width="9.11" height="330.96" fill="#9575CD"/>
<rect x="789" y="2160.58" width="9.11" height="309.02" fill="#64B5F6"/>
<rect x="802.02" y="2103.9" width="9.11" height="365.7" fill="#F44336"/>
<rect x="802.02" y="2173.38" width="9.11" height="296.22" fill="#E91E63"/>
<rect x="802.02" y="2180.7" width="9.11" height="288.9" fill="#009688"/>
<rect x="802.02" y="2185.45" width="9.11" height="284.15" fill="#8BC34A"/>
<rect x="802.02" y="2207.03" width="9.11" height="262.57" fill="#FFC107"/>
<rect x="802.02" y="2234.45" width="9.11" height="235.15" fill="#795548"/>
<rect x="802.02" y="2238.11" width="9.11" height="231.49" fill="#E57373"/>
<rect x="802.02" y="2267.37" width="9.11" height="202.23" fill="#64B5F6"/>
<rect x="815.04" y="2103.9" width="9.11" height="365.7" fill="#00BCD4"/>
<rect x="815.04" y="2176.31" width="9.11" height="293.29" fill="#FF5722"/>
<rect x="815.04" y="2184.72" width="9.11" height="284.88" fill="#64B5F6"/>
<rect x="828.07" y="2103.9" width="9.11" height="365.7" fill="#F44336"/>
<rect x="828.07" y="2113.04" width="9.11" height="356.56" fill="#673AB7"/>
<rect x="828.07" y="2134.98" width="9.11" height="334.62" fill="#03A9F4"/>
<rect x="828.07" y="2171.92" width="9.11" height="297.68" fill="#FFEB3B"/>
<rect x="828.07" y="2177.04" width="9.11" height="292.56" fill="#607D8B"/>
<rect x="828.07" y="2188.38" width="9.11" height="281.22" fill="#64B5F6"/>
<rect x="841.09" y="2103.9" width="9.11" height="365.7" fill="#2196F3"/>
<rect x="841.09" y="2136.45" width="9.11" height="333.15" fill="#FFEB3B"/>
<rect x="841.09" y="2138.64" width="9.11" height="330.96" fill="#FF5722"/>
<rect x="841.09" y="2143.03" width="9.11" height="326.57" fill="#455A64"/>
<rect x="841.09" y="2154.37" width="9.11" height="315.23" fill="#F06292"/>
<rect x="841.09" y="2184.72" width="9.11" height="284.88" fill="#7986CB"/>
<rect x="841.09" y="2202.64" width="9.11" height="266.96" fill="#64B5F6"/>
<rect x="854.11" y="2103.9" width="9.11" height="365.7" fill="#F44336"/>
<rect x="854.11" y="2108.29" width="9.11" height="361.31" fill="#2196F3"/>
<rect x="854.11" y="2167.9" width="9.11" height="301.7" fill="#9C27B0"/>
<rect x="854.11" y="2216.9" width="9.11" height="252.7" fill="#CDDC39"/>
<rect x="854.11" y="2224.58" width="9.11" height="245.02" fill="#FF5722"/>
<rect x="854.11" y="2230.8" width="9.11" height="238.8" fill="#607D8B"/>
<rect x="854.11" y="2234.45" width="9.11" height="235.15" fill="#64B5F6"/>
<rect x="867.13" y="2103.9" width="9.11" height="365.7" fill="#2196F3"/>
<rect x="867.13" y="2125.11" width="9.11" height="344.49" fill="#673AB7"/>
<rect x="867.13" y="2128.04" width="9.11" height="341.56" fill="#FFC107"/>
<rect x="867.13" y="2131.69" width="9.11" height="337.91" fill="#607D8B"/>
<rect x="867.13" y="2140.1" width="9.11" height="329.5" fill="#9575CD"/>
<rect x="867.13" y="2158.02" width="9.11" height="311.58" fill="#64B5F6"/>
<rect x="82.6" y="2103.9" width="796.9" height="365.7" fill="none" stroke="#a4a4b4" stroke-width="0.9"/>
<line x1="79.9" y1="2469.6" x2="82.6" y2="2469.6" stroke="#444" stroke-width="0.7"/>
<text x="78.4" y="2472.7" text-anchor="end" font-size="9.4" fill="#1e1e1e">0.00</text>
<line x1="79.9" y1="2378.18" x2="82.6" y2="2378.18" stroke="#444" stroke-width="0.7"/>
<text x="78.4" y="2381.28" text-anchor="end" font-size="9.4" fill="#1e1e1e">0.25</text>
<line x1="79.9" y1="2286.75" x2="82.6" y2="2286.75" stroke="#444" stroke-width="0.7"/>
<text x="78.4" y="2289.85" text-anchor="end" font-size="9.4" fill="#1e1e1e">0.50</text>
<line x1="79.9" y1="2195.32" x2="82.6" y2="2195.32" stroke="#444" stroke-width="0.7"/>
<text x="78.4" y="2198.42" text-anchor="end" font-size="9.4" fill="#1e1e1e">0.75</text>
<line x1="79.9" y1="2103.9" x2="82.6" y2="2103.9" stroke="#444" stroke-width="0.7"/>
<text x="78.4" y="2107" text-anchor="end" font-size="9.4" fill="#1e1e1e">1.00</text>
<line x1="90.41" y1="2469.6" x2="90.41" y2="2472.3" stroke="#444" stroke-width="0.7"/>
<line x1="103.43" y1="2469.6" x2="103.43" y2="2472.3" stroke="#444" stroke-width="0.7"/>
<line x1="116.46" y1="2469.6" x2="116.46" y2="2472.3" stroke="#444" stroke-width="0.7"/>
<line x1="129.48" y1="2469.6" x2="129.48" y2="2472.3" stroke="#444" stroke-width="0.7"/>
<line x1="142.5" y1="2469.6" x2="142.5" y2="2472.3" stroke="#444" stroke-width="0.7"/>
<line x1="155.52" y1="2469.6" x2="155.52" y2="2472.3" stroke="#444" stroke-width="0.7"/>
<line x1="168.54" y1="2469.6" x2="168.54" y2="2472.3" stroke="#444" stroke-width="0.7"/>
<line x1="181.56" y1="2469.6" x2="181.56" y2="2472.3" stroke="#444" stroke-width="0.7"/>
<line x1="194.58" y1="2469.6" x2="194.58" y2="2472.3" stroke="#444" stroke-width="0.7"/>
<line x1="207.6" y1="2469.6" x2="207.6" y2="2472.3" stroke="#444" stroke-width="0.7"/>
<line x1="220.63" y1="2469.6" x2="220.63" y2="2472.3" stroke="#444" stroke-width="0.7"/>
<line x1="233.65" y1="2469.6" x2="233.65" y2="2472.3" stroke="#444" stroke-width="0.7"/>
<line x1="246.67" y1="2469.6" x2="246.67" y2="2472.3" stroke="#444" stroke-width="0.7"/>
<line x1="259.69" y1="2469.6" x2="259.69" y2="2472.3" stroke="#444" stroke-width="0.7"/>
<line x1="272.71" y1="2469.6" x2="272.71" y2="2472.3" stroke="#444" stroke-width="0.7"/>
<line x1="285.73" y1="2469.6" x2="285.73" y2="2472.3" stroke="#444" stroke-width="0.7"/>
<line x1="298.75" y1="2469.6" x2="298.75" y2="2472.3" stroke="#444" stroke-width="0.7"/>
<line x1="311.77" y1="2469.6" x2="311.77" y2="2472.3" stroke="#444" stroke-width="0.7"/>
<line x1="324.8" y1="2469.6" x2="324.8" y2="2472.3" stroke="#444" stroke-width="0.7"/>
<line x1="337.82" y1="2469.6" x2="337.82" y2="2472.3" stroke="#444" stroke-width="0.7"/>
<line x1="350.84" y1="2469.6" x2="350.84" y2="2472.3" stroke="#444" stroke-width="0.7"/>
<line x1="363.86" y1="2469.6" x2="363.86" y2="2472.3" stroke="#444" stroke-width="0.7"/>
<line x1="376.88" y1="2469.6" x2="376.88" y2="2472.3" stroke="#444" stroke-width="0.7"/>
<line x1="389.9" y1="2469.6" x2="389.9" y2="2472.3" stroke="#444" stroke-width="0.7"/>
<line x1="402.92" y1="2469.6" x2="402.92" y2="2472.3" stroke="#444" stroke-width="0.7"/>
<line x1="415.94" y1="2469.6" x2="415.94" y2="2472.3" stroke="#444" stroke-width="0.7"/>
<line x1="428.97" y1="2469.6" x2="428.97" y2="2472.3" stroke="#444" stroke-width="0.7"/>
<line x1="441.99" y1="2469.6" x2="441.99" y2="2472.3" stroke="#444" stroke-width="0.7"/>
<line x1="455.01" y1="2469.6" x2="455.01" y2="2472.3" stroke="#444" stroke-width="0.7"/>
<line x1="468.03" y1="2469.6" x2="468.03" y2="2472.3" stroke="#444" stroke-width="0.7"/>
<line x1="481.05" y1="2469.6" x2="481.05" y2="2472.3" stroke="#444" stroke-width="0.7"/>
<line x1="494.07" y1="2469.6" x2="494.07" y2="2472.3" stroke="#444" stroke-width="0.7"/>
<line x1="507.09" y1="2469.6" x2="507.09" y2="2472.3" stroke="#444" stroke-width="0.7"/>
<line x1="520.11" y1="2469.6" x2="520.11" y2="2472.3" stroke="#444" stroke-width="0.7"/>
<line x1="533.13" y1="2469.6" x2="533.13" y2="2472.3" stroke="#444" stroke-width="0.7"/>
<line x1="546.16" y1="2469.6" x2="546.16" y2="2472.3" stroke="#444" stroke-width="0.7"/>
<line x1="559.18" y1="2469.6" x2="559.18" y2="2472.3" stroke="#444" stroke-width="0.7"/>
<line x1="572.2" y1="2469.6" x2="572.2" y2="2472.3" stroke="#444" stroke-width="0.7"/>
<line x1="585.22" y1="2469.6" x2="585.22" y2="2472.3" stroke="#444" stroke-width="0.7"/>
<line x1="598.24" y1="2469.6" x2="598.24" y2="2472.3" stroke="#444" stroke-width="0.7"/>
<line x1="611.26" y1="2469.6" x2="611.26" y2="2472.3" stroke="#444" stroke-width="0.7"/>
<line x1="624.28" y1="2469.6" x2="624.28" y2="2472.3" stroke="#444" stroke-width="0.7"/>
<line x1="637.3" y1="2469.6" x2="637.3" y2="2472.3" stroke="#444" stroke-width="0.7"/>
<line x1="650.33" y1="2469.6" x2="650.33" y2="2472.3" stroke="#444" stroke-width="0.7"/>
<line x1="663.35" y1="2469.6" x2="663.35" y2="2472.3" stroke="#444" stroke-width="0.7"/>
<line x1="676.37" y1="2469.6" x2="676.37" y2="2472.3" stroke="#444" stroke-width="0.7"/>
<line x1="689.39" y1="2469.6" x2="689.39" y2="2472.3" stroke="#444" stroke-width="0.7"/>
<line x1="702.41" y1="2469.6" x2="702.41" y2="2472.3" stroke="#444" stroke-width="0.7"/>
<line x1="715.43" y1="2469.6" x2="715.43" y2="2472.3" stroke="#444" stroke-width="0.7"/>
<line x1="728.45" y1="2469.6" x2="728.45" y2="2472.3" stroke="#444" stroke-width="0.7"/>
<line x1="741.47" y1="2469.6" x2="741.47" y2="2472.3" stroke="#444" stroke-width="0.7"/>
<line x1="754.5" y1="2469.6" x2="754.5" y2="2472.3" stroke="#444" stroke-width="0.7"/>
<line x1="767.52" y1="2469.6" x2="767.52" y2="2472.3" stroke="#444" stroke-width="0.7"/>
<line x1="780.54" y1="2469.6" x2="780.54" y2="2472.3" stroke="#444" stroke-width="0.7"/>
<line x1="793.56" y1="2469.6" x2="793.56" y2="2472.3" stroke="#444" stroke-width="0.7"/>
<line x1="806.58" y1="2469.6" x2="806.58" y2="2472.3" stroke="#444" stroke-width="0.7"/>
<line x1="819.6" y1="2469.6" x2="819.6" y2="2472.3" stroke="#444" stroke-width="0.7"/>
<line x1="832.62" y1="2469.6" x2="832.62" y2="2472.3" stroke="#444" stroke-width="0.7"/>
<line x1="845.64" y1="2469.6" x2="845.64" y2="2472.3" stroke="#444" stroke-width="0.7"/>
<line x1="858.67" y1="2469.6" x2="858.67" y2="2472.3" stroke="#444" stroke-width="0.7"/>
<line x1="871.69" y1="2469.6" x2="871.69" y2="2472.3" stroke="#444" stroke-width="0.7"/>
<text x="57.9" y="2286.75" text-anchor="middle" font-size="9.7" fill="#1e1e1e" transform="rotate(-90 57.9 2286.75)">Relative Abundance</text>
<rect x="85.86" y="2475" width="256.52" height="14.3" fill="#c6c6c6"/>
<text x="219.4" y="2485.75" text-anchor="middle" font-size="9.5" fill="#1e1e1e">PCOS-NIR</text>
<rect x="346.28" y="2475" width="139.33" height="14.3" fill="#c6c6c6"/>
<text x="418.5" y="2485.75" text-anchor="middle" font-size="9.5" fill="#1e1e1e">PCOS-NIR treated</text>
<rect x="489.51" y="2475" width="256.52" height="14.3" fill="#c6c6c6"/>
<text x="622.3" y="2485.75" text-anchor="middle" font-size="9.5" fill="#1e1e1e">PCOS-IR</text>
<rect x="749.94" y="2475" width="126.31" height="14.3" fill="#c6c6c6"/>
<text x="808" y="2485.75" text-anchor="middle" font-size="9.5" fill="#1e1e1e">PCOS-IR treated</text>
<text x="893.5" y="2116.9" font-size="9.8" fill="#1e1e1e">taxon</text>
<rect x="894" y="2122.9" width="12.8" height="12.5" fill="#F44336"/>
<text x="912.3" y="2132.35" font-size="9.8" fill="#1e1e1e">g__Ruminococcus_s__Ruminococcus_bicirculans</text>
<rect x="894" y="2136.9" width="12.8" height="12.5" fill="#2196F3"/>
<text x="912.3" y="2146.35" font-size="9.8" fill="#1e1e1e">g__Clostridia_UCG−014_s__unidentified</text>
<rect x="894" y="2150.9" width="12.8" height="12.5" fill="#E91E63"/>
<text x="912.3" y="2160.35" font-size="9.8" fill="#1e1e1e">g__Christensenellaceae_R−7_group_s__uncultured_marine</text>
<rect x="894" y="2164.9" width="12.8" height="12.5" fill="#9C27B0"/>
<text x="912.3" y="2174.35" font-size="9.8" fill="#1e1e1e">g__Faecalibaculum_s__uncultured_bacterium</text>
<rect x="894" y="2178.9" width="12.8" height="12.5" fill="#673AB7"/>
<text x="912.3" y="2188.35" font-size="9.8" fill="#1e1e1e">g__Anaeroglobus_s__Anaeroglobus_geminatus</text>
<rect x="894" y="2192.9" width="12.8" height="12.5" fill="#3F51B5"/>
<text x="912.3" y="2202.35" font-size="9.8" fill="#1e1e1e">g__[Eubacterium]_nodatum_group_s__Eubacterium_sp.</text>
<rect x="894" y="2206.9" width="12.8" height="12.5" fill="#03A9F4"/>
<text x="912.3" y="2216.35" font-size="9.8" fill="#1e1e1e">g__YC−ZSS−LKJ147_s__uncultured_bacterium</text>
<rect x="894" y="2220.9" width="12.8" height="12.5" fill="#00BCD4"/>
<text x="912.3" y="2230.35" font-size="9.8" fill="#1e1e1e">g__Bacteroides_s__Bacteroides_coprocola</text>
<rect x="894" y="2234.9" width="12.8" height="12.5" fill="#009688"/>
<text x="912.3" y="2244.35" font-size="9.8" fill="#1e1e1e">g__Defluviitaleaceae_UCG−011_s__uncultured_bacterium</text>
<rect x="894" y="2248.9" width="12.8" height="12.5" fill="#4CAF50"/>
<text x="912.3" y="2258.35" font-size="9.8" fill="#1e1e1e">g__Lachnospiraceae_NK4A136_group_s__uncultured_organism</text>
<rect x="894" y="2262.9" width="12.8" height="12.5" fill="#8BC34A"/>
<text x="912.3" y="2272.35" font-size="9.8" fill="#1e1e1e">g__[Eubacterium]_coprostanoligenes_group_s__human_gut</text>
<rect x="894" y="2276.9" width="12.8" height="12.5" fill="#CDDC39"/>
<text x="912.3" y="2286.35" font-size="9.8" fill="#1e1e1e">g__Veillonella_s__Veillonella_magna</text>
<rect x="894" y="2290.9" width="12.8" height="12.5" fill="#FFEB3B"/>
<text x="912.3" y="2300.35" font-size="9.8" fill="#1e1e1e">g__Phascolarctobacterium_s__Ruminococcus_sp.</text>
<rect x="894" y="2304.9" width="12.8" height="12.5" fill="#FFC107"/>
<text x="912.3" y="2314.35" font-size="9.8" fill="#1e1e1e">g__Faecalibacterium_s__uncultured_bacterium</text>
<rect x="894" y="2318.9" width="12.8" height="12.5" fill="#FF9800"/>
<text x="912.3" y="2328.35" font-size="9.8" fill="#1e1e1e">g__Sutterella_s__gut_metagenome</text>
<rect x="894" y="2332.9" width="12.8" height="12.5" fill="#FF5722"/>
<text x="912.3" y="2342.35" font-size="9.8" fill="#1e1e1e">g__Clostridia_UCG−014_s__uncultured_bacterium</text>
<rect x="894" y="2346.9" width="12.8" height="12.5" fill="#795548"/>
<text x="912.3" y="2356.35" font-size="9.8" fill="#1e1e1e">g__TM7x_s__uncultured_bacterium</text>
<rect x="894" y="2360.9" width="12.8" height="12.5" fill="#9E9E9E"/>
<text x="912.3" y="2370.35" font-size="9.8" fill="#1e1e1e">g__Alistipes_s__uncultured_bacterium</text>
<rect x="894" y="2374.9" width="12.8" height="12.5" fill="#607D8B"/>
<text x="912.3" y="2384.35" font-size="9.8" fill="#1e1e1e">g__Bacteroides_s__uncultured_bacterium</text>
<rect x="894" y="2388.9" width="12.8" height="12.5" fill="#455A64"/>
<text x="912.3" y="2398.35" font-size="9.8" fill="#1e1e1e">g__UCG−002_s__uncultured_bacterium</text>
<rect x="894" y="2402.9" width="12.8" height="12.5" fill="#E57373"/>
<text x="912.3" y="2412.35" font-size="9.8" fill="#1e1e1e">g__UCG−005_s__uncultured_organism</text>
<rect x="894" y="2416.9" width="12.8" height="12.5" fill="#F06292"/>
<text x="912.3" y="2426.35" font-size="9.8" fill="#1e1e1e">g__Lachnospiraceae_ND3007_group_s__uncultured_bacterium</text>
<rect x="894" y="2430.9" width="12.8" height="12.5" fill="#BA68C8"/>
<text x="912.3" y="2440.35" font-size="9.8" fill="#1e1e1e">g__Fusobacterium_s__Fusobacterium_mortiferum</text>
<rect x="894" y="2444.9" width="12.8" height="12.5" fill="#9575CD"/>
<text x="912.3" y="2454.35" font-size="9.8" fill="#1e1e1e">g__Turicibacter_s__uncultured_bacterium</text>
<rect x="894" y="2458.9" width="12.8" height="12.5" fill="#7986CB"/>
<text x="912.3" y="2468.35" font-size="9.8" fill="#1e1e1e">g__Butyricimonas_s__Butyricimonas_synergistica</text>
<rect x="894" y="2472.9" width="12.8" height="12.5" fill="#64B5F6"/>
<text x="912.3" y="2482.35" font-size="9.8" fill="#1e1e1e">Others</text>
<text x="3.8" y="2102.2" font-family='"Liberation Sans", sans-serif' font-weight="bold" font-size="33.6" fill="#000">F</text>
</svg>
</body></html>
